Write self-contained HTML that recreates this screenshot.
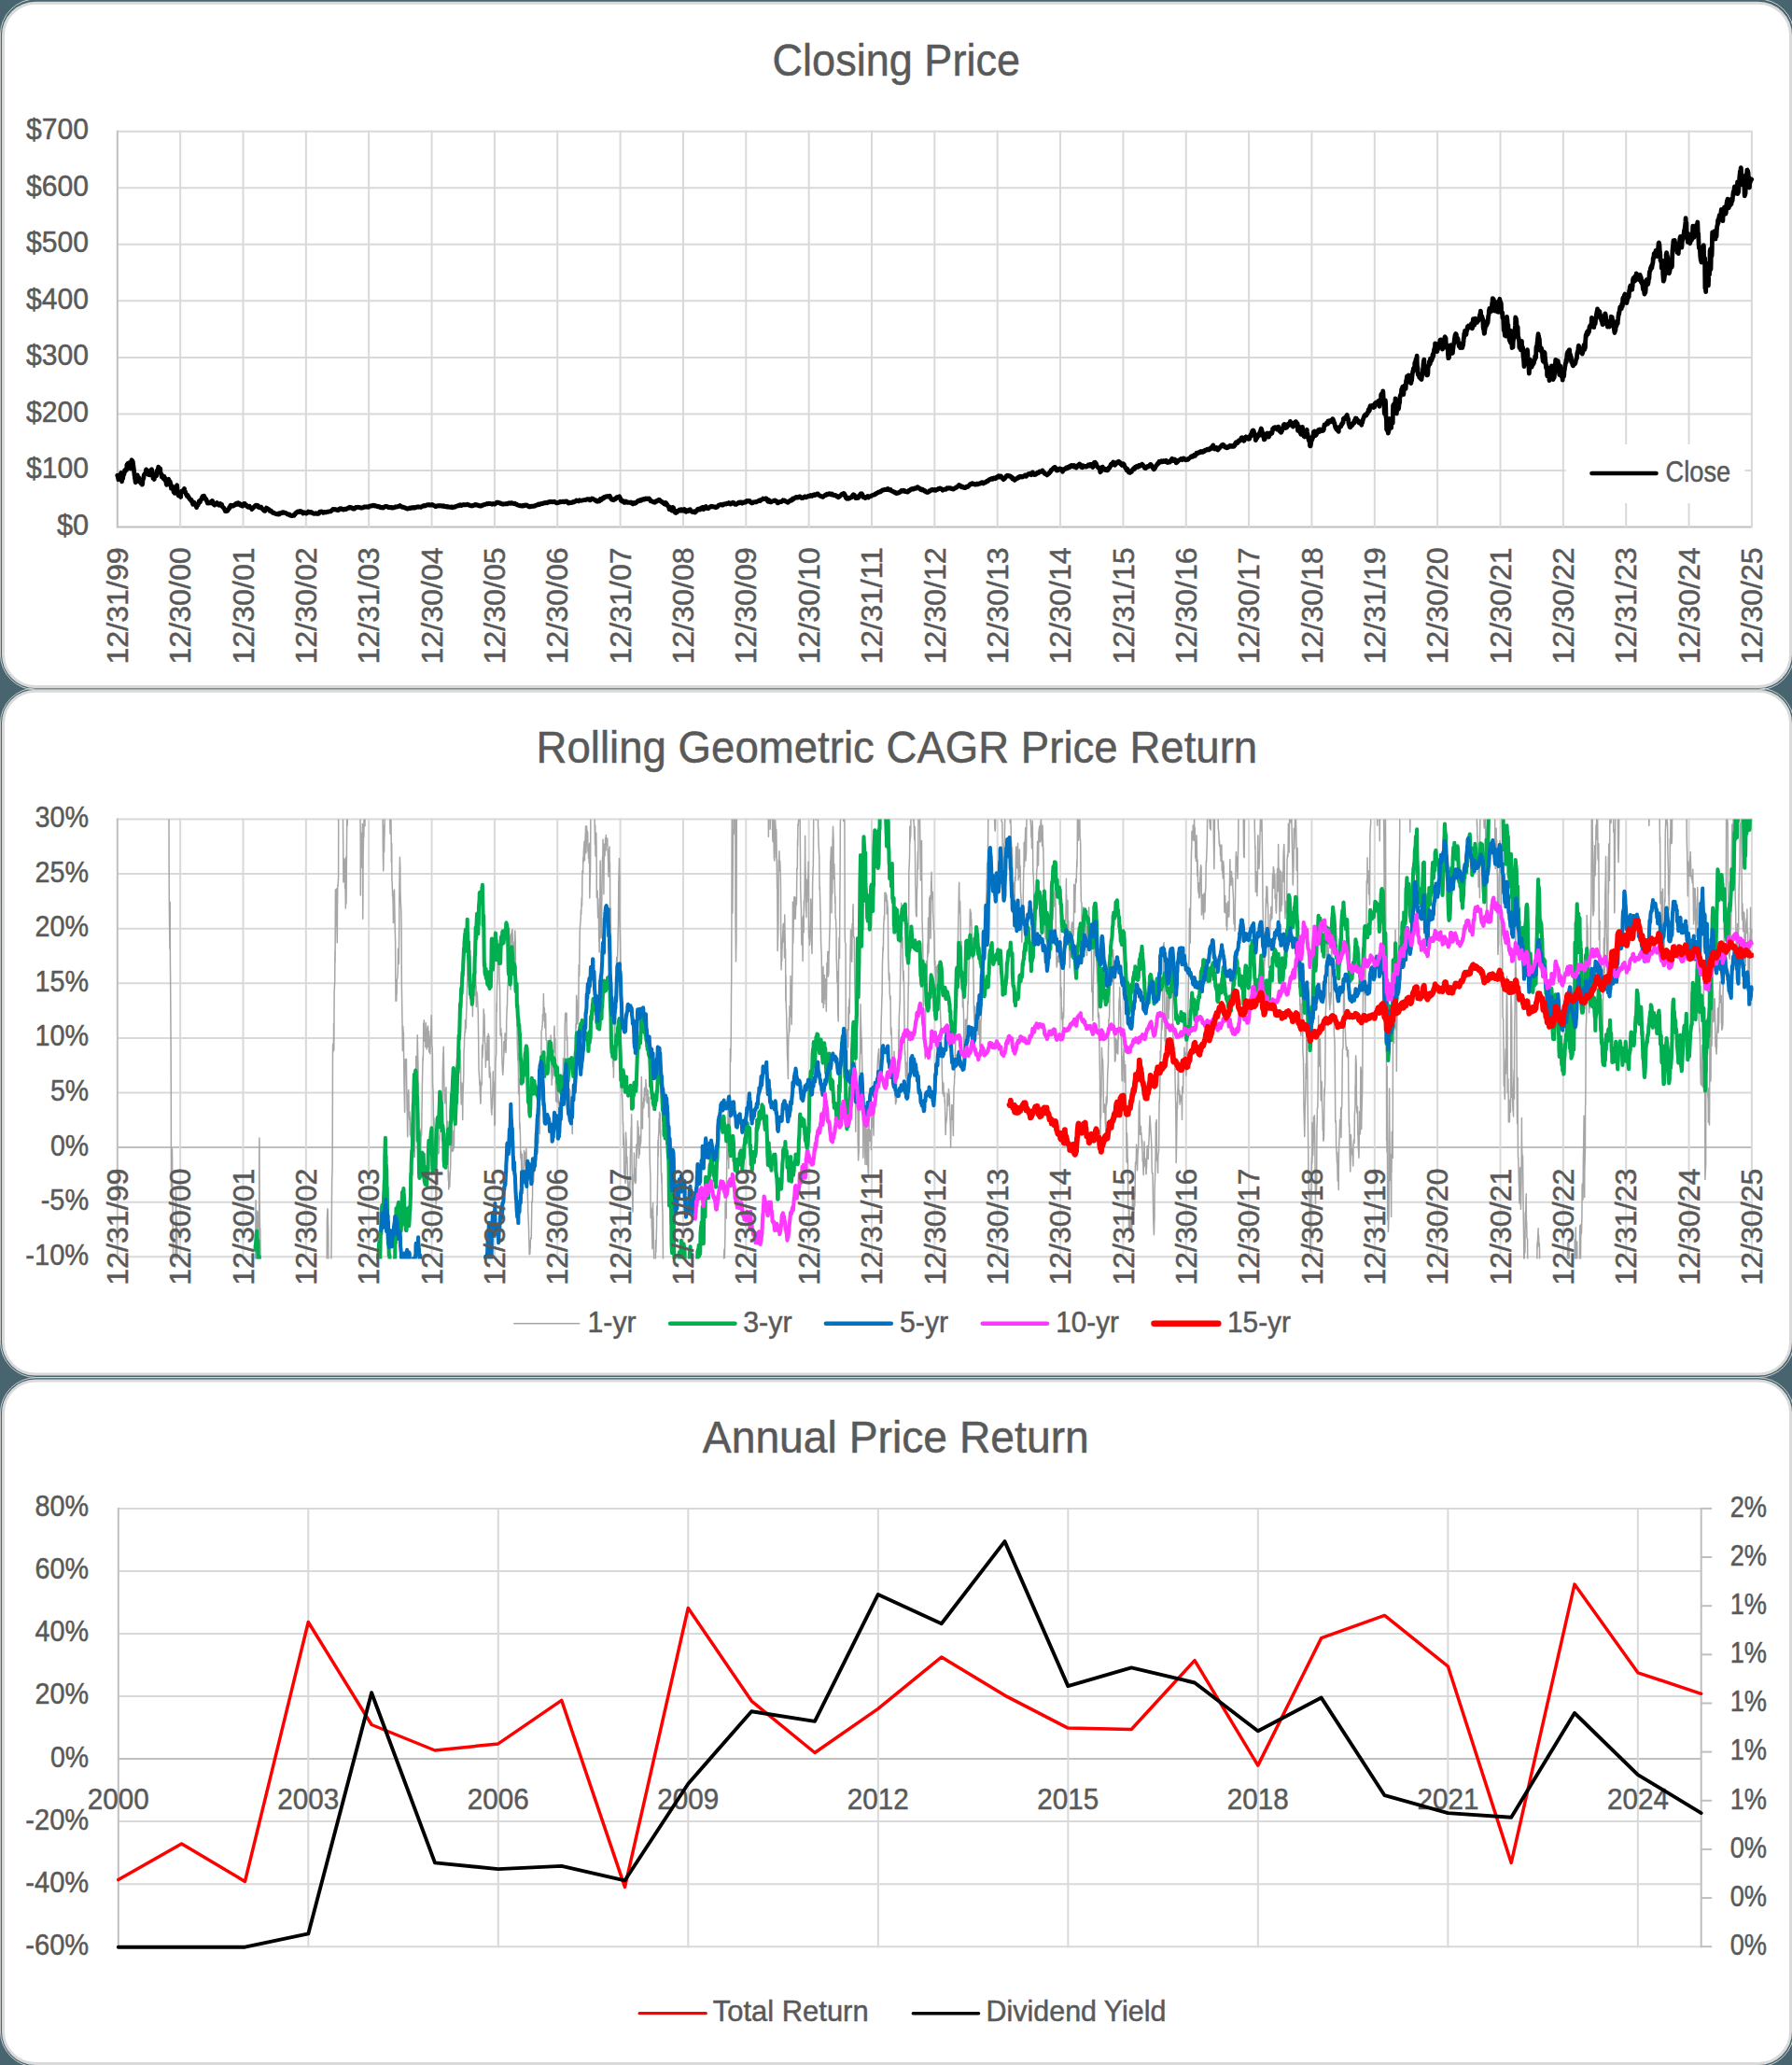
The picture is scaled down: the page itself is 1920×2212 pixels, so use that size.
<!DOCTYPE html>
<html><head><meta charset="utf-8"><title>Charts</title>
<style>html,body{margin:0;padding:0;background:#48656F;}body{width:1920px;height:2212px;overflow:hidden}</style></head>
<body>
<svg width="1920" height="2212" viewBox="0 0 1920 2212" style="display:block;font-family:'Liberation Sans', sans-serif">
<rect width="1920" height="2212" fill="#48656F"/>
<rect x="0.45" y="-1.0" width="1921.6" height="739.9" rx="38" ry="38" fill="none" stroke="#D9D9D9" stroke-width="0.9"/>
<rect x="0.45" y="736.9" width="1921.6" height="738.6" rx="38" ry="38" fill="none" stroke="#D9D9D9" stroke-width="0.9"/>
<rect x="0.45" y="1475.7" width="1921.6" height="738.2" rx="38" ry="38" fill="none" stroke="#D9D9D9" stroke-width="0.9"/>
<rect x="3.5" y="3.3" width="1915.0" height="732.2" rx="34.5" ry="34.5" fill="#fff" stroke="#D9D9D9" stroke-width="3"/>
<rect x="3.5" y="740.3" width="1915.0" height="731.8" rx="34.5" ry="34.5" fill="#fff" stroke="#D9D9D9" stroke-width="3"/>
<rect x="3.5" y="1479.1" width="1915.0" height="731.4" rx="34.5" ry="34.5" fill="#fff" stroke="#D9D9D9" stroke-width="3"/>
<line x1="125.80" y1="140.70" x2="1876.90" y2="140.70" stroke="#D9D9D9" stroke-width="2"/>
<line x1="125.80" y1="201.26" x2="1876.90" y2="201.26" stroke="#D9D9D9" stroke-width="2"/>
<line x1="125.80" y1="261.81" x2="1876.90" y2="261.81" stroke="#D9D9D9" stroke-width="2"/>
<line x1="125.80" y1="322.37" x2="1876.90" y2="322.37" stroke="#D9D9D9" stroke-width="2"/>
<line x1="125.80" y1="382.93" x2="1876.90" y2="382.93" stroke="#D9D9D9" stroke-width="2"/>
<line x1="125.80" y1="443.49" x2="1876.90" y2="443.49" stroke="#D9D9D9" stroke-width="2"/>
<line x1="125.80" y1="504.04" x2="1876.90" y2="504.04" stroke="#D9D9D9" stroke-width="2"/>
<line x1="125.80" y1="564.60" x2="1876.90" y2="564.60" stroke="#BFBFBF" stroke-width="2"/>
<line x1="125.80" y1="139.70" x2="125.80" y2="565.60" stroke="#BFBFBF" stroke-width="2"/>
<line x1="193.15" y1="139.70" x2="193.15" y2="565.60" stroke="#D9D9D9" stroke-width="2"/>
<line x1="260.50" y1="139.70" x2="260.50" y2="565.60" stroke="#D9D9D9" stroke-width="2"/>
<line x1="327.85" y1="139.70" x2="327.85" y2="565.60" stroke="#D9D9D9" stroke-width="2"/>
<line x1="395.20" y1="139.70" x2="395.20" y2="565.60" stroke="#D9D9D9" stroke-width="2"/>
<line x1="462.55" y1="139.70" x2="462.55" y2="565.60" stroke="#D9D9D9" stroke-width="2"/>
<line x1="529.90" y1="139.70" x2="529.90" y2="565.60" stroke="#D9D9D9" stroke-width="2"/>
<line x1="597.25" y1="139.70" x2="597.25" y2="565.60" stroke="#D9D9D9" stroke-width="2"/>
<line x1="664.60" y1="139.70" x2="664.60" y2="565.60" stroke="#D9D9D9" stroke-width="2"/>
<line x1="731.95" y1="139.70" x2="731.95" y2="565.60" stroke="#D9D9D9" stroke-width="2"/>
<line x1="799.30" y1="139.70" x2="799.30" y2="565.60" stroke="#D9D9D9" stroke-width="2"/>
<line x1="866.65" y1="139.70" x2="866.65" y2="565.60" stroke="#D9D9D9" stroke-width="2"/>
<line x1="934.00" y1="139.70" x2="934.00" y2="565.60" stroke="#D9D9D9" stroke-width="2"/>
<line x1="1001.35" y1="139.70" x2="1001.35" y2="565.60" stroke="#D9D9D9" stroke-width="2"/>
<line x1="1068.70" y1="139.70" x2="1068.70" y2="565.60" stroke="#D9D9D9" stroke-width="2"/>
<line x1="1136.05" y1="139.70" x2="1136.05" y2="565.60" stroke="#D9D9D9" stroke-width="2"/>
<line x1="1203.40" y1="139.70" x2="1203.40" y2="565.60" stroke="#D9D9D9" stroke-width="2"/>
<line x1="1270.75" y1="139.70" x2="1270.75" y2="565.60" stroke="#D9D9D9" stroke-width="2"/>
<line x1="1338.10" y1="139.70" x2="1338.10" y2="565.60" stroke="#D9D9D9" stroke-width="2"/>
<line x1="1405.45" y1="139.70" x2="1405.45" y2="565.60" stroke="#D9D9D9" stroke-width="2"/>
<line x1="1472.80" y1="139.70" x2="1472.80" y2="565.60" stroke="#D9D9D9" stroke-width="2"/>
<line x1="1540.15" y1="139.70" x2="1540.15" y2="565.60" stroke="#D9D9D9" stroke-width="2"/>
<line x1="1607.50" y1="139.70" x2="1607.50" y2="565.60" stroke="#D9D9D9" stroke-width="2"/>
<line x1="1674.85" y1="139.70" x2="1674.85" y2="565.60" stroke="#D9D9D9" stroke-width="2"/>
<line x1="1742.20" y1="139.70" x2="1742.20" y2="565.60" stroke="#D9D9D9" stroke-width="2"/>
<line x1="1809.55" y1="139.70" x2="1809.55" y2="565.60" stroke="#D9D9D9" stroke-width="2"/>
<line x1="1876.90" y1="139.70" x2="1876.90" y2="565.60" stroke="#D9D9D9" stroke-width="2"/>
<text x="95.1" y="149.1" font-size="32" text-anchor="end" fill="#595959" stroke="#595959" stroke-width="0.5" textLength="67.0" lengthAdjust="spacingAndGlyphs">$700</text>
<text x="95.1" y="209.7" font-size="32" text-anchor="end" fill="#595959" stroke="#595959" stroke-width="0.5" textLength="67.0" lengthAdjust="spacingAndGlyphs">$600</text>
<text x="95.1" y="270.2" font-size="32" text-anchor="end" fill="#595959" stroke="#595959" stroke-width="0.5" textLength="67.0" lengthAdjust="spacingAndGlyphs">$500</text>
<text x="95.1" y="330.8" font-size="32" text-anchor="end" fill="#595959" stroke="#595959" stroke-width="0.5" textLength="67.0" lengthAdjust="spacingAndGlyphs">$400</text>
<text x="95.1" y="391.3" font-size="32" text-anchor="end" fill="#595959" stroke="#595959" stroke-width="0.5" textLength="67.0" lengthAdjust="spacingAndGlyphs">$300</text>
<text x="95.1" y="451.9" font-size="32" text-anchor="end" fill="#595959" stroke="#595959" stroke-width="0.5" textLength="67.0" lengthAdjust="spacingAndGlyphs">$200</text>
<text x="95.1" y="512.4" font-size="32" text-anchor="end" fill="#595959" stroke="#595959" stroke-width="0.5" textLength="67.0" lengthAdjust="spacingAndGlyphs">$100</text>
<text x="95.1" y="573.0" font-size="32" text-anchor="end" fill="#595959" stroke="#595959" stroke-width="0.5" textLength="34.2" lengthAdjust="spacingAndGlyphs">$0</text>
<text x="137.0" y="711.6" font-size="32" text-anchor="start" fill="#595959" stroke="#595959" stroke-width="0.5" textLength="125.3" lengthAdjust="spacingAndGlyphs" transform="rotate(-90 137.0 711.6)">12/31/99</text>
<text x="204.3" y="711.6" font-size="32" text-anchor="start" fill="#595959" stroke="#595959" stroke-width="0.5" textLength="125.3" lengthAdjust="spacingAndGlyphs" transform="rotate(-90 204.3 711.6)">12/30/00</text>
<text x="271.7" y="711.6" font-size="32" text-anchor="start" fill="#595959" stroke="#595959" stroke-width="0.5" textLength="125.3" lengthAdjust="spacingAndGlyphs" transform="rotate(-90 271.7 711.6)">12/30/01</text>
<text x="339.1" y="711.6" font-size="32" text-anchor="start" fill="#595959" stroke="#595959" stroke-width="0.5" textLength="125.3" lengthAdjust="spacingAndGlyphs" transform="rotate(-90 339.1 711.6)">12/30/02</text>
<text x="406.4" y="711.6" font-size="32" text-anchor="start" fill="#595959" stroke="#595959" stroke-width="0.5" textLength="125.3" lengthAdjust="spacingAndGlyphs" transform="rotate(-90 406.4 711.6)">12/31/03</text>
<text x="473.8" y="711.6" font-size="32" text-anchor="start" fill="#595959" stroke="#595959" stroke-width="0.5" textLength="125.3" lengthAdjust="spacingAndGlyphs" transform="rotate(-90 473.8 711.6)">12/30/04</text>
<text x="541.1" y="711.6" font-size="32" text-anchor="start" fill="#595959" stroke="#595959" stroke-width="0.5" textLength="125.3" lengthAdjust="spacingAndGlyphs" transform="rotate(-90 541.1 711.6)">12/30/05</text>
<text x="608.5" y="711.6" font-size="32" text-anchor="start" fill="#595959" stroke="#595959" stroke-width="0.5" textLength="125.3" lengthAdjust="spacingAndGlyphs" transform="rotate(-90 608.5 711.6)">12/30/06</text>
<text x="675.8" y="711.6" font-size="32" text-anchor="start" fill="#595959" stroke="#595959" stroke-width="0.5" textLength="125.3" lengthAdjust="spacingAndGlyphs" transform="rotate(-90 675.8 711.6)">12/31/07</text>
<text x="743.2" y="711.6" font-size="32" text-anchor="start" fill="#595959" stroke="#595959" stroke-width="0.5" textLength="125.3" lengthAdjust="spacingAndGlyphs" transform="rotate(-90 743.2 711.6)">12/30/08</text>
<text x="810.5" y="711.6" font-size="32" text-anchor="start" fill="#595959" stroke="#595959" stroke-width="0.5" textLength="125.3" lengthAdjust="spacingAndGlyphs" transform="rotate(-90 810.5 711.6)">12/30/09</text>
<text x="877.9" y="711.6" font-size="32" text-anchor="start" fill="#595959" stroke="#595959" stroke-width="0.5" textLength="125.3" lengthAdjust="spacingAndGlyphs" transform="rotate(-90 877.9 711.6)">12/30/10</text>
<text x="945.2" y="711.6" font-size="32" text-anchor="start" fill="#595959" stroke="#595959" stroke-width="0.5" textLength="125.3" lengthAdjust="spacingAndGlyphs" transform="rotate(-90 945.2 711.6)">12/31/11</text>
<text x="1012.6" y="711.6" font-size="32" text-anchor="start" fill="#595959" stroke="#595959" stroke-width="0.5" textLength="125.3" lengthAdjust="spacingAndGlyphs" transform="rotate(-90 1012.6 711.6)">12/30/12</text>
<text x="1079.9" y="711.6" font-size="32" text-anchor="start" fill="#595959" stroke="#595959" stroke-width="0.5" textLength="125.3" lengthAdjust="spacingAndGlyphs" transform="rotate(-90 1079.9 711.6)">12/30/13</text>
<text x="1147.3" y="711.6" font-size="32" text-anchor="start" fill="#595959" stroke="#595959" stroke-width="0.5" textLength="125.3" lengthAdjust="spacingAndGlyphs" transform="rotate(-90 1147.3 711.6)">12/30/14</text>
<text x="1214.6" y="711.6" font-size="32" text-anchor="start" fill="#595959" stroke="#595959" stroke-width="0.5" textLength="125.3" lengthAdjust="spacingAndGlyphs" transform="rotate(-90 1214.6 711.6)">12/31/15</text>
<text x="1282.0" y="711.6" font-size="32" text-anchor="start" fill="#595959" stroke="#595959" stroke-width="0.5" textLength="125.3" lengthAdjust="spacingAndGlyphs" transform="rotate(-90 1282.0 711.6)">12/30/16</text>
<text x="1349.3" y="711.6" font-size="32" text-anchor="start" fill="#595959" stroke="#595959" stroke-width="0.5" textLength="125.3" lengthAdjust="spacingAndGlyphs" transform="rotate(-90 1349.3 711.6)">12/30/17</text>
<text x="1416.7" y="711.6" font-size="32" text-anchor="start" fill="#595959" stroke="#595959" stroke-width="0.5" textLength="125.3" lengthAdjust="spacingAndGlyphs" transform="rotate(-90 1416.7 711.6)">12/30/18</text>
<text x="1484.0" y="711.6" font-size="32" text-anchor="start" fill="#595959" stroke="#595959" stroke-width="0.5" textLength="125.3" lengthAdjust="spacingAndGlyphs" transform="rotate(-90 1484.0 711.6)">12/31/19</text>
<text x="1551.4" y="711.6" font-size="32" text-anchor="start" fill="#595959" stroke="#595959" stroke-width="0.5" textLength="125.3" lengthAdjust="spacingAndGlyphs" transform="rotate(-90 1551.4 711.6)">12/30/20</text>
<text x="1618.7" y="711.6" font-size="32" text-anchor="start" fill="#595959" stroke="#595959" stroke-width="0.5" textLength="125.3" lengthAdjust="spacingAndGlyphs" transform="rotate(-90 1618.7 711.6)">12/30/21</text>
<text x="1686.1" y="711.6" font-size="32" text-anchor="start" fill="#595959" stroke="#595959" stroke-width="0.5" textLength="125.3" lengthAdjust="spacingAndGlyphs" transform="rotate(-90 1686.1 711.6)">12/30/22</text>
<text x="1753.4" y="711.6" font-size="32" text-anchor="start" fill="#595959" stroke="#595959" stroke-width="0.5" textLength="125.3" lengthAdjust="spacingAndGlyphs" transform="rotate(-90 1753.4 711.6)">12/31/23</text>
<text x="1820.8" y="711.6" font-size="32" text-anchor="start" fill="#595959" stroke="#595959" stroke-width="0.5" textLength="125.3" lengthAdjust="spacingAndGlyphs" transform="rotate(-90 1820.8 711.6)">12/30/24</text>
<text x="1888.1" y="711.6" font-size="32" text-anchor="start" fill="#595959" stroke="#595959" stroke-width="0.5" textLength="125.3" lengthAdjust="spacingAndGlyphs" transform="rotate(-90 1888.1 711.6)">12/30/25</text>
<text x="960.3" y="80.7" font-size="48" text-anchor="middle" fill="#595959" stroke="#595959" stroke-width="0.5" textLength="265.5" lengthAdjust="spacingAndGlyphs">Closing Price</text>
<path d="M125.8 509.3l.6 1.6 .1 1 .2 .7 .2 1.1 .2-1.1 .5-.9 .2-.5 .2 1.2 .2-.3 .2-1.8 .5-.6 .2-.8 .2-.4 .2-1.8 .2-.2 .5 1.4 .2 3.7 .2 4.2 .2-2.4 .2-2.1 .5 .2 .2 1 .2-2.2 .2-.9 .2-.6 .5-.6 .2-.6 .2-1.7 .2-1.2 .1-.7 .6 1 .2-1.3 .2 .2 .2-.8 .1-.3 .6-.5 .2 1.4 .2-3.2 .1-2.6 .2 .6 .6-1.4 .2-.7 .1 3.8 .2-1.1 .2-.5 .6-.8 .2 1 .1-1.6 .2-1.6 .2 1.3 .6 1.3 .1 .7 .2 2.7 .2 .4 .2-2.3 .6-2.4 .1-2.2 .2-1.7 .2-.7 .2 .6 .5 .4 .2 1.5 .2-.9 .2 .9 .2 2 .5 3.2 .2 1.8 .2 1.7 .2 1.7 .2 2.4 .5 3.2 .2 1.7 .2 .5 .2 1.9 .2 1.5 .5-1.2 .2 .7 .2-1.1 .2-.3 .2-2.5 .5-1.4 .2-2.1 .2 .8 .2 1.5 .1 .2 .6 .6 .2 1.6 .2-.1 .1-1.9 .2 1.1 .6 1 .2 1.6 .2 .2 .1 1.1 .2-.6 .6 1.5 .2-.9 .1-1.2 .2 .5 .2 .1 .6 .8 .2 2.4 .1-.5 .2-.7 .2-3 .6-2.3 .1 0 .2-.3 .2-1.5 .2-2 .5-.4 .2-.8 .2 .2 .2-.2 .2-.5 .5-.1 .2-.9 .2-2.7 .2-.6 .2 .1 .5 2.5 .2-.4 .2 .2 .2-.2 .2-1 .5 .9 .2 2.9 .2 .7 .2 0 .2-.6 .5-.6 .2 .4 .2 1 .2-.7 .2-.5 .5 .7 .2-1 .2 .6 .2-2.4 .1-2.2 .6-.5 .2 .7 .2 1 .1 1.6 .2 1.4 .6 2.5 .2 2.3 .2-.5 .1-.1 .2-.1 .6 .7 .2 1.2 .1-2 .2-1.4 .2-1 .6-1.1 .2 1.4 .1 .7 .2-1.5 .2-1 .6 2.1 .1-2.4 .2-1.2 .2-2 .2 .5 .5 .2 .2 1.3 .2-4 .2 .3 .2-2.3 .5 1.1 .2-.2 .2 2.3 .2-.3 .2-.8 .5 0 .2-.2 .2 2.5 .2 1.4 .2 1.2 .5 .6 .2 1.2 .2 1.5 .2 .7 .2-.1 .5-.9 .2-.5 .2 1.6 .2-.1 .1 .8 .6 1 .2-1.3 .2 .6 .2-1.7 .1 .4 .6 1.1 .2 1.9 .2 .1 .1 1.1 .2 .2 .6 1 .2 2.1 .2 .4 .1 .4 .2-.4 .6-.5 .2 .8 .1-2 .2-1.2 .2-2.2 .6-.4 .1 1.6 .2 1.3 .2 .7 .2 1.1 .6-.6 .1-.7 .2-1.2 .2 1.3 .2 .6 .5 1.8 .2 1.8 .2 2.2 .2-1.5 .2 .1 .5 .1 .2 .3 .2 .3 .2-1.4 .2 1.7 .5 1.9 .2 1.1 .2 1.3 .2-.7 .2-.5 .5 1.1 .2 1.3 .2-.8 .2-.7 .2-1.8 .5-1.1 .2-2 .2-.4 .2 1 .1-1 .6-1.7 .2 2 .2 2.6 .2 3.1 .1 1.5 .6 1.1 .2 .3 .2 .6 .1-.2 .2-.2 .6-1.3 .2-1.6 .2 .2 .1 1.1 .2 .2 .6 2 .2 1.3 .1-5.1 .2-.6 .2-.3 .6-.5 .1 0 .2 .4 .2 .5 .2-.3 .6 0 .1-.7 .2-.4 .2 .8 .2-.6 .5-.7 .2-1.6 .2 1.5 .2 1.1 .2 .2 .5 .5 .2 .7 .2 .6 .2 1.1 .2 .4 .5 .6 .2 .1 .2 1.2 .2-.9 .2-.4 .5 .6 .2 .2 .2 1.7 .2 0 .2 .2 .5 .1 .2 .2 .2 .9 .2 .6 .1-.1 .6 .2 .2 .5 .2 .6 .2 0 .1-.6 .6 .3 .2 1.5 .2-.3 .1 .7 .2 .6 .6 .6 .2 1.2 .1 .4 .2-.8 .2 .3 .6 0 .2-.9 .1-.7 .2 .5 .2 .5 .6 1.1 .1 .5 .2-.1 .2 0 .2 .3 .6 1.1 .1 .9 .2 .7 .2-.8 .2-.9 .5-.4 .2-.7 .2 0 .2 .3 .2-1.1 .5-.7 .2-.9 .2-.3 .2-1.4 .2 .1 .5 1.3 .2-.3 .2-1.1 .2-.7 .2 .1 .5-.4 .2-1 .2-.4 .2-.2 .2-.6 .5-1.1 .2-.6 .2 .1 .2 .1 .1-.2 .6 .7 .2 .3 .2-.5 .2-1.2 .1 1.8 .6 1.1 .2-.2 .2 0 .1-.6 .2 1.2 .6 .6 .2 .4 .1-.1 .2-.3 .2 1.4 .6 .9 .2 0 .1 .6 .2 1.1 .2-.6 .6-.1 .1-.1 .2 .5 .2 .2 .2-.5 .6 .1 .1 .3 .2-.3 .2 .2 .2-.7 .5-.4 .2 .4 .2-.3 .2-.3 .2-.5 .5 .6 .2 0 .2-.6 .2-.3 .2 .8 .5 1.4 .2 1.3 .2 .1 .2 0 .2-.3 .5 .2 .2 .6 .2 .4 .2-.6 .2 0 .5-.2 .2-.3 .2-.5 .2 0 .1-.4 .6 .3 .2-.4 .2-.4 .1 .2 .2 .5 .6 .3 .2 .2 .2-.2 .1 .9 .2 .5 .6 .2 .2-1.1 .1-.2 .2 .3 .2-.1 .6-.6 .2 .5 .1 .5 .2-.2 .2 .1 .6 .1 .1 .6 .2-.5 .2 .7 .2 1.2 .5 .7 .2 .2 .2 .3 .2 0 .2 0 .5 .3 .2 .4 .2 .6 .2 .5 .2 .6 .5 .4 .2 1 .2-.2 .2 .1 .2 .1 .5-.2 .2 .2 .2 0 .2 0 .2-.3 .5-.4 .2 .2 .2-.6 .2 0 .1-.6 .6-.4 .2-.3 .2-.9 .2-.8 .1 .2 .6 .2 .2-.9 .2-.9 .1-.5 .2-.2 .6 .4 .2-.5 .2 .1 .1 .1 .2 .2 .6 0 .2 .1 .1 0 .2 .4 .2 0 .6-.7 .2 .2 .1-.2 .2-.5 .2 .4 .6-.1 .1-.5 .2-.2 .2-.1 .2-.8 .5 .3 .2-.1 .2 .2 .2-.8 .2 .9 .5 .1 .2 .1 .2-.5 .2-.5 .2-.7 .5 .7 .2-.4 .2 0 .2 0 .2 .4 .5 1 .2 .2 .2 .6 .2 .1 .2-.3 .5-.1 .2-.8 .2 .2 .2 .8 .1 .3 .6 .4 .2 .4 .2-.3 .2 .2 .1-.1 .6-.9 .2-.4 .2-.5 .1-.4 .2-.2 .6 0 .2 0 .2 0 .1 .9 .2 .2 .6 .2 .2 .1 .1 .7 .2-.7 .2 .1 .6 .7 .1 .8 .2 .1 .2 .1 .2 .3 .6-.1 .1 .3 .2-.2 .2 .3 .2 .1 .5-.4 .2-.9 .2 .9 .2 .3 .2-.1 .5 .5 .2 .2 .2 .1 .2 .4 .2 .4 .5 .1 .2 .7 .2-.5 .2-.8 .2-.2 .5 .5 .2-.2 .2-.6 .2-.5 .2-.2 .5 .1 .2-.5 .2 0 .2 .1 .1-.5 .6-.7 .2-.1 .2 .1 .2-.3 .1 .5 .6 .2 .2-.9 .2 0 .1 .5 .2 .2 .6 .1 .2-.3 .2 .5 .1 .9 .2 .2 .6 .1 .2 0 .1-.2 .2 .4 .2 .4 .6 0 .1-.7 .2 .1 .2 .2 .2 .3 .6-.4 .1 .7 .2 .4 .2 .1 .2 0 .5 .4 .2 .2 .2 .3 .2 .2 .2 .3 .5 .6 .2 .1 .2-.1 .2 .4 .2 .3 .5-.1 .2 .1 .2-.1 .2-.6 .2-1.1 .5-.9 .2-.1 .2-.4 .2 .3 .2 .2 .5 .4 .2 0 .2 .2 .2-.3 .1 .2 .6 .5 .2 .2 .2-.1 .2 .3 .1 0 .6 .5 .2 .9 .2-.2 .1-.1 .2 .2 .6 .1 .2-.1 .1 .4 .2 .4 .2 .1 .6 .4 .2-.1 .1 .3 .2 .4 .2-.3 .6 .2 .1 .5 .2 .1 .2-.2 .2-.2 .6 .3 .1 .2 .2 .1 .2 .1 .2 0 .5 .3 .2 .1 .2 .1 .2 0 .2 .2 .5 .1 .2-.2 .2 0 .2-.2 .2-.2 .5 0 .2 .2 .2 .6 .2-.1 .2-.5 .5-.5 .2 .5 .2 .2 .2-.3 .2-.3 .5-.3 .2 0 .2-.2 .2-.2 .1 0 .6-.3 .2 .6 .2-.3 .1 .2 .2-.4 .6-.1 .2 .2 .2-.3 .1-.2 .2 .4 .6 .3 .2-.1 .1-.2 .2 .2 .2-.1 .6 .2 .2 .2 .1 0 .2-.1 .2 .3 .6 .2 .1 .3 .2 .1 .2 .4 .2-.2 .6 .3 .1 0 .2 .3 .2 0 .2 .1 .5 .2 .2-.4 .2 .1 .2-.2 .2 .5 .5 .6 .2 0 .2 .1 .2 .1 .2 .1 .5 .1 .2 .1 .2 0 .2 0 .2-.1 .5-.2 .2-.3 .2 .2 .2 .1 .2 0 .5 .1 .2-.1 .2-.7 .2-.1 .1-.4 .6 .1 .2-.4 .2-.6 .1-.5 .2-.3 .6-.4 .2-.1 .2 .3 .1-.3 .2 0 .6-.3 .2-.1 .1-.6 .2 .6 .2 0 .6-.4 .2 0 .1 .2 .2-.1 .2 .3 .6-.3 .1-.7 .2 0 .2 .3 .2 .3 .5-.3 .2 .4 .2 .2 .2-.2 .2-.2 .5 .3 .2 .4 .2 .5 .2 .2 .2 .6 .5-.3 .2 .1 .2-.2 .2-.5 .2-.2 .5 .4 .2-.1 .2-.2 .2 .4 .2 .3 .5 .1 .2 0 .2 .1 .2 .1 .1-.2 .6-.2 .2-.3 .2-.2 .2-.2 .1-.4 .6 0 .2-.4 .2 .1 .1 .1 .2 .2 .6 .2 .2 0 .2 0 .1 .2 .2-.2 .6-.3 .2 .4 .1 .1 .2-.2 .2 0 .6 .2 .1 .2 .2 .3 .2 .1 .2 .2 .6 0 .1 .3 .2 .1 .2 0 .2 .2 .5 0 .2-.2 .2 0 .2-.1 .2 0 .5 0 .2 0 .2 .1 .2-.1 .2 .2 .5-.2 .2 0 .2 .2 .2 0 .2 .1 .5-.1 .2 0 .2-.2 .2 .2 .2-.2 .5 0 .2-.3 .2-.5 .2-.6 .1-.4 .6 0 .2-.1 .2 .1 .2-.1 .1-.3 .6 0 .2 .1 .2 .2 .1 0 .2 .3 .6 .3 .2 .1 .2 .3 .1 .1 .2-.3 .6-.1 .2 0 .1 0 .2-.1 .2-.3 .6 .1 .1 .1 .2 .2 .2 .1 .2-.3 .6-.1 .1 .1 .2-.1 .2-.1 .2-.2 .5 0 .2 0 .2 .2 .2 0 .2-.4 .5 .2 .2-.1 .2-.2 .2 0 .2 0 .5-.2 .2-.1 .2-.1 .2 .2 .2-.2 .5 0 .2-.1 .2-.2 .2-.4 .2-.2 .5-.2 .2-.4 .2-.2 .2-.3 .1 .1 .6 .1 .2-.2 .2 .3 .2-.1 .1 .1 .6 0 .2-.1 .2 .1 .1-.1 .2-.1 .6 .2 .2 .1 .1 .3 .2 0 .2 .1 .6 .1 .2-.1 .1 .1 .2 0 .2 .1 .6 0 .1-.5 .2-.3 .2 .1 .2-.5 .6-.4 .1 .2 .2 .2 .2 0 .2-.1 .5-.2 .2-.1 .2-.1 .2-.1 .2 .1 .5 .5 .2 .1 .2 .1 .2 .2 .2-.1 .5 .3 .2 .2 .2-.1 .2-.2 .2-.3 .5-.2 .2-.1 .2 .4 .2 .1 .2-.1 .5 .1 .2-.2 .2-.4 .2 0 .1 .1 .6-.6 .2 0 .2 .2 .2-.2 .1-.2 .6 0 .2-.3 .2 0 .1 .1 .2-.3 .6-.2 .2 .1 .1 0 .2-.5 .2 .3 .6-.1 .2 .2 .1 .2 .2-.1 .2 0 .6-.1 .1 .1 .2 .4 .2 .2 .2 .1 .6 .2 .1 .3 .2-.2 .2-.5 .2 0 .5 .3 .2 .2 .2 .2 .2-.5 .2 .1 .5-.3 .2-.2 .2-.4 .2-.3 .2 .1 .5 0 .2 0 .2 0 .2 0 .2 0 .5-.3 .2 .2 .2-.1 .2 .1 .2-.1 .5 0 .2 0 .2 .3 .2-.1 .1 .1 .6 0 .2 0 .2 .4 .1 .1 .2 0 .6-.2 .2 0 .2 0 .1 .1 .2-.2 .6-.1 .2 0 .1 .2 .2-.2 .2-.4 .6-.1 .2-.1 .1-.1 .2 .2 .2-.2 .6 .2 .1 0 .2-.1 .2-.1 .2-.1 .5-.1 .2 .1 .2 .2 .2-.1 .2 .1 .5 .1 .2 0 .2 0 .2 .1 .2 .1 .5 0 .2-.5 .2-.4 .2 0 .2 .1 .5-.2 .2-.1 .2 0 .2-.4 .2 0 .5 .1 .2 .1 .2-.1 .2-.2 .2 .1 .5 0 .2-.2 .2-.2 .2 0 .1-.2 .6-.1 .2 .1 .2 0 .1 .2 .2 .3 .6 .1 .2-.1 .2-.2 .1 .4 .2-.3 .6 .3 .2-.1 .1-.1 .2 0 .2 .1 .6 .3 .2 0 .1 .2 .2 .4 .2-.3 .6 .2 .1 .1 .2-.1 .2-.1 .2-.1 .5 .1 .2 .3 .2 .1 .2 .4 .2 .2 .5 0 .2 .2 .2 0 .2 0 .2-.2 .5-.2 .2 .1 .2-.1 .2 .2 .2 .2 .5-.1 .2 .3 .2 0 .2-.2 .2-.4 .5-.1 .2-.3 .2 0 .2-.1 .1-.3 .6-.3 .2 0 .2 .1 .2 0 .1 .1 .6 0 .2 0 .2 .1 .1 0 .2 .2 .6 .1 .2 .3 .2 .1 .1 .2 .2 .1 .6 .1 .2 0 .1-.1 .2 .1 .2-.2 .6 0 .1-.2 .2 0 .2 .1 .2-.1 .6 .3 .1-.1 .2 .2 .2 .4 .2-.2 .5 .1 .2-.1 .2 0 .2-.1 .2 .1 .5 0 .2-.1 .2-.2 .2-.2 .2-.1 .5-.4 .2 .1 .2 0 .2 .2 .2 .1 .5-.3 .2 .1 .2-.2 .2-.1 .2 .1 .5-.1 .2 0 .2 0 .2-.2 .1-.2 .6 0 .2 0 .2-.1 .2-.1 .1-.2 .6-.5 .2 .1 .2 .2 .1 .2 .2 .3 .6 .2 .2 .2 .2 .1 .1 0 .2 .1 .6 .2 .2 .2 .1-.1 .2 0 .2-.1 .6 .1 .1 0 .2 .2 .2 .1 .2 .2 .6 .4 .1 0 .2-.1 .2 0 .2 0 .5 .2 .2 0 .2 .3 .2 .1 .2 .2 .5 .1 .2 0 .2 0 .2 .1 .2-.1 .5-.2 .2 0 .2 0 .2-.1 .2-.1 .5 .2 .2-.1 .2-.5 .2 .3 .2-.2 .5 0 .2 0 .2-.2 .2 .2 .1-.1 .6-.2 .2 0 .2 .1 .2-.1 .1 .1 .6-.3 .2 .1 .2-.1 .1 .1 .2-.1 .6 0 .2 .3 .1-.1 .2 0 .2 0 .6-.3 .2 .1 .1-.1 .2-.3 .2-.1 .6-.1 .1 .2 .2 0 .2-.2 .2-.1 .6 0 .1 .1 .2 0 .2 .1 .2-.3 .5 .1 .2 .2 .2 0 .2-.1 .2 0 .5 .1 .2-.1 .2 .2 .2 .1 .2-.3 .5 0 .2-.2 .2-.3 .2-.2 .2 0 .5-.4 .2-.1 .2 0 .2-.2 .2 0 .5 .1 .2-.1 .2-.1 .2 .3 .1-.1 .6-.1 .2 0 .2 .1 .2-.1 .1-.2 .6-.3 .2-.2 .2 .1 .1 0 .2-.2 .6 .1 .2 0 .1-.2 .2 0 .2 .1 .6-.1 .2-.2 .1 .3 .2 .1 .2 .1 .6 .1 .1 0 .2 0 .2-.1 .2 0 .6-.1 .1-.2 .2 .1 .2-.3 .2-.2 .5 .2 .2 .2 .2 .3 .2 0 .2 0 .5 .2 .2 .2 .2-.1 .2 .2 .2 .1 .5 .3 .2 .2 .2 .2 .2-.2 .2 .2 .5 .1 .2 0 .2-.2 .2-.1 .2-.3 .5 0 .2-.2 .2-.1 .2 0 .1 .2 .6 0 .2 0 .2-.1 .1 .3 .2-.2 .6-.1 .2-.1 .2 0 .1 0 .2 .2 .6 .2 .2-.1 .1 0 .2 0 .2 .1 .6 .1 .2 0 .1-.2 .2 .2 .2-.2 .6-.1 .1 .1 .2-.1 .2 .3 .2 .3 .5 .1 .2 .1 .2 0 .2 0 .2-.1 .5 .3 .2-.1 .2 .1 .2 .1 .2 0 .5 .1 .2 .1 .2-.3 .2-.4 .2 .1 .5 .1 .2 .2 .2 .2 .2-.1 .2 .3 .5-.1 .2 .1 .2 .1 .2 0 .1-.1 .6 0 .2-.1 .2 .1 .2-.1 .1-.1 .6 .2 .2-.1 .2 .3 .1 .3 .2-.1 .6-.1 .2 .1 .2-.2 .1-.2 .2-.1 .6 .2 .2-.1 .1-.2 .2 0 .2-.1 .6 .2 .2-.3 .1 0 .2-.3 .2 .2 .6-.3 .1-.1 .2-.2 .2 0 .2 0 .5-.5 .2 0 .2 0 .2 .1 .2-.2 .5-.3 .2 .1 .2 .3 .2-.2 .2-.2 .5-.1 .2-.2 .2 .2 .2 0 .2 .2 .5 .2 .2-.2 .2 .1 .2-.4 .2 0 .5 .1 .2-.2 .2-.3 .2 0 .1 .2 .6 0 .2-.2 .2 .1 .2 .1 .1-.2 .6 0 .2 .2 .2 0 .1 .1 .2-.1 .6 0 .2-.2 .2-.1 .1 .2 .2-.1 .6-.2 .2 0 .1-.2 .2 .2 .2 .1 .6 .1 .1 .5 .2-.2 .2 .1 .2 0 .6 .3 .1 .1 .2 .2 .2-.1 .2-.1 .5 .4 .2-.2 .2 .1 .2 .1 .2-.1 .5 0 .2 .2 .2-.3 .2 .1 .2-.2 .5 0 .2-.1 .2-.2 .2 0 .2-.2 .5 0 .2 0 .2-.4 .2-.1 .2 .1 .5 0 .2 .1 .2 0 .2 .3 .1-.2 .6-.1 .2 .2 .2 .2 .2 0 .1 .1 .6 .2 .2-.1 .2 .4 .1 .1 .2 0 .6 .1 .2-.1 .1 .2 .2 0 .2 0 .6 .1 .2 0 .1-.1 .2 0 .2-.1 .6-.2 .1-.2 .2-.3 .2 0 .2 .2 .6-.2 .1-.1 .2-.2 .2 0 .2-.2 .5-.2 .2-.1 .2 0 .2-.1 .2 0 .5 0 .2-.2 .2 .1 .2-.3 .2 0 .5-.1 .2 0 .2 0 .2-.3 .2 .1 .5 .2 .2 0 .2 0 .2-.4 .2 0 .5-.2 .2 .2 .2 .1 .2-.1 .1 0 .6 0 .2 0 .2 .2 .2 0 .1 .1 .6 .4 .2-.1 .2-.1 .1 .1 .2 .2 .6-.3 .2 0 .1-.1 .2-.2 .2 .2 .6-.1 .2 .1 .1 .1 .2 .1 .2 .1 .6-.2 .1-.2 .2-.1 .2-.3 .2-.1 .6-.1 .1-.4 .2-.3 .2 .2 .2-.3 .5-.1 .2 .1 .2 .1 .2-.2 .2 .1 .5 .2 .2 .1 .2 .1 .2-.1 .2 .2 .5-.2 .2 .3 .2 .1 .2 .3 .2-.2 .5 .2 .2 .2 .2-.1 .2 0 .2 .5 .5 .2 .2-.1 .2 0 .2 0 .1 .1 .6 0 .2 0 .2-.1 .1-.3 .2 .3 .6-.1 .2 0 .2-.1 .1 .1 .2-.1 .6 .1 .2-.2 .1-.1 .2 0 .2-.1 .6 0 .2 .2 .1-.2 .2-.1 .2 0 .6-.2 .1-.3 .2 .2 .2 .1 .2-.3 .6-.2 .1 .1 .2 .2 .2 0 .2 .1 .5 .2 .2-.1 .2-.2 .2-.3 .2 .2 .5 .1 .2 0 .2-.1 .2 .2 .2 .1 .5 .2 .2-.2 .2 0 .2 .3 .2 .1 .5-.1 .2 .1 .2-.2 .2-.1 .2 .3 .5 .1 .2 .4 .2 0 .2 .1 .1-.3 .6 .1 .2 .5 .2 .2 .1 0 .2 .3 .6 .1 .2 .1 .2 0 .1 .1 .2 .1 .6-.1 .2 0 .1 .1 .2 .3 .2-.1 .6 .2 .2 0 .1-.1 .2 .1 .2 0 .6 .2 .1-.2 .2-.1 .2 0 .2 .4 .5 0 .2-.1 .2-.1 .2-.3 .2 .1 .5-.1 .2 0 .2-.2 .2 .2 .2-.3 .5-.2 .2 .1 .2 .1 .2-.2 .2-.1 .5-.1 .2 .1 .2 .2 .2-.1 .2 .2 .5 .3 .2 .1 .2 .3 .2 .3 .1 .1 .6 .2 .2 .2 .2-.1 .2 .1 .1 .2 .6-.1 .2-.3 .2 0 .1-.3 .2 .2 .6 0 .2 .1 .2 0 .1-.2 .2-.2 .6 0 .2 0 .1 0 .2 0 .2 .1 .6-.1 .1 .1 .2-.1 .2-.2 .2 0 .6 .1 .1 0 .2-.4 .2 .1 .2-.4 .5-.1 .2-.1 .2 0 .2-.2 .2 .1 .5 0 .2-.3 .2-.1 .2-.3 .2 .1 .5-.1 .2 .1 .2-.4 .2 .2 .2 .3 .5-.1 .2-.1 .2-.4 .2 .1 .2-.1 .5-.1 .2-.3 .2 0 .2-.2 .1-.1 .6 .1 .2-.1 .2 0 .2 .1 .1-.2 .6 .2 .2-.3 .2-.1 .1 0 .2 .1 .6-.1 .2-.1 .2-.2 .1 0 .2-.2 .6 0 .2 0 .1 .2 .2-.1 .2-.1 .6-.2 .1-.1 .2 .5 .2-.1 .2 .1 .6-.3 .1-.5 .2 .1 .2 0 .2 0 .5-.1 .2-.1 .2-.3 .2 .2 .2-.3 .5 .2 .2-.1 .2-.2 .2 .1 .2 .2 .5 .1 .2 0 .2-.1 .2 .2 .2 0 .5-.1 .2 0 .2-.1 .2-.2 .2 .1 .5-.1 .2 0 .2-.2 .2 .5 .1-.1 .6 .2 .2 .1 .2 .2 .2 .4 .1 0 .6 .2 .2-.1 .2 .2 .1-.3 .2-.1 .6 0 .2 .1 .1 0 .2-.1 .2-.1 .6-.2 .2 .1 .1-.1 .2 0 .2-.3 .6-.5 .1-.1 .2 .1 .2 .3 .2 .2 .6-.2 .1 .1 .2-.1 .2 0 .2-.1 .5-.3 .2 .1 .2 0 .2 .1 .2-.2 .5 .2 .2 .1 .2 .2 .2 .1 .2-.2 .5-.5 .2 .1 .2-.2 .2 0 .2 .2 .5 0 .2 0 .2-.1 .2-.1 .2 .3 .5 .2 .2 .4 .2 .3 .2 .1 .1 .4 .6 .3 .2 .1 .2-.1 .2-.5 .1-.2 .6-.1 .2 .2 .2 0 .1 .1 .2 0 .6-.2 .2 .1 .1-.1 .2 .3 .2-.1 .6-.2 .2 0 .1 0 .2-.4 .2 .1 .6 .1 .1 0 .2-.3 .2-.5 .2-.1 .6 .1 .1 0 .2-.3 .2 .2 .2-.4 .5-.3 .2 0 .2-.1 .2-.1 .2-.3 .5 .2 .2 .1 .2 .2 .2 0 .2 0 .5 .1 .2 .2 .2 .1 .2-.4 .2-.4 .5-.1 .2-.2 .2 .1 .2 0 .2 0 .5 .2 .2 .1 .2 0 .2 0 .1 .1 .6-.1 .2-.1 .2-.2 .1 0 .2 0 .6-.1 .2 0 .2 .1 .1-.1 .2-.1 .6-.2 .2 .2 .1 0 .2 0 .2-.1 .6 0 .2 0 .1-.2 .2-.1 .2 .2 .6-.4 .1-.2 .2 .1 .2-.2 .2 .1 .5-.2 .2 0 .2 .1 .2 .1 .2 0 .5-.1 .2-.1 .2-.1 .2 .1 .2 1 .5-.2 .2 .3 .2-.3 .2-.5 .2-.3 .5 0 .2 0 .2-.3 .2-.3 .2 .3 .5-.1 .2 .1 .2-.1 .2 .3 .2 .2 .5 .2 .2 .1 .2-.1 .2 .2 .1 .4 .6 .4 .2-.4 .2 .3 .1 .3 .2-.3 .6 0 .2 .1 .2 .6 .1 .4 .2-.1 .6-.2 .2 .3 .1 .2 .2-.3 .2-.3 .6-.1 .2 .2 .1 .1 .2-.1 .2 .1 .6-.5 .1-.5 .2-1 .2-.3 .2 .1 .5 .2 .2 .9 .2-.1 .2-.2 .2-.5 .5-.4 .2-.3 .2-.2 .2-.3 .2-.5 .5 .2 .2 .1 .2 .3 .2-.7 .2-.5 .5-.3 .2 .4 .2-.2 .2 0 .2-.2 .5 0 .2-.1 .2-.2 .2-.2 .1 .1 .6 0 .2 .1 .2-.4 .2 .1 .1-.1 .6 .1 .2 .4 .2-.4 .1 .2 .2-.3 .6-.2 .2 .2 .2-.3 .1 .6 .2 1 .6 .2 .2 .5 .1 .3 .2 .6 .2 .3 .6 .4 .1-.1 .2-.1 .2 .2 .2 .3 .6-.1 .1-.1 .2 .1 .2 .2 .2-.3 .5-.1 .2-.3 .2-.3 .2 .5 .2-.4 .5-.1 .2-.7 .2-.2 .2-.1 .2-.4 .5-.5 .2 .1 .2 .5 .2 .1 .2-.3 .5-.6 .2-.1 .2 .1 .2-.2 .2-.1 .5-.3 .2-.1 .2 .3 .2 .2 .1 .7 .6 .6 .2 .4 .2 1 .2 .4 .1 .7 .6 .1 .2 .1 .2 .7 .1-.1 .2-.1 .6 .2 .2-.2 .2-.3 .1 .7 .2 .1 .6 .4 .2 .6 .1-.1 .2 .1 .2 0 .6 0 .1-.2 .2 .1 .2-.5 .2-.7 .6 .1 .1 .6 .2 .2 .2 .1 .2 0 .5 .2 .2-.2 .2 0 .2 .1 .2 .1 .5-.1 .2 .2 .2-.2 .2 0 .2 .1 .5 .1 .2 0 .2-.1 .2-.1 .2 .1 .5 0 .2 .2 .2-.1 .2 .2 .2 .8 .5 .2 .2 .1 .2 .1 .2 .2 .1-.6 .6 0 .2-.1 .2-.1 .2-.6 .1 .2 .6 .5 .2-.2 .2-.1 .1-.1 .2 .4 .6-.4 .2-.6 .1 .3 .2-.5 .2 0 .6-.8 .2-.2 .1 0 .2-.4 .2-.1 .6 .1 .1-.3 .2 .1 .2 .4 .2-.7 .6 0 .1 .1 .2-.3 .2 .4 .2 .1 .5 0 .2-.1 .2-.3 .2-.6 .2-.3 .5-.1 .2 .2 .2-.1 .2 .2 .2-.4 .5-.2 .2 0 .2 .4 .2-.2 .2 .2 .5-.3 .2 0 .2 .1 .2-.3 .2-.3 .5 .2 .2-.4 .2 .1 .2 .1 .1-.1 .6 .2 .2 .1 .2-.2 .1-.2 .2 .3 .6-.3 .2 .2 .2 .1 .1 0 .2 .2 .6-.5 .2 .3 .1 .7 .2-.1 .2 .4 .6 .3 .2 1.1 .1-.2 .2-.1 .2 0 .6 .2 .1 .4 .2 0 .2 .1 .2 .2 .6-.2 .1 0 .2 .5 .2-.1 .2 .1 .5 .2 .2-.1 .2 .1 .2 .4 .2-.7 .5 .3 .2-.3 .2-.3 .2-.3 .2 .2 .5 0 .2-.2 .2-.4 .2 .1 .2 .1 .5-.4 .2-.4 .2-.2 .2 .1 .2-.3 .5-.1 .2-.3 .2 .3 .2-.1 .1 .3 .6 .3 .2 .2 .2 .3 .1 .1 .2 .5 .6 .2 .2 0 .2 .1 .1-.1 .2 .6 .6 .5 .2 .1 .1 0 .2-.3 .2 .1 .6 .4 .2 .1 .1 .4 .2 .6 .2-.5 .6 .1 .1 .3 .2 .6 .2-1 .2-.9 .5 .9 .2 0 .2-.2 .2 .4 .2 .6 .5 .5 .2 1 .2-.2 .2 .3 .2 .5 .5 .4 .2 .2 .2 .5 .2 1.1 .2 1.1 .5-2.1 .2-.1 .2 .3 .2 .6 .2 0 .5 .1 .2 .3 .2 1.2 .2 .2 .1 .8 .6 .3 .2-.4 .2-.8 .2-1.7 .1-.7 .6 .3 .2 .3 .2 .7 .1 .8 .2 .8 .6 .5 .2 .4 .2 .6 .1 .7 .2 .6 .6 0 .2 .2 .1-.4 .2 .1 .2-.3 .6 .1 .2-1 .1-.6 .2-.1 .2 .3 .6-.4 .1 .5 .2 0 .2-.6 .2-.5 .5-.4 .2 .3 .2 0 .2 .2 .2 .3 .5-.3 .2 .4 .2-.8 .2 .3 .2-.8 .5 .6 .2-.2 .2 .5 .2 .5 .2-.1 .5-.3 .2 .2 .2-.3 .2-.3 .2-.4 .5-.3 .2-.1 .2 .1 .2 .3 .1 .6 .6 .8 .2 .5 .2-.2 .2 .2 .1 .5 .6-.4 .2-.4 .2 0 .1-.5 .2-.3 .6-.1 .2 .2 .2 .4 .1 .3 .2-.1 .6-.2 .2-.4 .1-.4 .2-.2 .2-.3 .6-.2 .1 .3 .2 .6 .2 .3 .2 .2 .6 .5 .1 .4 .2 0 .2 0 .2 .3 .5-.2 .2 .1 .2 .5 .2 0 .2-.6 .5 .4 .2-.3 .2-.3 .2-.2 .2 .9 .5 .4 .2-.2 .2-.1 .2-.5 .2-.2 .5-.2 .2-.7 .2 .1 .2 .1 .2-.6 .5-.5 .2-.7 .2 .4 .2-.2 .1-.4 .6 .2 .2-.2 .2 .1 .2 .5 .1 .2 .6-.7 .2 .1 .2 .2 .1-.5 .2-.6 .6-.4 .2 .3 .1 0 .2-.5 .2 .3 .6 .3 .2-.5 .1-.7 .2 .6 .2 1 .6 .4 .1 .2 .2-1 .2-.8 .2 .1 .6 0 .1 .4 .2-.2 .2 .2 .2-1.4 .5-.3 .2 .5 .2 .4 .2 .1 .2 .6 .5 .1 .2 .1 .2-.6 .2 0 .2 .2 .5 .4 .2 .2 .2-.3 .2-.2 .2-.5 .5 0 .2-.4 .2-.2 .2-.1 .2 .2 .5 .1 .2-.3 .2-.5 .2-.2 .1 .1 .6 .2 .2 .2 .2-.2 .2 .1 .1 .1 .6 .1 .2 0 .2 0 .1 .3 .2-.3 .6 .1 .2 .1 .1-.2 .2 0 .2 .2 .6 0 .2 .5 .1 .2 .2-.3 .2 .1 .6-.3 .1 0 .2 0 .2-.2 .2-.2 .6-.4 .1-.5 .2-.2 .2-.3 .2 0 .5-.3 .2-.2 .2 0 .2-.1 .2-.1 .5 0 .2 0 .2 .1 .2-.2 .2 .3 .5 .1 .2-.4 .2 .5 .2 0 .2-.3 .5 .3 .2-.7 .2 .5 .2-.4 .2-.4 .5-.2 .2 0 .2 0 .2 .2 .1 0 .6-.1 .2-.3 .2 .2 .1 0 .2-.1 .6 .2 .2-.4 .2-.2 .1 .2 .2-.1 .6 .1 .2 0 .1-.2 .2 0 .2-.4 .6-.1 .2-.3 .1 .1 .2 .2 .2 .3 .6 .4 .1 0 .2-.1 .2 0 .2 .5 .5-.2 .2-.2 .2-.1 .2-.5 .2-.3 .5 .1 .2 .1 .2-.5 .2-.2 .2 .1 .5 0 .2 .2 .2 .3 .2 .6 .2-.1 .5 .4 .2 .2 .2 .3 .2-.3 .2-.1 .5 .2 .2 0 .2 .3 .2-.3 .2-.2 .5-.1 .2-.6 .2-.1 .2-.2 .1 0 .6 0 .2-.2 .2-.3 .1 .4 .2-.3 .6-.1 .2-.2 .2-.1 .1 .3 .2 .3 .6-.5 .2-.1 .1 .3 .2-.1 .2 0 .6 .4 .2 .4 .1 .2 .2-.3 .2-.2 .6-.2 .1-.2 .2-.3 .2 .4 .2-.1 .5 0 .2 .1 .2-.1 .2-.2 .2-.1 .5 .1 .2-.1 .2-.8 .2-.3 .2-.1 .5-.2 .2-.1 .2 .3 .2-.3 .2 .2 .5 .2 .2 0 .2 0 .2-.3 .2-.2 .5 0 .2 0 .2 .1 .2 .4 .1 .6 .6-.1 .2 .5 .2 .2 .2 .1 .1 .3 .6 .2 .2-.2 .2 .4 .1-.1 .2-.1 .6-.1 .2-.2 .2-.4 .1 .2 .2-.1 .6 0 .2-.2 .1-.1 .2-.1 .2 0 .6-.1 .1 .1 .2 .1 .2-.1 .2-.1 .6 .2 .1-.5 .2-.1 .2 .2 .2-.3 .5 0 .2-.2 .2-.1 .2-.1 .2-.2 .5 .1 .2-.1 .2-.6 .2 .5 .2-.1 .5-.2 .2 .1 .2 .2 .2-.7 .2 0 .5-.5 .2 .1 .2 .1 .2-.1 .2-.4 .5-.2 .2 0 .2-.1 .2-.3 .1-.2 .6 .3 .2 .1 .2-.1 .2 .1 .1 0 .6 .1 .2 0 .2-.3 .1-.3 .2 0 .6 .4 .2-.4 .2 .2 .1 .4 .2 .5 .6 1.1 .2 .3 .1 .3 .2 .1 .2 .4 .6-.5 .1-.7 .2-.6 .2 .5 .2 .2 .6 .4 .1 .6 .2 .2 .2 .4 .2-.2 .5-.4 .2 0 .2 .2 .2 .2 .2-.4 .5-.2 .2-.1 .2 0 .2 0 .2-.1 .5 0 .2 0 .2-.6 .2 0 .2 .1 .5 .2 .2 0 .2-.3 .2-.2 .2 0 .5 .3 .2 .6 .2-.1 .2 .3 .1-.3 .6 .6 .2 .3 .2 .2 .2 .5 .1 .5 .6-.1 .2-.2 .2-.1 .1-.3 .2-.3 .6-.1 .2 0 .1 0 .2-.2 .2-.2 .6-.1 .2-.1 .1 0 .2 .3 .2 .1 .6-.3 .1-.2 .2-.5 .2 0 .2-.3 .6-.3 .1-.2 .2 .1 .2 .1 .2 .1 .5 .1 .2 0 .2 .2 .2-.3 .2 .3 .5 .2 .2 .2 .2 .4 .2 0 .2 .1 .5-.2 .2 .1 .2 .1 .2 .2 .2 .5 .5 .2 .2 .1 .2-.1 .2-.5 .2-.3 .5-.2 .2-.2 .2-.1 .2-.2 .1-.3 .6 .1 .2-.2 .2-.7 .2 .1 .1 0 .6 .1 .2 .2 .2-.4 .1-.2 .2-.2 .6-.5 .2-.7 .1 .6 .2 .3 .2-.2 .6-.2 .2-.1 .1-.5 .2-.2 .2-.1 .6-.3 .1-.2 .2-.1 .2-.1 .2-.4 .6-.1 .1 .1 .2 .2 .2 .1 .2 .2 .5-.1 .2-.2 .2 .4 .2-.2 .2-.3 .5-.2 .2 .1 .2-.4 .2 0 .2-.2 .5 .2 .2-.1 .2 0 .2 .2 .2 .5 .5 .4 .2 .1 .2 .2 .2 .1 .2-.3 .5 0 .2-.2 .2 .2 .2 .3 .1 0 .6-.4 .2-.4 .2 .1 .1-.4 .2 .1 .6-.4 .2-.1 .2 .1 .1-.2 .2 .2 .6 .3 .2 .3 .1-.2 .2-.1 .2-.1 .6 .1 .2-.5 .1 .1 .2 .1 .2-.4 .6-.4 .1-.1 .2 .5 .2 0 .2-.1 .5-.3 .2 .2 .2-.3 .2 .1 .2-.4 .5 0 .2-.3 .2 .1 .2 .4 .2 .2 .5 0 .2 .1 .2-.5 .2-.5 .2-.1 .5 .2 .2 0 .2 0 .2-.5 .2-.1 .5-.2 .2 .1 .2 .5 .2 0 .1 .2 .6-.3 .2-.2 .2 .1 .2-.1 .1-.6 .6 .2 .2-.2 .2-.3 .1 .2 .2 0 .6-.3 .2 .7 .2 .2 .1 .1 .2 .2 .6 .2 .2 .2 .1-.1 .2 .3 .2 .2 .6 .1 .2 .1 .1 .2 .2-.1 .2 .2 .6 .1 .1 .3 .2 .2 .2 0 .2 0 .5 0 .2 .2 .2-.3 .2-.3 .2 .3 .5-.6 .2-.1 .2-.1 .2-.4 .2-.1 .5 .1 .2-.7 .2 .3 .2 0 .2-.3 .5 .2 .2-.1 .2-.2 .2-.7 .2 .2 .5 0 .2-.2 .2-.1 .2 .3 .1-.2 .6-.1 .2-.3 .2-.3 .2 0 .1 .3 .6 .2 .2 .3 .2 0 .1 .1 .2 .1 .6 .3 .2-.4 .2-.5 .1 .3 .2 .1 .6 .2 .2-.2 .1 .1 .2 .2 .2 .2 .6 .1 .1 .5 .2-.1 .2 .3 .2 0 .6 0 .1-.1 .2 .1 .2-.1 .2 .4 .5 0 .2 .2 .2 .1 .2 .1 .2-.1 .5 .7 .2-.1 .2 .1 .2 .1 .2 .4 .5 .2 .2-.7 .2 .1 .2-.3 .2 0 .5 .2 .2-.2 .2-.4 .2-.2 .2-.4 .5-.1 .2-.2 .2-.1 .2-.2 .1-.7 .6-.2 .2-.1 .2 .1 .2 .1 .1-.6 .6 .3 .2 .1 .2-.2 .1-.1 .2-.4 .6 .5 .2 .1 .2 1.2 .1 .8 .2 .2 .6-.2 .2 1 .1 1.2 .2 0 .2 .1 .6 .7 .1-.2 .2-.2 .2-.4 .2 .2 .6 .3 .1 .2 .2-.5 .2 .1 .2 .7 .5-.6 .2-.3 .2 .4 .2-.2 .2-.2 .5-.2 .2 0 .2-.1 .2-.1 .2-.4 .5 .1 .2-.2 .2-.2 .2-.9 .2-.4 .5-.2 .2-.4 .2-.4 .2-.2 .2 .3 .5 0 .2 .1 .2 .6 .2 0 .1 .2 .6 .5 .2 1 .2 1.1 .2 0 .1-.2 .6 .2 .2-.5 .2-.1 .1-.4 .2-.4 .6 .2 .2 0 .1 .6 .2 0 .2 .3 .6-.7 .2-.5 .1-.9 .2-.5 .2 0 .6-.5 .1-.2 .2-.7 .2-.3 .2 .2 .6 .1 .1 .4 .2-.3 .2-.6 .2 .5 .5 .5 .2 1.3 .2 .1 .2 .3 .2 1 .5-.2 .2-.3 .2 .4 .2 .2 .2 .4 .5-.3 .2 .7 .2 .1 .2-.9 .2 0 .5 0 .2 .4 .2-.1 .2-.3 .2 .3 .5-.3 .2-.7 .2-.5 .2 .7 .1 .4 .6 .5 .2-.7 .2-.3 .1-.3 .2 .1 .6 .2 .2-.2 .2-.1 .1 .1 .2-.2 .6-.3 .2-.2 .1 .2 .2 0 .2-.5 .6-.1 .2 0 .1 0 .2-.3 .2-.1 .6-.1 .1 0 .2 0 .2-.2 .2 .1 .6 0 .1-.1 .2-.4 .2-.2 .2-.5 .5 0 .2-.1 .2 .2 .2-.1 .2-.4 .5-.2 .2-.3 .2-.2 .2-.1 .2 0 .5-.1 .2-.3 .2-.1 .2-.2 .2-.1 .5 .1 .2-.1 .2 .1 .2-.3 .2 .3 .5-.1 .2-.7 .2-.1 .2 .2 .1-.2 .6-.4 .2 0 .2-.1 .1 0 .2-.8 .6 0 .2 .1 .2 .1 .1-.2 .2-.1 .6-.2 .2-.1 .1 .3 .2-.2 .2 0 .6 0 .2 .2 .1 0 .2 0 .2-.1 .6 .1 .1-.2 .2-.2 .2-.2 .2-.4 .5-.4 .2 0 .2 .7 .2 .2 .2 .4 .5 .2 .2-.2 .2 .2 .2 .1 .2 .2 .5-.3 .2-.1 .2-.1 .2 .5 .2 .4 .5-.1 .2 .2 .2 .2 .2 .1 .2 .4 .5-.1 .2 .1 .2 .1 .2 .3 .1 0 .6 .3 .2-.1 .2-.1 .2 0 .1 .1 .6 .1 .2 .8 .2-.1 .1 .2 .2 .2 .6 .1 .2 .3 .2-.2 .1-.3 .2 .1 .6 .2 .2-.3 .1 .2 .2-.2 .2 .2 .6-.2 .1-.6 .2 .3 .2-.5 .2 0 .6-.4 .1 .1 .2 .2 .2-.2 .2-.3 .5-.5 .2-.4 .2-.2 .2 .1 .2 .1 .5 0 .2 .1 .2 0 .2 .4 .2-.3 .5-.3 .2-.3 .2 .2 .2 0 .2 .4 .5 .2 .2 .4 .2-.3 .2-.1 .2 .4 .5 .1 .2-.2 .2 0 .2 0 .1 .3 .6 .2 .2 0 .2-.1 .2 .2 .1-.4 .6 .1 .2-.4 .2-.2 .1-.3 .2-.4 .6-.2 .2-.2 .2 .2 .1 .1 .2-.2 .6-.4 .2-.4 .1-.5 .2 0 .2 0 .6-.2 .1 0 .2 .1 .2 .2 .2-.3 .6 .2 .1-.2 .2 .3 .2-.4 .2 .1 .5-.3 .2 .3 .2-.1 .2-.4 .2 .1 .5-.2 .2 0 .2 .3 .2-.3 .2-.3 .5 .1 .2-.5 .2-.3 .2 .1 .2 .3 .5-.5 .2 .5 .2 0 .2-.1 .2 .6 .5 .5 .2-.1 .2 .2 .2-.1 .1-.2 .6 .3 .2 .3 .2 .7 .2-.1 .1 .2 .6 0 .2-.1 .2 .4 .1-.4 .2-.2 .6-.1 .2 .5 .1 .1 .2 .3 .2 .1 .6 .3 .2-.2 .1-.1 .2 .3 .2 0 .6 .1 .1 .9 .2 .2 .2 .2 .2-.1 .6 .2 .1 .3 .2 .1 .2 0 .2 0 .5 0 .2-.3 .2 0 .2 .2 .2-.3 .5-.1 .2-.2 .2-.3 .2-.4 .2-.3 .5 0 .2-.1 .2 .2 .2-.5 .2-.2 .5-.4 .2 0 .2 .4 .2-.5 .2-.2 .5 0 .2 0 .2 0 .2 .4 .1-.2 .6 .2 .2 .2 .2-.3 .2-.1 .1 .4 .6 .2 .2-.2 .2 0 .1 .2 .2 .1 .6 .1 .2-.2 .1-.3 .2-.3 .2 .1 .6-.2 .2-.2 .1 .1 .2-.1 .2-.5 .6-.1 .1-.2 .2 .1 .2 .2 .2 0 .6-.1 .1-.5 .2-.2 .2 0 .2 .2 .5 .3 .2 .1 .2-.1 .2 .3 .2-.1 .5 .3 .2 .4 .2 .2 .2 .4 .2 .2 .5-.4 .2 0 .2-.1 .2-.3 .2-.2 .5 .1 .2-.1 .2-.1 .2-.1 .2 .3 .5 0 .2 0 .2-.3 .2 0 .1-.1 .6-.3 .2-.4 .2-.2 .1-.2 .2 .1 .6 .1 .2-.1 .2 .1 .1 0 .2-.4 .6 .1 .2 .2 .1-.1 .2 0 .2 0 .6 .1 .2 .2 .1 .2 .2 .1 .2-.3 .6 .4 .1-.3 .2 .4 .2 .1 .2-.1 .5 0 .2 .1 .2 .5 .2 0 .2-.5 .5-.3 .2-.2 .2 .1 .2 0 .2 .1 .5-.5 .2-.2 .2-.3 .2 0 .2-.1 .5-.6 .2 .1 .2 .2 .2-.4 .2 0 .5-.2 .2-.5 .2 0 .2-.5 .2-.1 .5-.6 .2-.2 .2 .2 .2 .4 .1 0 .6-.2 .2 .6 .2-.2 .1 .5 .2 .3 .6 .5 .2-.5 .2 .1 .1 0 .2 .3 .6-.2 .2 .7 .1 0 .2-.4 .2 .2 .6 .2 .2 0 .1 .3 .2 .1 .2 .1 .6 .2 .1-.1 .2-.2 .2-.2 .2-.5 .5-.3 .2 0 .2 .5 .2-.4 .2-.3 .5 0 .2 .4 .2 0 .2-.5 .2 0 .5-.1 .2-.3 .2-.6 .2-.2 .2-.1 .5-.1 .2-.6 .2-.4 .2-.1 .2 .3 .5 0 .2-.4 .2 .1 .2-.5 .1-.1 .6 0 .2-.2 .2 .4 .2 .1 .1-.5 .6 .5 .2 .2 .2-.2 .1 .1 .2 .3 .6 .4 .2-.1 .2-.2 .1-.3 .2 .1 .6 .2 .2 .4 .1 0 .2-.1 .2-.3 .6-.4 .1 .2 .2-.4 .2 .1 .2 .2 .6-.1 .1 .3 .2-.2 .2-.2 .2-.1 .5-.3 .2 0 .2-.1 .2 .2 .2-.2 .5 .1 .2-.1 .2-.1 .2-.3 .2-.1 .5-.5 .2 .1 .2 0 .2 0 .2-.1 .5 .5 .2 .5 .2 0 .2 .1 .2-.3 .5-.2 .2-.1 .2-.1 .2-.3 .1-.2 .6-.2 .2-.2 .2 .1 .2 .2 .1-.3 .6-.3 .2-.1 .2 0 .1-.7 .2 .1 .6 0 .2-.2 .2 .2 .1-.2 .2-.6 .6-.3 .2-.3 .1-.1 .2-.1 .2-.3 .6 0 .1 .1 .2-.1 .2-.3 .2-.1 .6-.3 .1 .6 .2-.5 .2-.2 .2 .3 .5 .1 .2-.1 .2 .2 .2-.3 .2 0 .5-.4 .2-.4 .2 .6 .2-.2 .2 .1 .5 .3 .2 0 .2-.1 .2-.5 .2 .3 .5-.5 .2-.7 .2-.2 .2-.1 .2 0 .5 .4 .2-.1 .2-.1 .2-.9 .1-.1 .6-.1 .2-.3 .2 .6 .2 .4 .1 .1 .6 .2 .2-.3 .2 .1 .1-.6 .2-.4 .6-.1 .2 .6 .1 .3 .2 .5 .2 .4 .6 .1 .2 .3 .1-.1 .2 .1 .2 1 .6 .6 .1-.3 .2 0 .2-.5 .2-.2 .6-.5 .1 0 .2 .3 .2-.7 .2-.1 .5-.5 .2-.3 .2-.2 .2-.7 .2-.1 .5-.4 .2 .5 .2-.4 .2 0 .2 0 .5-.1 .2 0 .2 .1 .2 .1 .2 .4 .5-.2 .2 .3 .2 0 .2 .3 .2 0 .5-.2 .2 .4 .2 .2 .2 .6 .1 0 .6-.1 .2 .3 .2-.2 .2 .9 .1 .6 .6 .4 .2 .1 .2 0 .1 .1 .2 0 .6-.2 .2 .3 .1 .4 .2 .4 .2-.8 .6 .1 .2-.3 .1-.4 .2 .2 .2-.1 .6-.3 .1-.4 .2 .2 .2-.2 .2-.1 .6-.4 .1-.4 .2 .1 .2 .5 .2-.2 .5-.6 .2-.2 .2 0 .2-.7 .2 .4 .5-.3 .2 .3 .2 0 .2-.1 .2-.5 .5 .3 .2 .2 .2 .4 .2-.3 .2 0 .5-.2 .2 .2 .2-.1 .2-.5 .2 0 .5-.3 .2-.3 .2 0 .2 .4 .1-.4 .6-.2 .2-.4 .2 .5 .1 .4 .2 .4 .6 0 .2-.7 .2-.4 .1-.2 .2-.2 .6-.4 .2 0 .1-.3 .2-.2 .2 .3 .6-.5 .2 0 .1 0 .2 0 .2 0 .6-.5 .1 0 .2 .2 .2 .8 .2-.1 .5 .3 .2 .2 .2-.7 .2-.5 .2 .3 .5-.6 .2-.8 .2-.4 .2 .4 .2 .8 .5 .5 .2 .3 .2-.3 .2 .5 .2 .4 .5 .2 .2-.1 .2-.4 .2-.4 .2 .1 .5 .2 .2-.2 .2 .1 .2-.3 .1-.8 .6 .1 .2-.2 .2-.5 .2 .1 .1 .2 .6 .2 .2-.3 .2-.4 .1-.1 .2-.1 .6-.6 .2-.3 .2 .4 .1-.1 .2-.2 .6-.3 .2 0 .1 .1 .2 0 .2 .4 .6-.2 .2 0 .1-.7 .2-.4 .2 .4 .6 .8 .1-.1 .2 .4 .2 .1 .2 .6 .5 .1 .2 .8 .2 .2 .2 .3 .2 0 .5 .1 .2 .2 .2-.1 .2 .2 .2 .1 .5 0 .2 .4 .2 .4 .2-.2 .2-.3 .5-.6 .2-.4 .2-.1 .2 .2 .2-.2 .5-.2 .2-.7 .2 0 .2-.2 .1-.5 .6-.1 .2-.2 .2-.8 .2-.7 .1-.3 .6-.2 .2 .2 .2-.4 .1-.2 .2-.3 .6 0 .2-.2 .2-.2 .1-.3 .2-.8 .6-.3 .2 .4 .1 .1 .2-.2 .2-.8 .6 .2 .1 .5 .2 .2 .2 .6 .2 .7 .6 .7 .1 .4 .2-.4 .2 .7 .2-.3 .5-.2 .2 .3 .2 0 .2-.1 .2-.4 .5-.1 .2-.5 .2-.5 .2-.2 .2-.1 .5 0 .2 .1 .2 .1 .2 .2 .2 .5 .5-.6 .2 .6 .2 .5 .2 .1 .2 .9 .5 .4 .2 .5 .2-.4 .2-.5 .1-.4 .6-.5 .2-.5 .2-.2 .2 .1 .1-.4 .6 .2 .2 .1 .2-.6 .1-.4 .2-.1 .6-.3 .2-.3 .1 .5 .2 0 .2 .3 .6-.3 .2 .1 .1-.7 .2-.3 .2 .2 .6-.2 .1 .3 .2-.3 .2-.4 .2-.3 .6 .6 .1-.2 .2-.4 .2-.6 .2-.3 .5-.2 .2 .2 .2-.1 .2-.1 .2-.3 .5 .3 .2-.1 .2 .5 .2 .4 .2-.3 .5-.1 .2 .5 .2 .2 .2-.8 .2-.5 .5 .2 .2 .9 .2 .2 .2 .1 .2 .2 .5 .1 .2 .4 .2 .3 .2-.1 .1 .2 .6-1 .2 .1 .2-.6 .2-.8 .1 .4 .6-.2 .2 0 .2-.3 .1-.2 .2-.8 .6-.3 .2 0 .1-.4 .2 .1 .2 .4 .6 .1 .2 .5 .1 .4 .2 .8 .2 1 .6-.2 .1 .1 .2-.1 .2 .1 .2 .5 .6-.2 .1-1 .2-.3 .2-.3 .2 .6 .5 0 .2 .4 .2-.4 .2 0 .2-.1 .5-.1 .2 .2 .2 .4 .2-.4 .2 .4 .5 .2 .2-.2 .2 0 .2-.3 .2-.6 .5-.2 .2-.2 .2-.1 .2-.4 .2 .6 .5-.3 .2 .2 .2 .3 .2-.2 .1 0 .6-.8 .2-.4 .2 .3 .1-.4 .2 .1 .6-.1 .2 .4 .2 1 .1 .8 .2 0 .6 0 .2 .6 .1 .3 .2-.3 .2-.2 .6-1.3 .2-1.5 .1-.5 .2-1.2 .2 .1 .6-.3 .1 .3 .2 .4 .2-.4 .2 .4 .6 .5 .1 1.3 .2-.2 .2 .7 .2 .5 .5 1.2 .2 0 .2 0 .2 .6 .2 .4 .5 .2 .2-.1 .2 .4 .2-.4 .2 .7 .5 .9 .2 .7 .2 1.7 .2 .6 .2-.7 .5 0 .2-1.2 .2 0 .2-1.5 .2-1.6 .5 .4 .2-.2 .2-.8 .2 .6 .1-.1 .6 1.1 .2 1.2 .2-.4 .1 .1 .2 0 .6 .4 .2 .2 .2-.3 .1-.8 .2 .4 .6 1.1 .2-.6 .1-.1 .2-.1 .2 .5 .6 .4 .2-.4 .1 .6 .2-.1 .2-.1 .6-.5 .1-.6 .2 0 .2-1.4 .2 .2 .5-.1 .2-.6 .2 .3 .2-.8 .2-.7 .5-.2 .2-1.4 .2-.3 .2-.4 .2 .3 .5 .6 .2-.1 .2-.4 .2-.2 .2-1 .5-.1 .2-1.3 .2 0 .2 .5 .2 .8 .5 1 .2-.2 .2 .7 .2 .1 .1 .3 .6-.4 .2-.6 .2-.9 .2 0 .1 0 .6-.6 .2-.3 .2 0 .1-.2 .2 .1 .6-.4 .2 0 .2-.4 .1 .6 .2 .2 .6-.9 .2 .5 .1 1.1 .2-.7 .2-.2 .6 .9 .1-.4 .2 .7 .2 .8 .2 .1 .6 .2 .1 .5 .2 .1 .2 .4 .2-.2 .5-.2 .2-.5 .2-.2 .2-.5 .2 .6 .5-.2 .2 .2 .2 1 .2 .1 .2 1.3 .5 0 .2 .8 .2 .1 .2 .3 .2 .8 .5 .4 .2 1.1 .2 .4 .2-.8 .2-.9 .5 .5 .2 1 .2-.2 .2 1.3 .1 .6 .6 0 .2 .8 .2-.6 .2-.3 .1 .5 .6 .5 .2 .2 .2-.3 .1-.6 .2-.2 .6-.3 .2 .2 .2-.3 .1 .6 .2-.3 .6-1 .2-.8 .1 .2 .2 .1 .2-.9 .6-.9 .1 .8 .2 .1 .2-.2 .2-.8 .6 .4 .1-.5 .2 .1 .2-1.4 .2-.2 .5 0 .2 .1 .2-.4 .2-.2 .2 .3 .5-.2 .2 .3 .2 0 .2 .2 .2 .1 .5-.1 .2-.1 .2-1 .2-.6 .2 .1 .5-.2 .2 .5 .2 .4 .2-.5 .2-.4 .5-.5 .2 0 .2 .3 .2 0 .1-.4 .6-.2 .2-.4 .2 .4 .2 .1 .1 .1 .6 .6 .2 .6 .2 .3 .1 0 .2 .5 .6 .2 .2 .8 .1 .4 .2-.1 .2-.2 .6 .4 .2 .4 .1-.6 .2-.1 .2-.2 .6-.3 .1-.5 .2-.3 .2 .1 .2-.1 .6-.1 .1 .3 .2 .1 .2-.5 .2 .3 .5-.6 .2-.3 .2-.1 .2-.4 .2-.3 .5-.6 .2 .2 .2 0 .2 .1 .2-.1 .5 .8 .2 .6 .2 .7 .2 .4 .2 .3 .5-.3 .2 1.1 .2 .1 .2 .3 .2 .7 .5 .4 .2-.3 .2-.6 .2 .2 .1-.7 .6-.2 .2-.8 .2-.3 .2-.7 .1-.3 .6-.6 .2-.2 .2 .1 .1-.4 .2-.5 .6-.9 .2 .5 .1-.2 .2-.6 .2 .2 .6-.3 .2-1 .1-.7 .2 .4 .2-.1 .6-.1 .1-.3 .2-.1 .2 .3 .2 .2 .6-.3 .1-.1 .2-.7 .2 .2 .2 .9 .5 0 .2-.2 .2-.2 .2-.1 .2 .2 .5-.6 .2 .2 .2-.3 .2 .1 .2 .3 .5-.5 .2 .8 .2 .1 .2-.3 .2 0 .5-.4 .2-.2 .2-.3 .2 .8 .2 .7 .5 .5 .2-.2 .2-.3 .2-.1 .1 .2 .6-.3 .2 .5 .2-.1 .1-.1 .2 .1 .6-.2 .2 0 .2 .1 .1-.9 .2-.4 .6-.5 .2 0 .1-.4 .2-.3 .2-.4 .6-.7 .2 .2 .1 0 .2 .1 .2 1.3 .6 .4 .1-.3 .2-.4 .2 .1 .2-.6 .5-.1 .2 .2 .2-.3 .2 .5 .2 1 .5 0 .2 .7 .2 1 .2 .7 .2-.4 .5-.6 .2-.6 .2 .2 .2 .2 .2-.3 .5-.1 .2-1.1 .2 .1 .2 .2 .2-.5 .5-.2 .2 0 .2 0 .2-.2 .2-.3 .5-.3 .2 .1 .2-.2 .2-.3 .1-.2 .6 1.1 .2 .1 .2 .1 .1-.2 .2-.3 .6-.6 .2-.2 .2 .2 .1-.6 .2 .5 .6 0 .2-.4 .1 .1 .2 1 .2 0 .6 .2 .2 .2 .1-.3 .2 .2 .2 .3 .6-.2 .1-.3 .2-.2 .2-.2 .2 0 .5 0 .2-.2 .2 .2 .2 .2 .2-.8 .5-.1 .2-.2 .2-.1 .2-.2 .2-.2 .5-.3 .2 .1 .2-.5 .2 .1 .2-.6 .5 .2 .2-.4 .2-.1 .2 .1 .2-.4 .5 .2 .2-.2 .2 .6 .2-.2 .1-.1 .6-.5 .2-.6 .2 .1 .2-.9 .1 .1 .6 .6 .2 .6 .2-1 .1-.3 .2 0 .6-.5 .2-.7 .2-.1 .1-.7 .2 .1 .6 .9 .2-.4 .1 0 .2 0 .2-.7 .6 .1 .1-.5 .2 0 .2 .4 .2-.3 .6 .2 .1-.5 .2-.4 .2 .1 .2-.2 .5-.2 .2 .2 .2-.3 .2 .5 .2 .3 .5-.1 .2-.3 .2 .2 .2 .1 .2 0 .5-.4 .2 .1 .2-.3 .2-.7 .2-.2 .5 .6 .2-.2 .2-.5 .2 0 .2-.5 .5-.3 .2-.1 .2 .1 .2 .3 .1 0 .6-.2 .2-.4 .2 0 .2-.2 .1-.2 .6 .5 .2 .1 .2 .1 .1-.2 .2-.2 .6-.2 .2 .1 .2-.6 .1-.3 .2 .4 .6-.3 .2 .2 .1-1.1 .2 0 .2 0 .6-.3 .1-.2 .2-.2 .2-.8 .2-.2 .6-.5 .1-.6 .2 .7 .2 .1 .2 1.3 .5 1.7 .2 0 .2 .2 .2-.9 .2 0 .5 .3 .2 .1 .2-.2 .2-.2 .2 0 .5-.2 .2-.3 .2 .9 .2 .5 .2 .7 .5 .3 .2-.4 .2 0 .2-.2 .2-.8 .5 0 .2-.3 .2-.4 .2 .4 .1-.7 .6-.5 .2-.5 .2 .1 .2 0 .1-.2 .6-.5 .2-.6 .2-.4 .1-.2 .2 .3 .6 .4 .2-.6 .1 .3 .2-.4 .2-.4 .6 .6 .2 .4 .1 .2 .2 .6 .2 .6 .6 .3 .1-.3 .2 .3 .2 .2 .2 0 .6-.3 .1 .7 .2 .1 .2-.4 .2 .5 .5-.4 .2-.6 .2 .3 .2-.2 .2 .4 .5-.3 .2-.1 .2-.2 .2-.6 .2-.2 .5-.5 .2-.2 .2 .7 .2-.1 .2-.2 .5 .7 .2-.6 .2 0 .2-.1 .2 .5 .5 0 .2-.1 .2-.2 .2 .6 .1-.9 .6 .2 .2 .6 .2 0 .1-.1 .2-.7 .6-.1 .2-.5 .2 0 .1-1.4 .2-.5 .6-1.1 .2 .4 .1-.5 .2 .3 .2-.5 .6-.4 .2 .5 .1 .3 .2 .2 .2 .2 .6-.9 .1-1.1 .2-.1 .2-.4 .2 .5 .6 0 .1-.2 .2-.1 .2 .1 .2-.6 .5-.5 .2-.5 .2 .1 .2-1 .2-.8 .5 .3 .2 .1 .2-.5 .2 .5 .2-.2 .5 .4 .2 .3 .2 .9 .2 1 .2 .5 .5-.3 .2-.6 .2-.6 .2-.8 .2-.7 .5-.6 .2-.6 .2 .4 .2-.4 .1 .5 .6 .1 .2 0 .2-.3 .1 .9 .2-.6 .6-.4 .2 .5 .2 .6 .1 .5 .2 .5 .6-.2 .2-.5 .1 .5 .2-.7 .2-1.1 .6-.6 .2-.9 .1-.6 .2-.7 .2-.4 .6 0 .1-.3 .2-.4 .2-1.1 .2-1.6 .5-.5 .2 .4 .2 .2 .2-.3 .2-.4 .5 1.3 .2 1.7 .2 .5 .2 1 .2 1.3 .5 1.1 .2 .1 .2 2 .2 1.6 .2-.6 .5-1.1 .2-.4 .2 .1 .2-.4 .2 0 .5-1 .2-.7 .2-1 .2-1.1 .1 1.7 .6-1 .2 .5 .2-1 .2-.3 .1-.9 .6-1.9 .2 .6 .2-1 .1-.7 .2-.6 .6-1.9 .2 1 .2 1.5 .1-1.7 .2 1.3 .6 2.3 .2 1.3 .1 .9 .2 .9 .2 .6 .6 1.3 .2 .1 .1 .9 .2 1.5 .2-.1 .6-.4 .1-.7 .2-.4 .2-.6 .2-.7 .5-2 .2 .1 .2-.8 .2-.9 .2 .3 .5-.3 .2-.3 .2 .5 .2-.2 .2 0 .5 1.1 .2 1.4 .2 1.2 .2-.4 .2-1 .5-.3 .2-.7 .2-.2 .2-.7 .2-1.1 .5 .2 .2-.3 .2 0 .2 .1 .1-.2 .6 .6 .2-.9 .2-1.5 .2-1.4 .1-.9 .6 .8 .2-1.1 .2 .6 .1-.1 .2-1.5 .6 .9 .2-.8 .2-.3 .1 .1 .2 .5 .6-.6 .2 .3 .1-.2 .2 .5 .2 .6 .6 0 .1 .6 .2 .4 .2-.5 .2-.3 .6 .9 .1-1.6 .2-1.5 .2 1.3 .2 0 .5 .1 .2 2.4 .2 1 .2 .1 .2 .1 .5-.2 .2-.9 .2 1.4 .2 .9 .2 0 .5-1.7 .2-.6 .2 .5 .2-1.2 .2-1.3 .5-.4 .2-.4 .2-.9 .2-1.5 .2-.4 .5-.8 .2-.1 .2-.1 .2 1.3 .1 1.6 .6 1.3 .2-.5 .2-1.1 .2 1.1 .1-.8 .6 .1 .2 .3 .2 .2 .1-1.5 .2-1 .6 .3 .2 .5 .1-.4 .2-.1 .2-1.8 .6 .8 .2 1 .1-.4 .2-.6 .2-.7 .6-1.2 .1-1.5 .2 .3 .2 1.1 .2 .8 .6-.4 .1 .6 .2-.6 .2 .5 .2 .1 .5 1.3 .2 0 .2 1.2 .2 .9 .2-.8 .5-1.2 .2-1.9 .2-.1 .2 0 .2 .7 .5-1.1 .2-.5 .2 .4 .2-.8 .2-.2 .5 .2 .2 1.2 .2 1.7 .2 1.7 .2-1.3 .5-.7 .2-.8 .2 5.2 .2 2.6 .1-.6 .6-1.1 .2-2.7 .2 .2 .2-.2 .1 1 .6 1.7 .2 1.6 .2 .2 .1 2 .2 .1 .6 1.6 .2-1.9 .1-1.5 .2-1.6 .2-.3 .6 2 .2-2.7 .1-1.7 .2 2.2 .2 4.3 .6 .1 .1 .1 .2 .6 .2 2.4 .2-.5 .6 1.2 .1-.4 .2-.5 .2-1.7 .2 .1 .5-1.6 .2-1.6 .2 1.6 .2 .5 .2-1.9 .5-2.1 .2 2.5 .2 1.2 .2 .1 .2 1.4 .5 2.9 .2 .8 .2 1.6 .2 .2 .2 1.1 .5 .1 .2 1.6 .2-.6 .2 3.9 .2 .7 .5-.1 .2-1.7 .2-.2 .2-1.5 .1-1.1 .6-2 .2-.3 .2 .1 .1-3 .2-.1 .6 1.1 .2-1.4 .2-1.2 .1-1.6 .2-2.1 .6 1.6 .2-1.2 .1-1.2 .2 .3 .2 0 .6 4 .2 .3 .1-2.8 .2 2.1 .2 .1 .6-1 .1-1.2 .2-1.6 .2 .6 .2-.6 .5 1.3 .2-.2 .2-1.5 .2-1 .2-.2 .5 2.1 .2 0 .2-.4 .2 .1 .2 0 .5-2.4 .2 .4 .2 .8 .2-.1 .2 .2 .5 .2 .2 0 .2-.6 .2-.2 .2 1 .5-.1 .2-.4 .2 .2 .2-.7 .2 .3 .5-.8 .2-2.3 .2-1.6 .2-.3 .1-1.1 .6 .3 .2 .6 .2-.7 .1-.4 .2-.1 .6-.4 .2 .2 .2-.5 .1-.8 .2 0 .6-.8 .2 1.5 .1 .4 .2-1.5 .2-1.5 .6-.2 .2 .2 .1 1.1 .2-.5 .2-.7 .6 1.1 .1-.6 .2-.6 .2-.5 .2 .9 .5-.6 .2 1 .2-1.5 .2-.2 .2 .8 .5-1.1 .2 .1 .2-1.2 .2 .2 .2 .1 .5 1.5 .2 .5 .2 .6 .2 .5 .2 1.4 .5 .2 .2 1.3 .2 1.1 .2 .7 .2 1.2 .5-1 .2 1.4 .2 .9 .2 .4 .1 .3 .6-.3 .2-.1 .2 .7 .2 .8 .1 .3 .6 .3 .2-.4 .2 1.1 .1-2.4 .2-1.3 .6-.6 .2-.7 .2-.1 .1 .3 .2-.4 .6-.5 .2-.2 .1 .4 .2-.7 .2-1.3 .6-.4 .1-.8 .2 .8 .2-.8 .2-.8 .6 0 .1-1.6 .2-2.5 .2-.3 .2 0 .5-.6 .2 .2 .2 1.1 .2-.2 .2 0 .5-.9 .2 .2 .2 .1 .2-1 .2-1.2 .5-.6 .2-.8 .2-.2 .2 .7 .2 1.1 .5 1.5 .2 1.4 .2-.5 .2 1.8 .2 2.6 .5 2.1 .2-.1 .2 .8 .2 1.4 .1-.5 .6 1 .2-.5 .2-.4 .2-1.2 .1-1.3 .6-.2 .2 .7 .2 .9 .1 .1 .2-.5 .6-.6 .2-.5 .2-1 .1-.2 .2-.6 .6 .1 .2-.2 .1 .8 .2-.9 .2-2 .6-.7 .1-.8 .2 0 .2-.8 .2 .1 .6 0 .1 1.3 .2-.5 .2 .4 .2 .3 .5 .1 .2 .5 .2 .8 .2 0 .2 .8 .5 .4 .2 .7 .2 .2 .2-.1 .2-.1 .5-1.3 .2 1.1 .2-.5 .2 1.4 .2 .2 .5-.3 .2 1.1 .2 .6 .2-1.1 .2-1 .5-.7 .2-.1 .2-2.5 .2-.4 .1 .3 .6-1.9 .2-.8 .2 .1 .2-1.3 .1-.3 .6-.7 .2-.3 .2 .8 .1-1 .2-.3 .6 .7 .2 .4 .1-1.3 .2 .1 .2-.4 .6-.8 .2-.4 .1 1.1 .2-1 .2-1.1 .6-1 .1-1.5 .2-.3 .2 .8 .2 1.1 .6-1 .1-2.3 .2-.5 .2-1.4 .2-.3 .5 1.3 .2-.8 .2 0 .2-.1 .2 .2 .5-1.1 .2-.1 .2 1 .2-.3 .2-.5 .5 .9 .2 .4 .2 .3 .2 .5 .2-.6 .5-.5 .2 .4 .2-.9 .2-1.8 .2-1.3 .5 .4 .2-.8 .2-.3 .2 .1 .1 .3 .6 .3 .2 0 .2 .8 .2-1.1 .1-.4 .6-.5 .2-.8 .2-.6 .1 0 .2 1.2 .6 3.1 .2 1.7 .1-1.7 .2-.2 .2-1.5 .6-.6 .2-2.2 .1-2.4 .2-1.4 .2-2.7 .6-.7 .1 .7 .2-.9 .2 .2 .2 .8 .6 4.7 .1-8.5 .2 2.2 .2 4.2 .2 3.2 .5 3.3 .2 3.9 .2 6.6 .2 .9 .2-3.2 .5-6.8 .2-4.4 .2 2.9 .2 5 .2 9.5 .5 3.5 .2 10.5 .2-1.2 .2-.7 .2-10.2 .5 14 .2-2 .2-.3 .2 4.3 .2-.9 .5-2 .2-7.4 .2-2.6 .2-2.8 .1 2 .6 5.9 .2-1.6 .2-.5 .1 .4 .2 .2 .6 3.5 .2-5.9 .2 1.1 .1-1.8 .2-1.2 .6-.8 .2 .8 .1 2.7 .2-13.6 .2-5.4 .6-1 .2 7.3 .1-.7 .2-5.3 .2-2 .6-1 .1 1.3 .2-1.1 .2-4.7 .2 9 .5-.3 .2 .8 .2 .2 .2 6.3 .2-3.1 .5-.4 .2-1.4 .2-.8 .2 .9 .2-1.1 .5 1.1 .2-.5 .2-1.5 .2-1.9 .2-1.8 .5-1.3 .2-5 .2-1.6 .2 .3 .2-1.6 .5-1 .2 0 .2 .2 .2-4.4 .1-1.1 .6-.4 .2-.8 .2-1.3 .2 7.5 .1-1.2 .6-3.1 .2 5 .2-1.9 .1-2.9 .2-4.4 .6-.4 .2 2.8 .2-2 .1 .3 .2 2.4 .6-.3 .2-3.4 .1-3.3 .2-2.1 .2 1.4 .6-5.7 .2 2.1 .1-.5 .2 1.5 .2-1.5 .6-1.2 .1-1.2 .2 .1 .2-.5 .2 2.4 .5-1.4 .2 2.1 .2 1.9 .2 1 .2 1.8 .5-.9 .2-.1 .2 1.8 .2-.3 .2-1.7 .5-.9 .2-1.6 .2-2.7 .2-1.9 .2-1.5 .5-2.1 .2-1.1 .2-.5 .2-1.7 .2 2.9 .5-3.7 .2 1.9 .2-2.9 .2-1 .1-3.2 .6-.7 .2 1.4 .2-3.3 .2-1 .1 .5 .6 .5 .2-3.3 .2-1.5 .1 5.6 .2 5 .6 2.8 .2 6.5 .2-.9 .1-.4 .2 .6 .6 .1 .2 3.4 .1-1.8 .2-.5 .2 1.1 .6 2.5 .1-.6 .2 0 .2-.4 .2-1.5 .6 1.5 .1 2.3 .2-1.7 .2-1.2 .2-2 .5-1.3 .2-3.2 .2-1.8 .2-1 .2-3.9 .5-4.1 .2 .1 .2-1.2 .2 8.4 .2 2.4 .5 .8 .2-.2 .2 3.6 .2-2.8 .2 0 .5 2 .2 .3 .2 1.4 .2 .7 .2-.3 .5-.2 .2 .5 .2-2 .2 .1 .1-5.6 .6-2.3 .2-1.4 .2 .7 .2-.9 .1-3 .6 .3 .2 2.2 .2-.9 .1-4.8 .2 3.2 .6-1.6 .2-.4 .2-.1 .1 .5 .2 .2 .6-2.9 .2-1.6 .1 2.1 .2-3.9 .2 2.9 .6-1.9 .1-.7 .2-2.9 .2-.7 .2-2.2 .6 .5 .1-1.9 .2-.3 .2-4.6 .2 2.8 .5-2.2 .2-.2 .2 .4 .2 2 .2-.8 .5 3.8 .2 2.8 .2-1.9 .2 0 .2-.3 .5-.9 .2-.7 .2-1.2 .2 0 .2 0 .5-.4 .2-2.2 .2-2.1 .2-2.2 .2-.4 .5 .4 .2 2.6 .2-1.5 .2-1.7 .1 1.5 .6 .5 .2 1.9 .2 .2 .2 2.9 .1 3.1 .6-1 .2-2.1 .2 0 .1-.9 .2-.1 .6-1.8 .2-1.8 .1-3.2 .2-1.9 .2-.5 .6 1.3 .2 1.1 .1-1.1 .2 5.7 .2 1.4 .6 .6 .1-.5 .2 3.2 .2 .7 .2 0 .6 2.2 .1 4.2 .2 1.4 .2 2.7 .2-1.1 .5 .4 .2-2 .2-.9 .2-1.4 .2-.6 .5-3 .2-4 .2-1.5 .2 2 .2 1.2 .5-2.3 .2 4.1 .2 1.7 .2 .3 .2 1.8 .5-.3 .2-3.4 .2-.9 .2-1.4 .2-2.6 .5-1.6 .2-1.6 .2-.8 .2-3 .1 .2 .6-3.9 .2-.3 .2 .3 .1-1.3 .2-.3 .6 .6 .2 2.8 .2 1.8 .1-.9 .2 2 .6-.1 .2 1.2 .1-2.6 .2 1.2 .2 2.9 .6 2.4 .2 1.8 .1 .1 .2 .4 .2-1 .6 .5 .1 .9 .2 1.2 .2-.9 .2-2.1 .6-1.7 .1 .6 .2 2.2 .2 .3 .2-1.4 .5 2.8 .2-.7 .2-2.1 .2-.3 .2 .5 .5-4.2 .2-3.1 .2-.1 .2-2.8 .2-2.4 .5 1.8 .2-4.8 .2 1.7 .2 .3 .2 1.5 .5-.7 .2 1.5 .2-.9 .2-2.7 .2-1 .5-.1 .2-3.2 .2 1.2 .2-2.2 .1 .2 .6-.8 .2 .5 .2 .4 .1 .1 .2 .9 .6-1.6 .2-.5 .2 1.4 .1 .2 .2 .2 .6-1 .2-1.4 .1-1 .2 .3 .2-1 .6 1.5 .2 3.7 .1-1.6 .2 1.2 .2-4.7 .6-5.1 .1 1.3 .2 .4 .2 .8 .2 2 .5 2.4 .2-1.5 .2-1.1 .2-1.6 .2-3.1 .5 0 .2 .1 .2 .8 .2 .3 .2 1.1 .5 2 .2-1.9 .2 1.8 .2-1.3 .2-1.4 .5 1 .2-.7 .2-.2 .2 .7 .2-1.3 .5-.6 .2-.3 .2-2.7 .2 .8 .1-2.2 .6-1.6 .2-2.4 .2 .8 .2 2.5 .1 2.2 .6 2 .2 .1 .2-.8 .1-1.1 .2 2 .6 .8 .2 3.8 .2 4.3 .1 1.4 .2 1.1 .6 2.5 .2 2.5 .1-1.4 .2 1.1 .2-2.2 .6-3.8 .1-.6 .2-1.8 .2 .6 .2-3.7 .6 2.1 .1 1.2 .2-1 .2 0 .2-3.8 .5 1.8 .2-.1 .2-1.9 .2-2.3 .2-2.9 .5-1.5 .2-4.7 .2 .7 .2-.8 .2-2 .5 .3 .2 0 .2 .3 .2 .4 .2 1 .5-.2 .2 1.4 .2-2.4 .2 1.4 .2-5.7 .5-4.4 .2-2.8 .2 0 .2 1 .1-.6 .6 .8 .2 2.4 .2-.8 .2 3.1 .1 1.1 .6 4.5 .2 2 .2-.2 .1 .1 .2-.4 .6-1.7 .2-3.9 .2 3.1 .1-3.9 .2-2.6 .6 3 .2 1.1 .1 3.7 .2 2.6 .2-.7 .6 .8 .1-1.9 .2-2.6 .2-4.8 .2-2.4 .6-2.1 .1 .8 .2 2.7 .2-1.5 .2 1.4 .5 3.1 .2-2.4 .2 2.7 .2 6.9 .2 1.3 .5 .7 .2 .1 .2-1.3 .2 5.5 .2 .5 .5-.1 .2 3.4 .2 5.1 .2 4.6 .2-1 .5-.8 .2 4.5 .2 2.7 .2-1.1 .2-1.9 .5 .7 .2 3.3 .2-3 .2-1.9 .1-6.9 .6-8.9 .2 2.1 .2 .5 .2 3.2 .1 5.8 .6-3.1 .2 3.8 .2 2.5 .1 3.2 .2 2.5 .6 3.8 .2-.7 .1 1.7 .2 .3 .2-.2 .6 2.2 .2-.8 .1-8.2 .2-3.6 .2 4.2 .6 1.6 .1 8.9 .2 3.4 .2-2.8 .2-.1 .6 2.2 .1-3.8 .2-3.3 .2-.7 .2-4 .5-.9 .2 2.7 .2-6.1 .2-1.4 .2-.6 .5-5.4 .2-8.6 .2 .7 .2 2.1 .2-1.6 .5 3.6 .2 4.1 .2 7.5 .2 3.9 .2-1.7 .5-8.3 .2 6.1 .2 4.7 .2 .1 .2 0 .5 3.5 .2 1 .2 5.8 .2 1.4 .1-1.8 .6-3.4 .2 2.3 .2 2.4 .2 .8 .1 1.9 .6-2 .2-3.8 .2-3.7 .1 4.1 .2 2.2 .6 .9 .2-.5 .1 2.2 .2 4.2 .2 3.2 .6 4.5 .2 3.8 .1 2.5 .2-1.2 .2-1.5 .6-1.4 .1 .3 .2-5.4 .2-1.7 .2-.1 .6-3.4 .1-1.2 .2 .6 .2-1.2 .2 .3 .5-2 .2 1.7 .2 3.4 .2 6.4 .2 1.1 .5 2.9 .2 1.4 .2 4.8 .2 3.9 .2-3 .5-5.9 .2-.9 .2-2.9 .2-2.1 .2 .8 .5 2.9 .2-.4 .2 .9 .2 2.5 .2 1.1 .5-2 .2-1 .2 .5 .2-2.5 .1 2.5 .6-1.3 .2-2.6 .2 1.2 .1 .9 .2-2.1 .6-1 .2-.6 .2-1.9 .1-1.7 .2 1.3 .6 .3 .2-2.8 .1-4.3 .2-4.5 .2 1.9 .6-3.8 .2-2.5 .1-.1 .2-1.7 .2-2.5 .6-5.2 .1 3.7 .2-1.9 .2 .5 .2 2.1 .5 .8 .2 3.1 .2 3.5 .2 .5 .2 5.1 .5-1.6 .2 1.4 .2 .8 .2 .5 .2-3.4 .5 2.1 .2 3.1 .2-2.7 .2 3.8 .2 3.5 .5 4.2 .2 .4 .2-3.1 .2-3.2 .2-1.6 .5-2.2 .2 1.4 .2 1.3 .2-2 .2 4.7 .5 3.6 .2 4.5 .2-1.8 .2 5.1 .1-.2 .6-1.6 .2 2.8 .2 .5 .1 6.5 .2 .8 .6-3.1 .2-2.9 .2-2.9 .1 1.5 .2 3 .6 3 .2 4.9 .1 1.5 .2-3.2 .2 2.2 .6-1.3 .2-3.4 .1-2.9 .2-1.3 .2 2.2 .6-3.6 .1-4.4 .2 1.4 .2 2.9 .2 6.5 .5 .4 .2 1 .2 1.7 .2 .6 .2-1.3 .5-2.3 .2-1.6 .2 3.2 .2-2.6 .2-1.5 .5-4.8 .2-6 .2-.9 .2-3.3 .2 0 .5 4.2 .2 1.5 .2-2.9 .2 .5 .2 1.7 .5-.4 .2-1.8 .2-1.1 .2-.4 .1 1.5 .6 2.1 .2 1 .2 6 .2 .8 .1 3.4 .6-3.3 .2-3.1 .2-2.9 .1-.1 .2 3.2 .6-.7 .2 2.4 .2 .3 .1 3.9 .2 2.7 .6 0 .2-.3 .1 3.5 .2-5 .2 1.2 .6 .1 .1 0 .2-.2 .2-1.3 .2-3.8 .6-3.3 .1-1.5 .2-.8 .2-1.1 .2-1.1 .5-2.3 .2-.7 .2-2.1 .2 2.7 .2-3.2 .5-5.5 .2-.8 .2 3.3 .2-4.6 .2 .3 .5 7 .2-1.5 .2-5 .2-2.8 .2-.2 .5-.1 .2 3.7 .2 2 .2-.2 .2-.7 .5 1.9 .2 1.2 .2-.5 .2 3 .1 2.6 .6 0 .2-.6 .2 .5 .2 3.1 .1-.5 .6 1.5 .2-1.4 .2 0 .1-.5 .2-.8 .6 1 .2-.9 .2-1.3 .1 .8 .2 1.2 .6-1.9 .2-2 .1 .3 .2-1.2 .2-.5 .6-.7 .1-1.6 .2-3 .2-.8 .2-1.5 .6 .8 .1-1.7 .2-3.3 .2-1.9 .2-.6 .5 1.1 .2 1.1 .2 2.2 .2 1.7 .2-1.6 .5 1.3 .2-2.7 .2 2.4 .2-.5 .2 1.9 .5-.3 .2 1.6 .2-.2 .2 .2 .2 .6 .5-1.7 .2-.5 .2-1.4 .2-1.5 .2-.6 .5-4 .2 3.1 .2 .2 .2 1.7 .1-.8 .6-1.1 .2-7.1 .2-1 .2-3.2 .1-2.2 .6 .9 .2-.9 .2-2.9 .1-.1 .2-.3 .6-.9 .2 2.4 .1 .7 .2-1.3 .2-1.7 .6 .9 .2-.7 .1-1.2 .2-1.8 .2-1.8 .6-1.3 .1 1.4 .2 .4 .2-2.2 .2 1.2 .6-2.3 .1-.6 .2-2.8 .2-3.7 .2 1.8 .5 2.8 .2 .7 .2-3.9 .2 5.2 .2 .4 .5 .6 .2-.7 .2 3.4 .2-3.9 .2 .6 .5-1.5 .2 .9 .2 .1 .2-1 .2-3.4 .5-3.1 .2-.2 .2-2.4 .2-.5 .2-1.6 .5-2 .2-1.7 .2 .9 .2 .5 .1 .7 .6 2.2 .2-2.5 .2 1.9 .2-.4 .1 .7 .6-1.1 .2 5.2 .2-2.9 .1 1.6 .2 3.3 .6 .4 .2-3.2 .1 .5 .2 3.5 .2 1.8 .6-1.6 .2 3.6 .1 1 .2 .5 .2 .1 .6-2.2 .1-.7 .2 .3 .2-2.9 .2-2.1 .6 2.1 .1-2.4 .2-2.3 .2-.2 .2-1.4 .5 1.4 .2 2.2 .2 1.8 .2 1 .2 2.7 .5 .3 .2 2.8 .2-.2 .2 .2 .2 2 .5-1.4 .2-3 .2-1.3 .2 3.6 .2-1.4 .5 1.8 .2 1.7 .2-.9 .2-3.2 .2-1.4 .5 .2 .2 .5 .2-.1 .2-2 .1-4.1 .6 1.5 .2-.3 .2-.5 .1 1.3 .2 .4 .6 4.3 .2 3.1 .2-.9 .1 1 .2 .7 .6 2.5 .2 2.1 .1 .7 .2 1.5 .2-1 .6-2.5 .2 .9 .1-2.8 .2-2 .2 .8 .6-1 .1-.9 .2-2.1 .2-2 .2 1.5 .5 1.2 .2-3.2 .2-1.3 .2-1.9 .2-1.6 .5-3.6 .2 1.5 .2-2.9 .2 .8 .2-2.3 .5-3.3 .2 2 .2-1.1 .2-.5 .2-.8 .5 1.3 .2 .9 .2-2.4 .2-2.5 .2 .4 .5 1.9 .2-5.6 .2-2.6 .2-.9 .1 1.8 .6 .5 .2-1.2 .2 1.1 .2-4 .1-.8 .6-1.2 .2 1.3 .2-1 .1 .4 .2 .8 .6 1.8 .2 1.4 .2 1.1 .1 3.7 .2-.8 .6-3.6 .2 .6 .1-.8 .2 0 .2-1.6 .6-1.3 .2 .9 .1-.6 .2-2.8 .2-2.9 .6-2.3 .1-2 .2 .6 .2 .4 .2-2.4 .5 2 .2-.7 .2 2.9 .2-.7 .2 0 .5 .8 .2-3 .2-.1 .2-3.6 .2-3.6 .5-1.8 .2-.3 .2-.4 .2 2.6 .2 .5 .5 0 .2-.1 .2 .5 .2-1.1 .2-4 .5 .1 .2 0 .2 .5 .2-3.6 .1 1.9 .6-.8 .2 1 .2 .3 .2-.5 .1-.2 .6 1.8 .2 1.4 .2-1.6 .1-.8 .2 4.2 .6-.9 .2-3.3 .2 .1 .1-1.2 .2 .1 .6 2.7 .2 3.5 .1 1.1 .2-4.4 .2 2.5 .6 3.6 .1-.4 .2 .4 .2-2.5 .2 3.9 .6 4.1 .1 1.1 .2-.3 .2-.1 .2-1.4 .5 4 .2 2.2 .2 .7 .2-1.9 .2 .3 .5 0 .2-1.9 .2-2.8 .2-6.2 .2 .4 .5-3.4 .2 2.7 .2 .7 .2 .8 .2 0 .5 .7 .2-.2 .2-1.3 .2-.5 .2-2.8 .5-1.1 .2-1.2 .2-4.3 .2-1.4 .1-1 .6-.7 .2-.9 .2-2.1 .2 1.2 .1-.9 .6-2.2 .2-.6 .2 2.7 .1-.4 .2-1.7 .6-3.1 .2-.5 .1-.4 .2-4.4 .2 .9 .6-3.3 .2-2.6 .1 2.7 .2-1.5 .2 .5 .6-.2 .1-2.3 .2-1.1 .2 0 .2-1.3 .6 1.9 .1-.2 .2-.4 .2 2.5 .2 2.2 .5-2.9 .2-2 .2 .7 .2-1.3 .2-3.1 .5-5.4 .2 .9 .2-1.4 .2 2.5 .2-.8 .5 9.1 .2-1.2 .2 2.6 .2 6.8 .2 .2 .5-.1 .2-.1 .2 3 .2 5.1 .2-1.4 .5-1.4 .2-2.9 .2-2 .2 6.5 .1 7.1 .6 8.2 .2-1.1 .2-.2 .2-.1 .1-.6 .6-4.5 .2-1 .2-1 .1-2.9 .2-5.2 .6-2.3 .2-4.8 .1-5.1 .2 .1 .2-1.9 .6 3.3 .2 .2 .1 2.1 .2-1.2 .2 1.2 .6 1.9 .1 5.1 .2 .8 .2 4.5 .2 4.4 .6-1.3 .1-1.3 .2-.2 .2-3.1 .2 1.3 .5-2.1 .2-2.1 .2 2 .2-3.3 .2 .4 .5 2.8 .2-2 .2-7.9 .2-7 .2-2.2 .5-4.9 .2-2 .2-2.4 .2 .2 .2 2.2 .5-1 .2-1.7 .2 .2 .2 1.3 .2 4.6 .5-.1 .2 2.2 .2 1.6 .2-1.4 .1 .9 .6-1.2 .2-.9 .2 4.6 .1 1.2 .2-.7 .6-1.5 .2-2.3 .2 5.5 .1 .3 .2-3.9 .6-7.4 .2 .6 .1-1.2 .2 .2 .2-4.2 .6-2.2 .2 1.5 .1 .8 .2 6.9 .2 1.2 .6 .5 .1 .7 .2-1.4 .2-3.7 .2-1.9 .6-1.7 .1 0 .2-1.2 .2-.9 .2-3 .5-.6 .2-3.6 .2 3.4 .2-4.4 .2-.5 .5-3.9 .2-.9 .2-2.9 .2-4.3 .2 3.9 .5 1.2 .2 6.4 .2 6.7 .2 .7 .2 2.6 .5 .5 .2 3.7 .2-3.8 .2-.9 .2-4.3 .5 3.8 .2 .9 .2 2.3 .2 1.3 .1 1.5 .6 .5 .2-.9 .2-.3 .1-4.5 .2 .7 .6 1.9 .2-.3 .2-.8 .1 .8 .2-.7 .6-6 .2-.8 .1-3.2 .2-4.4 .2 3.9 .6 7.2 .2-1.5 .1 2.6 .2-.3 .2-4.1 .6-.8 .1 .3 .2 .7 .2 1 .2-.1 .5-2 .2-4.5 .2-3.4 .2 .8 .2 1 .5-2.9 .2 1.3 .2-3.4 .2 4.5 .2 6.6 .5 1.5 .2 6.6 .2 4.1 .2 3.3 .2 1.5 .5 .4 .2-1.9 .2 2.8 .2 3.6 .2 3.8 .5 4.2 .2-.8 .2 1.2 .2 1.7 .1-1 .6-4.9 .2-1.3 .2 4.5 .2-7.1 .1 8.2 .6-9.4 .2-4.2 .2-.6 .1-2.5 .2 12.1 .6 5.8 .2 1.8 .2-6.1 .1 15.2 .2 17.1 .6 .8 .2 3.2 .1-30.2 .2-.4 .2 8.5 .6-1.4 .1-6.7 .2 16.9 .2 .8 .2 .2 .6 2 .1-2.4 .2 5.9 .2-5.3 .2-7.6 .5 .1 .2 1.2 .2-2.3 .2-12.3 .2-11 .5-1.8 .2 7.2 .2 14.5 .2-8.8 .2-13.2 .5 6.8 .2 .6 .2-6 .2-13.5 .2-5.6 .5 2 .2-.3 .2-.5 .2 5.2 .2 1 .5-3.9 .2-1.9 .2-2.7 .2 2.7 .1-1.4 .6 6 .2 1 .2-3.4 .2-.3 .1-1.8 .6 2.6 .2-5.6 .2-2.6 .1-.9 .2-1.9 .6-1.7 .2-4.2 .2-.8 .1 3.5 .2-.3 .6-4.3 .2-2 .1 .7 .2-2.3 .2 .1 .6-.2 .1 .9 .2-.9 .2 .4 .2-1.2 .6-5.3 .1 1.4 .2-.3 .2 1.7 .2 1.6 .5-.1 .2 3.4 .2 4.4 .2-5.1 .2-.6 .5-3.8 .2-.7 .2-.7 .2-2 .2-1.9 .5 3.4 .2-3.5 .2 1.9 .2-1.1 .2 6.7 .5-2 .2-6 .2-.2 .2-3 .2-1.4 .5-2.5 .2 1.1 .2-2 .2 4 .1 5.8 .6-.7 .2 .5 .2-.9 .2-1 .1 .3 .6-1.3 .2-.2 .2-5.9 .1 1 .2 4.8 .6-1.6 .2-1.2 .1-1.6 .2 3.2 .2-4.7 .6-1.1 .2-1 .1 3.2 .2-3 .2-1.3 .6-5.1 .1 .4 .2 2.4 .2-1.8 .2-2.2 .6-4.3 .1 0 .2 .7 .2-.2 .2 1 .5 1.7 .2-.7 .2 .8 .2-1.5 .2 0 .5 5.3 .2-1.6 .2-7.8 .2-2.8 .2 12.8 .5-2.6 .2-.8 .2 1.7 .2-4.7 .2-5.1 .5-3.3 .2-2.8 .2-2.6 .2-1.3 .2-2.4 .5-1.6 .2-1.4 .2-1.1 .2 1.8 .1 3.2 .6 9.6 .2 1.3 .2 2.2 .2-3.5 .1-2.2 .6 .2 .2-.2 .2-3.5 .1 4.9 .2 4.3 .6 1.7 .2 2.1 .1 5.9 .2 2.5 .2-.7 .6-2 .2-6.1 .1-5.6 .2-1.2 .2-3.7 .6-4.9 .1 0 .2-.8 .2-2.7 .2-.1 .6 1.1 .1 2.2 .2-.9 .2 2.4 .2 3.8 .5-.5 .2 4.2 .2 6.6 .2-.3 .2-4 .5-1.8 .2-.2 .2-2.3 .2 1.4 .2-1.5 .5-.3 .2 .2" fill="none" stroke="#000" stroke-width="4.8" stroke-linejoin="round" stroke-linecap="round"/>
<rect x="1677.5" y="476" width="192" height="63" fill="#fff"/>
<line x1="1705.5" y1="507" x2="1774.5" y2="507" stroke="#000" stroke-width="4.6" stroke-linecap="round"/>
<text x="1784.6" y="516.0" font-size="32" text-anchor="start" fill="#595959" stroke="#595959" stroke-width="0.5" textLength="69.6" lengthAdjust="spacingAndGlyphs">Close</text>
<line x1="125.80" y1="877.50" x2="1876.90" y2="877.50" stroke="#D9D9D9" stroke-width="2"/>
<line x1="125.80" y1="936.10" x2="1876.90" y2="936.10" stroke="#D9D9D9" stroke-width="2"/>
<line x1="125.80" y1="994.70" x2="1876.90" y2="994.70" stroke="#D9D9D9" stroke-width="2"/>
<line x1="125.80" y1="1053.30" x2="1876.90" y2="1053.30" stroke="#D9D9D9" stroke-width="2"/>
<line x1="125.80" y1="1111.90" x2="1876.90" y2="1111.90" stroke="#D9D9D9" stroke-width="2"/>
<line x1="125.80" y1="1170.50" x2="1876.90" y2="1170.50" stroke="#D9D9D9" stroke-width="2"/>
<line x1="125.80" y1="1229.10" x2="1876.90" y2="1229.10" stroke="#BFBFBF" stroke-width="2"/>
<line x1="125.80" y1="1287.70" x2="1876.90" y2="1287.70" stroke="#D9D9D9" stroke-width="2"/>
<line x1="125.80" y1="1346.30" x2="1876.90" y2="1346.30" stroke="#D9D9D9" stroke-width="2"/>
<line x1="125.80" y1="876.50" x2="125.80" y2="1347.30" stroke="#BFBFBF" stroke-width="2"/>
<line x1="193.15" y1="876.50" x2="193.15" y2="1347.30" stroke="#D9D9D9" stroke-width="2"/>
<line x1="260.50" y1="876.50" x2="260.50" y2="1347.30" stroke="#D9D9D9" stroke-width="2"/>
<line x1="327.85" y1="876.50" x2="327.85" y2="1347.30" stroke="#D9D9D9" stroke-width="2"/>
<line x1="395.20" y1="876.50" x2="395.20" y2="1347.30" stroke="#D9D9D9" stroke-width="2"/>
<line x1="462.55" y1="876.50" x2="462.55" y2="1347.30" stroke="#D9D9D9" stroke-width="2"/>
<line x1="529.90" y1="876.50" x2="529.90" y2="1347.30" stroke="#D9D9D9" stroke-width="2"/>
<line x1="597.25" y1="876.50" x2="597.25" y2="1347.30" stroke="#D9D9D9" stroke-width="2"/>
<line x1="664.60" y1="876.50" x2="664.60" y2="1347.30" stroke="#D9D9D9" stroke-width="2"/>
<line x1="731.95" y1="876.50" x2="731.95" y2="1347.30" stroke="#D9D9D9" stroke-width="2"/>
<line x1="799.30" y1="876.50" x2="799.30" y2="1347.30" stroke="#D9D9D9" stroke-width="2"/>
<line x1="866.65" y1="876.50" x2="866.65" y2="1347.30" stroke="#D9D9D9" stroke-width="2"/>
<line x1="934.00" y1="876.50" x2="934.00" y2="1347.30" stroke="#D9D9D9" stroke-width="2"/>
<line x1="1001.35" y1="876.50" x2="1001.35" y2="1347.30" stroke="#D9D9D9" stroke-width="2"/>
<line x1="1068.70" y1="876.50" x2="1068.70" y2="1347.30" stroke="#D9D9D9" stroke-width="2"/>
<line x1="1136.05" y1="876.50" x2="1136.05" y2="1347.30" stroke="#D9D9D9" stroke-width="2"/>
<line x1="1203.40" y1="876.50" x2="1203.40" y2="1347.30" stroke="#D9D9D9" stroke-width="2"/>
<line x1="1270.75" y1="876.50" x2="1270.75" y2="1347.30" stroke="#D9D9D9" stroke-width="2"/>
<line x1="1338.10" y1="876.50" x2="1338.10" y2="1347.30" stroke="#D9D9D9" stroke-width="2"/>
<line x1="1405.45" y1="876.50" x2="1405.45" y2="1347.30" stroke="#D9D9D9" stroke-width="2"/>
<line x1="1472.80" y1="876.50" x2="1472.80" y2="1347.30" stroke="#D9D9D9" stroke-width="2"/>
<line x1="1540.15" y1="876.50" x2="1540.15" y2="1347.30" stroke="#D9D9D9" stroke-width="2"/>
<line x1="1607.50" y1="876.50" x2="1607.50" y2="1347.30" stroke="#D9D9D9" stroke-width="2"/>
<line x1="1674.85" y1="876.50" x2="1674.85" y2="1347.30" stroke="#D9D9D9" stroke-width="2"/>
<line x1="1742.20" y1="876.50" x2="1742.20" y2="1347.30" stroke="#D9D9D9" stroke-width="2"/>
<line x1="1809.55" y1="876.50" x2="1809.55" y2="1347.30" stroke="#D9D9D9" stroke-width="2"/>
<line x1="1876.90" y1="876.50" x2="1876.90" y2="1347.30" stroke="#D9D9D9" stroke-width="2"/>
<text x="95.2" y="885.9" font-size="32" text-anchor="end" fill="#595959" stroke="#595959" stroke-width="0.5" textLength="57.6" lengthAdjust="spacingAndGlyphs">30%</text>
<text x="95.2" y="944.5" font-size="32" text-anchor="end" fill="#595959" stroke="#595959" stroke-width="0.5" textLength="57.6" lengthAdjust="spacingAndGlyphs">25%</text>
<text x="95.2" y="1003.1" font-size="32" text-anchor="end" fill="#595959" stroke="#595959" stroke-width="0.5" textLength="57.6" lengthAdjust="spacingAndGlyphs">20%</text>
<text x="95.2" y="1061.7" font-size="32" text-anchor="end" fill="#595959" stroke="#595959" stroke-width="0.5" textLength="57.6" lengthAdjust="spacingAndGlyphs">15%</text>
<text x="95.2" y="1120.3" font-size="32" text-anchor="end" fill="#595959" stroke="#595959" stroke-width="0.5" textLength="57.6" lengthAdjust="spacingAndGlyphs">10%</text>
<text x="95.2" y="1178.9" font-size="32" text-anchor="end" fill="#595959" stroke="#595959" stroke-width="0.5" textLength="41.2" lengthAdjust="spacingAndGlyphs">5%</text>
<text x="95.2" y="1237.5" font-size="32" text-anchor="end" fill="#595959" stroke="#595959" stroke-width="0.5" textLength="41.2" lengthAdjust="spacingAndGlyphs">0%</text>
<text x="95.2" y="1296.1" font-size="32" text-anchor="end" fill="#595959" stroke="#595959" stroke-width="0.5" textLength="51.5" lengthAdjust="spacingAndGlyphs">-5%</text>
<text x="95.2" y="1354.7" font-size="32" text-anchor="end" fill="#595959" stroke="#595959" stroke-width="0.5" textLength="67.9" lengthAdjust="spacingAndGlyphs">-10%</text>
<!--P2SERIES-->
<clipPath id="c2"><rect x="124.8" y="877.5" width="1754.1" height="471.1"/></clipPath>
<g clip-path="url(#c2)"><path d="M138.7 817.5l.6 0 .1 0 .2 0 .2 0 .2 0 .6 0 .1 0 .2 0 .2 0 .2 0 .5 0 .2 0 .2 0 .2 0 .2 0 .5 0 .2 0 .2 0 .2 0 .2 0 .5 0 .2 0 .2 0 .2 0 .2 0 .5 0 .2 0 .2 0 .2 0 .2 0 .5 0 .2 0 .2 0 .2 0 .1 0 .6 0 .2 0 .2 0 .1 0 .2 0 .6 0 .2 0 .2 0 .1 0 .2 0 .6 0 .2 0 .1 0 .2 0 .2 0 .6 0 .2 0 .1 0 .2 0 .2 0 .6 0 .1 0 .2 0 .2 0 .2 0 .5 0 .2 0 .2 0 .2 0 .2 0 .5 0 .2 0 .2 0 .2 0 .2 0 .5 0 .2 0 .2 0 .2 0 .2 0 .5 0 .2 0 .2 0 .2 0 .2 0 .5 0 .2 0 .2 0 .2 0 .2 0 .5 0 .2 0 .2 0 .2 0 .1 0 .6 0 .2 0 .2 0 .1 0 .2 0 .6 0 .2 0 .2 0 .1 0 .2 0 .6 0 .2 0 .1 0 .2 0 .2 0 .6 0 .2 0 .1 0 .2 0 .2 0 .6 0 .1 0 .2 0 .2 0 .2 0 .5 0 .2 0 .2 0 .2 0 .2 0 .5 0 .2 0 .2 0 .2 0 .2 0 .5 0 .2 0 .2 0 .2 0 .2 0 .5 0 .2 0 .2 0 .2 0 .2 0 .5 0 .2 0 .2 0 .2 0 .1 0 .6 0 .2 0 .2 0 .2 0 .1 0 .6 0 .2 0 .2 0 .1 0 .2 0 .6 0 .2 15.4 .2 11.4 .1-2 .2-24.8 .6 22.1 .2 26.6 .1-35.4 .2-9.9 .2-3.4 .6 0 .1 0 .2 4 .2 102.8 .2 39.6 .6 52.4 .1-18.7 .2-31.3 .2 62 .2 19.5 .5 70.2 .2 51.2 .2 102.2 .2-19.2 .2 18.2 .5-39.8 .2 8.7 .2 44 .2-5 .2 32.4 .5 55.7 .2 29.4 .2 10.5 .2 0 .2 0 .5 0 .2 0 .2 0 .2-1.8 .2-18.9 .5-61.1 .2-52.1 .2 28.4 .2 14.8 .1-9.2 .6 10.6 .2 48.3 .2 41 .2 0 .1 0 .6 0 .2 0 .2 0 .1 0 .2 0 .6 0 .2 0 .2 0 .1 0 .2 0 .6 0 .2 0 .1 0 .2 0 .2 0 .6 0 .1 0 .2 0 .2 0 .2 0 .6 0 .1 0 .2 0 .2 0 .2 0 .5 0 .2 0 .2 0 .2 0 .2 0 .5 0 .2 0 .2 0 .2 0 .2 0 .5 0 .2 0 .2 0 .2 0 .2 0 .5 0 .2 0 .2 0 .2 0 .2 0 .5 0 .2 0 .2 0 .2 0 .1 0 .6 0 .2 0 .2 0 .2 0 .1 0 .6 0 .2 0 .2 0 .1 0 .2 0 .6 0 .2 0 .1 0 .2 0 .2 0 .6 0 .2 0 .1 0 .2 0 .2 0 .6 0 .1 0 .2 0 .2 0 .2 0 .6 0 .1 0 .2 0 .2 0 .2 0 .5 0 .2 0 .2 0 .2 0 .2 0 .5 0 .2 0 .2 0 .2 0 .2 0 .5 0 .2 0 .2 0 .2 0 .2 0 .5 0 .2 0 .2 0 .2 0 .2 0 .5 0 .2 0 .2 0 .2 0 .1 0 .6 0 .2 0 .2 0 .2 0 .1 0 .6 0 .2 0 .2 0 .1 0 .2 0 .6 0 .2 0 .1 0 .2 0 .2 0 .6 0 .2 0 .1 0 .2 0 .2 0 .6 0 .1 0 .2 0 .2 0 .2 0 .6 0 .1 0 .2 0 .2 0 .2 0 .5 0 .2 0 .2 0 .2 0 .2 0 .5 0 .2 0 .2 0 .2 0 .2 0 .5 0 .2 0 .2 0 .2 0 .2 0 .5 0 .2 0 .2 0 .2 0 .2 0 .5 0 .2 0 .2 0 .2 0 .1 0 .6 0 .2 0 .2 0 .1 0 .2 0 .6 0 .2 0 .2 0 .1 0 .2 0 .6 0 .2 0 .1 0 .2 0 .2 0 .6 0 .2 0 .1 0 .2 0 .2 0 .6 0 .1 0 .2 0 .2 0 .2 0 .5 0 .2 0 .2 0 .2 0 .2 0 .5 0 .2 0 .2 0 .2 0 .2 0 .5 0 .2 0 .2 0 .2 0 .2 0 .5 0 .2 0 .2 0 .2 0 .2 0 .5 0 .2 0 .2 0 .2 0 .1 0 .6 0 .2 0 .2 0 .2 0 .1 0 .6 0 .2 0 .2 0 .1 0 .2 0 .6 0 .2 0 .2 0 .1 0 .2 0 .6 0 .2 0 .1 0 .2 0 .2 0 .6 0 .2 0 .1 0 .2 0 .2 0 .6 0 .1 0 .2 0 .2 0 .2 0 .5 0 .2 0 .2 0 .2 0 .2 0 .5 0 .2 0 .2 0 .2 0 .2 0 .5 0 .2 0 .2 0 .2 0 .2 0 .5 0 .2 0 .2 0 .2 0 .2 0 .5 0 .2 0 .2 0 .2 0 .1 0 .6 0 .2 0 .2 0 .2 0 .1 0 .6 0 .2 0 .2 0 .1 0 .2 0 .6 0 .2 0 .2 0 .1 0 .2 0 .6 0 .2 0 .1 0 .2 0 .2 0 .6 0 .1 0 .2 0 .2 0 .2 0 .6 0 .1 0 .2 0 .2 0 .2 0 .5 0 .2 0 .2 0 .2 0 .2 0 .5 0 .2 0 .2 0 .2 0 .2 0 .5 0 .2 0 .2 0 .2 0 .2 0 .5 0 .2 0 .2 0 .2 0 .2 0 .5 0 .2 0 .2 0 .2 0 .1 0 .6-17.4 .2-31.1 .2-45.5 .2-26.6 .1 53.9 .6-3.4 .2-39.5 .2 35.6 .1 48.9 .2-6.6 .6-16.9 .2-57.1 .2-2.6 .1 48.8 .2 8.8 .6-7.6 .2-51.8 .1-56.2 .2-21.1 .2 65.2 .6 47.4 .1-15.7 .2 33.9 .2 11.3 .2 1.9 .6 28 .1 15.4 .2 0 .2 0 .2 0 .5 0 .2 0 .2 0 .2 0 .2 0 .5 0 .2 0 .2 0 .2 0 .2 0 .5 0 .2 0 .2 0 .2 0 .2 0 .5 0 .2 0 .2 0 .2 0 .2 0 .5 0 .2 0 .2 0 .2 0 .1 0 .6 0 .2 0 .2 0 .2 0 .1 0 .6 0 .2 0 .2 0 .1 0 .2 0 .6 0 .2 0 .1 0 .2 0 .2 0 .6 0 .2 0 .1 0 .2 0 .2 0 .6 0 .1 0 .2 0 .2 0 .2 0 .6 0 .1 0 .2 0 .2 0 .2 0 .5 0 .2 0 .2 0 .2 0 .2 0 .5 0 .2 0 .2 0 .2 0 .2 0 .5 0 .2 0 .2 0 .2 0 .2 0 .5 0 .2 0 .2 0 .2 0 .2 0 .5 0 .2 0 .2 0 .2 0 .1 0 .6 0 .2 0 .2 0 .1 0 .2 0 .6 0 .2 0 .2 0 .1 0 .2 0 .6 0 .2 0 .1 0 .2 0 .2 0 .6 0 .2 0 .1 0 .2 0 .2 0 .6 0 .1 0 .2 0 .2 0 .2 0 .6 0 .1 0 .2 0 .2 0 .2 0 .5 0 .2 0 .2 0 .2 0 .2 0 .5 0 .2 0 .2 0 .2 0 .2 0 .5 0 .2 0 .2 0 .2 0 .2 0 .5 0 .2 0 .2 0 .2 0 .2 0 .5 0 .2 0 .2 0 .2 0 .1 0 .6 0 .2 0 .2 0 .1 0 .2 0 .6 0 .2 0 .2 0 .1 0 .2 0 .6 0 .2 0 .1 0 .2 0 .2 0 .6 0 .2 0 .1 0 .2 0 .2 0 .6 0 .1 0 .2 0 .2 0 .2 0 .5 0 .2 0 .2 0 .2 0 .2 0 .5 0 .2 0 .2 0 .2 0 .2 0 .5 0 .2 0 .2 0 .2 0 .2 0 .5 0 .2 0 .2 0 .2 0 .2 0 .5 0 .2 0 .2 0 .2 0 .1 0 .6 0 .2 0 .2 0 .2 0 .1 0 .6 0 .2 0 .2 0 .1 0 .2 0 .6 0 .2 0 .2 0 .1 0 .2 0 .6 0 .2 0 .1 0 .2 0 .2 0 .6 0 .1 0 .2 0 .2 0 .2 0 .6 0 .1 0 .2 0 .2 0 .2 0 .5 0 .2 0 .2 0 .2 0 .2 0 .5 0 .2 0 .2 0 .2 0 .2 0 .5 0 .2 0 .2 0 .2 0 .2 0 .5 0 .2 0 .2 0 .2 0 .2 0 .5 0 .2 0 .2 0 .2 0 .1 0 .6 0 .2 0 .2 0 .2 0 .1 0 .6 0 .2 0 .2 0 .1 0 .2 0 .6 0 .2 0 .2 0 .1 0 .2 0 .6 0 .2 0 .1 0 .2 0 .2 0 .6 0 .1 0 .2 0 .2 0 .2 0 .6-16.9 .1-27.7 .2-11.9 .2 .2 .2-42.8 .5-12.5 .2 .5 .2 3.2 .2 12.9 .2 5.3 .5 78.9 .2 10.8 .2 0 .2 0 .2 0 .5 0 .2-26 .2-6.4 .2 1.5 .2 7.4 .5-10.8 .2-31.2 .2-19.9 .2-25.3 .2-29.5 .5-14.8 .2-50.4 .2-78.1 .2-4.8 .1 9.3 .6-7 .2-24.2 .2 29 .2-34.1 .1-27.4 .6-11.6 .2-33.4 .2 12.5 .1-34 .2-44 .6 38.4 .2-1.3 .1-23.2 .2-15 .2 30.4 .6 27.3 .2-39.9 .1-3.8 .2-18 .2 1.3 .6-8.7 .1-63.4 .2-40 .2 6.7 .2-26.4 .6 0 .1 0 .2 0 .2 0 .2 0 .5 0 .2 0 .2 0 .2 0 .2 0 .5 0 .2 57.8 .2-51.2 .2-2.1 .2 25.6 .5 56.7 .2 40.8 .2-10.3 .2 3 .2 1.7 .5-19.6 .2 24.2 .2-22.7 .2 30.1 .2-21.2 .5 42.6 .2-12.2 .2-42.7 .2 27.2 .1 22.7 .6-76.3 .2-28.2 .2 18 .2 3 .1-35.8 .6 17.6 .2-41.5 .2-7.2 .1 0 .2 0 .6 0 .2 0 .1 0 .2 0 .2 0 .6 0 .2 0 .1 0 .2 0 .2 0 .6 0 .1 0 .2 0 .2 0 .2 0 .6 0 .1 0 .2 0 .2 0 .2 0 .5 0 .2 0 .2 0 .2 0 .2 0 .5 0 .2 0 .2 0 .2 0 .2 0 .5 0 .2 0 .2 0 .2 0 .2 0 .5 0 .2 0 .2 0 .2 0 .2 0 .5 0 .2 0 .2 9.4 .2-9.4 .1 14.6 .6-2.3 .2 34.8 .2 34 .1 60.3 .2-54.4 .6-12.3 .2 35.5 .2 1.4 .1-6.3 .2-6.5 .6-33.7 .2 22.8 .1 78.9 .2-16.5 .2-48.4 .6-34.5 .2 11.7 .1-35 .2-13.4 .2 7.6 .6 28.9 .1-21.4 .2-45.8 .2 0 .2 0 .5 0 .2 0 .2 0 .2 0 .2 0 .5 0 .2 0 .2 0 .2 0 .2 0 .5 0 .2 0 .2 0 .2 0 .2 0 .5 0 .2 0 .2 0 .2 0 .2 0 .5 0 .2 0 .2 0 .2 0 .2 0 .5 0 .2 0 .2 0 .2 0 .1 0 .6 0 .2 0 .2 0 .1 0 .2 0 .6 0 .2 0 .2 0 .1 0 .2 0 .6 0 .2 0 .1 0 .2 0 .2 0 .6 0 .2 0 .1 0 .2 0 .2 0 .6 0 .1 0 .2 0 .2 0 .2 0 .5 0 .2 0 .2 0 .2 0 .2 0 .5 0 .2 0 .2 0 .2 0 .2 0 .5 0 .2 0 .2 0 .2 0 .2 3.4 .5 83.6 .2 17.2 .2 11.3 .2-7.1 .2-41.6 .5 28.1 .2-16.5 .2-1.8 .2-20.9 .1-28.5 .6-27.2 .2 0 .2 0 .2 0 .1 0 .6 0 .2 0 .2 0 .1 0 .2 0 .6 9.2 .2 22.4 .2 1.2 .1 7 .2-18.3 .6 26.8 .2-.9 .1 7.2 .2-5.2 .2-4 .6 30.3 .1-15.8 .2-2.2 .2 16.6 .2-27 .6 58.9 .1-9.3 .2-11.1 .2 40.8 .2 0 .5 15.8 .2-5.4 .2 8.9 .2 6.4 .2 18.8 .5-5.8 .2-11.5 .2-7.7 .2-10.7 .2 13.1 .5 29 .2 5.7 .2 7.5 .2 41.4 .2 22.7 .5-3.9 .2 3.6 .2-13.9 .2 7.4 .2-16.1 .5-2 .2-1.9 .2-3.4 .2-8.4 .1-17.5 .6 13.6 .2 2.6 .2-19.9 .2-16.9 .1-36 .6-41.3 .2 6.7 .2 3.3 .1 24.3 .2 8.5 .6 12 .2 9 .2 10 .1 37.5 .2 28.4 .6 38.3 .2 16 .1 13.3 .2-6.6 .2-19.7 .6 8.8 .1-1.5 .2 24.5 .2 13.5 .2 16.7 .6 30.3 .1-2.6 .2-36.7 .2-10.4 .2-7.3 .5 5.2 .2 3.3 .2-7 .2-1.7 .2 20.2 .5 33.5 .2 2.1 .2 17.2 .2 10.4 .2-36.7 .5-11 .2 2.1 .2-4.6 .2 6.8 .2 20 .5 5.6 .2-9 .2 9.7 .2 14.8 .2-18.9 .5 20.7 .2 .3 .2-13.9 .2 27 .1-2.7 .6-.8 .2 1.6 .2 14.3 .2-4.8 .1-2.3 .6-3.1 .2 6.5 .2 .5 .1-1.9 .2-18.5 .6 1.6 .2 17.7 .1 .5 .2-4.1 .2-20.9 .6-35.2 .2 5.2 .1-20.8 .2-32.1 .2 4.8 .6 23.8 .1 8.7 .2-18.5 .2-22 .2-19.4 .6 26.4 .1 1.5 .2 25.4 .2 17.1 .2 9.5 .5 11.9 .2 10.9 .2 2 .2-4.9 .2 2.8 .5 3.9 .2-4.6 .2 23 .2-8 .2-8.5 .5-.5 .2-9.5 .2-18.7 .2-6.7 .2-20.2 .5-22.7 .2-6.9 .2 4.2 .2-10.2 .2-30.1 .5 .8 .2-3.9 .2 10.2 .2 12.2 .1-7.8 .6 1.7 .2-2.9 .2 15.6 .2-6.3 .1-19.8 .6 18.9 .2-13.5 .2 9.3 .1 13.7 .2-11.1 .6 6.2 .2 2.4 .1-22.7 .2 1.8 .2 5.1 .6 9.3 .2-10.3 .1 22.2 .2-1.8 .2-4.1 .6 6.1 .1 1.6 .2-5.3 .2-13.5 .2 5.1 .6-17.5 .1-8.5 .2-1.7 .2 18.7 .2 13.8 .5 2.2 .2 9.5 .2 27.5 .2 6.2 .2 1.2 .5 32.2 .2 7.4 .2-8.4 .2 5.8 .2 13.7 .5 16.7 .2 11.5 .2 7.3 .2-1 .2 19.8 .5 18.4 .2-2.2 .2-1.2 .2-8.5 .2-18.6 .5-29 .2-11.1 .2-4.3 .2 .6 .1 21 .6-3.6 .2-1.2 .2-13.8 .1 17.2 .2-7 .6-8.6 .2-6.4 .2-13.2 .1-1.3 .2 .3 .6-.2 .2-2.9 .1-9.1 .2-3.7 .2 9.9 .6 19.8 .2-8 .1-26 .2 2.9 .2-34.2 .6-20.5 .1 7.2 .2-13 .2 13.6 .2 13.6 .5 23.8 .2 7.9 .2-4.8 .2 6.8 .2-14.7 .5 8 .2-4.3 .2-5.3 .2-1.1 .2 12.9 .5 31.1 .2 11.2 .2-4.2 .2-14.7 .2 5.1 .5 22.6 .2 29.2 .2 6.9 .2-9.5 .2 18.7 .5-15.3 .2 7.6 .2 4.9 .2-4 .1-6.1 .6-8.9 .2-11.6 .2-12.9 .2-9.7 .1-16 .6 6.4 .2-12.6 .2 19.3 .1 18.3 .2-5.3 .6-2.7 .2 5.8 .2 1.5 .1-6.4 .2-15.1 .6 18.5 .2-23.8 .1-4.3 .2-10.5 .2-33.6 .6 26.8 .2-22.3 .1 2.2 .2-12.3 .2 12.8 .6-22 .1-5.1 .2-3.8 .2 8.6 .2 12.4 .5-18.9 .2 19.5 .2-5.3 .2 11.6 .2-25.6 .5-20.7 .2 23.5 .2 10.1 .2-2.4 .2-5.9 .5-10.3 .2-5.4 .2 10.9 .2 4.2 .2 23.4 .5 19.5 .2-11.4 .2 1 .2-12.5 .2 4 .5 18.2 .2 17.2 .2-19.4 .2-10.7 .1 .8 .6-20 .2-24.5 .2-2.3 .2-1.3 .1-7.5 .6-10 .2 1.9 .2-14.1 .1 13.4 .2-8.1 .6 3.9 .2-15.1 .2-4.7 .1-1 .2-10.8 .6-20.4 .2-35.6 .1-5.9 .2 16.3 .2 3.8 .6 11 .1 10.1 .2-13.8 .2-8.2 .2-9.2 .6 2 .1 5.1 .2 5.2 .2-.9 .2-11.4 .5 26.8 .2 2.7 .2 5.9 .2 7.2 .2-2.3 .5 4.1 .2-1.5 .2-8.1 .2 35.8 .2-26 .5 6.4 .2 1.1 .2-12.4 .2 15.4 .2-25.5 .5 6.1 .2 12.8 .2-23.3 .2-8.6 .2 5.7 .5-.5 .2 23.2 .2-7.8 .2 23.3 .1-17.4 .6 2.2 .2 11.3 .2-10.6 .2 7.6 .1-.4 .6 14.3 .2 17.1 .2 14.4 .1 11 .2 17.2 .6 9.3 .2 5.5 .1 2.3 .2-5.3 .2 12.6 .6 12.5 .2-2.7 .1-10.3 .2-2.4 .2-7.4 .6 2.5 .1-13.8 .2-26.2 .2-2.4 .2 14 .6-11.8 .1-9.4 .2-6 .2-10 .2-15.3 .5 8.3 .2-2.8 .2 6.9 .2 14.1 .2 8.6 .5 2.2 .2 13.5 .2 11.4 .2-16.7 .2 9.9 .5-2.9 .2-4.2 .2 5.6 .2-15.5 .2-9.2 .5 15.5 .2 7.6 .2 2.2 .2-28.3 .2 2.9 .5-.7 .2 30.1 .2 14.5 .2-9.4 .1-2.1 .6 11.2 .2-4 .2 9 .2 12.9 .1 1.5 .6 18.4 .2-2.5 .2 5.3 .1-13.4 .2 6.9 .6-17 .2-5.3 .1-8.2 .2-9.6 .2 16.9 .6-5.5 .2 12.2 .1 11.6 .2 4.8 .2 17.8 .6-1.5 .1-18.5 .2-17.3 .2-27.2 .2-6.3 .6-6.3 .1-30.4 .2-23.7 .2 9.6 .2-23.6 .5-11.3 .2-13.4 .2-5.9 .2-22.5 .2 20.5 .5-2.4 .2-2.5 .2 7.8 .2 3.9 .2 13.3 .5 10.2 .2 19.3 .2 14.3 .2 17.5 .2-4.8 .5-2.2 .2 7.8 .2 0 .2-3.1 .2 10.1 .5 24 .2 2.1 .2 5.4 .2-1.3 .1 4.4 .6-11.7 .2-4.9 .2-5.1 .1-14 .2 11.4 .6-7.2 .2-6.4 .2-6.9 .1 15.5 .2-12.2 .6 17.6 .2-5.3 .1-10.7 .2 2.6 .2-21.2 .6-15.9 .2 .7 .1-10.7 .2-6.3 .2-3.8 .6-8.2 .1-29.1 .2 17.8 .2-4.8 .2-18.4 .6-13.1 .1 1 .2 2.3 .2 23.6 .2 23.2 .5 8.7 .2-16.3 .2-17.3 .2-26.3 .2 9.9 .5-13.5 .2 8.9 .2-9.4 .2-.3 .2 6.4 .5 19.2 .2-12.4 .2 5.4 .2 12 .2 10 .5 2.5 .2-7.5 .2-4.8 .2-25.4 .2-4.1 .5 13.4 .2 30.3 .2-3.4 .2 16.4 .1-9.2 .6 15.5 .2 12 .2 17.2 .1 15.7 .2 14.2 .6 17.2 .2-8.2 .2 13.4 .1 6.1 .2 24.3 .6-16.4 .2 14.1 .1 13.3 .2 25.6 .2-5.9 .6 15.6 .2 21.6 .1-2.7 .2 4.2 .2-7.9 .6 21.1 .1 4.5 .2-11.9 .2-10.8 .2 27.3 .5 11.2 .2 1.4 .2 2.3 .2-22 .2 .4 .5-12.2 .2-12.5 .2 3.6 .2 4.8 .2 7.2 .5-13.4 .2 1.1 .2 12.8 .2 5.1 .2-3.1 .5-19.7 .2 10.1 .2 20.8 .2-13.1 .2 2.6 .5 23.1 .2 8.2 .2 7.6 .2 10.8 .1-.2 .6 15.1 .2 11.9 .2 3.9 .2 11.5 .1 .8 .6-.6 .2-7.2 .2 2 .1-7.4 .2-2.7 .6-2.9 .2 1.7 .2-20.9 .1 .6 .2-19.2 .6 .7 .2-12.8 .1-8.7 .2-4.3 .2 4.5 .6-.8 .1-7.9 .2 1.2 .2-13.3 .2-6.4 .6 9.1 .1 4.1 .2-32.4 .2 20.7 .2-25.2 .5-1 .2 2.8 .2 1.9 .2 1.6 .2-1.5 .5 14.6 .2-14.6 .2-3.9 .2 1.4 .2 8.8 .5-8 .2 6.9 .2-24.8 .2 5.6 .2 3.1 .5 3.4 .2 2.7 .2-28 .2-7.9 .2-4 .5-10.4 .2-25.8 .2 2.7 .2-28.9 .1-8.3 .6-1.1 .2-4 .2 .9 .2-5.2 .1-8 .6 7.4 .2-20 .2-9.5 .1 9.4 .2 5 .6 .9 .2 6.8 .2 3.4 .1 11.1 .2-11.8 .6-3.6 .2 8 .1 14.2 .2 6 .2 .3 .6 .4 .1 .1 .2 27.8 .2-1.1 .2 10.4 .6-12.3 .1-22.1 .2 12.2 .2-6.5 .2 15.6 .5-6.3 .2 1.3 .2-12.6 .2 6.8 .2 3.7 .5 4.6 .2-13.4 .2-13.9 .2 5.9 .2 29.4 .5 6.2 .2 11.9 .2-20.7 .2 11.4 .2 2.8 .5-5.4 .2 .1 .2-1.6 .2-20.5 .2-1 .5-5.9 .2-19.5 .2-2.8 .2 27.6 .1-10.6 .6-3.9 .2 20 .2 12.5 .2 23.6 .1 11.2 .6-3.2 .2-1.5 .2 5.9 .1-19.3 .2-8.5 .6-7.3 .2 14.3 .1 11.8 .2 4.9 .2 5.5 .6-2.8 .2 11.1 .1 9 .2 12.9 .2-15.5 .6-13.6 .1-1.3 .2 3.1 .2 8.1 .2 20.3 .6-16 .1-6 .2-9 .2-3 .2 0 .5-22.1 .2 13.7 .2-15.1 .2 2.7 .2-25.3 .5 15.8 .2-3.5 .2 .6 .2 7.9 .2-6.1 .5-50.3 .2-4 .2-7.4 .2-1.1 .2 8 .5-2.7 .2 .1 .2-5.8 .2 1.2 .2 28.4 .5-4.4 .2 22.2 .2 12.6 .2 14.5 .1 12.7 .6 19.7 .2 .2 .2 .7 .2-17.1 .1-6.8 .6-2.1 .2 12.2 .2-10.3 .1 13.4 .2 6.9 .6-9.9 .2 14 .1 8.2 .2 2.6 .2-8.9 .6 8 .2 11.7 .1-6.5 .2-29.4 .2 2.9 .6 2.1 .1-8.7 .2-10.8 .2-14.8 .2 9.6 .6-2.5 .1-5.8 .2-9.9 .2 7.7 .2-22.8 .5-17.3 .2-12.1 .2 5.2 .2-6.7 .2-28.5 .5 6.1 .2 4.6 .2 8.8 .2 7.6 .2 3.7 .5-6.8 .2 2.2 .2-14.5 .2-20.6 .2-24 .5 12.2 .2-17.7 .2-20.6 .2-9.7 .2-5.4 .5-5.6 .2-3 .2-8.7 .2 1.8 .1 2.9 .6-18.4 .2 9.2 .2-12.7 .1-11.1 .2-13.8 .6 2.5 .2-17.1 .2 3.9 .1 1.9 .2-12.3 .6-7.4 .2-3.1 .1 12.6 .2 8 .2-7.7 .6-20.5 .2-2.1 .1-6.4 .2 2 .2 26.7 .6-19.6 .1-9.2 .2 9.7 .2-.8 .2-4 .5 3 .2 19.4 .2-1.1 .2-6.5 .2 14.9 .5-.5 .2 5.6 .2-12.7 .2-8.7 .2 58.8 .5-23.7 .2-2.2 .2-26.5 .2-49.1 .2-29.1 .5-5.3 .2-8.7 .2 0 .2 0 .2 0 .5 0 .2 0 .2 0 .2 0 .2 14.6 .5 2.8 .2 1.7 .2-13.6 .2 9.8 .1 32.5 .6 39.4 .2-21 .2 18.9 .1 14.5 .2-15.1 .6-9.8 .2 13.5 .2 24.4 .1 31.3 .2-2 .6-5.3 .2 12.7 .1 6 .2 10.2 .2-20.7 .6 17.5 .2 18.6 .1 10.4 .2-7.1 .2 18.2 .6-27 .1-29.5 .2-33.5 .2-8 .2 29.4 .5 4.6 .2 49.2 .2-14.1 .2 11.8 .2-31.5 .5-36.4 .2-12 .2-5.3 .2 7.9 .2-26.3 .5 16.8 .2 10.7 .2 31.1 .2-32.1 .2-13 .5-8.6 .2 12.9 .2-5.7 .2 .1 .2-13.9 .5 13.6 .2-16.7 .2 6.2 .2 .7 .1 3.9 .6-5.5 .2 5.3 .2-6.9 .2 12.8 .1-1.6 .6 15.4 .2 14.3 .2-14.5 .1 1.1 .2-9.5 .6-9 .2 22 .2-6.2 .1 2.8 .2 48.4 .6-1 .2 38.8 .1 39.7 .2 21.5 .2 14.4 .6 17.1 .1 1.3 .2 3.9 .2 18.2 .2 5.2 .6 9.8 .1-13.6 .2 6 .2 18.8 .2-16.6 .5-11 .2-16 .2-20.3 .2 31.5 .2-29.1 .5-1.6 .2-29 .2-5.9 .2-.9 .2-9.3 .5-20.6 .2 5 .2 19.6 .2 12.1 .2-34.7 .5-18 .2-11.9 .2-4.3 .2-22.5 .2-25.2 .5-16.9 .2-9 .2 20.9 .2-6 .1 50.2 .6 27.4 .2 21.6 .2 41.4 .2 14.2 .1 36.5 .6 11.6 .2 11.8 .2 23.1 .1 2.7 .2-2.2 .6 18.2 .2 14 .2-2.5 .1 24.2 .2-13.3 .6 11.2 .2 32.4 .1-4.7 .2 7.1 .2-.7 .6 2.9 .1 3.8 .2 2.1 .2-22.2 .2-32.4 .6 11 .1 17.7 .2 4 .2-.3 .2-6.4 .5 16 .2 12.4 .2-3.6 .2 10.7 .2 4.8 .5-12.7 .2 8.8 .2-9.2 .2 2.9 .2 10.5 .5-5.6 .2-9.2 .2-22.7 .2-14.6 .2 4.7 .5-24.6 .2 8.5 .2-22.4 .2 6.4 .2 45.4 .5 34.6 .2 5.3 .2 12.7 .2-4.1 .1-24 .6-4 .2-8.2 .2 7.6 .2-30.3 .1 12.4 .6 14.6 .2-8.8 .2 2.2 .1-3.5 .2 15.7 .6-2.1 .2-28.4 .1 12.1 .2-23.2 .2 14.7 .6-10.2 .2-8.2 .1-4.5 .2-17.1 .2 3.3 .6 14.5 .1-11.3 .2 15.8 .2 17.5 .2-24.9 .6 17.9 .1 2.9 .2-18.7 .2 10.3 .2-1.1 .5-2.2 .2-3.8 .2-17 .2-37.1 .2-13.4 .5 29.3 .2 8.7 .2-.1 .2 17.7 .2-21.6 .5-5.9 .2-.9 .2 6.5 .2-11.1 .2 9.4 .5-18.7 .2-1 .2 13.7 .2-14.3 .2 .3 .5 7 .2-15.8 .2 6.8 .2 3.4 .1-6.3 .6 18 .2 2.8 .2 .4 .1-14.8 .2 8.1 .6-6.8 .2 10 .2 3.8 .1-1.9 .2 16.7 .6-21.1 .2 11.4 .1 40.9 .2 4.2 .2 12.7 .6 16.1 .2 41.5 .1 2.1 .2-4.4 .2-6.6 .6 4.2 .1 16.7 .2 2.8 .2 11.5 .2 8.9 .6-48.9 .1 .1 .2 28.4 .2-14.5 .2 16.9 .5 33.3 .2-2.2 .2 3.9 .2 15.1 .2-15.3 .5 10.1 .2-9.2 .2-8.9 .2-17.9 .2 12.7 .5-18.5 .2-7.8 .2-23 .2 1.2 .2 8.9 .5-39.4 .2-17.7 .2-23.7 .2 17.3 .2-20.6 .5-6.2 .2-13.5 .2 14.9 .2-9.9 .1-12 .6 1.6 .2 7.5 .2 18.2 .1-8.9 .2 16.5 .6 32 .2 1.4 .2 7.8 .1-10.4 .2 15.4 .6 24.2 .2 2.6 .1 21.8 .2 5.4 .2 39.1 .6 24.1 .2 .8 .1 11.4 .2-7.5 .2-16.9 .6 28.6 .1 .3 .2 0 .2 0 .2-9.7 .5 9.7 .2 0 .2 0 .2 0 .2 0 .5 0 .2 0 .2 0 .2 0 .2 0 .5 0 .2 0 .2 0 .2 0 .2 0 .5 0 .2 0 .2 0 .2 0 .2 0 .5 0 .2 0 .2 0 .2 0 .1 0 .6 0 .2 0 .2 0 .2 0 .1 0 .6 0 .2 0 .2 0 .1 0 .2 0 .6 0 .2 0 .2 0 .1 0 .2 0 .6 0 .2 0 .1 0 .2 0 .2 0 .6 0 .2 0 .1 0 .2 0 .2 0 .6 0 .1 0 .2 0 .2 0 .2 0 .5 0 .2 0 .2 0 .2 0 .2 0 .5 0 .2 0 .2 0 .2 0 .2 0 .5 0 .2 0 .2 0 .2 0 .2 0 .5 0 .2 0 .2 0 .2 0 .2 0 .5 0 .2 0 .2 0 .2 0 .1 0 .6 0 .2 0 .2 0 .2 0 .1 0 .6 0 .2 0 .2 0 .1 0 .2 0 .6 0 .2 0 .2 0 .1 0 .2 0 .6 0 .2 0 .1 0 .2 0 .2 0 .6 0 .1 0 .2 0 .2 0 .2 0 .6 0 .1 0 .2 0 .2 0 .2 0 .5 0 .2 0 .2 0 .2 0 .2 0 .5 0 .2 0 .2 0 .2 0 .2 0 .5 0 .2 0 .2 0 .2 0 .2 0 .5 0 .2 0 .2 0 .2 0 .2 0 .5 0 .2 0 .2 0 .2 0 .1 0 .6 0 .2 0 .2 0 .2 0 .1 0 .6 0 .2 0 .2 0 .1 0 .2 0 .6 0 .2 0 .1 0 .2 0 .2 0 .6 0 .2 0 .1 0 .2 0 .2 0 .6 0 .1 0 .2 0 .2 0 .2 0 .6 0 .1 0 .2 0 .2 0 .2 0 .5 0 .2 0 .2 0 .2 0 .2 0 .5 0 .2 0 .2 0 .2 0 .2 0 .5 0 .2 0 .2 0 .2 0 .2 0 .5 0 .2 0 .2 0 .2 0 .2 0 .5 0 .2 0 .2 0 .2 0 .1 0 .6 0 .2 0 .2 0 .2 0 .1 0 .6 0 .2 0 .2 0 .1 0 .2 0 .6 0 .2 0 .1 0 .2 0 .2 0 .6 0 .2 0 .1 0 .2 0 .2 0 .6 0 .1 0 .2 0 .2 0 .2 0 .6 0 .1-.9 .2-.2 .2-1.7 .2 2.8 .5-12 .2-4.3 .2 5.8 .2 10.5 .2-6.4 .5-9.7 .2 16.1 .2 0 .2 0 .2 0 .5 0 .2 0 .2 0 .2 0 .2 0 .5 0 .2 0 .2 0 .2-10.6 .2-19.4 .5-30.7 .2-3 .2-4.6 .2 6.1 .1 3.3 .6-24 .2-36.1 .2 5.9 .1-2 .2 9.2 .6 4.7 .2-39.1 .2-8.7 .1-8.8 .2-32.2 .6 25.1 .2-3.6 .1-22 .2-27.8 .2 30 .6 33.8 .2-54.2 .1 1.5 .2 21.1 .2-5.2 .6-7.2 .1-29.3 .2-54.9 .2 9.6 .2 4.1 .5-30.1 .2-39.9 .2-17.3 .2-54.8 .2-95.3 .5-82.4 .2 160.5 .2-20 .2-29.8 .2-33.2 .5-6.2 .2 4.9 .2-3.2 .2-59 .2-14 .5 0 .2 0 .2 0 .2 29.6 .2 132.6 .5 50.3 .2-12.8 .2-10.1 .2-61.7 .2-75.8 .5-52.1 .2 0 .2 0 .2 0 .1 0 .6 0 .2 0 .2 0 .1 0 .2 0 .6 0 .2 0 .2 0 .1 0 .2 0 .6 0 .2 0 .1 0 .2 0 .2 0 .6 0 .2 0 .1 0 .2 0 .2 0 .6 0 .1 0 .2 0 .2 0 .2 0 .5 0 .2 0 .2 0 .2 0 .2 0 .5 0 .2 0 .2 0 .2 0 .2 0 .5 0 .2 0 .2 0 .2 0 .2 0 .5 0 .2 0 .2 0 .2 0 .2 0 .5 0 .2 0 .2 0 .2 0 .1 0 .6 0 .2 0 .2 0 .2 0 .1 0 .6 0 .2 0 .2 0 .1 0 .2 0 .6 0 .2 0 .2 0 .1 0 .2 0 .6 0 .2 0 .1 0 .2 0 .2 0 .6 0 .1 0 .2 0 .2 0 .2 0 .6 0 .1 0 .2 0 .2 0 .2 0 .5 0 .2 0 .2 0 .2 0 .2 0 .5 0 .2 0 .2 0 .2 0 .2 0 .5 0 .2 0 .2 0 .2 0 .2 0 .5 0 .2 0 .2 0 .2 0 .2 0 .5 0 .2 0 .2 0 .2 0 .1 0 .6 0 .2 0 .2 0 .2 0 .1 0 .6 0 .2 0 .2 0 .1 0 .2 0 .6 0 .2 0 .2 0 .1 0 .2 0 .6 0 .2 0 .1 0 .2 0 .2 11.8 .6 66.9 .1-13.4 .2-62.8 .2-2.5 .2 0 .6 0 .1 0 .2 1.2 .2 69.6 .2-12.7 .5-35.2 .2-22.9 .2 0 .2 25 .2-6.1 .5 21.4 .2 .8 .2 30.2 .2 8.8 .2 3.9 .5-19.8 .2-2.9 .2-9.1 .2 32.1 .2 16.5 .5 3.6 .2-9.8 .2-28.7 .2-1.9 .2-3 .5 8.7 .2 20.5 .2 1 .2 10.1 .1-30.1 .6 48.1 .2 15.3 .2-.3 .2 40.9 .1 25.9 .6-18.1 .2-12.9 .2-36.2 .1-30.4 .2 4.6 .6-13.8 .2 20 .1 1 .2-9.5 .2-1.1 .6 16.1 .2 14.4 .1 36.5 .2 25.5 .2 24 .6-16 .1 6.8 .2-12.8 .2-1 .2-8.9 .6-9.9 .1-6.5 .2 4.9 .2-6.1 .2 19.7 .5-14.7 .2-1.5 .2 33.3 .2-46 .2 12.5 .5 28.2 .2-3.6 .2 55.1 .2-27 .2 31.1 .5 11.7 .2 14.3 .2 .8 .2 16.2 .2 11.3 .5 8.2 .2 9.1 .2 7.5 .2-33.2 .2-11.2 .5-4.9 .2-16.1 .2 15.5 .2-1.5 .1-26.3 .6 11.4 .2-11.9 .2-31.8 .2 10.1 .1 .4 .6 24.5 .2 17.2 .2-6.1 .1-9.7 .2-20.5 .6-40.9 .2-54.1 .1 29.8 .2 14.4 .2-5.9 .6-37 .2 3.4 .1-9.6 .2-1 .2 21.9 .6 2.2 .1-16.5 .2-6.8 .2 22.6 .2-10 .6-8.6 .1 4.1 .2-.5 .2-14.3 .2-24.5 .5 .7 .2-31.1 .2 6.9 .2-23.4 .2 2.1 .5-6.5 .2-2.1 .2-28.6 .2-12.8 .2 5.8 .5 22.6 .2 3.8 .2 31 .2 18.7 .2 34.6 .5 17.1 .2 4.8 .2 21.3 .2 17 .2-29.8 .5 13.5 .2-1.9 .2 19.6 .2 16.1 .1-16.2 .6-32.8 .2 11.7 .2 6.7 .1-33.9 .2 11.1 .6-20.2 .2-24.9 .2-16.3 .1-19.2 .2 27.5 .6 20.9 .2 21 .1 5.5 .2 12.4 .2-23.8 .6 7.1 .2-21.7 .1-2.3 .2 10.6 .2-7.7 .6-10.2 .1-11.8 .2 27.1 .2 47.8 .2 7.1 .5-8.2 .2 15.5 .2-4.9 .2-7.5 .2-4.7 .5-8.4 .2-23.8 .2 4.4 .2 17.6 .2 20.5 .5 10.5 .2 5.5 .2-19.4 .2-25.5 .2-28.8 .5-18.2 .2-1.2 .2-21.8 .2-33.7 .2-15 .5-22.2 .2-9.8 .2 31.8 .2-20 .1 13.2 .6-8.3 .2-3.8 .2 17.1 .2 22.8 .1-40.7 .6 11.9 .2-5.7 .2-5 .1 14.5 .2 13.3 .6-16.9 .2 35.6 .2 2 .1 2.8 .2 11.7 .6 12.8 .2 2.3 .1 19.9 .2 15.6 .2-3.2 .6 25.6 .2 1.2 .1 19.8 .2-.5 .2 15.3 .6 11.5 .1 9 .2 14.7 .2 27.7 .2-24.3 .5 8.6 .2 14.9 .2-16.7 .2-20.8 .2 44.1 .5-25.6 .2 21.4 .2-7.8 .2-23.1 .2 3.6 .5 22 .2-21.6 .2 13.1 .2 1.1 .2 3.3 .5 17.2 .2-14.5 .2-13.8 .2-23.2 .2 5.4 .5-2 .2-15.6 .2 .5 .2 21.6 .1 4.4 .6-3.3 .2-24.3 .2 3.5 .2-8 .1-6.5 .6-17.7 .2-42.9 .2-17.8 .1-6.2 .2-1.7 .6-13.9 .2 14.2 .2 15.8 .1 40.7 .2-18.8 .6-3.1 .2-27.4 .1-30.8 .2-1.5 .2-11.1 .6 16.3 .1 39.9 .2-2.3 .2 0 .2-13.5 .6 26.1 .1 4.9 .2 11.1 .2-7.1 .2 22.4 .5 2.9 .2 9 .2 .3 .2 34 .2-.4 .5 23.6 .2-12 .2 .7 .2 19.4 .2 23.4 .5 10.2 .2-44.2 .2-21.7 .2-9.3 .2-14.1 .5 21.8 .2-35.9 .2-38.7 .2-15.3 .2-51.5 .5-28.3 .2-1.6 .2 7.4 .2-8.3 .1-12.7 .6 7.8 .2 .5 .2 6.8 .2 3.9 .1-13.8 .6 24 .2 7.5 .2 1.2 .1-9.6 .2-29.1 .6 14 .2 23.4 .2 59.9 .1 56.8 .2 13.8 .6 2.1 .2 57.4 .1 58.7 .2-7.5 .2 3.8 .6 25.1 .1-16.1 .2-5.8 .2-23.7 .2 19.7 .6-1.2 .1 .3 .2-34.7 .2-8.4 .2 25.1 .5-31 .2-2.7 .2 15.7 .2-14 .2-20.4 .5-32.9 .2-9.5 .2-12.7 .2 4.4 .2 6.9 .5 17.2 .2 5.6 .2-4.6 .2-31.6 .2-4.7 .5 8 .2-23.9 .2-4.7 .2 25.6 .2 9.1 .5-.1 .2 .9 .2 13.5 .2 19 .1 13.7 .6 28.1 .2 65.7 .2 68.1 .2-23.6 .1-17.7 .6 14.4 .2-7.6 .2-3.5 .1 3.9 .2-7.3 .6 10.6 .2 13.3 .1 31 .2 2.9 .2 14.4 .6-10.5 .2-15.4 .1-33.5 .2-28.2 .2-3.2 .6-27.3 .1 .1 .2-19.2 .2-30.1 .2 14.2 .6 19.1 .1 19.1 .2-14.2 .2-2.1 .2 18.3 .5 23.2 .2 38.6 .2 7 .2 12.5 .2 28.8 .5-27.5 .2-22.5 .2 8.2 .2 .4 .2 13.4 .5-3.1 .2 27.4 .2 10.8 .2-41.8 .2-7.8 .5-2.4 .2 33.3 .2 7.6 .2-14.3 .2 25.5 .5-13.9 .2-9.4 .2-14.9 .2 20.8 .1 19.1 .6 11.7 .2-33.6 .2-22.6 .1-4.4 .2 8.2 .6 9.2 .2-7 .2 10.9 .1 .7 .2-11.6 .6 3.8 .2 8.5 .1 8.8 .2-17 .2-18.6 .6 1.8 .2 9.6 .1-5.1 .2-.9 .2-8.2 .6 10.2 .1 2.6 .2 10 .2-12.7 .2-10.3 .6-4.5 .1-5.6 .2-19.6 .2 11.7 .2 2.2 .5 2.4 .2-9.5 .2 8 .2-4.5 .2 2.7 .5-1.2 .2-2.3 .2-10.7 .2-20.2 .2-3.8 .5-9.2 .2 2.8 .2 1 .2-8.6 .2-.9 .5 25 .2-7.7 .2 8.5 .2 .8 .2 3.4 .5-6.2 .2-11.6 .2-27.2 .2-1.2 .1-10.1 .6-21.1 .2-8.2 .2-2.7 .1-10.5 .2-20.4 .6-19.6 .2 4 .2-3.3 .1-9.8 .2-13.1 .6-10.3 .2-1.9 .1 4.8 .2-18.9 .2-9.8 .6-.1 .2 8.7 .1-3.1 .2-5.2 .2 4.9 .6 4.7 .1-7.4 .2 20.1 .2-3.3 .2-11.4 .5 8 .2 1.5 .2 19 .2 33.8 .2 4.6 .5 18.4 .2-5.2 .2-2 .2 4.2 .2 17.4 .5 6.6 .2-2.1 .2-1.4 .2 25.7 .2 15.3 .5-7 .2 6.5 .2 10.8 .2 9.6 .2 27.3 .5-13.1 .2 4.3 .2-7.9 .2 1 .1 .8 .6 2.2 .2-2.7 .2-13.6 .2 13.7 .1 20.5 .6-10.2 .2 26.1 .2-10.1 .1 14.2 .2 2.3 .6-9.7 .2 7.4 .2-10.4 .1-25.9 .2 8.4 .6-3.4 .2-10.8 .1 4.3 .2-1.8 .2 .8 .6-19.4 .1-19.3 .2 9.9 .2-23.2 .2-3.3 .6-13.9 .1 1.4 .2-18.3 .2-7.1 .2-14.2 .5-38.2 .2-14.7 .2-13.9 .2 32.7 .2-2.6 .5 14.6 .2 3.9 .2-12.2 .2 23.3 .2 9.5 .5 13.7 .2-10.4 .2 8.4 .2 7.7 .2 15.6 .5 42.8 .2 15.3 .2-3.7 .2 2.4 .2 7.8 .5 18.2 .2-4.8 .2-8.4 .2-3.2 .1 15.4 .6 22.4 .2 .2 .2-16.8 .2 1.1 .1-55.3 .6-38.9 .2-13.5 .2 3.8 .1-52.6 .2-70.4 .6-11.5 .2-7.2 .2-29.5 .1 17.9 .2-3.2 .6-4.3 .2-12.9 .1-33.4 .2-13.6 .2 28.9 .6-47.1 .1 .9 .2 30.1 .2 24.2 .2-32.8 .6 28 .1-7.5 .2 18.5 .2-12.9 .2 11.6 .5 12.2 .2 9.8 .2-6.4 .2-7.8 .2 13.9 .5 50.8 .2-1.1 .2 19.2 .2 8.3 .2 4.3 .5 1 .2-17.8 .2-11.4 .2-1.9 .2-16.2 .5-22.4 .2 19 .2-23.6 .2-52.7 .2-29.1 .5 28.2 .2-3.8 .2-3.6 .2 21.3 .1 1.2 .6 44 .2 12.6 .2 17.4 .2-3 .1-20.3 .6-17.9 .2-1.2 .2 46.2 .1 8.1 .2 30.7 .6 20.2 .2 14.3 .1 27.2 .2 12.5 .2 32.2 .6 16.4 .2-7.6 .1-7.6 .2-3.7 .2 8.4 .6 8.8 .1 27.3 .2-7.5 .2-44 .2-7.9 .6-44.8 .1 7.9 .2 12.9 .2 12.3 .2-18 .5-23.9 .2-10.6 .2 14 .2-23.7 .2-17.5 .5 37.6 .2-9.8 .2-7.6 .2-35.6 .2-6.3 .5 1 .2-2.7 .2 20.2 .2 10.3 .2 14.9 .5-60.7 .2 .6 .2-10.8 .2 14 .2 9.3 .5 6 .2-1 .2-7.1 .2 22.1 .1 .2 .6 11.5 .2 6.3 .2 1.3 .2 3.8 .1 4.7 .6 28.4 .2-4.5 .2 .3 .1 8.2 .2 2.6 .6 21.2 .2-6.9 .1-5 .2-13.9 .2 4.6 .6 1 .2-6.8 .1-.8 .2 4 .2-2 .6 22.1 .1-7 .2 6.4 .2 6 .2-3.1 .6 14.9 .1-18.1 .2 2.2 .2 9.5 .2 13.3 .5 12.9 .2 4.5 .2 2.4 .2 17 .2 1.1 .5 18.9 .2 13.9 .2 3.3 .2 11.6 .2 3.8 .5-10.9 .2-.5 .2 1.1 .2 13.2 .2-4.4 .5 4.5 .2-3.3 .2 10.7 .2-4.1 .2 12.3 .5 25.6 .2-2.4 .2-10.9 .2-2.2 .1 2.5 .6-5.1 .2-4.7 .2-3.8 .1-17.4 .2 10.3 .6 2.4 .2-2 .2-5.6 .1 3.1 .2-13.2 .6 6.4 .2 1.1 .1 4 .2 6.9 .2 5.8 .6 15.3 .2 17.1 .1 6 .2-16 .2-15.2 .6-2 .1-12.5 .2 15.7 .2-2.1 .2-4.1 .5-9.1 .2 13.4 .2 15.7 .2 3.6 .2-29.6 .5-22.8 .2-1.2 .2-2.2 .2-8.5 .2 1 .5-28.1 .2-2.2 .2-15 .2-2 .2-13.2 .5-17.4 .2-8.8 .2 9.4 .2-8.8 .2 .8 .5-9.3 .2-19.1 .2-30.7 .2-13.7 .2-10.5 .5-24.4 .2-11.4 .2-3.6 .2 18.7 .1 13.4 .6-12.1 .2 8.9 .2 8.1 .1 6.6 .2 18.7 .6 8.3 .2-7.5 .2 23.4 .1-7.7 .2 24.9 .6-4.9 .2 34.3 .1 .4 .2-23.7 .2 16.2 .6 15.1 .2 17.7 .1 24.2 .2 8.1 .2-1.6 .6 4.1 .1-3.8 .2-9.6 .2-3.4 .2-29.7 .5-.2 .2 10.8 .2 24.4 .2-16.4 .2-11.2 .5-10.3 .2 2.6 .2-14.8 .2-4.8 .2 3.3 .5-16.3 .2-12 .2-11.5 .2-5.1 .2-6 .5-12.5 .2-24 .2-13 .2-1.5 .2 .6 .5 16.4 .2-13.7 .2 14.6 .2-6.9 .1 6.2 .6 16.2 .2 2.9 .2 16.7 .2-2.1 .1-19.9 .6 22.1 .2 20.6 .2 5.5 .1 21.7 .2 9.1 .6 11.5 .2 2.9 .2-7.5 .1-8.9 .2-4 .6 13.9 .2 3.9 .1 6.2 .2-10.4 .2 3.4 .6-14.9 .1 16.5 .2-20.5 .2 4.2 .2 19.7 .6-4 .1 12.6 .2-3.8 .2-18.7 .2 7.2 .5 1.8 .2-3.5 .2 12.8 .2 16.4 .2-8.5 .5-6.6 .2 12.1 .2-21.2 .2-4.4 .2-.3 .5-33.9 .2-13.2 .2 3.9 .2-7 .2-2.3 .5 20.4 .2 8.1 .2-11.3 .2-20.4 .2-4.9 .5-13.6 .2-1.4 .2-1.6 .2-21.4 .1 8.5 .6 .3 .2-2.7 .2-12.8 .2-2 .1-16.1 .6-13.3 .2-13.2 .2 8 .1-20.9 .2-4.9 .6 .6 .2-12.6 .2-25.3 .1-16.6 .2-25.5 .6-7.3 .2-16.5 .1-3.4 .2 0 .2 0 .6 0 .1 0 .2 0 .2 0 .2 0 .6 0 .1 0 .2 0 .2 0 .2 14.9 .5 15.2 .2-3.7 .2 8.7 .2-16.9 .2 22.9 .5-3.8 .2 2.1 .2 16.7 .2-20.4 .2 22.6 .5 13.3 .2 1.1 .2-2.4 .2-15.1 .2-5.8 .5-6.8 .2-29.3 .2-13 .2 8.1 .2 3.8 .5-2.8 .2-9.4 .2 .1 .2-.1 .1 0 .6 0 .2 0 .2 0 .2 0 .1 11.6 .6 1.1 .2-2.2 .2 10.1 .1-18.8 .2-1.8 .6 9.3 .2 19.6 .1 17.6 .2 10.8 .2 5.5 .6 .1 .2 13 .1 17.8 .2 7.6 .2 26.9 .6 11.2 .1-17.4 .2-4.6 .2-11.2 .2-17.8 .6-6.5 .1-13.3 .2-7.9 .2-29 .2-14.6 .5-17.1 .2 1.1 .2-1.1 .2 0 .2 0 .5 0 .2 0 .2 0 .2 0 .2 0 .5 0 .2 0 .2 0 .2 0 .2 7.7 .5-4.2 .2 21.1 .2 14.9 .2 15.5 .2 9.1 .5-8.5 .2 6.8 .2 8.2 .2 15.1 .1-2.5 .6 12.4 .2 7.8 .2-12.8 .2 25.6 .1 17.1 .6 13.7 .2 .1 .2-8.6 .1-8 .2-2.4 .6 7.8 .2-7.9 .1 22.6 .2-2.3 .2-26.3 .6 4.2 .2-8.1 .1-13.9 .2-11 .2-3.8 .6 8.3 .1 1.4 .2 13.5 .2-12.7 .2-.5 .6-13.7 .1 5.6 .2 9.4 .2 24.6 .2-4.1 .5-12.8 .2 13.5 .2-2.8 .2-26.7 .2 24.8 .5-7.2 .2 12.4 .2 17 .2 .6 .2 3.3 .5 10.5 .2 22 .2 15.9 .2-12.7 .2-10.9 .5-8.5 .2 11.3 .2-18 .2-8.7 .2-16.9 .5-18.4 .2-24 .2 18.5 .2 7.5 .1-14.4 .6-14.4 .2-5.5 .2-7.4 .1 7.7 .2 27.7 .6-9.8 .2-22.5 .2-10.8 .1-18 .2-10.8 .6-12 .2-9.9 .1-3.1 .2 3 .2 13.1 .6 6 .2 8.8 .1 .5 .2-15.9 .2 13.5 .6-1.8 .1-3.6 .2-5.5 .2 21.4 .2 14.3 .5 7.4 .2 10.6 .2-7.1 .2 3.6 .2 15.2 .5-10.8 .2-18.7 .2 8.3 .2 24.9 .2 21.7 .5 5.3 .2 8.3 .2 3.3 .2 11.7 .2 22.4 .5 11.6 .2-2.3 .2-7.5 .2-19.8 .2-2.8 .5 21.5 .2-19.7 .2-4 .2-1.4 .1-24.6 .6-7.6 .2-16.8 .2-10.5 .2 11.1 .1 13.3 .6 1.4 .2-13.7 .2-20.8 .1-2 .2-1.3 .6-4.3 .2 2.6 .2 3.9 .1 10.6 .2-6.6 .6-15.6 .2 2 .1-5.7 .2 6.1 .2 18.7 .6-3.1 .2 8.4 .1-15.9 .2-6.2 .2 2.7 .6 24.9 .1-3.5 .2 11.7 .2 6.7 .2 22.3 .5 7.4 .2 33.5 .2 3.9 .2 6.2 .2-.4 .5 6.3 .2-8.7 .2-17.6 .2 4.3 .2-.7 .5 8.1 .2 17 .2 12.9 .2-1.5 .2 1.6 .5-9.5 .2-5.9 .2 4.5 .2 3.7 .2-10.6 .5 3.1 .2-8 .2-.5 .2-3.8 .1 10.3 .6-6.1 .2-3.8 .2-14.7 .2-22.6 .1-2.5 .6 14 .2 14.4 .2-2.8 .1 .9 .2-4.8 .6 8.2 .2-6.3 .2-6.6 .1-5.8 .2-7.8 .6-3.1 .2 16 .1-14.1 .2 7.9 .2-9.9 .6-5.2 .1 9.4 .2 6.2 .2 7.5 .2 26.4 .6 13.5 .1 19.8 .2 3.5 .2-.6 .2-1.4 .5-7.5 .2-.9 .2-1.1 .2 2 .2 3.8 .5-11.9 .2 2.1 .2 7.5 .2 1.6 .2 .9 .5-.7 .2-7.7 .2 3.8 .2 7.7 .2 33.3 .5-9.4 .2 13.9 .2 20.2 .2-12.2 .2 8.4 .5 5.1 .2 8.4 .2-2.5 .2-13.7 .1 6.2 .6-1.6 .2-6.9 .2-19.6 .2-5 .1-23 .6-6.1 .2 0 .2-22.3 .1-4.8 .2-4.3 .6-32.7 .2-23.8 .1 18.8 .2-1.7 .2 20 .6 2.3 .2 13 .1-13.7 .2-15.5 .2 23.6 .6-1.7 .1 20.3 .2 .1 .2-1.8 .2 9.9 .6 14 .1 7.8 .2-22.1 .2-2.7 .2-8.3 .5-1.2 .2 6.5 .2-2.8 .2-5.1 .2-8.9 .5-4.1 .2 4.7 .2 1.4 .2 9.3 .2-15 .5-.1 .2 14.3 .2-5.8 .2-20.4 .2-28.8 .5 3 .2 22.8 .2-2.8 .2 6.8 .2-18.8 .5-14.1 .2-3 .2 3 .2-3 .1 3.8 .6-23.4 .2 6.8 .2-19.9 .2-31.3 .1-3.5 .6 17.3 .2 .4 .2 2.1 .1 6.4 .2-25 .6-2.8 .2 9.9 .1 1.4 .2-5.1 .2 17.4 .6 5.6 .2 20.5 .1 20.9 .2 12.1 .2 11.4 .6 .6 .1 17.8 .2 2.8 .2 3.6 .2 28.5 .6-15.7 .1-15.6 .2-11.8 .2-4.9 .2 14.3 .5 11.8 .2-.1 .2-12.2 .2-10.7 .2 5.6 .5-1.6 .2 9.7 .2 4 .2-7.4 .2 20.5 .5 6.3 .2 4.8 .2 6.8 .2-8.5 .2-22.5 .5 7.1 .2 .2 .2 8 .2-23.1 .2 4.6 .5-17.4 .2 6 .2 22.7 .2 5.9 .1 3.5 .6-9.9 .2 1.8 .2 7.1 .1-2.1 .2 5.6 .6-8.5 .2 20.5 .2 21.6 .1 16.2 .2-1.2 .6-.7 .2 26.1 .1 6.9 .2-10.8 .2-24.6 .6-24.3 .2-38.1 .1-15.3 .2-9.4 .2 16.8 .6-14.3 .1 20.1 .2 27.9 .2 2.3 .2-1.4 .6-7.9 .1 12.9 .2-11.5 .2 20.7 .2-.5 .5 17.1 .2-7.1 .2 2.7 .2 24 .2 16 .5 2 .2-5.9 .2 13.9 .2-11.3 .2 22.1 .5 34.8 .2 12.2 .2 36.9 .2 23.8 .2-17.2 .5-4 .2-26.8 .2 5.7 .2-23.1 .2-29.6 .5 10.6 .2 9 .2-8 .2 1.8 .1 .1 .6 25.5 .2 30.3 .2-5.9 .1-1.4 .2-.6 .6-.9 .2 9.1 .2-6.4 .1-.9 .2 15.5 .6 12 .2-26 .1-1 .2-10.1 .2 8.8 .6-3.3 .2-11.9 .1-4.6 .2-8.3 .2-8 .6-7.8 .1-15.3 .2-6 .2-26.2 .2 1.1 .5-5 .2-12.1 .2-4.5 .2-24.9 .2-11.6 .5 3.2 .2-15.2 .2 5.6 .2-7.2 .2 .9 .5 18.1 .2 2.8 .2 8.2 .2-3 .2-15.2 .5 9.5 .2-25.9 .2 5.5 .2 29 .2 30 .5 27 .2 .8 .2 7.6 .2 10.6 .1 9.4 .6-1.4 .2-11.4 .2-11.8 .2 4 .1 6.8 .6 4.4 .2-.7 .2-7.9 .1-4.8 .2 7 .6 7.8 .2-5.1 .2-17.7 .1 7.9 .2-7 .6-32.6 .2-5.2 .1 11.9 .2-6.3 .2-17.5 .6 23.1 .1-2.8 .2 7.3 .2 16.3 .2 1.5 .6 12.6 .1 13.1 .2 11.2 .2 18 .2-.9 .5 .7 .2-9.3 .2-7 .2-10.4 .2 7.7 .5-15.1 .2 14.9 .2 6.9 .2-9.1 .2 22.9 .5-17.7 .2 8.3 .2-9.3 .2 14 .2 26.4 .5 14.9 .2 31.8 .2 17.2 .2-11.7 .2-19.6 .5 17.7 .2 16 .2-6.2 .2 35.3 .1 17.7 .6 1.7 .2 19.8 .2-6.2 .2-14.2 .1 11.8 .6 3.7 .2 6.7 .2-6.6 .1 1.7 .2 .2 .6-7.3 .2 6 .2-10.7 .1 15.1 .2 2.4 .6-13 .2-23.6 .1 6.1 .2 9.2 .2-6.1 .6-11.2 .1 14.9 .2 4.1 .2-7.7 .2-12.1 .6 13.7 .1-8.5 .2-3.4 .2-23.7 .2-11.2 .5-1 .2 1.4 .2-6 .2-13.8 .2 2.8 .5 19.4 .2 5.4 .2-2.2 .2-12.6 .2-3.1 .5-6.6 .2-.9 .2-21.1 .2-19.7 .2-3.6 .5-4.8 .2 10.3 .2 25.9 .2-10.8 .2 3.2 .5-.3 .2-.7 .2 8.8 .2-1 .1-1.1 .6 14.9 .2-7.2 .2 11.5 .2 1.7 .1 9.3 .6 1.9 .2 9.4 .2 3.7 .1-8.8 .2 2.1 .6-29 .2 14.6 .1 11.4 .2-3.9 .2-2.2 .6-1.6 .2 5.9 .1-5.6 .2 15.7 .2 .4 .6-11.2 .1-8.7 .2-5.4 .2-4.7 .2 6.1 .6-.3 .1 5.3 .2 2.8 .2-12.2 .2-2.3 .5-9.7 .2-5.3 .2-6.7 .2-3.9 .2-6.1 .5 7.6 .2 3.2 .2 3.6 .2 5.4 .2 .3 .5 10.9 .2 10.3 .2 16.9 .2 3.1 .2 .8 .5-.7 .2 19.2 .2 14 .2 12.2 .2 7.6 .5 13 .2-5.5 .2-8.9 .2-3.9 .1-29.8 .6-16.5 .2-13.9 .2-6 .2-23.4 .1-12.6 .6 .5 .2-3.2 .2 25.6 .1 17.3 .2 .2 .6 3.6 .2 9.1 .1 1.2 .2-14.7 .2-4.7 .6-4.3 .2-17.9 .1-21.1 .2-15 .2 1.6 .6-24.6 .1-4.6 .2-25.4 .2 6.2 .2 2.3 .6-25.5 .1-1.4 .2-16.1 .2 5.1 .2 6.9 .5-6.2 .2-3.9 .2-22.1 .2-16.9 .2-33.4 .5-9.7 .2 4.2 .2-5.5 .2 27 .2 8.4 .5 54.6 .2 15.4 .2-4.8 .2-3 .2 15.7 .5-16.1 .2-4.2 .2-27.2 .2-11.5 .2 19.7 .5 10.5 .2-4.1 .2-15.7 .2-5.7 .1 11.1 .6 1.5 .2 9.6 .2-23.8 .1 10.4 .2 4.5 .6-13.4 .2 .7 .2-8.9 .1-6.8 .2-19.9 .6-5.1 .2-1 .1 3 .2 8.8 .2-7.1 .6 9.6 .2 4.6 .1 3.7 .2 13.5 .2 18.2 .6 37.2 .1-4.1 .2-3.7 .2 28.2 .2-5.1 .5-.4 .2 4.3 .2-16.5 .2 10.9 .2 23.5 .5 23.1 .2 11.8 .2 18.5 .2 35.7 .2-7.7 .5-32.5 .2-9.9 .2-15.4 .2 7.5 .2-16.6 .5-9.5 .2-20 .2 8.7 .2 14.7 .2 7.8 .5-4.4 .2 .3 .2 11.3 .2 3.2 .2-6.2 .5-3.6 .2 1.9 .2 3.9 .2-4.8 .1 3.1 .6 3.3 .2 2.4 .2 16.6 .1-11 .2-24.4 .6 6.6 .2-3.2 .2-13.9 .1-2.3 .2-5.9 .6-14.5 .2-6.9 .1-2.1 .2 6.7 .2-1.7 .6 .8 .2 2.6 .1-2.4 .2 13.6 .2 10.7 .6-7.5 .1-4.5 .2 .4 .2-7.1 .2-20.1 .5-27.1 .2-3.4 .2 3.1 .2-12.6 .2-16.9 .5-24.7 .2-3.7 .2-12 .2-28.8 .2-14.1 .5 35.1 .2 1.9 .2-21.6 .2-21.5 .2-7.1 .5-40.2 .2-8.9 .2-2.6 .2-17.9 .2 9.6 .5-3 .2-5.2 .2-.5 .2-7.2 .1 5.9 .6 10.6 .2-12.1 .2 7.9 .2-21.6 .1 9.9 .6 2.9 .2 11.7 .2 5.2 .1 14.6 .2-5.2 .6 8.6 .2-13 .2 2.4 .1-17.1 .2 8.5 .6 35.3 .2-17.5 .1 12.4 .2-1.4 .2 19 .6 6.2 .1-10.2 .2-1.3 .2 14.7 .2 1.4 .6-2.9 .1-5.5 .2-13.4 .2-.3 .2-7.4 .5-5.7 .2 6.4 .2-4.5 .2 31.8 .2 19.7 .5-4.2 .2-.5 .2-8.1 .2-8.8 .2 12.1 .5 .9 .2 13.1 .2-5.2 .2-19.3 .2-3 .5 18.8 .2 1.2 .2-.7 .2-8.2 .2-11.6 .5-6.5 .2-16.9 .2-10 .2-1.3 .1 1.9 .6-17 .2-11.3 .2-18.6 .2-13.2 .1-2.3 .6 15.4 .2-9.9 .2-6.5 .1 8.9 .2 .1 .6 2.7 .2 7.9 .2 .7 .1 1.4 .2 5.4 .6-4 .2 5.5 .1-25.7 .2-2.8 .2 12 .6-12.5 .1 11.2 .2 3.2 .2-12.2 .2 4.8 .6-.8 .1 2.8 .2 7.5 .2 2.6 .2 20.2 .5 31.4 .2-18.9 .2-9.1 .2-31.1 .2-9.9 .5-2 .2 9.5 .2-29.7 .2-6.5 .2-7.2 .5-8.3 .2 0 .2 0 .2 18.5 .2 9 .5 23 .2-3.9 .2 19.1 .2 4.9 .2 .9 .5 7.7 .2 7.5 .2-3.8 .2 6.2 .1-2.4 .6 1.9 .2 10.3 .2-9.4 .2 3.9 .1 11.6 .6-12.7 .2-4.8 .2 14.5 .1 12.8 .2-4.8 .6 8.5 .2-6.7 .1 11.5 .2-5.1 .2-13.4 .6 7 .2 13.4 .1 5.2 .2 23.5 .2 5.8 .6-12.9 .1-4.9 .2 9.8 .2 6.4 .2 2.7 .6-10.5 .1 24.1 .2-1.7 .2-.2 .2 6.4 .5-14.6 .2 1.2 .2-11.5 .2-5.6 .2 13.4 .5-5.4 .2 6.2 .2 1.8 .2-6 .2-17.2 .5-23 .2-15 .2 15.5 .2 6.5 .2-1.8 .5 7.5 .2-3.2 .2-10.6 .2-1.1 .2 10.2 .5-1.8 .2 3 .2-4.3 .2 9.8 .1 2 .6 11.4 .2 20.1 .2 .4 .1 5.5 .2-6.2 .6 7.6 .2 5.9 .2-4.4 .1-22.5 .2-10 .6-43.7 .2-1 .1-3 .2 13.5 .2-8.6 .6 4.2 .2 11.6 .1-1 .2 9 .2-5.5 .6-36.2 .1-18.7 .2-17.4 .2-28.4 .2-7.9 .6 10.6 .1 10.5 .2 11 .2-2.1 .2-15.5 .5-3 .2-4.6 .2 25.3 .2-19 .2-16.9 .5 15.5 .2 8 .2-8.9 .2 6.1 .2 1.2 .5 13.9 .2 10.6 .2 12.3 .2 20.5 .2 14.7 .5 1.3 .2-32.9 .2-14.1 .2-12.9 .2-9.3 .5-3.3 .2 4 .2 9.8 .2-8.2 .1 18.7 .6-8.1 .2 .4 .2 2.2 .1 12.4 .2-30.7 .6-5.7 .2 3.5 .2 5.7 .1 14.7 .2 2.4 .6-10 .2-1.6 .1 13.2 .2-5.8 .2-13.5 .6-10.1 .2-13.8 .1-6.3 .2-1.8 .2 0 .6 0 .1 0 .2 0 .2 0 .2 0 .5 0 .2 0 .2 0 .2 0 .2 0 .5 0 .2 15.1 .2 17 .2 18.3 .2 17.4 .5 24.2 .2-3.6 .2 35.8 .2 13.9 .2-5.5 .5-16.2 .2 4.6 .2 12.8 .2-8 .2 16.4 .5-17 .2-20.8 .2-27.1 .2 2 .1 30.9 .6-15 .2 17.9 .2-2.4 .2-2.5 .1-.7 .6-29.2 .2-9.1 .2-5.8 .1-12.3 .2-8.6 .6-13.1 .2 12.8 .2 30.6 .1-25.8 .2 13.7 .6 37.6 .2 16.1 .1 22.5 .2 19 .2 8.4 .6 22.4 .2 4.4 .1 10 .2 26.5 .2-10.3 .6-10.2 .1-8.4 .2-1.6 .2-12.4 .2-10.9 .5-29.8 .2 9.5 .2-14.1 .2-7.6 .2 17.5 .5-1.6 .2-14.9 .2 10.3 .2 6.8 .2-.3 .5 24.5 .2 23.9 .2 20.9 .2-7.5 .2-19.7 .5-5.2 .2-5.2 .2 2.7 .2-10.2 .2-11.9 .5 7 .2-12.6 .2-2.5 .2 .9 .1 .7 .6 11 .2-9.8 .2-22.9 .2-9 .1-6.4 .6 3.9 .2-11.2 .2 5.5 .1 17.5 .2-20.6 .6 13.1 .2-5.8 .2-1.4 .1 4 .2 21.8 .6-4.4 .2 11.5 .1 6.4 .2-5.1 .2 7.3 .6-22 .1-20.4 .2 6.3 .2-11.5 .2 11.8 .6 12.2 .1-27 .2-23.2 .2 21.7 .2 4.4 .5 .2 .2 37.3 .2 18.1 .2-14 .2-6 .5-15.4 .2-17.8 .2 27.4 .2 12 .2 3.5 .5-10.6 .2-8.1 .2 12.1 .2-9.4 .2-25.5 .5 6.7 .2 3.5 .2-3.5 .2-22.1 .2-6.4 .5-8.2 .2 8.5 .2 7.9 .2 26 .1 23 .6 14.2 .2-13.7 .2-4.7 .2 7.9 .1-4.2 .6 8.7 .2-6.2 .2-4 .1-23.1 .2-23.7 .6-5.9 .2 2.6 .1-1.9 .2-7 .2-26.6 .6 11 .2 19.7 .1-18.5 .2-11.5 .2-2.7 .6-24.3 .1-12.9 .2 15.1 .2 9.6 .2 12.9 .6-12.7 .1 14.4 .2-5.5 .2 9.6 .2 13.1 .5 19.8 .2 9.4 .2 18 .2 1.2 .2-9.8 .5-13.3 .2-37.4 .2 9.5 .2 .5 .2 11.6 .5-23.5 .2-7.4 .2 7.1 .2-6.8 .2-13.9 .5 19.5 .2 11.6 .2 12.8 .2 24.1 .2-16.5 .5 3 .2-10.5 .2 78.6 .2 35.1 .1 12.8 .6-6.9 .2-18.2 .2-2.6 .2 4.7 .1 7.7 .6 30 .2 27.6 .2-6.3 .1 22.1 .2-1.5 .6 17.6 .2-10.8 .1-4 .2-18.7 .2 2.1 .6 18.5 .2-35.2 .1-18.2 .2 29.4 .2 52.6 .6 9.5 .1 8.7 .2 13.7 .2 29 .2 7.1 .6 24.6 .1-9 .2-8.2 .2-14.2 .2-4.5 .5-16.7 .2-25.4 .2 15.9 .2-5.4 .2-38.5 .5-34 .2 35.7 .2 23.3 .2 10.3 .2 27 .5 45.4 .2 18.1 .2 25.3 .2-2.3 .2 17.6 .5-4 .2 19.3 .2-8.7 .2 51.9 .2-1 .5 5.3 .2-16.2 .2-8.9 .2-24.7 .1-19.6 .6-30.9 .2-1.3 .2 6.9 .1-43.6 .2 8 .6 27.3 .2-9.9 .2-3.9 .1-11 .2-16.5 .6 24.2 .2-15.2 .1-10.6 .2 9.4 .2 12.2 .6 64.1 .2 8.8 .1-35.7 .2 21.5 .2 4.1 .6-6.6 .1-28.4 .2-38.5 .2 1.3 .2-19.7 .5-.8 .2-15.8 .2-19.3 .2-37.7 .2-25.7 .5 34.4 .2 15.1 .2-.2 .2 .7 .2 4.4 .5-29.6 .2 18.7 .2 18.9 .2 11 .2 17.4 .5-19 .2 13 .2-14.2 .2 11 .2 13.6 .5 11.6 .2 16.3 .2-3.4 .2 3.7 .2 10.9 .5-2.3 .2-4.7 .2-29.5 .2-20.1 .1 8.3 .6-13.5 .2-19.8 .2-26.1 .1-15.6 .2-13.2 .6-13.4 .2-14.7 .2-8.7 .1-22.7 .2-21.4 .6-7.6 .2 23 .1 15.4 .2-11.4 .2-10.5 .6 8.8 .2 29.4 .1 11.3 .2 5.1 .2 3.9 .6 9.5 .1-3.6 .2-2.7 .2-11.8 .2 12.6 .5-8.2 .2-1.8 .2-36.9 .2-21 .2 15.8 .5 1.2 .2 5.8 .2-5.2 .2 6.6 .2 10.1 .5 32.1 .2 3.4 .2 9.6 .2 7 .2 14.2 .5 4.3 .2 8.4 .2 24.3 .2 25.9 .2 29.8 .5-1 .2 6.5 .2 23 .2-1.3 .1 3.3 .6 13.5 .2-11.4 .2 17 .2 11.9 .1 1.9 .6-2 .2 2.3 .2 9 .1-24.5 .2-18.8 .6-14.6 .2-7.5 .2-7.1 .1-2.3 .2 1.8 .6-2.7 .2-12.1 .1 21.9 .2 10 .2-29.4 .6-4.4 .1-9.9 .2-18.9 .2-21.2 .2-10.8 .6-1.1 .1-15.6 .2-17.1 .2-22 .2-10.9 .5-7.6 .2 24.6 .2 21 .2-9.5 .2 15.2 .5 6.1 .2 7 .2 5.1 .2 .4 .2 5 .5-1.2 .2 .3 .2-1.9 .2 10.1 .2-3.7 .5-2 .2-1.3 .2 .9 .2 32.6 .2 16.2 .5 31.7 .2-2.6 .2 6.2 .2 13.5 .1 10.1 .6 21.5 .2-9.2 .2-9.9 .2-6.8 .1-13.6 .6 17.7 .2-2.9 .2 .2 .1 5 .2 1.2 .6 1.5 .2 6.3 .2 4.7 .1-4.3 .2-17.7 .6-6.5 .2 2.1 .1 1.9 .2-3.7 .2-26.5 .6-8.9 .1-22.8 .2 .1 .2-22 .2-10 .6 10.1 .1 27.2 .2 15.8 .2 5.6 .2 2.7 .5-6.7 .2 17.4 .2 13.4 .2-3.1 .2 16.3 .5 5.2 .2 5.6 .2-9.9 .2-19.2 .2-20.8 .5 1.2 .2 19.9 .2 3.3 .2-42.5 .2-29.3 .5 4.6 .2 25.3 .2 36.6 .2-14.9 .2-8.3 .5-18.4 .2-22 .2-48.1 .2-5.5 .1-22.7 .6-23.5 .2-32.2 .2 27 .2 5.1 .1 18.4 .6-4 .2-29.7 .2 43.9 .1 9.1 .2-30.7 .6-48.8 .2 2.9 .1-15.4 .2-8.4 .2-38.7 .6-3.5 .2-22.4 .1 19.5 .2-3.7 .2 11.3 .6-13.1 .1 4.6 .2 20.4 .2-13.6 .2 5.2 .6 16.5 .1 3.2 .2-41 .2-33.7 .2-5.3 .5-6.6 .2-55 .2-9.9 .2 0 .2 0 .5 0 .2 0 .2 0 .2 0 .2 0 .5 0 .2 0 .2 0 .2 0 .2 0 .5 0 .2 0 .2 0 .2 0 .2 0 .5 0 .2 0 .2 0 .2 0 .1 21.5 .6 35.9 .2-25.5 .2 28.3 .2 6.5 .1-10.5 .6-5.3 .2-50.9 .2 0 .1 12 .2-12 .6 27.3 .2 35.6 .1-.5 .2 20.8 .2-26.3 .6 2.7 .2-44.3 .1-15.3 .2 0 .2 0 .6 0 .1 0 .2 0 .2 0 .2 0 .6 12 .1-12 .2 0 .2 6.1 .2 37.8 .5 34.5 .2 40.9 .2 74.4 .2 18.7 .2-33.8 .5-89.3 .2-49.8 .2 32.6 .2 63.5 .2 104.1 .5 46.1 .2 118.7 .2-5.3 .2 17.4 .2-91.7 .5 163.9 .2-20.8 .2-5.3 .2 39.3 .2-2.6 .5-15.9 .2-78.5 .2-23.8 .2-32.7 .1 28 .6 70.3 .2-16.9 .2 2.2 .1-10.3 .2-2.8 .6 67.1 .2-60.9 .2 12.7 .1-20 .2-23.2 .6 4.3 .2 7.4 .1 16.6 .2-133.9 .2-50.1 .6-14.5 .2 74.9 .1 .4 .2-67.4 .2-2 .6-17.7 .1 13.3 .2 1.3 .2-48.9 .2 105.4 .5-5.5 .2 8.2 .2-16.3 .2 59.7 .2-38.5 .5-26.6 .2-14.4 .2-10.6 .2-6.1 .2-26 .5-12 .2-5.9 .2-3.2 .2-39.6 .2-31.7 .5-25.5 .2-55.6 .2-13.5 .2 6.1 .2-26.8 .5 0 .2 0 .2 0 .2 0 .1 0 .6 0 .2 0 .2 0 .2 27.1 .1-12.8 .6-14.3 .2 36.3 .2-12.8 .1-23.5 .2 0 .6 0 .2 0 .2 0 .1 0 .2 8.4 .6 21.2 .2-29.6 .1 0 .2 0 .2 9.6 .6-9.6 .2 0 .1 0 .2 0 .2 0 .6 0 .1 0 .2 0 .2 0 .2 0 .5 0 .2 5.6 .2 27.1 .2 21 .2 20 .5-33.2 .2-.4 .2-2.1 .2-21.6 .2-10.4 .5-6 .2 0 .2 0 .2 0 .2 0 .5 0 .2 0 .2 0 .2 0 .2 0 .5 0 .2 0 .2 0 .2 0 .1 0 .6 0 .2 0 .2 0 .2 0 .1 0 .6 0 .2 0 .2 0 .1 0 .2 0 .6 0 .2 0 .2 0 .1 0 .2 0 .6 0 .2 0 .1 0 .2 0 .2 0 .6 0 .1 0 .2 0 .2 0 .2 0 .6 0 .1 0 .2 0 .2 0 .2 0 .5 0 .2 0 .2 0 .2 0 .2 0 .5 0 .2 0 .2 0 .2 0 .2 0 .5 0 .2 0 .2 0 .2 0 .2 0 .5 0 .2 0 .2 0 .2 0 .2 0 .5 0 .2 0 .2 0 .2 0 .1 0 .6 0 .2 0 .2 0 .2 0 .1 0 .6 0 .2 0 .2 0 .1 0 .2 0 .6 0 .2 0 .2 0 .1 0 .2 0 .6 0 .2 0 .1 0 .2 0 .2 0 .6 0 .1 0 .2 0 .2 0 .2 0 .6 0 .1 0 .2 0 .2 0 .2 0 .5 0 .2 0 .2 0 .2 0 .2 0 .5 0 .2 0 .2 0 .2 0 .2 0 .5 0 .2 0 .2 0 .2 0 .2 0 .5 0 .2 0 .2 0 .2 0 .2 0 .5 0 .2 0 .2 0 .2 0 .1 0 .6 0 .2 0 .2 0 .2 0 .1 0 .6 0 .2 0 .2 0 .1 0 .2 0 .6 0 .2 0 .1 0 .2 0 .2 0 .6 0 .2 0 .1 0 .2 .2 .2-.2 .6 0 .1 0 .2 0 .2 0 .2 0 .6 0 .1 0 .2 0 .2 0 .2 0 .5 0 .2 0 .2 0 .2 0 .2 0 .5 0 .2 0 .2 0 .2 0 .2 0 .5 0 .2 0 .2 0 .2 0 .2 0 .5 0 .2 0 .2 0 .2 0 .2 0 .5 0 .2 0 .2 0 .2 0 .1 0 .6 0 .2 0 .2 0 .1 0 .2 0 .6 0 .2 0 .2 0 .1 0 .2 0 .6 0 .2 0 .1 0 .2 0 .2 0 .6 0 .2 0 .1 0 .2 0 .2 0 .6 0 .1 0 .2 0 .2 0 .2 0 .6 0 .1 0 .2 0 .2 0 .2 0 .5 0 .2 0 .2 0 .2 0 .2 0 .5 0 .2 0 .2 0 .2 0 .2 0 .5 0 .2 0 .2 0 .2 0 .2 0 .5 0 .2 0 .2 0 .2 0 .2 0 .5 0 .2 0 .2 0 .2 0 .1 0 .6 0 .2 0 .2 0 .1 0 .2 0 .6 0 .2 17.2 .2-10.6 .1 6.7 .2-13.3 .6 7.2 .2 1.9 .1 3.7 .2 1.9 .2-2.2 .6-12.5 .2 40.1 .1-32.1 .2-8 .2 0 .6 0 .1 0 .2 0 .2 0 .2 0 .5 0 .2 0 .2 0 .2 0 .2 0 .5 0 .2 13.9 .2 15.4 .2 7.7 .2 22.7 .5-13.1 .2 20.9 .2-4.6 .2 17.1 .2-1.6 .5 34 .2 1 .2-13 .2 32.1 .2 .1 .5-8.4 .2-6.3 .2 9.8 .2 16.2 .1-59.5 .6-53.8 .2-30.6 .2 0 .2 0 .1 0 .6 0 .2 0 .2 0 .1 0 .2 0 .6 0 .2 0 .2 10.2 .1 10.4 .2 11.2 .6 33.1 .2 4.5 .1-32.6 .2 24 .2-4.9 .6-8.9 .1 8.8 .2 16.3 .2 20.1 .2-16.5 .6 48.2 .1 41.8 .2-7.8 .2 9.9 .2-96 .5-9.2 .2-8 .2-11.4 .2-43.2 .2 0 .5 0 .2 0 .2 0 .2 0 .2 0 .5 0 .2 0 .2 0 .2 0 .2 0 .5 0 .2 14.3 .2-3.4 .2 3.1 .2-14 .5 0 .2 0 .2 0 .2 0 .1 0 .6 0 .2 1.4 .2-1.4 .2 20.3 .1 3.2 .6 28.2 .2 37.1 .2 11.3 .1-16.3 .2 29.3 .6-34.1 .2-9.2 .2 24.9 .1-1.6 .2-10.7 .6 36.3 .2 3 .1 37.5 .2 17.9 .2 28 .6-14.7 .1 4.4 .2-13.8 .2-31.8 .2-29.6 .6-7.2 .1-23.7 .2-5.8 .2 6.1 .2 8.2 .5 21.9 .2-8 .2 22.1 .2 50.5 .2 8.3 .5 3.7 .2 3.9 .2 8.1 .2 47.4 .2 16.9 .5 2.4 .2 17 .2 13.5 .2 36.7 .2 4.6 .5-13.6 .2 23.2 .2 4.1 .2-8 .2-29.6 .5-16.3 .2 26.8 .2-5 .2-11.4 .1-35.5 .6-52.7 .2 24.6 .2 14.9 .2 40.2 .1 44.8 .6-14.6 .2 13.7 .2 7.9 .1 24.8 .2-19.4 .6 14.2 .2-8.5 .1 13.4 .2-17.6 .2-5.8 .6 13.1 .2-18.9 .1-79.4 .2-33.7 .2 8 .6 18.2 .1 54.3 .2 35.8 .2-11.8 .2 8.6 .6 17.8 .1-4.5 .2 5.4 .2 4.7 .2-36.4 .5-13.7 .2 31.4 .2-64.5 .2-20 .2-5.6 .5-47 .2-51.8 .2 29.6 .2 19.3 .2 .5 .5 40.1 .2 34.7 .2 55.4 .2 27.7 .2 8.1 .5-49.3 .2 58.5 .2 28.1 .2-1.1 .2 7.5 .5 21.3 .2 2.3 .2 17.8 .2-1.6 .1-5.6 .6-30.9 .2 14.2 .2 7.5 .2 18.7 .1 4.3 .6-27.8 .2-36.3 .2-33.8 .1 24.2 .2 10.8 .6 11.9 .2-6.1 .1 8 .2 18.2 .2 24.8 .6 39 .2 31.8 .1 12.2 .2-19.1 .2-11.2 .6 0 .1-14.5 .2-28.8 .2 1.5 .2 1.6 .6-23.1 .1 16.5 .2 20.2 .2-6.3 .2 16.5 .5 1.4 .2 .1 .2 43.8 .2 27.2 .2 5.1 .5 3.1 .2 0 .2 0 .2 0 .2 0 .5 0 .2 0 .2 0 .2 0 .2 0 .5 0 .2 0 .2 0 .2 0 .2 0 .5 0 .2 0 .2 0 .2 0 .1 0 .6 0 .2 0 .2 0 .1 0 .2 0 .6 0 .2 0 .2-3.7 .1-1.9 .2 1.5 .6 4.1 .2 0 .1-1.6 .2-25.8 .2 6.5 .6-29.8 .2-24.8 .1 6.8 .2-3.8 .2-6.1 .6-11.9 .1 19 .2-10 .2-1.8 .2 10.1 .5-1.5 .2 7.2 .2 27.2 .2-5.4 .2 33.1 .5-1.8 .2 3.2 .2 7.2 .2 3.3 .2-21.2 .5 17.1 .2 4.8 .2 0 .2 0 .2 0 .5 0 .2 0 .2 0 .2 0 .2 0 .5 0 .2 0 .2 0 .2 0 .2 0 .5 0 .2 0 .2 0 .2 0 .1 0 .6 0 .2 0 .2 0 .1 0 .2 0 .6 0 .2 0 .2 0 .1 0 .2 0 .6 0 .2 0 .1 0 .2 0 .2 0 .6 0 .2 0 .1 0 .2 0 .2 0 .6 0 .1 0 .2 0 .2 0 .2 0 .5 0 .2 0 .2 0 .2 0 .2 0 .5 0 .2 0 .2 0 .2 0 .2 0 .5 0 .2 0 .2 0 .2 0 .2 0 .5 0 .2 0 .2 0 .2 0 .2 0 .5 0 .2 0 .2 0 .2 0 .1 0 .6 0 .2 0 .2 0 .2 0 .1 0 .6 0 .2 0 .2 0 .1 0 .2 0 .6 0 .2 0 .2 0 .1 0 .2 0 .6 0 .2 0 .1 0 .2 0 .2 0 .6 0 .1 0 .2 0 .2 0 .2 0 .6 0 .1 0 .2 0 .2 0 .2 0 .5 0 .2 0 .2 0 .2 0 .2-5.5 .5-25.4 .2-.8 .2-3.7 .2-39.7 .2 7.5 .5 48.6 .2-11.5 .2-45.1 .2-.2 .2 8.5 .5 32.8 .2 34.5 .2 0 .2 0 .2 0 .5-10.2 .2 10.2 .2-10 .2 4.9 .1-.3 .6-12.7 .2-22.9 .2 7.3 .2 9 .1-4.8 .6 9.9 .2-19 .2 3.9 .1 34.7 .2 0 .6 0 .2-11.3 .2-53.5 .1-14.1 .2 22.6 .6-10.7 .2-24.6 .1 23.2 .2 10.5 .2 .5 .6 16.6 .1-4.6 .2-31 .2 26.9 .2-1.4 .6 7.5 .1 16 .2 22.2 .2-12.9 .2-12.8 .5 13 .2-10.8 .2-7.3 .2-27.6 .2-29.8 .5 17.1 .2 26.1 .2-16.7 .2-27.6 .2 10.2 .5-1.5 .2-9.6 .2-6.6 .2-31.5 .2-4.5 .5 .5 .2 16.5 .2-22.3 .2-22.8 .2-8.6 .5-36.3 .2 31.4 .2 23.8 .2 32 .1-28.8 .6-19.2 .2-49.5 .2-2.6 .2-34.4 .1-41.4 .6-17.4 .2-39 .2-48.5 .1-21.3 .2 7.6 .6 6.6 .2 26.4 .1 3.2 .2 32.1 .2 2.2 .6 5.9 .2 20 .1 .6 .2-14.9 .2-2.3 .6-10.4 .1 22.3 .2-9.2 .2-38.7 .2-41.1 .6-24.3 .1-27.8 .2-30.3 .2-68.7 .2-22.1 .5 46.3 .2 56.6 .2-18.9 .2 59.7 .2 19.5 .5-2.6 .2-28 .2 26 .2-33.8 .2-17.2 .5-19.3 .2 23.8 .2 8.5 .2-10.7 .2-2.3 .5-41.4 .2 9.2 .2 6.5 .2-13.4 .2-18.2 .5 4 .2-2 .2 11.5 .2 18.7 .1 18.6 .6 3.8 .2-18.7 .2 34.7 .2 30.7 .1 38 .6-20.9 .2 59.1 .2-.5 .1 10.3 .2 30.6 .6 19.6 .2 14.1 .1-20.6 .2 31.9 .2 7.4 .6-22.6 .2 15.9 .1-13.8 .2-19.6 .2-2.8 .6-49.2 .1 6.7 .2-7.8 .2-24.1 .2-16.1 .6 37.6 .1-30.6 .2-37.4 .2 19.9 .2-37.9 .5-19.1 .2-19.8 .2 8.8 .2 31 .2 43.2 .5 13.5 .2 34 .2-11.5 .2-8.3 .2 27.3 .5-44.3 .2-46.9 .2-46.6 .2 39.1 .2-52.6 .5 14.1 .2 25.3 .2-29.7 .2-26.8 .2-69.5 .5 0 .2 25.6 .2 26.2 .2 12.3 .1-41.9 .6-16.8 .2-5.4 .2 0 .1 0 .2 0 .6 0 .2 0 .2 22.7 .1 34.5 .2 16.6 .6-2.4 .2 47.1 .1 41.8 .2-1.9 .2-31 .6-76 .2 2.2 .1-29.6 .2-24 .2 0 .6 0 .1 13.5 .2 .6 .2-14.1 .2 4.5 .5 23.1 .2 21.8 .2 44 .2-4.8 .2 17.6 .5-24.3 .2-25.5 .2-32.8 .2 30.1 .2-19.4 .5-34.3 .2 13.9 .2 8.8 .2 6.2 .2-1.5 .5-4.7 .2-12.8 .2-9.9 .2 0 .2 0 .5 0 .2 0 .2 0 .2 0 .1 0 .6 0 .2 0 .2 0 .2 0 .1 0 .6 0 .2 0 .2 0 .1 0 .2 0 .6 0 .2 0 .2 0 .1 0 .2 0 .6 0 .2 0 .1 0 .2 0 .2 0 .6 0 .2 0 .1 0 .2 0 .2 0 .6 0 .1 0 .2 0 .2 0 .2 0 .5 0 .2 0 .2 0 .2 0 .2 5.6 .5 6.8 .2-12.4 .2 0 .2 0 .2 0 .5 0 .2 0 .2 0 .2 0 .2 0 .5 0 .2 0 .2 0 .2 0 .2 0 .5 0 .2 0 .2 0 .2 0 .1 0 .6 0 .2 0 .2 0 .2 0 .1 0 .6 0 .2 0 .2 0 .1 0 .2 0 .6 0 .2 0 .2 0 .1 0 .2 0 .6 0 .2 0 .1 0 .2 0 .2 0 .6 8 .1-1.9 .2-6.1 .2 0 .2 0 .6 5.2 .1 6.5 .2-11.7 .2 20.5 .2-20.5 .5 5.2 .2 13.9 .2 6.5 .2-24.6 .2 3.1 .5-4.1 .2 0 .2 0 .2 0 .2 0 .5 0 .2 0 .2 12.7 .2-12.7 .2 0 .5 0 .2 0 .2 0 .2 41.6 .2-9.1 .5 34.5 .2-7.1 .2-30.6 .2-1.2 .1 15.4 .6-.5 .2-5.1 .2-4.8 .2-11 .1-11 .6 10.5 .2-3.7 .2 8.7 .1 3.1 .2-.4 .6 8.7 .2-3 .1 7.4 .2-34.3 .2 2.2 .6-10.3 .2 0 .1 17.2 .2-3.8 .2 22.8 .6 11.7 .1-12.2 .2-25.7 .2-4.8 .2 21.2 .6-26.4 .1 0 .2 0 .2 7 .2-7 .5 2.9 .2-2.9 .2 6.4 .2-6.4 .2 0 .5 0 .2 0 .2 0 .2 13.3 .2 11.7 .5 60.5 .2-6.1 .2 26.9 .2 44.1 .2-4.6 .5-7.5 .2-.3 .2 1.2 .2 41 .2-18.7 .5-8.8 .2-15 .2-3.1 .2 .3 .1 55.3 .6 12.3 .2-5.7 .2-4.1 .2 19.6 .1-6.3 .6-56.7 .2-5.1 .2 4.3 .1-38.8 .2-34.6 .6-17.1 .2-26.2 .1-11.1 .2 5.4 .2-12.6 .6 52.8 .2 .7 .1-3.7 .2 10.5 .2 21.6 .6 20 .1 25.7 .2-4 .2 8.7 .2 11.6 .6-30.9 .1-6.8 .2-2.6 .2-35.9 .2 8.2 .5-26.9 .2-11.4 .2 21 .2 2.7 .2 11.3 .5-.6 .2-10.8 .2-55 .2-19.7 .2 0 .5 0 .2 0 .2 0 .2 0 .2 0 .5 0 .2 0 .2 0 .2 0 .2 13 .5-12.1 .2 11.6 .2-12.5 .2 0 .1 0 .6 0 .2 0 .2 0 .1 0 .2 0 .6 0 .2 0 .2 0 .1 0 .2 0 .6 0 .2 0 .1 0 .2 0 .2 0 .6 0 .2 0 .1 0 .2 0 .2 0 .6 26.6 .1 3.5 .2 17.9 .2-29.6 .2 10.3 .6 1.4 .1 .2 .2 15.5 .2-17.7 .2-7.8 .5 5.5 .2-18.1 .2 8.6 .2-16.3 .2 2.1 .5-2.1 .2 0 .2 0 .2 0 .2 17.2 .5 .4 .2 30.8 .2 29 .2 10.9 .2 5.4 .5 31.2 .2 17.5 .2-10.8 .2-12 .2-14 .5 10.5 .2 4.4 .2 .6 .2-2.8 .1 .9 .6-14.7 .2-4.6 .2 20.5 .1-25.3 .2 8.1 .6 18.6 .2-1.1 .2 3.2 .1-1.3 .2 .2 .6 5.4 .2-4 .1-1.7 .2-8.8 .2 14.6 .6 44.3 .2-7 .1 .9 .2 2.2 .2-34.6 .6 0 .1 1.6 .2-1.3 .2 21.3 .2 .1 .5 30.2 .2-20.3 .2-5.4 .2 5 .2 6.9 .5-29.4 .2 5.7 .2-15.2 .2 20.3 .2 26.8 .5 33.1 .2 28.6 .2 17.6 .2 14.2 .2 4.1 .5 10.4 .2-4.5 .2 7.1 .2 14.3 .2 18.8 .5 19.4 .2-12.1 .2-1.1 .2 14.7 .1-.3 .6-41.5 .2-1.2 .2 34.8 .2-31.1 .1 41.2 .6-41.1 .2-31.7 .2-19.3 .1-17 .2 75.1 .6 14 .2-9.4 .2-25.9 .1 66.9 .2 87.5 .6-13.7 .2-3.8 .1-143.9 .2-.1 .2 39.5 .6 .6 .1-51.1 .2 67.5 .2 .3 .2 10.2 .6 8 .1-11.3 .2 36.8 .2-11.2 .2-5.7 .5-1.4 .2 20.9 .2-22.5 .2-58.3 .2-53.2 .5-8.5 .2 29.1 .2 66.4 .2-33.1 .2-56.9 .5 44.4 .2 7.8 .2-20.5 .2-37.5 .2-17.4 .5 13.8 .2 1.9 .2 2.4 .2 31.7 .2-1.2 .5-12.3 .2 2.1 .2-7.9 .2-1.5 .1-4.2 .6 33.1 .2 18.3 .2-11.8 .2 .7 .1 12.5 .6 6.8 .2-8.4 .2 .8 .1-15.3 .2-1.4 .6-8.6 .2-16.3 .2 7.4 .1 18.6 .2-1 .6-11.4 .2-16.4 .1 3.6 .2-7.1 .2-11.1 .6-11.1 .1 17.2 .2 5.2 .2-1.7 .2 1.5 .6-7.2 .1 29.2 .2-5.2 .2 12.6 .2-4.6 .5 3.1 .2-26.5 .2 23.1 .2-32.3 .2-34.2 .5-16.4 .2-2.4 .2-2.6 .2-23.2 .2-33.6 .5 21.3 .2-7.5 .2 22.7 .2 5.1 .2-4.8 .5-45.3 .2-71.9 .2 5.3 .2-12.1 .2-5.9 .5-7 .2 30.2 .2-3.1 .2 23.1 .1 40.5 .6 24.2 .2 13.5 .2 20.4 .2 20.3 .1 .7 .6 3.9 .2-16.9 .2-24.2 .1-6.2 .2 25.2 .6-12.4 .2-14.6 .1-32 .2 9 .2-43.4 .6-28.7 .2 2.8 .1 20.5 .2-11.8 .2 11.6 .6-28.6 .1 13.2 .2 21.4 .2-18.5 .2 8.6 .6-20 .1-15.3 .2 14 .2 40.8 .2 39.2 .5 16.9 .2 20.4 .2 12.5 .2 5.3 .2-1.3 .5 10.2 .2-1.5 .2-22.2 .2-11.6 .2 43.3 .5-30.7 .2-3.2 .2-3.5 .2-26 .2-13.6 .5-17.4 .2-4.8 .2-6 .2-27.8 .2-15.5 .5-2.8 .2 1.9 .2 7.4 .2-21 .1 11.3 .6 57.9 .2 40.4 .2 5.8 .2-8.1 .1-9.4 .6 20.4 .2 9.5 .2-20.2 .1 14.9 .2-15.5 .6 .8 .2 5.9 .1 19.8 .2 16.1 .2 13.9 .6 .8 .2-15.4 .1-21.2 .2 .8 .2-9.8 .6-4.8 .1 2.7 .2 13 .2-25.4 .2 19.5 .6 6.2 .1 25.2 .2 .5 .2 20.6 .2 31.2 .5-17.4 .2 10 .2-2.5 .2-29.8 .2-18.3 .5-18.3 .2-2.9 .2-25.8 .2 22.8 .2-1.4 .5 17.6 .2-15.9" fill="none" stroke="#A6A6A6" stroke-width="1.5" stroke-linejoin="round" stroke-linecap="round"/><path d="M273.5 1338.8l.2-5 .2 2.1 .2-3.8 .1-1.9 .6-7.9 .2-2.9 .2-.6 .1 8 .2 1 .6 10.5 .2-9.6 .2 7.5 .1 14.5 .2 6.3 .6 2.1 .2-10 .1-3.2 .2 5.3 .2 2.8 .6-2.1 .1 17 .2 .1 .2 3.8 .2 22.7 .6-43.7 .1 16.5 .2 5.7 .2 1.8 .2 .8 .5 29.1 .2 .6 .2 0 .2 0 .2 0 .5 0 .2 0 .2 0 .2 0 .2 0 .5 0 .2 0 .2 0 .2 0 .2 0 .5 0 .2-11.9 .2-7.6 .2 5.9 .2 1.6 .5 7.7 .2-3.8 .2 3.5 .2-5.2 .1 0 .6 2.6 .2 5.1 .2-.5 .2 2.6 .1-3.8 .6 3.8 .2 0 .2 0 .1 0 .2 0 .6 0 .2 0 .1 0 .2 0 .2 0 .6 0 .2 0 .1 0 .2 0 .2 0 .6 0 .1 0 .2 0 .2 0 .2 0 .6 0 .1 0 .2 0 .2 0 .2 0 .5 0 .2 0 .2 0 .2 0 .2 0 .5 0 .2 0 .2 0 .2 0 .2 0 .5 0 .2 0 .2 0 .2 0 .2 0 .5 0 .2 0 .2 0 .2 0 .2 0 .5 0 .2 0 .2 0 .2 0 .1 0 .6 0 .2 0 .2 0 .1 0 .2 0 .6 0 .2 0 .2 0 .1 0 .2 0 .6 0 .2 0 .1 0 .2 0 .2 0 .6 0 .2 0 .1 0 .2 0 .2 0 .6 0 .1 0 .2 0 .2 0 .2 0 .6 0 .1 0 .2 0 .2 0 .2 0 .5 0 .2 0 .2 0 .2 0 .2 0 .5 0 .2 0 .2 0 .2 0 .2 0 .5 0 .2 0 .2 0 .2 0 .2 0 .5 0 .2 0 .2 0 .2 0 .2 0 .5 0 .2 0 .2 0 .2 0 .1 0 .6 0 .2 0 .2 0 .1 0 .2 0 .6 0 .2 0 .2 0 .1 0 .2 0 .6 0 .2 0 .1 0 .2 0 .2 0 .6 0 .2 0 .1 0 .2 0 .2 0 .6 0 .1 0 .2 0 .2 0 .2 0 .5 0 .2 0 .2 0 .2 0 .2 0 .5 0 .2 0 .2 0 .2 0 .2 0 .5 0 .2 0 .2 0 .2 0 .2 0 .5 0 .2 0 .2 0 .2 0 .2 0 .5 0 .2 0 .2 0 .2 0 .1 0 .6 0 .2 0 .2 0 .2 0 .1 0 .6 0 .2 0 .2 0 .1 0 .2 0 .6 0 .2 0 .2 0 .1 0 .2 0 .6 0 .2 0 .1 0 .2 0 .2 0 .6 0 .1 0 .2 0 .2 0 .2 0 .6 0 .1 0 .2 0 .2 0 .2 0 .5 0 .2 0 .2 0 .2 0 .2 0 .5 0 .2 0 .2 0 .2 0 .2 0 .5 0 .2 0 .2 0 .2 0 .2 0 .5 0 .2 0 .2 0 .2 0 .2 0 .5 0 .2 0 .2 0 .2 0 .1 0 .6 0 .2 0 .2 0 .2 0 .1 0 .6 0 .2 0 .2 0 .1 0 .2 0 .6 0 .2 0 .2 0 .1 0 .2 0 .6 0 .2 0 .1 0 .2 0 .2 0 .6 0 .1 0 .2 0 .2 0 .2 0 .6 0 .1 0 .2 0 .2 0 .2 0 .5 0 .2 0 .2 0 .2 0 .2 0 .5 0 .2 0 .2 0 .2 0 .2 0 .5 0 .2 0 .2 0 .2 0 .2 0 .5 0 .2 0 .2 0 .2 0 .2 0 .5 0 .2 0 .2 0 .2 0 .1 0 .6 0 .2 0 .2 0 .2 0 .1 0 .6 0 .2 0 .2 0 .1 0 .2 0 .6 0 .2 0 .1 0 .2 0 .2 0 .6 0 .2 0 .1 0 .2 0 .2 0 .6 0 .1 0 .2 0 .2 0 .2 0 .6 0 .1 0 .2 0 .2 0 .2 0 .5 0 .2 0 .2 0 .2 0 .2 0 .5 0 .2 0 .2 0 .2 0 .2 0 .5 0 .2 0 .2 0 .2 0 .2 0 .5 0 .2 0 .2 0 .2 0 .2 0 .5 0 .2 0 .2 0 .2 0 .1 0 .6 0 .2 0 .2 0 .2 0 .1 0 .6 0 .2 0 .2 0 .1 0 .2 0 .6 0 .2 0 .1 0 .2 0 .2 0 .6 0 .2 0 .1 0 .2 0 .2 0 .6 0 .1 0 .2 0 .2 0 .2 0 .6 0 .1 0 .2 0 .2 0 .2 0 .5 0 .2 0 .2 0 .2 0 .2 0 .5 0 .2 0 .2 0 .2 0 .2 0 .5 0 .2 0 .2 0 .2 0 .2 0 .5 0 .2 0 .2 0 .2 0 .2 0 .5 0 .2 0 .2 0 .2 0 .1 0 .6 0 .2 0 .2 0 .1 0 .2 0 .6 0 .2 0 .2 0 .1 0 .2 0 .6 0 .2 0 .1 0 .2 0 .2 0 .6 0 .2 0 .1 0 .2 0 .2 0 .6 0 .1 0 .2 0 .2 0 .2 0 .5 0 .2 0 .2 0 .2-7.5 .2-2.7 .5 .3 .2 1.2 .2-.8 .2 9.5 .2 0 .5 0 .2-1.2 .2-6 .2-18.7 .2-12.2 .5 38.1 .2 0 .2 0 .2 0 .2 0 .5 0 .2 0 .2 0 .2 0 .2 0 .5 0 .2 0 .2 0 .2 0 .1 0 .6 0 .2 0 .2 0 .1 0 .2 0 .6-18.7 .2-1.2 .2-2.7 .1-.2 .2-6.2 .6 5.6 .2-1.1 .1-1.2 .2-6.9 .2-.1 .6-14.9 .2 0 .1 3.2 .2 4.8 .2-6.5 .6-13.7 .1 2 .2-1.6 .2-4 .2-8.4 .5-4.6 .2 12.2 .2 1.8 .2 6.2 .2 0 .5-24.4 .2-4.4 .2 .4 .2 .3 .2-13.2 .5-13.6 .2-3 .2-1.5 .2 3.6 .2 3.2 .5 13.9 .2-3 .2 .9 .2-3.9 .2-22.8 .5-9 .2-8.1 .2-1.4 .2-1.1 .1-23.4 .6-20.9 .2 17.6 .2 2.5 .2-.7 .1 7.8 .6 7.2 .2 17.7 .2 .9 .1 .1 .2 13.5 .6 37.4 .2 5 .2 1.6 .1 3.7 .2-16.9 .6 28.8 .2-.6 .1-.8 .2 .5 .2 2.6 .6 18.1 .1 3.5 .2-.4 .2 2.4 .2 10.3 .6 8.5 .1 .7 .2 2.9 .2 7.1 .2-11.6 .5 16.6 .2-19.5 .2-.8 .2-1.3 .2-10.5 .5 8.7 .2-16.3 .2-2 .2-4 .2-7.2 .5-6.1 .2-16.5 .2-1.1 .2 3.7 .2-9.5 .5-28 .2 8.9 .2-2.8 .2-1.2 .2 2.9 .5-9.2 .2 6.5 .2-.7 .2-3.6 .1-5 .6-2.2 .2 10.2 .2-2.4 .2-1.3 .1 1 .6-4.1 .2 8 .2 2.6 .1 3.2 .2-2.7 .6 16.1 .2-8 .2 2.4 .1-.4 .2-17.7 .6-18 .2 9.7 .1-2.5 .2 .9 .2-6 .6-4 .1-1.8 .2 4.1 .2 1.6 .2 6.4 .6 21.2 .1 5 .2-1.2 .2 .1 .2-5 .5 12.4 .2-6.6 .2 4 .2 3.1 .2-1.6 .5-11.8 .2-7.2 .2 .2 .2 1.4 .2-4.9 .5 11.4 .2 1.6 .2-.2 .2-1.8 .2 7.9 .5-8.2 .2-5 .2-7.7 .2 4.8 .2-4.1 .5-13.8 .2-19.4 .2-3.7 .2 3.1 .1-12.4 .6-14.5 .2 .4 .2 .9 .2-.8 .1-4.8 .6-34.5 .2-9.7 .2-3 .1 3 .2-12.4 .6-20.5 .2 2.1 .1-1.8 .2 1.2 .2 5.7 .6-11.5 .2 8.2 .1-2.3 .2-4.4 .2 8.4 .6 4.6 .1 16.2 .2 .3 .2-3.3 .2 7.2 .6 40.7 .1-3.7 .2 .8 .2 1.8 .2-7.5 .5 40.5 .2 6.5 .2 1.3 .2-2 .2-6.5 .5 6.7 .2-4.2 .2 2.7 .2 1.2 .2-3.9 .5-10 .2-3.4 .2-5 .2-3 .2 11.7 .5 1.8 .2-9 .2 .5 .2-2.5 .2-.7 .5 15.7 .2 10.7 .2-.5 .2 3.7 .1-6.4 .6 9.2 .2-14.1 .2 2.1 .2-1.7 .1-4.6 .6 8.9 .2 7.4 .2 1.2 .1 1.2 .2-14.4 .6 7.2 .2-6.2 .1-3.4 .2 .7 .2-15.5 .6-15.6 .2 1.5 .1 5.6 .2 1.2 .2 4.6 .6-2.7 .1-4.9 .2 .4 .2-2.8 .2-5.3 .6-8.2 .1 .4 .2 .7 .2-4.2 .2 10.9 .5 25.4 .2 5.7 .2 4.2 .2 .9 .2-1.6 .5-9 .2-.8 .2-1 .2 3.5 .2-2.1 .5 3.3 .2 1.7 .2 2.8 .2-3.9 .2-7.9 .5-14 .2-6.2 .2-2.5 .2-1.3 .2-5.2 .5-8.1 .2-4.7 .2-.3 .2-1.3 .1 10.1 .6-4.7 .2 .4 .2 0 .1 4.6 .2-12.2 .6-15.9 .2-9.5 .2 .8 .1-.4 .2 1 .6 14.6 .2 2.6 .1-.4 .2 1.1 .2-7.7 .6 26.6 .2 3.7 .1-3.2 .2 2.9 .2-5.7 .6 5.5 .1 11.2 .2-1.3 .2 4.5 .2 17.2 .5 6.9 .2-7.1 .2 .1 .2 .7 .2-4.4 .5 12 .2-7 .2 2.8 .2 .6 .2-1.4 .5-17.4 .2-1.5 .2-5.7 .2-6.3 .2-.8 .5 0 .2-4.4 .2 3 .2-.7 .2 5.8 .5 3.9 .2-3.1 .2 2.5 .2-.5 .1 4.9 .6-22.4 .2-1.8 .2 1.3 .2-1.5 .1-10.5 .6-11.7 .2-7.3 .2 6.3 .1 5.4 .2-14.2 .6-14.8 .2-3 .2-3.8 .1-2.7 .2-.6 .6 17.4 .2 22.1 .1-4 .2 0 .2 16.9 .6 7.4 .2-8.7 .1-.8 .2-4.9 .2-6.3 .6-2.3 .1-6 .2-4.5 .2 .4 .2-11.2 .5-15 .2-2.7 .2-.1 .2 2.6 .2-14 .5-20.7 .2-1.4 .2 4.7 .2-4.1 .2-7.8 .5-19.1 .2-7 .2 3.1 .2 .7 .2-5.2 .5-15 .2 4.5 .2 1.2 .2-7.5 .2-4.3 .5-11 .2 3.9 .2-5.2 .2-.6 .1-5.1 .6-12.3 .2-6.4 .2 2.1 .2 2.5 .1-9.9 .6-7.6 .2-2.9 .2 .7 .1 1.6 .2-6.4 .6 11.8 .2 2.2 .2-2.2 .1 4.8 .2-2 .6-25.7 .2 16.7 .1-3 .2 4 .2 16.9 .6-10.3 .1 17.9 .2-3.5 .2 2.3 .2 9 .6 16.8 .1 3.6 .2 2.4 .2 0 .2 7.5 .5-8.8 .2 8.4 .2 2.7 .2 2.1 .2-2.1 .5 8.4 .2-6.1 .2-6 .2 2.6 .2-11.5 .5-.1 .2 3.3 .2-4.1 .2 .8 .2-10.2 .5-2.3 .2-10 .2-7.3 .2-1.9 .2-6.8 .5-22.8 .2 7.4 .2-.1 .2 4.7 .1-11 .6-15.6 .2 2.6 .2 3.4 .2 .6 .1-7.1 .6 21.9 .2-18.3 .2 7.3 .1 1.5 .2-19.7 .6-6.7 .2-7.9 .1 4.3 .2-1.8 .2-3 .6 2.1 .2 1.9 .1-3.5 .2 .1 .2 6.3 .6-4.4 .1-2.5 .2-5.6 .2 .7 .2-3.2 .6 29.1 .1 14.6 .2-4 .2-.3 .2-6.5 .5 45.3 .2 8.6 .2-1.2 .2-1 .2 9.4 .5 2.5 .2-2.7 .2 1.6 .2-5.3 .2 10 .5-1.4 .2 1.1 .2 .6 .2-6.2 .2 11.8 .5 1.2 .2-5.8 .2-.2 .2-7.6 .2 5.7 .5 9.7 .2-3.9 .2 .5 .2-2 .1 7.5 .6-11.4 .2 4.8 .2 4.1 .2 .7 .1-5.1 .6-24.6 .2-20.2 .2-1.7 .1 1.6 .2 13.2 .6 11.9 .2 6.5 .1-2.4 .2-3.1 .2-10.6 .6-1.6 .2-9.5 .1 1.4 .2 2.6 .2 .2 .6-10.5 .1 2.5 .2-3.1 .2-5 .2 4.9 .6 18.1 .1 5.7 .2-5.4 .2 2.2 .2-3.6 .5 4.5 .2-6.4 .2 2.6 .2-4.2 .2-3.3 .5-2.2 .2 9.2 .2 1.7 .2-1.6 .2 10.1 .5-10.4 .2 4 .2 .7 .2 5.7 .2-7.9 .5-15.7 .2-4 .2-.5 .2-1.2 .2 9.3 .5-8.3 .2-5.4 .2-.5 .2 .4 .1 .9 .6 9.3 .2 1.9 .2-3 .1-5.5 .2 4.7 .6-1.3 .2-6.1 .2-2.8 .1 1.8 .2 5.7 .6-6.2 .2-6.9 .1-1.5 .2-.7 .2 .9 .6 1.8 .2 9.7 .1-3.4 .2-2 .2-.7 .6 37.7 .1 6.5 .2 3.2 .2 1.7 .2-3 .6-2.8 .1 10.6 .2 3.3 .2 1.1 .2 1.6 .5-6.6 .2-9.5 .2-2.4 .2-5.1 .2-6.6 .5-10.2 .2 7 .2-.9 .2 2.8 .2 3.3 .5 8.8 .2 2.5 .2 .1 .2 5.4 .2-.1 .5-10.4 .2 6.6 .2-3.3 .2-1.2 .2 7.8 .5 6 .2 11.6 .2 .9 .2 1.4 .1-6.2 .6-2.6 .2 20.8 .2 3.5 .1 .9 .2-2.3 .6 13.2 .2 1.5 .2-.4 .1 1.2 .2 6.9 .6-1.6 .2 3.6 .1 2.8 .2 4.5 .2-1.6 .6 22.5 .2 5.8 .1-1.9 .2 1.4 .2 3.4 .6 22.8 .1-4.9 .2-2.1 .2 .6 .2 4.7 .5 0 .2-3.1 .2-1.8 .2-5.1 .2 .4 .5 1.1 .2 .6 .2-2.5 .2 2.9 .2-7.7 .5-14.8 .2-1.3 .2 2.2 .2-3 .2-3.8 .5-2.7 .2 1 .2 4.1 .2-2.9 .2 3.5 .5 20.9 .2 14.7 .2 5.8 .2 4.7 .1 8.4 .6-3 .2 5 .2-2 .2 2.4 .1 7.8 .6 4.8 .2-6.8 .2-.5 .1-5.4 .2-8.3 .6-9 .2 4.5 .2-.5 .1-2.9 .2-11.9 .6 4.6 .2 4.6 .1-.2 .2 .7 .2 7.3 .6-10.7 .1 3.5 .2-2.7 .2-2.3 .2-1.6 .6 13.3 .1-1.2 .2-7.7 .2 1.6 .2 5.6 .5-2.7 .2 4.2 .2-.3 .2-3.1 .2-.6 .5 5.1 .2 1.6 .2-1.9 .2-6.1 .2 5.6 .5 6.1 .2-3.7 .2-6.4 .2 1.8 .2 8.4 .5-8.4 .2-.4 .2-6.4 .2 .2 .2 1.2 .5-17.2 .2-5.3 .2 .1 .2-3.1 .1-6.2 .6 8.3 .2 .3 .2-.4 .2 2 .1-10.6 .6 5 .2-6.3 .2-3.1 .1-.1 .2 9.4 .6 16.4 .2-3.2 .2-2.8 .1-1.3 .2-3.8 .6 1.6 .2-.5 .1 3.2 .2-1.7 .2 5.1 .6-6.7 .1-.5 .2 7.3 .2-1.5 .2 1.5 .6-6.9 .1-10.6 .2 1.2 .2-.6 .2 1 .5-12.6 .2-1.7 .2-3.7 .2 2.9 .2-.6 .5 0 .2 2.4 .2-3.4 .2 1.8 .2 5.6 .5 .9 .2 9.3 .2-2.7 .2 4.3 .2 .8 .5-.4 .2 3 .2-.4 .2-3 .2-3.3 .5 3.4 .2 1.6 .2-2.9 .2 7.4 .1-.8 .6-1 .2 1.4 .2 3.8 .2 5.7 .1-1.1 .6-1.6 .2-2.4 .2 3.9 .1-5.3 .2-1.7 .6 16.6 .2-.7 .1 .8 .2-1.1 .2 1.9 .6 6.1 .2 1.4 .1-2.1 .2-.4 .2-5.3 .6-4.2 .1-4.1 .2 2 .2 5.2 .2 2.8 .6 3.8 .1 5.2 .2-1.4 .2 .5 .2 .7 .5-9.9 .2-5.4 .2 .3 .2 1.5 .2-4.3 .5-.1 .2 8.4 .2 2.6 .2 2.2 .2-7.9 .5-5 .2 .5 .2-3.2 .2-.7 .2-2.6 .5-11.9 .2 5.8 .2-1 .2-2.3 .2 1.4 .5 5.6 .2 8.5 .2 4.2 .2-.2 .1 .4 .6-8.8 .2 1.7 .2-3.1 .2-7.1 .1-5.7 .6 1.4 .2 4.1 .2-.2 .1 3.9 .2-1.3 .6-8.8 .2 1.3 .1-.8 .2 4.9 .2-6.4 .6 10 .2 .2 .1 0 .2-5.6 .2 6.7 .6 8.6 .1 .2 .2-5.4 .2 .3 .2-2.1 .6-3.1 .1 .2 .2-3.9 .2 2.6 .2-5.9 .5-8.9 .2-.2 .2-2 .2-4.8 .2-10.2 .5-3.5 .2 1 .2 3.3 .2-3.5 .2 .3 .5 5.3 .2 3.5 .2 1 .2-5.6 .2-1.8 .5-2.2 .2-3.1 .2 1.9 .2-6 .2 2 .5-4.8 .2 2.2 .2-1.1 .2-2.7 .1 3.7 .6-2.3 .2-.3 .2-3.8 .1-.4 .2 3.9 .6 7.9 .2-.1 .2 1.3 .1 6.2 .2-3.9 .6-7.4 .2 2.7 .1 .2 .2 5.8 .2-2.8 .6 3.5 .2 .3 .1-3.4 .2-.4 .2 3 .6 3.7 .1-3.3 .2 1.4 .2-2.9 .2 1 .5 5.2 .2 .5 .2 1.9 .2 8.8 .2-.6 .5-14.6 .2-1.7 .2-.9 .2-3.1 .2 11.5 .5-9.2 .2 5.1 .2-4.7 .2-10.5 .2-8.6 .5 4.2 .2-1 .2-4.4 .2-5.2 .2 4.7 .5-11.9 .2 2.6 .2-1.6 .2-6 .2 3.4 .5 6 .2 .6 .2-.8 .2-2.5 .1 5 .6-5.9 .2-5 .2 4.4 .1 2.5 .2-4.5 .6-.4 .2 1.7 .2 10.2 .1 10.7 .2-3.8 .6 2.2 .2 4.3 .1 3.1 .2-9.5 .2-1.2 .6 5.5 .2 2.4 .1 3 .2-1.2 .2 2.2 .6-6.4 .1-8.4 .2-14.7 .2 .4 .2 1.8 .5 2 .2 13.2 .2-1.3 .2 2.1 .2-10.3 .5-2.5 .2-4.9 .2-2.8 .2-4.2 .2-14.4 .5 5.8 .2 .6 .2 4.3 .2-3.1 .2-9.1 .5 5.6 .2 4.8 .2-2.1 .2 2.3 .2-5.1 .5 5.2 .2-1.5 .2-2.6 .2-4 .1 .6 .6 2.6 .2 1.4 .2-4.5 .2 0 .1-5.9 .6 1.9 .2 5.7 .2-5.6 .1 1.9 .2-2.9 .6-2.2 .2 3 .2-4.3 .1 9.7 .2 16.9 .6 12.9 .2 7.3 .1 4.5 .2 15.5 .2 6.5 .6 9.6 .1-1.2 .2-.9 .2 .5 .2 5.8 .6-3.2 .1-1.8 .2 1 .2 4.2 .2-2.9 .5 1.4 .2-4.2 .2-5.5 .2 13.4 .2-.8 .5 .4 .2-10.4 .2-2.7 .2-2.2 .2-6.8 .5-3.5 .2 .9 .2 6.6 .2 2 .2 .1 .5-16.8 .2-1.2 .2 .9 .2-4.4 .2-2.2 .5-2.2 .2-.9 .2 4.5 .2 4.6 .1 12.4 .6 14.8 .2 5.9 .2 14.1 .2 2.1 .1 7.5 .6-4 .2 1.9 .2 9 .1-5.8 .2-3.7 .6-1.7 .2-3.4 .2-3.1 .1 5.4 .2-3.6 .6 4.8 .2 7.9 .1-.8 .2-1.3 .2 1.1 .6 9.8 .1-3.3 .2 2.2 .2-7.1 .2-6 .6-1.7 .1 8.6 .2 3.6 .2 2.6 .2 .3 .5 2 .2-3.7 .2 1.1 .2 2.3 .2 3.1 .5-6 .2 3.5 .2-3.3 .2-2.4 .2 2.6 .5-.2 .2 0 .2-1.8 .2-3.1 .2 1.7 .5 .1 .2 7 .2-1.9 .2 3.8 .2 14.2 .5-2.8 .2-2.9 .2 2 .2 2.4 .1-11.9 .6-.6 .2-2 .2-1 .2-9.6 .1-1.6 .6 6.4 .2-3.1 .2-1.3 .1-1.2 .2 3.7 .6 4.5 .2-10.6 .1 5.4 .2-8 .2-3.5 .6-17.9 .2-9.2 .1-.3 .2-5.8 .2 .5 .6-2.3 .1-1.9 .2 1.3 .2 6.2 .2-11.3 .6 2.2 .1 2.2 .2-3.3 .2 4.8 .2 .1 .5-12.2 .2 0 .2-4 .2-9.7 .2 0 .5 3 .2 5.6 .2-1.9 .2 3.2 .2-10.4 .5 4.2 .2 2.3 .2 5.4 .2-1.7 .2-2.1 .5 6.7 .2-3.1 .2 2.5 .2-5.2 .2 1.2 .5 8.5 .2-4.8 .2 1.4 .2 1.1 .1 6.9 .6 1.2 .2 5.2 .2-2.3 .1-2.4 .2 8.1 .6-6.7 .2 6.9 .2 1.5 .1-.4 .2 4.6 .6-7.2 .2 .2 .1 9.7 .2-1.8 .2 2.8 .6 14.6 .2 15.5 .1-2.7 .2-1.2 .2-2.4 .6 10.9 .1 2.4 .2-.8 .2 2.8 .2 3.5 .6-3.9 .1 2.8 .2 7.1 .2-.6 .2 2 .5-2.8 .2 .8 .2 1.5 .2 4.9 .2-9.2 .5 5.5 .2-1.9 .2-4.9 .2-4.5 .2 6.1 .5-.6 .2-4.1 .2-5.4 .2 1 .2 .4 .5-13.1 .2-7.2 .2-2.8 .2 1.4 .2-6.9 .5-7.1 .2-2.9 .2 4.1 .2-1.9 .1-.1 .6 2.5 .2 5.5 .2 4.6 .1 1 .2 9 .6 1.7 .2 3.3 .2 1.5 .1-1.5 .2 9.7 .6 12.6 .2 5.4 .1 .4 .2-5.8 .2 .7 .6 16.2 .2-.6 .1 7.1 .2 9 .2-8.3 .6-4.7 .1 6.9 .2 9.3 .2-15.9 .2-11.7 .5 7.9 .2-.4 .2-3.6 .2 6.3 .2 5.5 .5 2.7 .2 15.1 .2-3.3 .2 5.6 .2 6.5 .5 7 .2 2.1 .2 8 .2 20.3 .2 19.9 .5-36.8 .2-1 .2 5.3 .2 9.9 .2 5.3 .5 8.9 .2 2.9 .2 22.7 .2 3.9 .1 19.2 .6 10.3 .2-5.1 .2-14.6 .2-33 .1-9.5 .6 8.1 .2 6.4 .2 12.5 .1 15.3 .2 15.4 .6 15.6 .2 6.2 .2 12.6 .1 14.7 .2 15.2 .6 3.3 .2 1.1 .1-6.6 .2 2.4 .2-10 .6 8.4 .2-21.3 .1-11.9 .2-.8 .2 7.9 .6-9.6 .1 8.8 .2-.7 .2-12.5 .2-8 .5-11.2 .2 3.3 .2 1.1 .2 3.6 .2 .1 .5-2.9 .2 3.7 .2-15.6 .2 5.3 .2-10.9 .5 15.3 .2-5.9 .2 10.5 .2 9.9 .2-1.5 .5-10.5 .2 2.1 .2-5.5 .2-5.6 .2-5.3 .5 3.6 .2-.5 .2 1.8 .2 5.6 .1 13.6 .6 21.8 .2 13.6 .2-3.8 .2 3.5 .1 10.6 .6-7 .2-9.3 .2-.3 .1-10.7 .2-7.3 .6-2.9 .2 .8 .2 9 .1 4.6 .2 1 .6-12.7 .2-5.2 .1-8.2 .2-5.1 .2-8.1 .6-3.9 .1-1.6 .2 11.9 .2 6.6 .2 .3 .6 11.1 .1 7.4 .2 .3 .2-.8 .2 5.2 .5 2.3 .2-1 .2 8.6 .2 .3 .2-11.8 .5 8.9 .2-5 .2-5.9 .2-5.4 .2 17.9 .5 14 .2-2.5 .2-2.8 .2-9.7 .2-5.1 .5-2.3 .2-14 .2 1.5 .2 2.9 .2-8.8 .5-10.8 .2-8.3 .2 6.5 .2-3.4 .1-4.6 .6-2 .2-3.1 .2 1.2 .2 10.6 .1-.4 .6-4.7 .2-.4 .2 3 .1-9.5 .2-11.2 .6-9.1 .2 5.2 .1-.4 .2-8.8 .2 2 .6 3.6 .2-9.4 .1-12.8 .2 9.8 .2 19.5 .6 10.4 .1-1.1 .2-17.3 .2-14.2 .2-.5 .6-7.1 .1 10.9 .2-2.1 .2 2.6 .2-25.8 .5-17 .2 3.8 .2 7.9 .2 2.1 .2 8.4 .5 .2 .2-1.1 .2-11.4 .2 .4 .2 5.7 .5 .6 .2 5.8 .2-5.4 .2-4.3 .2-12.8 .5-.9 .2-6.8 .2-3.4 .2-2.1 .2 1.7 .5 6.2 .2-11.3 .2-9.4 .2-3 .1 1.3 .6 11.2 .2 2.6 .2-2.6 .2 .2 .1 3 .6 3.4 .2 3.3 .2 .5 .1 4.5 .2-.2 .6 0 .2 3.7 .1-3 .2-.8 .2 6.2 .6-2.5 .2 5.7 .1 3.6 .2-5.1 .2-2.9 .6-18.2 .1-1.4 .2-.1 .2-3.2 .2-8.7 .6-9.6 .1-13.9 .2-3.6 .2-5.5 .2 2.1 .5 6.2 .2-5.1 .2-.5 .2-1 .2-1.8 .5-.8 .2 5.7 .2 2 .2-3.7 .2 4.5 .5 1.2 .2-8.8 .2 9.1 .2 .4 .2-2.7 .5 6.5 .2-11.3 .2 8.6 .2-7.2 .2-7.1 .5 1.3 .2 7.3 .2-1.3 .2 3.8 .1 2.8 .6 2.7 .2-4.8 .2 3.1 .1-.3 .2-2.9 .6 14.9 .2-7.8 .2-2.7 .1 4.1 .2-.2 .6 2.4 .2-5 .1-2.9 .2 .2 .2-4.9 .6 5.1 .2-3.3 .1 1.1 .2 3.4 .2 6.9 .6 13.8 .1 1 .2-1.1 .2-.4 .2 6.1 .5-3.1 .2 .4 .2-2 .2-7.4 .2-7.8 .5 8.7 .2-.7 .2-7 .2-2.6 .2 1.7 .5 5.7 .2 6 .2 4.5 .2 9 .2-3 .5 5.8 .2 3.4 .2 3.8 .2-4.5 .2 2.7 .5-1.4 .2-1 .2 3.3 .2-3.4 .2 .9 .5 5 .2-8.9 .2-2.3 .2-2.3 .1 .9 .6 3.3 .2 .5 .2-3.8 .1 5 .2-6.6 .6 .8 .2-5.7 .2-1.2 .1 4.9 .2 2.6 .6-9.9 .2-.1 .1 4.9 .2-2.2 .2 1.5 .6 9.1 .2 5.7 .1 2.5 .2-4.4 .2-2.3 .6-6.3 .1-1.6 .2-4.3 .2 5.6 .2-3.9 .5-10.6 .2 .6 .2-1.3 .2-2.7 .2-3.6 .5 5.2 .2-1.1 .2-13 .2-3.7 .2-.3 .5-3.5 .2 .9 .2 3.5 .2-3.8 .2 4.3 .5 4.2 .2 4 .2-.9 .2-3.5 .2 5.1 .5-5 .2-3.5 .2 1.6 .2 6.4 .1 10.9 .6-.3 .2 8.1 .2 2.8 .2 2.1 .1 7.9 .6 .1 .2 .6 .2 5.7 .1-1.7 .2-3.4 .6-7.7 .2-.5 .2-6.5 .1 3.6 .2 6.5 .6 1.1 .2-5.4 .1-1.2 .2-2.8 .2 .5 .6 2 .1-2.7 .2 .8 .2-1.1 .2-4.3 .6-10.1 .1-12.6 .2-.8 .2 3 .2-11.1 .5 9.4 .2-.6 .2-1.3 .2-2.1 .2 .7 .5-4.4 .2-2.1 .2-7.9 .2 6.7 .2 1.9 .5-7.1 .2 3.6 .2 2.5 .2-9.2 .2 2.1 .5-1.2 .2-.6 .2 2.2 .2-2.2 .2-6.7 .5 10.3 .2 .8 .2-.9 .2-4.6 .1-3.7 .6 5.5 .2 6.5 .2-1.7 .2 1.3 .1 4.3 .6 5.8 .2 3.1 .2-3 .1-3.7 .2-3.6 .6 1.3 .2-5.4 .2 2.9 .1 4.8 .2 5.8 .6 15.7 .2 10.4 .1 3.6 .2 .8 .2 8.5 .6-7.2 .1-8.8 .2-7.7 .2 5.8 .2 .7 .6 4 .1 7 .2 2.4 .2 5.5 .2-.6 .5-1.6 .2-.6 .2 3.7 .2 3 .2-5 .5-3.1 .2 .8 .2 .5 .2-1.2 .2 1.1 .5-2.8 .2 2.4 .2-8.2 .2-1.2 .2 1.1 .5 7.1 .2-1.5 .2-4 .2-3.1 .2 3.8 .5 8.8 .2 6.1 .2-.4 .2 3 .1 .1 .6 5.2 .2 4.1 .2 2 .2 7.8 .1 7.8 .6-.6 .2-15 .2-1 .1-4.3 .2-.6 .6 5.2 .2 2.2 .1 .1 .2-2.5 .2-3.4 .6 7.5 .2-5.5 .1 .5 .2 3.5 .2 2.7 .6-8.5 .1-5 .2-6.1 .2-.8 .2-6.3 .6-6.3 .1-8.5 .2 2.2 .2 .2 .2-3.4 .5-1.8 .2 3.6 .2 2.2 .2-3.9 .2 4.8 .5-13 .2 5.9 .2 4.4 .2 .6 .2 3.7 .5-5.1 .2 5 .2 1.3 .2 3.6 .2 8.3 .5-.3 .2-.1 .2-2.1 .2-7.2 .2 3.7 .5 20.1 .2-3.6 .2-1.6 .2-3.1 .1-6.2 .6-6.3 .2 4.1 .2-9.1 .2 .1 .1 5.1 .6 11.9 .2 9.5 .2-5.7 .1-1.8 .2-6.1 .6-2.9 .2-2.3 .1 7.8 .2 2.9 .2 1.4 .6-5.2 .2 .7 .1-5.9 .2-2.3 .2-1 .6 2.1 .1-3.6 .2-1.1 .2-.8 .2-5.3 .6 1.1 .1 2.5 .2 2.9 .2 .7 .2 1.3 .5-4.8 .2 1.9 .2 5.1 .2-2.2 .2-1.5 .5-8.5 .2-10.2 .2-5.9 .2 .2 .2-4.3 .5-15.9 .2-4.5 .2-.8 .2 2.6 .2 1.6 .5 4 .2-2.4 .2 2.1 .2 1 .2-2.1 .5-2.4 .2 1.3 .2 2.3 .2 3.5 .1 1.2 .6-3.5 .2 .5 .2 .9 .1-4.6 .2 2.3 .6 7.6 .2 4.4 .2 1.8 .1-2.5 .2 8.4 .6-4.9 .2 6.9 .1-2.2 .2-.9 .2 6.2 .6 3.1 .2-4.1 .1 .9 .2 1.6 .2-1.1 .6-10.1 .1-9.6 .2 5.8 .2 .2 .2-9 .5-27.6 .2-8.7 .2-3.1 .2 1.4 .2-6.4 .5-9.8 .2-2.6 .2 2.1 .2 4.1 .2-.4 .5-3.8 .2 1 .2-6.2 .2-6 .2-8.9 .5-5.6 .2-1.1 .2 1.1 .2-6.5 .2-1.4 .5 6.8 .2 11.2 .2 5.9 .2 .9 .1 1 .6-18.6 .2-2.3 .2 .9 .2-.8 .1-10.1 .6 3.9 .2-2.9 .2-4.4 .1 2.6 .2 2.5 .6-4.2 .2 7.2 .2 1.9 .1 1.7 .2 .1 .6 5.3 .2 1.2 .1-1.8 .2 4.1 .2-.8 .6-13.4 .2 1.4 .1 2.5 .2-4.3 .2 .4 .6 6.3 .1 3.5 .2 2.9 .2-.1 .2 2.4 .5 8 .2 1.7 .2-3.1 .2-11.6 .2 7.5 .5-11.5 .2-1.6 .2-1 .2 .9 .2 9.4 .5 3.9 .2-8.6 .2 3.5 .2 11.9 .2-.8 .5 11.8 .2-.9 .2-2.5 .2-10.9 .2 7 .5 3.1 .2-2.8 .2-.7 .2 3.1 .1-3.5 .6-5.7 .2-2.4 .2-4.6 .2 2 .1 4.4 .6 19.8 .2 2.8 .2-.1 .1 3.9 .2-2.6 .6 7.8 .2-4.6 .2-5.7 .1 6 .2 .9 .6-2.8 .2-2.3 .1 .9 .2 6.3 .2 3.3 .6 7.6 .1 5.1 .2-.9 .2 1.7 .2 4.6 .6-.5 .1-2 .2 1.9 .2-4.1 .2 4.3 .5 1.2 .2 2.5 .2 1 .2 5.1 .2-4.7 .5 4.9 .2-.4 .2 .9 .2 7.6 .2 0 .5-10.6 .2-8.6 .2 1.7 .2-8 .2-16.1 .5 7.6 .2-2.3 .2-5.5 .2-5.3 .2-12.1 .5-5.5 .2-2.2 .2-.8 .2 0 .1-8.3 .6-10.8 .2-1.5 .2 1.2 .2-1.2 .1-5.8 .6 6.7 .2 1.4 .2-1.8 .1-6.5 .2-.4 .6 11.8 .2 1.7 .2 13.9 .1 10.9 .2 6.2 .6-1.2 .2 12.7 .1 15.3 .2 6.4 .2 7.7 .6 14.1 .1-3.7 .2-1.5 .2-3.4 .2 6.6 .6-3.8 .1 3.4 .2-7.4 .2-1.7 .2 5.7 .5-21.2 .2-4 .2 5.8 .2-5.3 .2-2.8 .5-10.8 .2-.3 .2-1.7 .2-9.8 .2-6.7 .5 5.2 .2-2.4 .2-3.2 .2-19.3 .2-5.2 .5-10.7 .2-5.7 .2-4.5 .2-3.9 .2-2 .5 22.1 .2 1.7 .2 7.5 .2-15.8 .1 1.7 .6-6.4 .2 13.9 .2 14.3 .2-9.7 .1-20.7 .6-7.8 .2-6.4 .2-2.3 .1-15 .2-8.7 .6-58.2 .2 .2 .1 8.9 .2 47.7 .2 6.3 .6-29.7 .2-7 .1-11.7 .2-9.2 .2-6.8 .6-62.9 .1-2 .2-9.9 .2-12.9 .2 13.9 .6 79.5 .1 4.4 .2-3.5 .2-13.8 .2-.5 .5-50 .2 18 .2 1.9 .2-10.2 .2 5.7 .5-61.1 .2-4.1 .2 5.8 .2 3.6 .2 1.6 .5 13.7 .2 10.9 .2 1.7 .2-19.9 .2 33.1 .5 9.6 .2 6.9 .2-2.1 .2 5.3 .2-8 .5 25.3 .2-9.9 .2-7.5 .2 20.4 .1-1.1 .6-5.9 .2-10.5 .2-4.5 .1 2.1 .2-7.2 .6 36.1 .2-2.5 .2-2.4 .1-12.8 .2 2 .6-28.8 .2-2.3 .1 2.6 .2 8.1 .2-12.1 .6 25.2 .2-.2 .1 0 .2 3.2 .2 .3 .6-27.8 .1 .9 .2-.4 .2-23.9 .2-15 .6-12.2 .1-2 .2-6.2 .2 8.2 .2 5.3 .5 22.1 .2-.5 .2 2.2 .2 1.6 .2-10.7 .5-20.1 .2-3.6 .2-3.2 .2 4.1 .2 10.5 .5 24.6 .2-3.1 .2-2.3 .2 2.1 .2-8.8 .5-29.8 .2-.6 .2 1.2 .2-20.1 .2-7.8 .5-9.1 .2-9.4 .2-.3 .2 6.7 .1-6.3 .6-.4 .2-.3 .2-1 .1-.6 .2-22.5 .6 25.7 .2-25.7 .2 0 .1 0 .2 0 .6 2.8 .2 7.3 .1 3.9 .2-2.7 .2 5.5 .6 14.9 .2 20.5 .1-.1 .2 .1 .2 12.8 .6 15.5 .1 8.6 .2-2.6 .2-3 .2-10 .5-17.5 .2-2.7 .2 8.2 .2 2 .2 22.7 .5 8.8 .2 10.9 .2 2.8 .2 .5 .2 14.4 .5-.7 .2-7.7 .2-1 .2 6.2 .2-1.7 .5 13.3 .2-23.2 .2 2.5 .2 .8 .2-4.5 .5 37.8 .2-.7 .2 .4 .2 3.7 .1 .5 .6-4.8 .2 29.4 .2-1.1 .2-.1 .1 8.6 .6-21.4 .2-4.1 .2-.7 .1 2.8 .2-.8 .6 13.7 .2-1 .2-2.3 .1-3.9 .2-6.6 .6 9.4 .2 6.4 .1 2.8 .2-3.1 .2 4.2 .6 12.4 .1-13 .2 3.1 .2-5.4 .2-2 .6 17.1 .1-2.1 .2 3.3 .2-2.9 .2-7.7 .5-7.7 .2-7.7 .2-1.7 .2 .8 .2-2 .5-5.2 .2 7.2 .2-.6 .2 5.2 .2-4.5 .5-2.1 .2-7.8 .2 1.9 .2 .3 .2 3.5 .5-6.5 .2 3.1 .2-3.9 .2-.8 .2 11.5 .5 5 .2 4.1 .2-.1 .2 .4 .1 10.7 .6 23.3 .2-.2 .2-.3 .2 2.3 .1 .7 .6 5.6 .2-2.6 .2-2 .1-3.5 .2-4 .6-1.1 .2-8.6 .2 2.2 .1 1.2 .2-3.6 .6-7.4 .2 1.5 .1-6 .2 0 .2-5.1 .6 9.8 .1 8.1 .2 .4 .2 2.7 .2 .7 .6-1.7 .1-2.1 .2 2.9 .2-4.4 .2 2.7 .5-1.5 .2 5.7 .2-.7 .2-4.9 .2-3 .5 4.1 .2 1.9 .2 4.2 .2-3.4 .2-4.3 .5 4 .2 1.2 .2-3.3 .2 1.2 .2 5.4 .5-5.6 .2 .7 .2-.7 .2-1.1 .2-.7 .5 7.5 .2-9.3 .2 2 .2-.4 .1 .1 .6 17.4 .2 9.4 .2 7.7 .2-.7 .1 .3 .6 9.2 .2-2.1 .2 3.9 .1-4.3 .2-1.7 .6-20.2 .2 6.8 .1 2.1 .2 2.4 .2-5.3 .6 .6 .2-2.1 .1-.7 .2 3 .2-2.8 .6 .8 .1 13.6 .2 3.2 .2 1.6 .2 1 .6 18.2 .1 3.1 .2 1.7 .2 .3 .2-1.4 .5 3.7 .2 1.3 .2-.3 .2 2.2 .2-1.9 .5-1 .2-7.3 .2-3 .2-4.8 .2 4.6 .5-1.4 .2-1.3 .2 1.8 .2-6 .2-8.6 .5-9.3 .2 3.5 .2 4.3 .2-5.6 .2 .8 .5 2.4 .2 1.7 .2 .3 .2 4.5 .1-2.5 .6 5.2 .2 4.3 .2-3.7 .2-1 .1 1.3 .6 23 .2-.4 .2-1 .1 2.5 .2 3.8 .6 3.8 .2-4.8 .1-3.5 .2-3.6 .2-2.2 .6 2.5 .2 .9 .1 .6 .2-.4 .2-6 .6-9 .1-10.9 .2 1.2 .2 1.5 .2 1.6 .6-14.8 .1-10.2 .2-1.6 .2-.1 .2-2.2 .5 1.2 .2 3 .2-.6 .2 3.1 .2-.3 .5 10.9 .2 6.2 .2 2.3 .2 3.7 .2 2.7 .5 3.5 .2-1.1 .2-1.2 .2-3.3 .2-.7 .5 .4 .2 .1 .2-1.1 .2-1.7 .2 .9 .5 6.3 .2 5.1 .2-2.8 .2 0 .1-1.8 .6 4 .2-2.1 .2-2.1 .1-3 .2 .7 .6 4 .2 1.1 .2 .6 .1 1 .2-1.5 .6 5.6 .2 2.3 .1-.9 .2 .3 .2 8.2 .6-.6 .2 8.5 .1 2.7 .2 1.1 .2-2 .6 10.8 .1-.5 .2 4 .2 1.6 .2-4.8 .5-1.7 .2 .6 .2 5 .2 .4 .2-7.1 .5 4.4 .2-1.4 .2 1.4 .2-.8 .2-4 .5-7.6 .2-10.1 .2-3.6 .2-.3 .2-17.4 .5-16.2 .2-7.6 .2 2.3 .2-4.1 .2 9.5 .5 11.2 .2-9.4 .2-.5 .2-5.1 .2-6.7 .5-25.9 .2 1.6 .2 1.7 .2 3.7 .1 7.2 .6-9.5 .2 12.4 .2-1.4 .1 4.9 .2 6.9 .6 7.3 .2-3.9 .2 .9 .1 .5 .2 3.1 .6 8.2 .2 5.2 .1 .6 .2-4.8 .2-.9 .6 9 .2 .5 .1 3.7 .2 1.3 .2-5.1 .6-9.6 .1 2.5 .2-2.1 .2-1.8 .2-14.4 .5-21.2 .2-7.9 .2 5.2 .2-4 .2-1.9 .5 10.5 .2 7.9 .2 .3 .2-5.3 .2 2.2 .5 2.1 .2 .9 .2-5.6 .2-1.9 .2-.9 .5-3 .2-8.1 .2-4.2 .2-.8 .2 7.7 .5 12 .2 .5 .2 0 .2-4.2 .1 3.8 .6 .6 .2-3.3 .2 3.3 .2 1.6 .1-7.1 .6 6.3 .2-2.3 .2-2.1 .1 1.6 .2-.8 .6-5.6 .2-3.7 .2-2.2 .1-2.8 .2 4.9 .6-5.3 .2-4.7 .1-.1 .2-.8 .2-6 .6 5.3 .1 6.6 .2-4.3 .2 .9 .2 6.5 .6 7 .1 7.1 .2-1.7 .2-2.3 .2-2.6 .5 11.2 .2-.6 .2-1.3 .2 2.6 .2-3.4 .5 6 .2 2.4 .2-1.6 .2-2.3 .2 7.4 .5-7.6 .2 3.4 .2 .2 .2-.4 .2 2.7 .5 15.5 .2 6.6 .2 0 .2 .8 .2 2.5 .5 3.2 .2 4.6 .2-.9 .2-2.9 .1-.6 .6-6.9 .2-4.6 .2 .5 .2 1.5 .1-.9 .6-3.3 .2 4.1 .2-.1 .1-7.2 .2 4 .6 4.6 .2 .8 .2 2 .1-1.7 .2-8.5 .6-4.2 .2-10 .1-1.7 .2-.4 .2-7.6 .6-5.4 .1 4.6 .2-.8 .2-3 .2-.7 .6-6.1 .1 4.7 .2-4.3 .2-2.3 .2 9.6 .5 9.7 .2-1.6 .2 1.7 .2-3 .2 6.4 .5-1.2 .2-7.2 .2 5.2 .2-1.7 .2-2.1 .5 1.8 .2 1 .2-1 .2-4.3 .2 2.7 .5-.7 .2-.6 .2-1.7 .2-1.4 .2 5.6 .5-2.7 .2 1.5 .2-1.2 .2-7.7 .1 2.9 .6-.1 .2 2.8 .2 4.9 .2 3.5 .1 1.1 .6-1.2 .2-4.8 .2 .6 .1-4.8 .2-3.8 .6 10.6 .2 6.9 .1 2.8 .2 4.4 .2 .1 .6 7.6 .2 4.5 .1-.7 .2 .7 .2 10.5 .6-3.2 .1-4.1 .2 .1 .2-4 .2 1.6 .6-1.4 .1 7.2 .2 2.6 .2-6.1 .2-2.7 .5-.8 .2-2.5 .2-2.3 .2-5.2 .2 3.2 .5-16.8 .2 1.7 .2-2.9 .2 .2 .2-2.9 .5-6.1 .2-2.2 .2 .5 .2 1.3 .2 1.1 .5-4.5 .2 .1 .2 .1 .2 2.6 .2-2.3 .5-8.5 .2 3.7 .2 1.6 .2 5.3 .1-.6 .6 4.7 .2-1.6 .2-1.6 .2 7.1 .1 14.3 .6 11.8 .2 2.2 .2-.1 .1 .2 .2-.8 .6 4.6 .2 5.9 .1 3.8 .2 3.4 .2-9.5 .6 13.3 .2-5.9 .1-3.4 .2 1.8 .2-.2 .6-2.8 .1-.7 .2 2.3 .2-2.4 .2 .5 .6 3.8 .1-6.7 .2 1.3 .2 3.8 .2-4.8 .5-10.2 .2-2 .2-.4 .2-5.9 .2-.3 .5 5.2 .2 1.2 .2-.2 .2-.3 .2-7.1 .5 1.9 .2-2.1 .2 3.5 .2-2.5 .2-1.5 .5-11.2 .2 2.4 .2-.4 .2-4.2 .2-1.6 .5-.8 .2-8 .2 .3 .2 3.3 .1-3.5 .6-7 .2-1.8 .2 4.7 .1 2.9 .2-5.9 .6-2.8 .2-9.9 .2-3.5 .1-1.6 .2-4.9 .6 8.3 .2 .8 .1-2.2 .2-1.3 .2-1.5 .6 7.6 .2 6.1 .1-.2 .2 .5 .2 1 .6 2.6 .1 8.9 .2 1.6 .2 6.7 .2 1.3 .5 1.7 .2 8.8 .2-5.4 .2-4.5 .2-.2 .5-2.2 .2-1.7 .2-3.8 .2 3.5 .2 0 .5-23.7 .2-.8 .2-2.5 .2 3.9 .2 6.3 .5-29.3 .2-2.7 .2-3.7 .2-3.2 .2-11.1 .5 13.9 .2-4.2 .2 .9 .2-2.6 .1-10.8 .6 3.2 .2-11.2 .2-4.7 .2 1.2 .1 10.4 .6 3.2 .2 0 .2-2.7 .1-.8 .2 1.6 .6-1.1 .2 3.6 .2 3.5 .1-.9 .2-2.7 .6 16.3 .2 5.4 .1 .9 .2 .1 .2 5.4 .6 11.9 .2-3.4 .1-5.3 .2-3.2 .2 3.1 .6-3.7 .1-3 .2 3 .2 .5 .2-1.9 .5-30.6 .2 9.5 .2 2.3 .2 2.4 .2-3.7 .5 16.2 .2 7.7 .2-.7 .2 1.5 .2-1.8 .5-8.8 .2-1.3 .2 3 .2-1.5 .2 8.1 .5 21.4 .2-3.4 .2-.3 .2 1.9 .2 5 .5 13.9 .2-7.4 .2-.7 .2-1.3 .1-6 .6 6.3 .2-8.3 .2-6.6 .2-5.3 .1-8.7 .6-25.2 .2-13.3 .2-3 .1-1.6 .2 .8 .6-4.5 .2-8.5 .2-1.4 .1-2.8 .2-.5 .6-.3 .2 2.1 .1 .6 .2-1.8 .2-5.3 .6 1.8 .1-1.5 .2 1.5 .2 4.4 .2 10.7 .6 12.3 .1-1.7 .2-3 .2 5.2 .2-10.5 .5 18.1 .2 .3 .2-.3 .2-.4 .2-5.8 .5 2.5 .2-1.1 .2-3.9 .2-1.2 .2 3.2 .5-.5 .2 8 .2 1 .2 1.3 .2 5.1 .5-.1 .2 6.4 .2 4.1 .2 .7 .2 8.6 .5 4.9 .2 4 .2-3.2 .2-4.3 .1-3.6 .6 6.1 .2 2.1 .2-1.7 .2 1.2 .1-2.5 .6 .1 .2 7.1 .2-4.8 .1-2.4 .2 1.7 .6 5.1 .2-1.9 .1 3.6 .2-.4 .2 3.8 .6 5.7 .2 1.7 .1-5.1 .2-2.3 .2 .1 .6 2.8 .1-2.2 .2-1.8 .2-3 .2-.4 .6 10.9 .1 .7 .2-3.3 .2-3.9 .2 2.6 .5 9.8 .2 1.2 .2-.6 .2-1 .2-3.1 .5 4.3 .2-.5 .2 3.1 .2 5.7 .2-1.7 .5-1.5 .2 3.6 .2 1 .2-4.9 .2-6.6 .5 3 .2 6.3 .2 2 .2-1.3 .2 3.4 .5 11 .2 2.8 .2 2 .2 2.9 .1 1 .6-21.2 .2 .6 .2-4.2 .2-7.1 .1 4.2 .6-7.6 .2 .4 .2-2.2 .1 2.7 .2-5 .6-11.2 .2 0 .1-3.2 .2 2.3 .2 .6 .6-7.5 .2 3.3 .1 3 .2 6.1 .2 6 .6-5.6 .1 .6 .2-.7 .2-2.8 .2 4.4 .6-1.7 .1-7.3 .2-2 .2-2.7 .2-5.6 .5-4.3 .2 2.8 .2-3 .2-1.9 .2-3.6 .5 3.7 .2 .9 .2 3.3 .2-5.6 .2 6.7 .5-.6 .2-1.1 .2 .1 .2 .4 .2 2.8 .5 .7 .2-1.4 .2-.7 .2 2 .2 4.1 .5 1.3 .2 1.6 .2 2.1 .2 5 .1 4.5 .6-5.6 .2-2.8 .2 2.1 .1-3 .2-.8 .6-2.4 .2 3.2 .2 7 .1 9.6 .2 3.6 .6-6.9 .2 4.8 .1 2.2 .2-4.5 .2-7.4 .6-9.1 .2-10.2 .1-3.4 .2-9.6 .2 2.8 .6-6 .1 1.6 .2 3.2 .2-4.8 .2 3.1 .6 6.6 .1 8.7 .2-1 .2 3.6 .2 8.5 .5 20 .2-.2 .2 .1 .2 6.7 .2 4.7 .5 .6 .2-.6 .2 3.2 .2 1.7 .2 9.1 .5 12 .2 5.1 .2 12.3 .2 6.6 .2-5.6 .5 .1 .2-8.2 .2-.4 .2-13.2 .2-9.1 .5 2.4 .2-1.1 .2-5.7 .2 7.6 .1-3.8 .6 12.7 .2 8.4 .2-2.2 .1 2.1 .2 .2 .6 5.4 .2 1.6 .2-2.5 .1-6.3 .2 8.3 .6 6.9 .2-4 .1-.8 .2 3.9 .2-2 .6-1.6 .2-3.2 .1 4.1 .2-6.1 .2 .5 .6-2.8 .1-4.5 .2-.2 .2-11.9 .2-2.1 .5-10.5 .2-4 .2 2 .2-4.7 .2-5 .5 .9 .2-9.9 .2-1.8 .2-1.9 .2-2.7 .5-2.4 .2-.8 .2-2.3 .2-5.4 .2-3.9 .5-2.6 .2-9.4 .2 .3 .2 1.1 .2-4.8 .5 3 .2-1.2 .2 4.4 .2-2 .1-.7 .6-3.9 .2-4.3 .2-6.2 .2-.7 .1 3.3 .6-1.8 .2-2.5 .2 .2 .1-.9 .2 4.2 .6 9.7 .2-.2 .2-3 .1 3.8 .2 2.6 .6 .8 .2 3.2 .1 7.5 .2-.5 .2-1.2 .6 8.7 .1-2.5 .2 4.9 .2 5.8 .2 .5 .6-1.3 .1 3.7 .2 .5 .2 .5 .2-3.6 .5-.2 .2-3.7 .2-1.8 .2-5.5 .2 5.6 .5-4.1 .2 1.2 .2 7.3 .2-1.2 .2 11.5 .5 6.3 .2 5.7 .2 1.1 .2 3.6 .2 7.9 .5 9.1 .2 7.9 .2 3.2 .2-5.5 .2-4 .5-.3 .2 7.3 .2-1.3 .2 10.3 .1 10.8 .6 0 .2 5.9 .2-4.8 .2-5.3 .1 2.9 .6 2.9 .2 1.2 .2-2.2 .1-7.5 .2-7 .6-10.1 .2 1.3 .2-2.4 .1 8.6 .2-1.7 .6-.9 .2-5.9 .1 1.4 .2-1 .2-4.9 .6-4.3 .1 2.9 .2 .9 .2-1.9 .2-6.5 .6 6.5 .1-2.7 .2 .4 .2-10 .2 2.2 .5 9.8 .2-.9 .2-2.8 .2-1.8 .2 1.3 .5-2.1 .2 6.9 .2 .3 .2 1.2 .2 .3 .5-2.6 .2 .2 .2-6.9 .2-4.6 .2-.5 .5-7.9 .2 7.8 .2 3 .2-3.5 .2-7.4 .5-6.1 .2 .9 .2 2.1 .2-.1 .1-2.3 .6-8.1 .2 2.7 .2 3 .2 .7 .1 4.5 .6 5.5 .2 2.7 .2 2.2 .1-.3 .2 9 .6 6.8 .2 6.6 .1 3.1 .2-.9 .2 4.1 .6 4.7 .2 2.1 .1-3.7 .2-.9 .2 .3 .6 8.9 .1-2.6 .2-2.4 .2 .9 .2 5.3 .6-4.3 .1 1.6 .2 .7 .2-3.8 .2 3.9 .5-12.5 .2-5.1 .2-.9 .2-2.5 .2-7.4 .5 .2 .2-1.7 .2-.3 .2 .7 .2 1.1 .5 3.2 .2 1.3 .2 4.6 .2 2.7 .2 .9 .5-7.1 .2 7.4 .2 .6 .2 2.3 .2 2.5 .5 8.2 .2 2.9 .2-4.3 .2 1.4 .1-2.3 .6-2.1 .2-1.7 .2-2.6 .2-4.3 .1-3.4 .6-1.9 .2-1.6 .2 .6 .1-3.1 .2-1.7 .6 4.6 .2 5.1 .1-1.3 .2-4.2 .2 1.6 .6 9.3 .2-9.2 .1-4.7 .2 2.7 .2-.6 .6 6.4 .1-.1 .2-.5 .2 2 .2 1 .6-5.6 .1 4.8 .2-4.2 .2 1.2 .2 .9 .5-1.6 .2-4.3 .2-1.4 .2-.6 .2-2.5 .5 2.1 .2 .2 .2-2 .2 .6 .2 .7 .5-6.5 .2 8.4 .2 .9 .2-2.1 .2 3.3 .5-1.3 .2-3.4 .2-1.4 .2 4.5 .2 5.1 .5 5.2 .2-.5 .2-2.4 .2-.3 .1 3.9 .6-3.2 .2 5.1 .2-.3 .1-.6 .2 .2 .6 2.7 .2 1.4 .2 .4 .1-5.4 .2 2.2 .6-3.8 .2 .8 .1-2.3 .2-1.7 .2-7.3 .6-10.6 .2 3.8 .1 .1 .2 .7 .2 10.1 .6 7.3 .1 .2 .2-2.7 .2 .3 .2-1.9 .5-1 .2 4.2 .2-1.8 .2 3 .2 8.5 .5 8 .2 2.8 .2 6.1 .2 4.6 .2-2.4 .5-2.7 .2 2.1 .2 1.1 .2 1.5 .2 1.1 .5 3.3 .2-4.4 .2 .7 .2 1.2 .2-3.2 .5 1.1 .2 1.2 .2 .4 .2-1.2 .2 0 .5-.3 .2-2.4 .2-1.1 .2-2 .1-2 .6 8.5 .2 .4 .2 .4 .1-1 .2 1.5 .6-2.9 .2-2.1 .2 .6 .1-3.1 .2 0 .6 5.3 .2-5.2 .1 .7 .2 5.8 .2 3.9 .6 10.5 .2 .7 .1-1.6 .2 1.3 .2-1.2 .6 7.3 .1-.7 .2-1.4 .2-1.4 .2 .1 .5-4.9 .2-2.1 .2 1 .2 1.4 .2-5.9 .5 5.4 .2 2.1 .2-.9 .2-1.2 .2-.2 .5-13 .2-2.4 .2-3.4 .2 .5 .2-4.5 .5-.8 .2-10.8 .2-.7 .2 .6 .2-7 .5 7.4 .2 .8 .2 3.5 .2-1 .1 3.1 .6 .9 .2-3 .2 .6 .2-5 .1 5 .6 12.4 .2 4.2 .2-5.6 .1-1.4 .2 3.4 .6-4.3 .2-3.6 .2-.2 .1-4.1 .2 1.5 .6 3.1 .2-5.6 .1 .4 .2 0 .2-2.1 .6-4.6 .1-2.2 .2 .1 .2 1.8 .2-.3 .6-8.3 .1-3.2 .2-2 .2 .1 .2 0 .5-9.2 .2-4.5 .2-1.7 .2 2.9 .2-2.1 .5-1.9 .2-2 .2 1.3 .2 .2 .2 1.8 .5-12 .2 7.5 .2-1.9 .2-4.1 .2-1.3 .5 7.8 .2-.3 .2-3 .2 .3 .2 0 .5 2.1 .2 0 .2 .6 .2 1.9 .1 3.3 .6-3.1 .2-.6 .2 .1 .2-.8 .1 3.4 .6 10.9 .2-3 .2 .4 .1-1.1 .2 1.1 .6-2.3 .2 4.5 .2-3.2 .1-1.9 .2-.2 .6-3.9 .2 .8 .1-5.6 .2-.1 .2 1.9 .6 1.3 .1-.2 .2-1.1 .2-4.6 .2 1.5 .6-3.9 .1 1.1 .2 3.5 .2 .5 .2 8.1 .5 4.8 .2-3.6 .2 1.3 .2-4.7 .2 .2 .5 11.9 .2 2.4 .2-1 .2-1.3 .2 3.5 .5 2.5 .2-3.5 .2 4.7 .2 2.4 .2 7.6 .5 1.3 .2-2.2 .2 .2 .2-1.1 .2 .1 .5-8.1 .2-.5 .2-2.3 .2 2.5 .1-6.4 .6 5.5 .2-5.6 .2 .7 .2-.1 .1 4.1 .6 3.5 .2-8.8 .2-2.5 .1-.7 .2-2.8 .6-1.9 .2-6.1 .1 1.9 .2-2 .2-4.4 .6 10.5 .2 1.5 .1 1.1 .2 3.1 .2 1.6 .6 4.6 .1 4.6 .2 1.7 .2 .7 .2-.5 .6 2.5 .1 2.3 .2 .8 .2-2 .2 .9 .5 3.5 .2-2.1 .2 1.7 .2-.9 .2 6.3 .5-1.4 .2 .5 .2-.8 .2-3.2 .2 1.8 .5-3.6 .2-4 .2 3.3 .2-.3 .2 .9 .5 11.5 .2-6.3 .2 .1 .2-.7 .2-3 .5-2.7 .2-5.3 .2-1.1 .2 3.4 .1-6 .6-9 .2 3.7 .2-.2 .1-.6 .2-4.5 .6-2.8 .2-3.5 .2 .1 .1-7.1 .2-2.8 .6-10.4 .2 4.4 .1-2.4 .2 1.4 .2 2.4 .6-.2 .2 4.8 .1 1.3 .2 .9 .2 3.2 .6 2.1 .1-1.3 .2-.8 .2-2 .2 3 .6 13.2 .1 1.4 .2-.5 .2 .5 .2-1.4 .5-.1 .2-.1 .2 .2 .2-4.8 .2-3.6 .5 7.1 .2 5.8 .2-2.4 .2 2.1 .2 1.3 .5 .1 .2 6.7 .2 4.3 .2 4.9 .2 .8 .5-9.9 .2-8.3 .2-3.3 .2-3.3 .2-8.6 .5-8 .2-.4 .2 1.7 .2-1.7 .1 3.7 .6-1.4 .2 3.4 .2-1.8 .1 4.4 .2-2 .6 6.6 .2 3.7 .2 2.6 .1 2.6 .2 2.1 .6-3.7 .2-5.6 .1 2.2 .2-3.2 .2-1.2 .6-12.1 .2-10.4 .1-3 .2-3.4 .2-4.7 .6 3 .1 1.2 .2-2 .2-4.9 .2-2.9 .5 1.7 .2 4.9 .2 1 .2-1.1 .2-3 .5 11.6 .2 8.8 .2 2.2 .2 4.6 .2 8 .5 4.4 .2-2 .2 9.3 .2 7.9 .2-1.1 .5 1.1 .2-3 .2 .4 .2-1.9 .2 1.2 .5-2.1 .2-1 .2-4.7 .2-5.2 .1 4.2 .6 3.3 .2 4.8 .2-4.6 .2-1.1 .1-3.6 .6-7.7 .2 4.2 .2-4.4 .1-3.2 .2-4.4 .6-13.7 .2 6.7 .2 6.3 .1-7.5 .2 6.3 .6 10.4 .2 10 .1 3.9 .2 3.9 .2 1.7 .6-2.7 .2-.5 .1 4.3 .2 6.9 .2-1.6 .6-5.3 .1-4.9 .2-2.1 .2-2.7 .2 3.5 .5-.2 .2-1.9 .2-3.5 .2-4.3 .2 2.7 .5 1.8 .2 4.3 .2 2.2 .2-.9 .2 1.7 .5 7 .2 3.5 .2 5.8 .2-1.8 .2-5.3 .5-12.5 .2-10.4 .2-1.3 .2-3.2 .2-3.2 .5-.1 .2-4.3 .2-.3 .2 .7 .1 .7 .6 13.2 .2-8.2 .2-6.8 .2-6 .1-3.7 .6 3.8 .2-4.5 .2 2.6 .1-.1 .2-6.2 .6 2.6 .2-5.9 .2-1.2 .1 .2 .2 .7 .6 .9 .2 5.3 .1-.8 .2 1.9 .2 4.5 .6 4.7 .1-1.8 .2 2 .2-2.4 .2 1 .6 1.7 .1-6.4 .2-6.6 .2 5.7 .2 5.2 .5 3.8 .2 9.9 .2 4.2 .2 .4 .2 1.3 .5-16 .2-4.2 .2 6.2 .2 4 .2 .2 .5-12.2 .2-1.1 .2 2.4 .2-5.4 .2 3.8 .5 19.6 .2-2.3 .2-4 .2-6.1 .2-.3 .5-4.8 .2-3.2 .2-.6 .2 5.5 .1 3.2 .6-5.9 .2-5.8 .2-4.7 .2 4.4 .1-12.2 .6-3.8 .2-1.5 .2 .9 .1-6.3 .2-5.7 .6 1.7 .2-3.1 .1-2.1 .2-.4 .2-14.1 .6-19.7 .2 9.9 .1-1.9 .2-2.8 .2-2.8 .6 16 .1 5.6 .2 1 .2 4.8 .2 .3 .6 1.2 .1 3.5 .2-2.4 .2 2.1 .2-7.7 .5-1.5 .2 .3 .2 5 .2 3.9 .2-6.6 .5 1.5 .2-11.1 .2-.3 .2 .2 .2-5.3 .5 1.3 .2-6 .2 1.4 .2-3.3 .2-4.3 .5 .8 .2 5.6 .2 7.4 .2 7.5 .2-2.4 .5 12.3 .2-5.3 .2 22.3 .2 11.8 .1-1.8 .6 2.8 .2-6.2 .2 1 .2-.8 .1 5.4 .6 22 .2 4.9 .2 .7 .1 8.7 .2-3.6 .6 12.1 .2-2.1 .1-6.6 .2-7.1 .2-.6 .6 14.2 .2-16.7 .1-7.2 .2 9.4 .2 11.9 .6-3.5 .1-1.6 .2 2.9 .2 10.7 .2 .3 .6 15 .1-1.6 .2-2.4 .2-7.6 .2 4.2 .5-3.6 .2-7.9 .2 7 .2 2.4 .2-6 .5-10.3 .2 9.4 .2 5.1 .2 .4 .2 12 .5 7.8 .2 4.9 .2 7.2 .2 .8 .2-.4 .5-6.8 .2 7.6 .2-3 .2 18.7 .2 2.3 .5-7.2 .2-6.8 .2-1 .2-7.3 .1-4.2 .6-2 .2-5.2 .2 .7 .1-14.1 .2 1.5 .6-3.6 .2-15.5 .2-5.3 .1-7.1 .2-9.6 .6-1.5 .2-11.2 .1-5.5 .2 1.7 .2-3.3 .6 13.4 .2 7.7 .1-12.9 .2 9.6 .2-2.9 .6-20.1 .1-10.9 .2-7.1 .2 2.8 .2-2.9 .5 6.9 .2-5.2 .2-7.1 .2-4.2 .2-5 .5 15.2 .2 2.1 .2-1.9 .2 .6 .2 1.5 .5-14.3 .2 3.8 .2 4 .2-.8 .2 8.9 .5 5.1 .2 6.4 .2-2.9 .2-.7 .2 5.1 .5 6.5 .2-2.1 .2 1.2 .2-5.8 .2 4.5 .5 7.6 .2-9.9 .2-7 .2-1.6 .1-5.1 .6 3.4 .2 2.9 .2-3.2 .1-.2 .2-2.8 .6-4.2 .2 1.1 .2-2.4 .1-2.4 .2 .4 .6 8.2 .2 5.9 .1 1.7 .2-4.6 .2-10.3 .6 3 .2 .7 .1 4.3 .2 1.5 .2-2.8 .6 5.4 .1-2.8 .2-2.3 .2-.4 .2 6.4 .5-7 .2 4.4 .2-6.2 .2-5.4 .2-.5 .5-10.3 .2 .5 .2-5 .2-.4 .2-5.8 .5 5.9 .2 1.9 .2 2.4 .2-1.4 .2 3.5 .5 7.3 .2 5.8 .2 4.7 .2 4.7 .2 8.8 .5-2.4 .2 6.2 .2 3.8 .2 2.9 .1-1 .6-.3 .2-.7 .2 3.4 .2 7.6 .1 3 .6 7.1 .2-1.5 .2 4.7 .1-6.8 .2-6.8 .6-2.6 .2-3.1 .2-.1 .1-4.7 .2-5.7 .6-12.1 .2-.9 .1 1.7 .2-.5 .2-13.6 .6-10.1 .1-3.5 .2 3.6 .2-6.8 .2-1.3 .6 8.9 .1-6.5 .2-10.6 .2-.2 .2 6.1 .5 7.3 .2 .9 .2 4.6 .2 2.9 .2 1.2 .5 2.5 .2 .7 .2 .3 .2 2.3 .2-8.3 .5 2 .2-3.2 .2-.9 .2 4.8 .2 11.5 .5 8.2 .2 5.5 .2-1.8 .2 8.3 .2 12.1 .5 6.1 .2-.3 .2 3.4 .2 8 .1-1.7 .6 1.8 .2-2.4 .2-1.7 .2-4.7 .1-4.3 .6 0 .2 2.5 .2 4.1 .1 4 .2-3.5 .6-3.2 .2-2.2 .2-4.1 .1 3.1 .2-7.8 .6 1.8 .2-.8 .1 3.2 .2-1.1 .2-6.7 .6-10.5 .1-3.3 .2 .2 .2-7.2 .2 1.6 .6 1.8 .1 5 .2-2 .2 4 .2-2.2 .5 .5 .2 2.1 .2 3.2 .2 1.8 .2 2.9 .5 9.1 .2 3 .2 .8 .2 2.9 .2-.4 .5 1.5 .2 4.7 .2-2.1 .2 10.4 .2-.7 .5-10 .2 4.4 .2 2.4 .2-6.8 .2-2.5 .5 3.2 .2-.4 .2-10 .2-.6 .1-.5 .6-15.2 .2-3.1 .2 .3 .2-5.4 .1-5.5 .6-11.3 .2-1.1 .2 3.1 .1 0 .2 2.8 .6 2 .2 1.4 .1-4.8 .2 1 .2 6 .6-2.3 .2-1.3 .1 4.2 .2-1.9 .2-4.6 .6-.6 .1-5.8 .2-1 .2 4.8 .2 3.4 .6 1.4 .1-8.6 .2-1.8 .2-12.4 .2-2.2 .5 7.3 .2-2.9 .2 .1 .2 3.5 .2 1.7 .5-3.7 .2-.6 .2 3.6 .2-1.4 .2 .8 .5-3.7 .2 1.7 .2 1.1 .2-.1 .2-3 .5-3.7 .2 1.4 .2-3.1 .2-4.9 .2-3.2 .5 4.6 .2-2.7 .2-1.1 .2 .2 .1 2.4 .6 3.3 .2-.2 .2 2.9 .2-3 .1-.2 .6 1.8 .2-2.7 .2-2.2 .1 1.5 .2 3.6 .6 17.7 .2 6.2 .1-6.1 .2-2.4 .2-2.5 .6 .1 .2-7.8 .1-8.5 .2-5.9 .2-7.6 .6-4.6 .1 2.2 .2-2.8 .2 3.8 .2 6.8 .6 20 .1-28.4 .2 7.1 .2 10.7 .2 7.2 .5 19.6 .2 13.8 .2 23.9 .2 6.4 .2-7.7 .5-19.7 .2-15.9 .2 9.9 .2 17.6 .2 29.8 .5 15.8 .2 45.6 .2-5.2 .2-2.8 .2-40.2 .5 56.1 .2-6.8 .2-1.2 .2 17.8 .2-5.1 .5-3.6 .2-28.6 .2-10.3 .2-10.7 .1 8.6 .6 20.9 .2-8 .2-1.9 .1 1.6 .2 1.2 .6 14.2 .2-23.7 .2 4.4 .1-7 .2-2 .6 1.9 .2 3.7 .1 10.6 .2-50.8 .2-22.9 .6 .5 .2 28.6 .1-2.4 .2-18.9 .2-5.3 .6-5.1 .1 4.3 .2-3.9 .2-15.9 .2 32.3 .5 2.1 .2 4.4 .2 .5 .2 22.6 .2-14.2 .5-1.2 .2-4 .2-2.9 .2 3.4 .2-3 .5 8.5 .2-4.4 .2-5.3 .2-6.5 .2-4.5 .5 .1 .2-16.3 .2-5.2 .2 1 .2-4 .5 3.5 .2 1.1 .2 .5 .2-14 .1-1 .6-2.5 .2-9.6 .2-3.8 .2 23.9 .1-13.1 .6-6.5 .2 16.2 .2-5.9 .1-9.7 .2-15.6 .6 .7 .2 8.4 .2-6.2 .1 1.1 .2 8.5 .6-6.7 .2-15 .1-10.3 .2-6.5 .2 2.9 .6-14 .2 10.7 .1-1.5 .2 4.4 .2-4.2 .6-2.2 .1 .7 .2 .1 .2-1.5 .2 10 .5-1.6 .2 6.9 .2 5.7 .2 3.2 .2 8.3 .5 3.7 .2-1.4 .2 5.4 .2-1 .2-7.4 .5 .7 .2-2.5 .2-8.2 .2-5.6 .2-7.5 .5-13.1 .2-6.3 .2-1.7 .2-4.8 .2 6.9 .5-11.7 .2 5 .2-8.3 .2-2.7 .1-7.1 .6-4.7 .2 1 .2-9.2 .2-2.9 .1 4.1 .6 4.1 .2-11.6 .2-4 .1 15.4 .2 16 .6 13.4 .2 20 .2-2.7 .1-1.3 .2 4.6 .6-1.9 .2 11 .1-5.4 .2-1.4 .2-.7 .6 11.7 .1-4.7 .2 .1 .2-1.1 .2-4.9 .6 2.8 .1 12 .2-4.9 .2-3.5 .2-7.1 .5-6.6 .2-5.3 .2-5.2 .2-2.9 .2-11.1 .5-.7 .2 3 .2-3.3 .2 23.5 .2 12.6 .5 1.4 .2 1.9 .2 10.5 .2-8.1 .2 2.5 .5 .4 .2-.6 .2 4.1 .2 2.1 .2 3.9 .5 7.7 .2-1 .2-5.6 .2 .1 .1-16.2 .6-5.3 .2-.8 .2 2 .2-2.4 .1-5.4 .6 7.8 .2 10.1 .2-2.5 .1-13 .2 7.1 .6-4.8 .2 0 .2-.2 .1 1.2 .2-1.6 .6-19.2 .2-6.9 .1 5.6 .2-10.5 .2 9.2 .6 5.3 .1 2.2 .2-7.6 .2-1.7 .2-2.7 .6 4 .1-7.5 .2-.7 .2-11.5 .2 6.7 .5-8.9 .2 2.7 .2 1.1 .2 5.1 .2 .1 .5 1 .2 5.2 .2-5 .2 .1 .2 0 .5 1 .2 4 .2-3 .2-.1 .2 3.3 .5 10 .2-3.6 .2-5.3 .2-5.2 .2-1.4 .5 9.9 .2 13.8 .2-3.7 .2-4.1 .1 6.1 .6-.3 .2 6.7 .2 .5 .2 7.1 .1 2 .6-18.4 .2-11.5 .2 0 .1-2.2 .2-6.1 .6-23.7 .2-1.7 .1-8.1 .2-4.6 .2 4.9 .6 6.9 .2 2.6 .1-2.6 .2 14.2 .2 8.9 .6 15.6 .1-9.8 .2 8 .2 1.8 .2 5.2 .6 9.2 .1 15.5 .2 3.8 .2 6.8 .2 5.8 .5 6.5 .2-2.6 .2-2.3 .2-3.6 .2 6.8 .5-10.9 .2-16.2 .2-3.6 .2 5 .2-7.6 .5-21.1 .2 7.5 .2 4.2 .2 .8 .2-1.7 .5-13.8 .2-8.2 .2-2.5 .2-3.5 .2-4.9 .5 5.2 .2-.5 .2-1.8 .2-7.7 .1 10.6 .6-1.4 .2-2.2 .2 .8 .1-3.2 .2 .9 .6 1.4 .2 6.5 .2 4.4 .1-2.2 .2-.5 .6-11.6 .2 8 .1-6.2 .2 2.9 .2 8.7 .6 14.2 .2 9.6 .1 .3 .2 1 .2-3.3 .6 1.9 .1 3.3 .2 3 .2-2.2 .2-8.1 .6 13.9 .1 5.5 .2 5.5 .2 .8 .2-7.5 .5 9.9 .2 5.1 .2-5.2 .2-.8 .2-2.8 .5-5.5 .2-9.9 .2-.3 .2-6.6 .2-3 .5 1.8 .2-14.4 .2 4.1 .2 .7 .2 3.7 .5-4.2 .2 4.8 .2-2.2 .2-6.3 .2-6.2 .5 7.9 .2-7.5 .2 2.8 .2-5 .1 .1 .6-18.4 .2 .7 .2 .8 .1 .3 .2 2.8 .6-10.3 .2-1.1 .2 3.1 .1 .6 .2 8.6 .6 3.9 .2 2.9 .1-2.4 .2 .7 .2-.2 .6 16 .2 10.8 .1-3.8 .2 2.8 .2-7.3 .6-16.4 .1-4.3 .2 .9 .2 1.9 .2-1.8 .5 7.9 .2 .3 .2-2.5 .2-3.5 .2-7.8 .5 4.8 .2 4.8 .2 1.8 .2 .7 .2 1.1 .5 4.5 .2 4 .2 3.9 .2-2.8 .2-7.1 .5 2.5 .2 1.6 .2-.5 .2 1.7 .2 2.1 .5-.8 .2-4 .2-5.8 .2 1.6 .1-3 .6-5.9 .2-5.8 .2 1.6 .2 5.6 .1-1 .6-4.9 .2 3.9 .2-1.8 .1-2.4 .2 9.8 .6 10.5 .2 5.2 .2 9.7 .1 3.4 .2 7.1 .6 9.7 .2 6.7 .1-3.4 .2 2.5 .2-5.9 .6-29 .1 4.8 .2-4.1 .2 1.3 .2-5.2 .6-27.9 .1 6.1 .2-2.5 .2 .1 .2-3.4 .5 16.4 .2-4.5 .2-4.3 .2-5.2 .2-15 .5-21.7 .2-11 .2 1.5 .2-1.7 .2-13.1 .5 26.1 .2 1.5 .2 .6 .2 .8 .2-7.6 .5 10.2 .2-18.1 .2-5.4 .2 3.1 .2-13 .5-21.9 .2 0 .2 0 .2 0 .1 0 .6 2.5 .2 4.6 .2-1.6 .2 6.7 .1 10.5 .6 7.4 .2 14.4 .2-.5 .1 .2 .2 9.7 .6-22.7 .2-16.1 .2 6.8 .1-8.7 .2-13.2 .6 0 .2 0 .1 0 .2 0 .2 0 .6 0 .1 0 .2 0 .2 0 .2 0 .6 0 .1 0 .2 0 .2 0 .2 0 .5 1.3 .2-1.3 .2 2.3 .2 15.3 .2-2.9 .5 23.7 .2 11.2 .2-2.9 .2 12.4 .2-7.2 .5 10.3 .2 7.9 .2 11.8 .2 10.8 .2-22.6 .5 .5 .2 10 .2 6.6 .2-2.8 .2 .5 .5 12.6 .2 10.8 .2-7.2 .2-4.5 .1-22.2 .6-7.5 .2 5.9 .2 .9 .2 7.5 .1 3.1 .6-5.7 .2 9.1 .2 5.8 .1 7.6 .2 17.4 .6 4 .2-3.1 .1 4.2 .2 .8 .2-1.5 .6 9.1 .2-6.3 .1-19.7 .2-8.6 .2 10.1 .6 8 .1 20.6 .2 8.5 .2-7 .2 3.5 .6 24 .1-4.7 .2-7.8 .2-1.8 .2-10.2 .5-.3 .2 6.9 .2-14.3 .2-3.2 .2 .5 .5-7.4 .2-19.3 .2 1.7 .2 4.5 .2-.2 .5 6.4 .2 15.6 .2 17.2 .2 9 .2-3.5 .5-22.1 .2 17 .2 10.8 .2 .3 .2-5 .5 15.3 .2-1.2 .2 13.8 .2 3.5 .1-1.8 .6-5.3 .2 2.1 .2 5.9 .2 1.9 .1 8.9 .6-1.4 .2-9.1 .2-8.9 .1 9.7 .2-1 .6-4.2 .2-7.1 .1 5.5 .2 10.3 .2 7.4 .6-1.6 .2 4.8 .1 6.6 .2-3.2 .2 .3 .6-15.6 .1-.6 .2-14 .2-4.5 .2 1.1 .6-15.1 .1-4 .2 1.4 .2-3.1 .2-.7 .5 2.8 .2 9.9 .2 8.7 .2 16.4 .2 5.9 .5 9.7 .2 5.1 .2 12.9 .2 10.7 .2-6.1 .5-13.8 .2 3.2 .2-7.7 .2-5.3 .2 3.7 .5 10.7 .2 2.5 .2 2.4 .2 6.5 .2 2.8 .5 12.1 .2-2.6 .2 1 .2-6.2 .1 8.8 .6-7.5 .2-6.5 .2 2.8 .1 2.4 .2-1.9 .6 .3 .2 2.7 .2-4.6 .1-4.4 .2 5.7 .6 1.7 .2-11 .1-10.5 .2-10.9 .2-1.2 .6-20 .2-16.7 .1-.2 .2-4 .2-15.1 .6-21.9 .1 11.1 .2-4.3 .2 .9 .2 .7 .5 11.1 .2 13.3 .2 8.3 .2 1.3 .2 13.2 .5-10.9 .2 5.7 .2 2 .2 1 .2-5.9 .5 12.4 .2 10 .2-6.8 .2 9.5 .2 8.3 .5 12.1 .2 9 .2-7.7 .2-8.2 .2-1.2 .5 .8 .2 3.4 .2 3.3 .2-5.1 .2 11.5 .5 4.3 .2 10.4 .2-4.6 .2 13.2 .1-1 .6-9.3 .2 4.2 .2 1.3 .1 17.4 .2 .9 .6-11.7 .2-7.2 .2-7.7 .1 4 .2 12.9 .6 0 .2 12.7 .1 4.2 .2-8.8 .2 7.2 .6-5.8 .2-5.4 .1-8 .2-3.4 .2 8.8 .6 1.9 .1-12.5 .2 3.7 .2 7.4 .2 24.5 .5 8.7 .2 3.5 .2 4.7 .2 1.7 .2-1.1 .5-4.1 .2-3.3 .2 8.6 .2-6.9 .2-6.6 .5-9.7 .2-14.1 .2-2.2 .2-8.4 .2 3.2 .5 11.4 .2 7.8 .2-7 .2 1.1 .2 7.7 .5 2.6 .2-8.3 .2-2.8 .2-.9 .1 7.1 .6 19.5 .2 3.7 .2 15 .2 2 .1 4.5 .6-5.8 .2-8.3 .2-7.1 .1-.3 .2 11.3 .6-3.4 .2 7.7 .2 .7 .1 10 .2 4.1 .6-3.8 .2 1 .1 9.1 .2-13.1 .2 4.9 .6 7.3 .1 4.4 .2-.4 .2-3.5 .2-10.8 .6-5.4 .1-4.6 .2-2 .2-2.7 .2-3.7 .5-4.7 .2-.4 .2-4.9 .2 6.4 .2-6.1 .5-8.5 .2-5.8 .2 7.8 .2-10.8 .2-9.4 .5 17 .2 1.6 .2-12 .2-6.4 .2 1.4 .5 18.9 .2 16.8 .2 4.6 .2-.3 .2 .4 .5 4.6 .2 0 .2-1.1 .2 7 .1-7.7 .6 6.1 .2-11.1 .2 1.3 .2 7.4 .1-11.9 .6-34.9 .2 7.9 .2 0 .1 21.7 .2 12.1 .6-57 .2-2.4 .2-3.2 .1-11.7 .2-40.7 .6 45.2 .2-5.2 .1 .8 .2-61.7 .2 7.4 .6-15.7 .1-4.3 .2-7.7 .2 7.1 .2 28.6 .6 16.2 .1-4.4 .2-8.1 .2-29.2 .2 5.4 .5 2.5 .2 2.6 .2 5.4 .2-11 .2 21.2 .5 11 .2-6.8 .2 6.1 .2 1.7 .2 1.8 .5 59.5 .2 3.7 .2-.4 .2 3.6 .2-23.5 .5 23.4 .2-1.2 .2-3.4 .2 .1 .2-5.7 .5-20.1 .2 7 .2 .5 .2 5 .1-4.9 .6-14.3 .2-16.6 .2-2.2 .2-5.9 .1 .2 .6 5.4 .2-2 .2-6.3 .1-4.3 .2 1.3 .6 16.4 .2 5.2 .1 1.6 .2 1.6 .2 12.9 .6 11.2 .2-1.4 .1-2.6 .2-.8 .2-3.6 .6 13.6 .1 2.8 .2 .8 .2-3.2 .2 4.8 .6-20.1 .1-1.2 .2-5.9 .2 2.2 .2-11.8 .5 33.8 .2 1.3 .2-7.8 .2 11.5 .2-7.1 .5-.9 .2-1.5 .2 7 .2-7.3 .2 11.1 .5 8.6 .2 1.8 .2 .2 .2 13.5 .2-12.3 .5-4.5 .2-.5 .2-4.5 .2 2.1 .2 .2 .5-9.3 .2-3.1 .2 1.7 .2 4.7 .1-4.4 .6-9 .2-4.8 .2 3.7 .2 1.8 .1 1.5 .6-1.6 .2 10.2 .2-5.7 .1 5.7 .2 10.7 .6 17.5 .2-6.2 .1 .8 .2 12.4 .2 6.1 .6-4.6 .2 6.9 .1 1.9 .2 10.4 .2-4.4 .6 12.9 .1-1.3 .2 .7 .2-4.2 .2-7.2 .6 13 .1-4.6 .2-4.3 .2-1.4 .2 5.2 .5-19.2 .2 4.2 .2 3.5 .2-5.3 .2-11.4 .5 2.4 .2 5.6 .2-.4 .2 .1 .2-5.2 .5 .6 .2-5.8 .2-2.7 .2 .2 .2-.8 .5 8.5 .2 3.5 .2-1.8 .2-10.4 .2-9.1 .5 13.5 .2 1 .2-.3 .2-.2 .1 .3 .6 19.7 .2-.5 .2-1 .1 12.2 .2 .6 .6-15.3 .2 6.1 .2-1.7 .1-.2 .2 1.9 .6 3 .2 4.2 .1 1.3 .2-2.1 .2-2.7 .6-9.5 .2 1.9 .1-5.7 .2-3.5 .2 .2 .6 17.2 .1-1.7 .2-4.1 .2 1.8 .2 6.4 .5 9.9 .2-6.2 .2-2.5 .2-4.1 .2-8.5 .5-.8 .2 2.9 .2-5.4 .2 5.4 .2-3.5 .5-7.3 .2 3.7 .2-2 .2 5.8 .2 2.4 .5-.2 .2 1.5 .2-4.3 .2 .1 .2 2.2 .5 16.4 .2-9.8 .2-4.5 .2-2.7 .1 7.4 .6 5.5 .2-2.1 .2 2 .2-2.2 .1-.8 .6-5.8 .2 2.2 .2-1.7 .1-7.6 .2-5 .6 8.1 .2 2.6 .2 1.9 .1 8.4 .2 0 .6-3.6 .2 1 .1-1.4 .2 .9 .2 2.1 .6 7.9 .2 1.4 .1-.9 .2-5.7 .2-10.3 .6-.2 .1-3.3 .2 .9 .2-.4 .2-8.2 .5-10.4 .2-1.1 .2 4.8 .2 1.3 .2 4.5 .5 3.6 .2-5 .2-.2 .2-2.1 .2-1.9 .5 9 .2-.4 .2-.8 .2 1.5 .2-1.5 .5-13 .2 0 .2 .7 .2-3.2 .2-5.3 .5-8.7 .2 .1 .2 .8 .2-5.8 .1-2.1 .6-21 .2 4.4 .2 .5 .2-.9 .1-1.4 .6 13.4 .2 3.6 .2-2.5 .1-1.4 .2 14 .6 6.3 .2-8 .2 .1 .1-2 .2 5.5 .6-9.4 .2 1.2 .1 1.9 .2-7.3 .2 5 .6 18.9 .1 5.4 .2 .5 .2-4 .2 9.9 .6 18.4 .1 1.3 .2-.6 .2-.1 .2 5.8 .5 9.2 .2 4.3 .2 1.1 .2-3 .2-.9 .5-7.5 .2-7.3 .2-4.7 .2-10.1 .2 .9 .5-5.3 .2-1.7 .2 1.2 .2 1.2 .2-5.1 .5-4 .2 1.9 .2-2.2 .2-.8 .2-5.7 .5-4.5 .2 2.7 .2-6.9 .2-2.3 .1 2.1 .6-8.1 .2 1.9 .2-3.2 .2 1.9 .1-8.1 .6 3.8 .2-2.1 .2 4.2 .1-.5 .2 6.6 .6 8.1 .2 4.3 .1-.6 .2-6.8 .2-2.4 .6 1 .2-7 .1 4 .2-2.2 .2 2.3 .6 4 .1-1.5 .2-1.6 .2-.1 .2-1.6 .6 11.3 .1-.6 .2-.6 .2 3.6 .2 5 .5-6.4 .2-4.6 .2 1 .2-2 .2-1.3 .5-10.2 .2 1.1 .2-2 .2 3.7 .2 .9 .5 17.4 .2 .1 .2 3.9 .2 10.1 .2-2.7 .5-6.7 .2 9.3 .2 4.5 .2 7.6 .2 7.6 .5-6.8 .2-8.4 .2-2.9 .2 9.8 .1 6.5 .6 20.6 .2 4.2 .2-.3 .2-.1 .1-1.2 .6-9.2 .2-3.5 .2-1.7 .1-4.4 .2-11.5 .6-1 .2-4.5 .1-7.4 .2 .1 .2-4.6 .6 5.2 .2 2.6 .1 3.1 .2-1.7 .2 2.9 .6 7.2 .1 11.5 .2 1.3 .2 6.7 .2 9.6 .6-3.7 .1-5.9 .2-.2 .2-4.8 .2-1.9 .5 .2 .2-6.9 .2 3.1 .2-4.9 .2-.9 .5-14.4 .2-5.2 .2-12 .2-10.3 .2-8.3 .5-12 .2 1.6 .2-3.4 .2 .3 .2 11.3 .5 2.2 .2 5 .2 .3 .2 1.8 .2 2.3 .5-.5 .2 10.7 .2 2.3 .2-1.9 .1-2.3 .6 6.7 .2 4.3 .2 6.5 .1 1.7 .2 1.8 .6 6.8 .2 .3 .2 7.9 .1 .4 .2-6.1 .6-11.7 .2-1.1 .1-1.7 .2 .3 .2-5.4 .6-3.8 .2 12.5 .1 1 .2 9.6 .2 9.4 .6 3.9 .1 2 .2-1.9 .2-5.1 .2-4 .6-10.7 .1-1.9 .2-1.7 .2-1.2 .2-12.4 .5-4.3 .2-4.3 .2 4.7 .2-6 .2 2.4 .5 3.5 .2 3.5 .2-3.9 .2-5.7 .2-.4 .5-12.1 .2 10.1 .2 9.2 .2 1 .2 2.1 .5 17.6 .2 9.4 .2-5.3 .2-1.3 .2-2 .5 1.4 .2-1 .2 3.1 .2 1.7 .1-3.3 .6-12.4 .2-3.8 .2-.4 .1-6.3 .2-.2 .6-5.8 .2-1.3 .2-1.2 .1 1.1 .2-.6 .6-35 .2 .9 .1-4.6 .2-6.1 .2 7 .6-2.7 .2 1.9 .1 3.7 .2-.4 .2-7.3 .6 2.3 .1 14.8 .2 1 .2 1.4 .2 17.6 .5-14.2 .2-18.3 .2-4.7 .2 1.1 .2 7.8 .5-24 .2-3.8 .2-4.8 .2 6.4 .2 .8 .5-.8 .2 10.1 .2 6.1 .2 4.9 .2-2.7 .5 28 .2-11.6 .2 4.1 .2 5.3 .2 2.3 .5-14.6 .2-1.1 .2 1.9 .2 2.7 .1-6.6 .6 10.1 .2 6.6 .2 6.7 .2-10.7 .1 14.4 .6-3.9 .2-5 .2-.8 .1-3.7 .2 28.7 .6 20.2 .2 5.5 .2-9.1 .1 22.9 .2 20.1 .6-29.2 .2 8.9 .1-48.2 .2-.6 .2 29.9 .6-24.5 .1-10.3 .2 26.6 .2 1.3 .2-7 .6-14.9 .1 .3 .2 9.7 .2-8.9 .2-4.7 .5-12.3 .2-2.5 .2-3.7 .2-19.5 .2-12.3 .5 5.2 .2 6 .2 22.7 .2-13.9 .2-22.5 .5-3.7 .2-6.9 .2-9.4 .2-20.5 .2-20.1 .5-10.8 .2 3.7 .2-.7 .2 7.9 .2 5.1 .5 12 .2-2.7 .2-3.9 .2 4 .1 6.5 .6 13.4 .2 .7 .2-5.1 .2-.4 .1 2.1 .6-25.1 .2-11.4 .2-4 .1-1.2 .2-10.9 .6-31.3 .2 2.6 .2-1.2 .1 5.2 .2 16.3 .6 9.9 .2-5 .1 .9 .2-3.2 .2-7.8 .6-8.7 .1-1.8 .2-1.3 .2 .5 .2 4.1 .6 .5 .1-4.8 .2-.4 .2 2.5 .2 5.8 .5 1.3 .2 10.4 .2 6.5 .2-7.4 .2 1.8 .5 6 .2-4.5 .2-1 .2-2.8 .2-3.5 .5 34.4 .2-9.7 .2 2.6 .2-1.5 .2 18.6 .5 7.4 .2-2.3 .2-.2 .2-4.1 .2 9.9 .5-8.4 .2-3.7 .2-2.6 .2 5.3 .1 6.2 .6-17.7 .2-12 .2-1.2 .2-1.4 .1 4.3 .6-8.3 .2 8 .2-8 .1 1.4 .2 1.2 .6-12.9 .2-10.8 .1-2.2 .2 4.5 .2-18 .6 14.5 .2 2.8 .1 4.3 .2-4.1 .2 4.1 .6-8.8 .1-12.1 .2 3.3 .2-2.5 .2-12.6 .6-28.4 .1 .7 .2 1 .2-.3 .2 6 .5-27.1 .2-3.6 .2 1.1 .2-2 .2 9.4 .5 20.5 .2-11 .2-10.9 .2-3.8 .2 8.6 .5-13.9 .2-8.3 .2 2.5 .2-6.8 .2-2.7 .5 19.3 .2-10.7 .2-3.5 .2-1.9 .2 7.9 .5-1.7 .2-22.3 .2-1.4 .2 2.4 .1 2.9 .6 2.5 .2 6.1 .2 3.1 .2-4.9 .1 4.2 .6 3.5 .2 4.5 .2-4.8 .1 6.7 .2 20.6 .6 31.9 .2 2.8 .1 8.1 .2 3.5 .2-12.8 .6-.2 .2-13.3 .1-7.5 .2-1.7 .2-3.9 .6 2.7 .1-4.2 .2-1.1 .2-3.6 .2-6 .6-22 .1-7.5 .2-1.2 .2 3.2 .2 15.6 .5 17.5 .2-3.7 .2 9.1 .2-.4 .2-3.7 .5-22.6 .2-8.7 .2-3.2 .2 1.9 .2-2.2 .5 5.3 .2-3.6" fill="none" stroke="#00B050" stroke-width="4.1" stroke-linejoin="round" stroke-linecap="round"/><path d="M408.1 1318.4l.2 0 .2-4.4 .5-6.6 .2-1.7 .2-5.9 .2 3 .2 8.1 .5-2.6 .2 2.9 .2 3 .2 .5 .2-7.8 .5 1.2 .2 3 .2-5.9 .2-.4 .1-9.2 .6-6.3 .2-4.3 .2 5.9 .2-1.5 .1 18.4 .6 11.4 .2-9.9 .2-10.7 .1-2.4 .2 4.5 .6 1.7 .2 5.9 .2 .5 .1 13.8 .2 4.3 .6 9.1 .2-2.6 .1-3.2 .2 .1 .2-1.8 .6-6.9 .1-2 .2 6.1 .2-7.4 .2 2.8 .6 2.8 .1-5.5 .2 10.9 .2 6.1 .2-10.9 .5 .3 .2 .5 .2-3.2 .2 .8 .2-1 .5-2.3 .2-6.5 .2 .4 .2-3.3 .2 1.3 .5-8.4 .2 .1 .2 .8 .2 9.1 .2 8 .5-8.7 .2-1.6 .2 3.7 .2-8.9 .2 1.4 .5 2 .2 8.7 .2 4.6 .2-2.6 .1-2.3 .6 .4 .2 9.5 .2-3 .2-1.3 .1 .6 .6-4 .2 1.2 .2 2.8 .1 2.1 .2 9 .6 6.1 .2 1.5 .2 5 .1-1.8 .2 7 .6 1.1 .2 5.3 .1-7.7 .2 1.5 .2-1.5 .6-1.8 .1-6.8 .2 2.2 .2 10.4 .2-5 .6-.2 .1-1 .2-.1 .2-2.9 .2-3.4 .5 3.8 .2 .8 .2-5.1 .2-.3 .2 .1 .5-3.2 .2 1.3 .2 5 .2 5.8 .2 1 .5-3 .2 2.1 .2-7.1 .2-2.6 .2 5.5 .5-4.1 .2 13.4 .2 3.7 .2 1.6 .2 1.4 .5 .8 .2-6.4 .2 5.6 .2 9.2 .1-1.1 .6-3.5 .2-.2 .2-3.5 .2 4.4 .1-.2 .6-6.3 .2-5.1 .2-8.7 .1 7.2 .2-3.6 .6 2.9 .2 1 .1-5.2 .2-.3 .2-.4 .6-5 .2-.3 .1-7.3 .2-4.9 .2 8.5 .6-4.2 .1-2.9 .2 3.1 .2 5.9 .2-8.3 .6 .2 .1-1.9 .2-6.9 .2 6.8 .2 2.7 .5 4.4 .2 5.9 .2 1.7 .2 1.2 .2-2.1 .5-1.2 .2 10 .2 2.3 .2 7 .2 1.8 .5 .1 .2 2.1 .2-2.5 .2-.5 .2 1.3 .5 3.8 .2 3 .2 2.7 .2-3.4 .2-6.2 .5 7.5 .2 5.2 .2-2.4 .2 1.4 .1 1 .6 4.7 .2-3.8 .2 7.2 .2-8.3 .1 1.9 .6-5.6 .2-6.4 .2 6.3 .1-.1 .2-7.9 .6 7.8 .2-1.7 .1 1.3 .2 7.8 .2 2.8 .6 2.1 .2 1.1 .1 3.7 .2 2.9 .2-1.1 .6 1.5 .1 7.4 .2-2 .2-.2 .2 2.2 .6 2.8 .1-4 .2-.2 .2 1.5 .2 3.7 .5-2.6 .2-2.4 .2-.4 .2-3.9 .2 4.2 .5 5.1 .2 0 .2-1.3 .2 1.3 .2 0 .5 0 .2 0 .2 0 .2 0 .2 0 .5 0 .2 0 .2-7 .2 7 .2 0 .5 0 .2 0 .2 0 .2 0 .1 0 .6 0 .2 0 .2 0 .1 0 .2 0 .6 0 .2 0 .2 0 .1 0 .2 0 .6 0 .2 0 .1 0 .2 0 .2 0 .6 0 .2 0 .1 0 .2 0 .2 0 .6 0 .1 0 .2 0 .2 0 .2 0 .5 0 .2 0 .2 0 .2 0 .2 0 .5 0 .2 0 .2 0 .2 0 .2 0 .5 0 .2 0 .2 0 .2 0 .2 0 .5 0 .2 0 .2 0 .2 0 .2 0 .5 0 .2 0 .2 0 .2-2.2 .1-1 .6 2.1 .2 1.1 .2 0 .2 0 .1 0 .6 0 .2 0 .2 0 .1 0 .2 0 .6 0 .2 0 .2 0 .1 0 .2 0 .6 0 .2 0 .1-4.1 .2 2.3 .2-1.2 .6-.4 .2 2.4 .1-2.3 .2-2.9 .2 1.2 .6-15.8 .1 1.2 .2 1 .2 12.8 .2-.3 .5 5.3 .2 .7 .2 .1 .2 0 .2 0 .5 0 .2 0 .2 0 .2 0 .2 0 .5 0 .2 0 .2 0 .2 0 .2 0 .5 0 .2 0 .2 0 .2 0 .2 0 .5 0 .2 0 .2 0 .2 0 .1 0 .6 0 .2 0 .2 0 .2 0 .1 0 .6 0 .2 0 .2 0 .1 0 .2 0 .6 0 .2 0 .2 0 .1 0 .2 0 .6-9.5 .2 1.5 .1-.8 .2 1.8 .2 .6 .6-6.3 .1 11.3 .2 1.4 .2 0 .2 0 .6 0 .1 0 .2 0 .2 0 .2 0 .5 0 .2 0 .2 0 .2 0 .2 0 .5 0 .2 0 .2 0 .2 0 .2 0 .5 0 .2 0 .2 0 .2 0 .2 0 .5 0 .2 0 .2 0 .2 0 .2 0 .5 0 .2 0 .2-2.3 .2 2.1 .1-1.1 .6 1.3 .2-1.4 .2 1.4 .2-2.3 .1 .5 .6 1.8 .2-1.5 .2 1.5 .1 0 .2 0 .6-3.5 .2-.8 .1-2.5 .2-1.6 .2 .5 .6-12 .2-1.8 .1-3.2 .2 1.8 .2-.3 .6-3.4 .1 6.6 .2 2.7 .2 9.3 .2 1.1 .6-6.2 .1-6.2 .2-5 .2-4.8 .2-1.7 .5 4.4 .2 4.2 .2-5.9 .2-3.2 .2-.2 .5-16.7 .2-12.1 .2 8.5 .2-3.4 .2 .3 .5-3.2 .2-1.2 .2 7.2 .2-11.2 .2 .6 .5-14.4 .2-6.5 .2 3.6 .2-.3 .2-.5 .5-15.5 .2 6.8 .2 4.7 .2 8.9 .1 .3 .6 15.5 .2 2 .2-3.2 .2 5.3 .1 .7 .6 2.1 .2-14.5 .2-17.9 .1-7.9 .2 1.9 .6-11.5 .2-3.8 .1 .3 .2-.3 .2 1.5 .6 17.3 .2-.2 .1-6.2 .2-.1 .2 .9 .6-23.3 .1 30.9 .2 1.6 .2-.3 .2-.5 .6 1.4 .1-5 .2-5.3 .2 2.4 .2-1.9 .5 3 .2 2.9 .2-3.1 .2 1.6 .2 1 .5 13.5 .2-7.1 .2-5.2 .2-1.8 .2 1.5 .5-8.6 .2-.8 .2-6.3 .2 .2 .2-1.5 .5-2.9 .2-6.3 .2 5.7 .2 2.1 .2 4.3 .5-3.3 .2-12 .2 .1 .2-1.1 .1 .6 .6-2.4 .2-6.2 .2-5.6 .1-2.2 .2 2.6 .6-5.7 .2-4.8 .2-.9 .1 5.7 .2-.5 .6-13.9 .2 .4 .1-6.6 .2-4.7 .2-1.1 .6-17.2 .2-1.3 .1 5.4 .2-3.9 .2-.3 .6 6.8 .1 3.7 .2-2.7 .2-3.8 .2-2.8 .6-17.4 .1 2.3 .2 1.5 .2-1.9 .2 .3 .5-19.9 .2-9 .2 7.9 .2 7.7 .2 1.3 .5 12.2 .2-.4 .2-3 .2 12.1 .2 .8 .5 16.8 .2 .8 .2 11.3 .2 2.6 .2 .8 .5-8.6 .2 9.3 .2 3.6 .2-.9 .2 2.3 .5 12.2 .2 5.7 .2 2.1 .2 5.2 .1-3 .6 13 .2 3.4 .2 1.1 .1 2.2 .2 2.5 .6-5.2 .2 4 .2 7.7 .1-11.3 .2 1.7 .6-8.5 .2 .1 .1 5.8 .2-6.5 .2-.8 .6-5.1 .2 1.6 .1 1.2 .2-10.5 .2-.1 .6-5 .1-7.1 .2-10.5 .2 5.2 .2 3.3 .5 2 .2-5 .2-2.5 .2 1.5 .2 .4 .5-4.5 .2 2.5 .2-3.1 .2 7.4 .2-2.3 .5-2.9 .2 3.7 .2 3.9 .2 2.3 .2-.9 .5-6.2 .2 6.2 .2 4.6 .2-8 .2 1.7 .5-20.9 .2 .4 .2 3.2 .2 5.8 .1 .8 .6-5.6 .2-1.6 .2 4.7 .2 .6 .1 2.5 .6 4.2 .2 1.5 .2-.2 .1 .6 .2 1.3 .6 .8 .2 5.5 .2-2 .1-6.4 .2-2.8 .6-4.1 .2 1.3 .1-8.3 .2-4.6 .2 .9 .6 7.5 .1 3.6 .2-4.5 .2-.6 .2-.2 .6 1.3 .1-4.2 .2-2.2 .2-.5 .2-3.6 .5-8.3 .2 4.9 .2-7.4 .2-13.9 .2 .1 .5-10 .2-5.4 .2-1.3 .2-3.7 .2 .8 .5-8.7 .2-6 .2-10.1 .2-6.3 .2 3.2 .5-21.2 .2 1.9 .2-4.1 .2-2.3 .2-.5 .5-1.8 .2-1.9 .2 .1 .2 2 .1-.8 .6 3.6 .2 8.1 .2-.9 .2 9.3 .1-2.4 .6 11.9 .2 8.4 .2 7.5 .1-2.6 .2 .9 .6 8.4 .2 8.1 .2 3.6 .1 1.1 .2-1.8 .6 2.4 .2-2.1 .1 .7 .2-2.6 .2-.1 .6-3.5 .1-1.1 .2 .2 .2-1.1 .2 1.5 .6 3 .1-2.1 .2 5.9 .2-4.6 .2 .1 .5 5 .2 .8 .2-.8 .2 9 .2-2.6 .5-.7 .2-2.2 .2 5.4 .2-7.3 .2 1.5 .5-1 .2 5.6 .2 2.6 .2 9.5 .2-.5 .5-3.6 .2-.3 .2-.2 .2-6 .2 .2 .5-11.3 .2-5.9 .2-3.4 .2 7.1 .1-1.2 .6 10.4 .2-.7 .2-5.4 .2 0 .1 .5 .6-7.3 .2 2.2 .2 0 .1-1.2 .2-.3 .6 12.7 .2 5.5 .1 4.6 .2 1.1 .2-1.5 .6-1.2 .2 .4 .1-9.8 .2-2.2 .2-2 .6-7.3 .1-8.6 .2 7.8 .2 1.7 .2 1.9 .6-17.6 .1-.7 .2-1.4 .2-3 .2-.9 .5-5.5 .2 3.3 .2-3.7 .2 .4 .2-1.9 .5 15.1 .2-8 .2-1.9 .2 1.8 .2-1.8 .5-13.1 .2 .7 .2-6.9 .2-4.9 .2 1.7 .5-10.7 .2 6.5 .2 9.5 .2 .8 .2 2.5 .5-1.8 .2 11.4 .2 8.2 .2 3.8 .1 3.4 .6 8.4 .2 1.2 .2-3.8 .2 1.4 .1-1.6 .6 7.6 .2 .9 .2 2.5 .1-3.8 .2 .4 .6 5 .2 1.1 .1-5.8 .2-.7 .2-.9 .6 .9 .2-5 .1-10 .2-6.4 .2 1.2 .6-.6 .1 2.3 .2-6.8 .2-8.8 .2-.9 .6 7.9 .1 .1 .2-5.1 .2-2 .2-3 .5-7 .2-4.3 .2-2.4 .2-1.4 .2-2.4 .5-5.7 .2-4.1 .2-.5 .2-3.9 .2 0 .5-8.8 .2 4.2 .2-6.5 .2-6.4 .2-3.8 .5-2.5 .2 .4 .2 9.4 .2 15.4 .2-.4 .5 14.7 .2 7 .2-5 .2-2.4 .1 1.2 .6-6.7 .2-2.9 .2 1.7 .1-2.8 .2 .2 .6-8.7 .2 .3 .2-2.5 .1-2 .2-1.2 .6-20.5 .2 4.3 .1 1 .2-2.1 .2-.9 .6-.6 .2-5.6 .1-8.4 .2-3.3 .2 1.5 .6-7.2 .1-7.3 .2-6.2 .2 3.4 .2 1.1 .5-13.1 .2-2.5 .2 4.7 .2 4.1 .2 .8 .5-9.5 .2-4.1 .2-1.4 .2-.4 .2 8.9 .5-9.5 .2 2.9 .2-3.7 .2-8.6 .2-2.1 .5 2.4 .2-1 .2 0 .2 1.3 .2 2.6 .5-3.5 .2-10.3 .2 .2 .2 13.1 .2 1.5 .5 1.5 .2-2.9 .2 5.1 .2 6.9 .1 3.8 .6 8.8 .2 .1 .2 6.6 .1 2.7 .2-2.3 .6-5.6 .2 6.1 .2 2.8 .1 10.9 .2-1.8 .6-3 .2 7.5 .1 4.5 .2-9.1 .2-2.7 .6-4.9 .2 4.5 .1-1.5 .2 1 .2 1.5 .6-11.7 .1-5.3 .2-7.1 .2-8.3 .2 1.5 .5-6.8 .2 5.7 .2-8.1 .2 1 .2-4.9 .5-8.6 .2-10 .2-2.2 .2-3.4 .2-4.7 .5 5.3 .2-1.7 .2 7.5 .2-16.3 .2-4.5 .5-16.2 .2 1.9 .2-3.7 .2-4.4 .2-1.3 .5-4.9 .2 .3 .2-.9 .2-.7 .1 .7 .6 10.6 .2-1.8 .2-6.2 .2 1.6 .1-1.2 .6 .3 .2 19.7 .2-2.9 .1 12 .2-2.9 .6 4.3 .2 12.7 .2 7.5 .1 11.6 .2 8.1 .6 8.7 .2 .6 .1 7.2 .2 5.2 .2 2.5 .6 10 .1 8.7 .2-9.9 .2 1.7 .2 2.9 .6 5 .1-3.2 .2 1.6 .2-2.4 .2-2.4 .5 15.2 .2-3.3 .2-7 .2-.3 .2-3.2 .5-2.5 .2-10.8 .2 1.9 .2 2.4 .2-3.7 .5-14.9 .2-7.9 .2 .9 .2-10.1 .2-2.1 .5-2 .2 2.4 .2 9.8 .2 2.3 .2-1 .5-7.9 .2 3 .2-3.7 .2-5.5 .1 6.1 .6 3.3 .2 3.4 .2 6.4 .2 6.9 .1 6.8 .6 8.8 .2 5.7 .2 8.7 .1 5.8 .2-.8 .6 7.9 .2-3.5 .2-2.8 .1 2.3 .2 .3 .6 2.5 .2 4.4 .1-4 .2 4.8 .2 .2 .6-3.3 .1-3.5 .2 5.9 .2-5.9 .2-6.2 .6-6.1 .1 1.1 .2-.7 .2-2.2 .2 0 .5-2.5 .2-5 .2 .6 .2-2.1 .2 .6 .5 2 .2 3.1 .2-1 .2 .6 .2 1 .5 0 .2-1.2 .2 .7 .2-4.1 .2 1 .5 3.5 .2 1.4 .2-3.7 .2 1 .2 6.4 .5 3.4 .2 2.1 .2 4.3 .2-1.3 .1-2.4 .6 .3 .2 4.1 .2 8 .2 2.7 .1 8.2 .6 6 .2-.4 .2-2.6 .1 .4 .2 8.1 .6-2.9 .2-9.1 .1 1.5 .2-6.1 .2-4.4 .6-12.8 .2-3.4 .1-4.5 .2-4.9 .2 2.6 .6 2.3 .1-2.2 .2 1.1 .2 5.9 .2-3.1 .6-.7 .1-1 .2-5.5 .2 2.2 .2 5.3 .5 1 .2-2 .2-1.5 .2-3.9 .2 1.1 .5-1.2 .2 2.9 .2-4.5 .2 1.2 .2 3.7 .5-5.8 .2 1.5 .2 6.4 .2 .1 .2 1.3 .5-.4 .2 2 .2 3.3 .2-6.4 .2 0 .5 1.5 .2-2.3 .2 4.1 .2 7.1 .1 2.9 .6 4 .2 5.6 .2 1.9 .1 2.1 .2 .9 .6-3.1 .2 4.4 .2-3 .1 .9 .2 .6 .6-4.1 .2 3.4 .1 4.8 .2 .2 .2 4.8 .6 1 .2 7.2 .1-5.4 .2-.8 .2-2.4 .6 .6 .1 5.9 .2-2.4 .2 2 .2 .6 .6-1.9 .1 7.1 .2 7.8 .2-1.7 .2 8.3 .5 5.7 .2-2.4 .2-1.6 .2 3.1 .2-5.3 .5 4.6 .2-.5 .2-1.8 .2-1.4 .2 1.1 .5-7.2 .2-4 .2-4.1 .2-2 .2 2.6 .5-8.3 .2-6.5 .2 .5 .2 3.4 .2 1.6 .5 2.4 .2-1.6 .2-3.8 .2-1.4 .1 3.8 .6 1.6 .2 4.3 .2 7.8 .1 .7 .2 3.8 .6 8.7 .2 .2 .2-1.1 .1 1.5 .2 7.7 .6 4.9 .2 4.2 .1 .2 .2-4.4 .2 4.4 .6 7.1 .2-.4 .1 3.5 .2 11.7 .2-8.7 .6 2.7 .1 .6 .2 3.5 .2-9.6 .2-7.9 .5 9.9 .2-1.2 .2-6 .2 .6 .2 5.2 .5 3 .2 6.4 .2 .1 .2 9.1 .2 4.8 .5 1.5 .2-.4 .2 2.6 .2 18.2 .2 12.5 .5-20.4 .2 1.3 .2 8 .2 8.5 .2 .3 .5 .7 .2 3.4 .2 14.7 .2 1.9 .1 10.5 .6 6.5 .2-7.4 .2-8.3 .2-21.4 .1-6.2 .6 2.3 .2 4.3 .2 4.9 .1 11 .2 7.9 .6 7.2 .2 4 .2 3.9 .1 8.5 .2 9 .6 1.7 .2 2.2 .1-5.8 .2 .8 .2-3 .6 3.8 .2-14.6 .1-9.9 .2 1.5 .2 8 .6-3.8 .1 7.7 .2 0 .2-9.8 .2-3.7 .5-6.6 .2 2.7 .2 1.4 .2 3.9 .2 4.3 .5-2.3 .2 3.3 .2-11.5 .2 4.1 .2-9.8 .5 5.7 .2-3.1 .2 7.3 .2 5 .2-2 .5-4.5 .2 7.9 .2 .6 .2-3.9 .2-6.4 .5-.9 .2-.3 .2 1.6 .2 7 .1 7.4 .6 8.7 .2 6.1 .2-.9 .2 3.8 .1 5 .6-5.1 .2-3 .2 1.7 .1-6.9 .2-.8 .6 .2 .2 1 .2 5.5 .1 1.4 .2-4.6 .6-2.9 .2-4 .1-3.6 .2-7.2 .2 0 .6-4.6 .1 4.1 .2 8.4 .2 4.5 .2 1 .6 3.8 .1 5.3 .2-1.8 .2-5 .2 6.5 .5-3.5 .2 .6 .2 6.6 .2 1.6 .2-7 .5 1.1 .2-4.9 .2-7.8 .2-6.2 .2 12.5 .5 5.1 .2-3 .2-2 .2-3.8 .2-3.4 .5-2.1 .2-8.5 .2-1.2 .2 .5 .2-7.6 .5-8.8 .2-8.6 .2 6.7 .2 2.5 .1-5.1 .6 5.6 .2-.9 .2 1.4 .2 9.4 .1 1.4 .6-4 .2-.5 .2 2.3 .1-7.4 .2-5.9 .6-5.2 .2 3.5 .1-.3 .2-7.5 .2 3.2 .6-1.6 .2-6.2 .1-10.6 .2 6 .2 12.2 .6 3.2 .1 2.2 .2-11.4 .2-7.6 .2 1.1 .6 2.4 .1 4 .2-3 .2 2.9 .2-14.9 .5-5.7 .2 2.9 .2-.1 .2 4.1 .2 6.9 .5 .7 .2 1.6 .2-6.2 .2-1.1 .2 1.9 .5 6.2 .2 4 .2-.6 .2-2 .2-5.1 .5 2.4 .2-3.6 .2-4.6 .2-2.3 .2 3.1 .5 3.4 .2-1.7 .2-5 .2-2.6 .1 1.3 .6 2.9 .2 2.4 .2 .8 .2 2 .1 1.4 .6 1.1 .2 1.1 .2 1 .1 5.3 .2-2.8 .6 4.3 .2-.4 .1-3.9 .2-3.7 .2 2.1 .6-3.5 .2 3.8 .1 2.5 .2-4.8 .2 1.2 .6-7.8 .1 1.5 .2-.5 .2-.8 .2-2.9 .6-3.9 .1-8.3 .2-3.2 .2-5.3 .2 .2 .5-8 .2-.8 .2-.4 .2 .1 .2-1.1 .5-4 .2-2.2 .2-.8 .2-4.1 .2 3.4 .5-.9 .2-4.5 .2 4.6 .2 1.7 .2-2.9 .5 4.6 .2-7 .2 6.5 .2-3.5 .2-4.1 .5-2.7 .2 5.8 .2-3.9 .2 4.2 .1-.1 .6 .1 .2-.4 .2-.1 .1 .4 .2-1.4 .6 4.2 .2-4.5 .2-1.2 .1 2.1 .2-1.2 .6 2.1 .2 1.7 .1-3.5 .2 1.7 .2-3.6 .6-4.8 .2-1.4 .1-.1 .2 2.7 .2 2.8 .6 6.6 .1 1.2 .2 1.9 .2 1 .2 4.3 .5-1.5 .2-2.2 .2 .7 .2-3.4 .2-2.9 .5 .4 .2-.1 .2-5.5 .2 1.5 .2 .9 .5-2.8 .2 1.1 .2 4.1 .2 5.5 .2-1.1 .5 3.8 .2 .4 .2 1.6 .2 0 .2-.3 .5 3.7 .2 3.9 .2 4 .2-1.5 .2-2 .5 4.3 .2-5.7 .2 .1 .2-.5 .1-.3 .6 0 .2-1.9 .2-4.8 .1 4.1 .2-2.6 .6 .3 .2-3.3 .2 .3 .1 4.6 .2 2.3 .6 1.1 .2-1.3 .1 2.2 .2 1.2 .2 .3 .6 2 .2 5.9 .1 1.1 .2-3 .2-1.7 .6 1.4 .1-5.6 .2-3.4 .2 2.6 .2-1.1 .5-.9 .2 .7 .2 .9 .2-2.1 .2-1.2 .5 4.2 .2-1.3 .2-5.4 .2-.4 .2-.6 .5-5.3 .2-3.7 .2 1.6 .2-2.1 .2 1.4 .5-2.3 .2 1.1 .2-2.8 .2-3.2 .2-1.7 .5-5.5 .2-2.1 .2 3.5 .2 1.8 .1 4.7 .6-1.2 .2 5.8 .2 2.5 .2 5 .1 2.1 .6 4.7 .2-1.3 .2 4.4 .1-3.4 .2-.8 .6-.4 .2-2.1 .2-6.9 .1 4.6 .2-.7 .6 2 .2-2.2 .1-.5 .2-4.1 .2 .5 .6-1.5 .1 1 .2-.1 .2-1.6 .2-.7 .6 .2 .1-2.3 .2-2.4 .2 4.3 .2-3.3 .5 .3 .2-1.2 .2-3.6 .2-4.2 .2-1.1 .5-1.6 .2-1.1 .2-5.2 .2 4.7 .2-1.2 .5-3.3 .2-.6 .2 1.2 .2-5.6 .2 0 .5-7.5 .2 4.4 .2 5.4 .2-1.6 .2-3.5 .5-4.9 .2-2.3 .2 0 .2-6.6 .1-1.5 .6 3 .2-.5 .2-.8 .2 2.1 .1 .2 .6 1.9 .2-1.3 .2-.9 .1-1.6 .2-.2 .6 2.2 .2-7.3 .2-1.4 .1 3.8 .2 5 .6 10.1 .2 5.3 .1 3.9 .2 1.9 .2 4.4 .6-6.4 .1-3.6 .2-4.8 .2 5.1 .2 2.3 .6 3.6 .1 6.1 .2 4.5 .2 2 .2-1.8 .5 .3 .2 2.6 .2 2 .2 2.3 .2-3.7 .5 2.9 .2-.6 .2-1.2 .2 1.7 .2-.8 .5 1.7 .2-2.1 .2-2.8 .2 1.1 .2 .8 .5 4.8 .2-1.4 .2-2.9 .2-4.1 .2-.4 .5 3.3 .2 4.3 .2 3.7 .2 2 .1-2 .6 5.3 .2 6 .2 1.7 .2 2.7 .1 3.9 .6 1.6 .2-2.7 .2-1.9 .1-1.1 .2-2.4 .6-2.6 .2-.7 .1-.8 .2-.7 .2-2.2 .6 2.3 .2 0 .1-2.2 .2 3.2 .2 .9 .6-.3 .1-.3 .2-5.9 .2-1.2 .2-2.1 .6-8.5 .1-.1 .2 .1 .2-.3 .2 1.2 .5-3.1 .2-1.2 .2 1.5 .2-1.5 .2 2.5 .5 .6 .2 .5 .2 1.6 .2 2 .2 1.3 .5-4 .2 3.9 .2-.6 .2 3.9 .2 4.4 .5 2.7 .2 3.4 .2-1.8 .2-1.8 .2-2.3 .5-2.5 .2 2.8 .2-.1 .2-2.4 .1-2.4 .6-.7 .2-1.7 .2-8.2 .2 1.5 .1 .2 .6 .1 .2 .2 .2-4 .1-1.7 .2-1.6 .6-6.3 .2-9.3 .1 4.3 .2 1.1 .2-1.3 .6-2.2 .2-2.8 .1-3 .2-2 .2-.9 .6-3.8 .1 0 .2-.7 .2-.2 .2-3.4 .6 4.4 .1 3.5 .2 1.5 .2-1.1 .2 1.6 .5 2.1 .2 .8 .2 3.4 .2 .7 .2-2.5 .5 1 .2 1.6 .2-3.2 .2 .4 .2-1.3 .5 3.4 .2-1.3 .2 2.4 .2 1.3 .2 4.3 .5 3.9 .2 .8 .2 4.7 .2-.1 .2-2 .5-3 .2-1.3 .2 5.5 .2 2.7 .1 .2 .6-4.2 .2-2.9 .2 1.7 .1-3.3 .2 .6 .6-2.9 .2-3 .2 .7 .1-2.3 .2 1.7 .6-1 .2 3.3 .1-2.2 .2-2.8 .2-.5 .6 2.9 .2-2.2 .1 2.3 .2-.6 .2-3.1 .6-3.5 .1-1.2 .2 2.2 .2-.9 .2-1 .5 2 .2 2.7 .2 .8 .2 1.5 .2-3.2 .5 4.6 .2 .6 .2 .1 .2 4.6 .2 1.4 .5 .6 .2-.5 .2-1.5 .2-4.6 .2-1 .5-1 .2-1.4 .2 1.5 .2-5.4 .2-1 .5-2.7 .2 .2 .2 .4 .2 2.2 .1 1 .6-5.6 .2-1.1 .2 1.2 .2-5.3 .1-4.4 .6-.6 .2-.8 .2-2.8 .1 .9 .2 .4 .6-2.9 .2 6.8 .2 4.1 .1-1.9 .2 1.3 .6 1.9 .2 3.1 .1-2 .2 2.7 .2 1.3 .6 2.1 .2 1.7 .1 1.8 .2 .2 .2 1.4 .6-.9 .1 3.8 .2 2.7 .2 .6 .2-.4 .5 4.7 .2-.7 .2-2.8 .2 .7 .2 2.5 .5-3.8 .2-2.7 .2-1.2 .2-3.2 .2-.6 .5-.3 .2-3.7 .2 4.8 .2-1.6 .2-2.2 .5 .8 .2 0 .2-3 .2-6.2 .2 1.8 .5-.3 .2-1.7 .2-3.4 .2 1.2 .1-1.6 .6-.8 .2 .4 .2-2.1 .2-2.2 .1 1.8 .6-3.2 .2 1.2 .2-.8 .1 4.7 .2 .2 .6-4.2 .2-4.8 .2-4 .1-.6 .2 .4 .6-1 .2-1.2 .1-.2 .2-.6 .2 1.8 .6 2.7 .1 1.5 .2-3.1 .2 3.4 .2-.4 .6-2.3 .1-.1 .2 .3 .2-.7 .2 3.2 .5-.3 .2 2.9 .2 .2 .2-2.7 .2-.9 .5 5.7 .2 .9 .2 3.6 .2 .6 .2 2.4 .5 2.8 .2-3.9 .2-.6 .2 .6 .2-.6 .5 3.6 .2-2.7 .2-1.6 .2-.3 .2-3.4 .5-.3 .2-3.7 .2 1.3 .2-4 .1-5 .6-6.4 .2-4.6 .2-2.1 .2-.2 .1-4 .6-3.1 .2 2.2 .2-2.7 .1-4.1 .2-2.5 .6 8 .2 1.4 .2 11.8 .1 4.4 .2 2 .6-3.6 .2 8.1 .1 11.1 .2 3 .2 .9 .6 6.2 .1-2.3 .2-1.4 .2-4.1 .2 1.3 .6 1.8 .1 3.9 .2-3.3 .2 1.4 .2 5.2 .5-5.6 .2 2.2 .2 2.6 .2 2 .2-1.4 .5 .6 .2-.1 .2 .9 .2-.7 .2-3.4 .5 2.9 .2-.2 .2 1.7 .2-7.5 .2-2.9 .5-1.7 .2 .7 .2-3.8 .2-4.6 .2 1.7 .5 1.6 .2 4.9 .2 4.3 .2 .2 .1 1.4 .6 7.9 .2 8 .2 10 .2 1 .1-1.7 .6 1.3 .2-3.4 .2-2.5 .1-.6 .2-2.9 .6 1.8 .2 1.9 .1 4.7 .2-1 .2 2.5 .6-4.1 .2-2.1 .1-5.5 .2-2 .2-.2 .6-3.8 .1-2.9 .2-4.1 .2-2.3 .2 1.3 .6 4.4 .1-2 .2-.9 .2-5.8 .2 3.7 .5 10.6 .2 8.5 .2 1.4 .2 1.9 .2 7.6 .5 .7 .2 .2 .2 1.1 .2 4.1 .2 3.3 .5-3.7 .2 7.3 .2-.1 .2-8.8 .2 .6 .5-1.6 .2 5 .2-3.5 .2-1.9 .2 2.5 .5-1.3 .2-4.9 .2-2.1 .2 5.2 .1 2.5 .6 4.3 .2-3.6 .2-6.7 .1-1 .2 1.1 .6-1.3 .2-3.5 .2-4.6 .1 .2 .2-1.4 .6-2.3 .2-3.5 .1 4.5 .2 .2 .2-3.7 .6-.8 .2-.6 .1 .7 .2-.5 .2-.9 .6-.6 .1 1.8 .2 0 .2 .7 .2 .3 .6 6.7 .1-2.2 .2-6.1 .2-3.3 .2-3 .5 1.1 .2 .6 .2 .9 .2 .5 .2-3.1 .5 .6 .2-2 .2-2.5 .2 1.4 .2-.2 .5-3.6 .2-3.1 .2-2.5 .2 .7 .2-.7 .5 4.2 .2 1.5 .2 1.1 .2-4.2 .2 2.3 .5-1.1 .2-4 .2 1.2 .2-1.6 .1-.9 .6-8.8 .2-2.6 .2-.5 .1-1.7 .2-8.5 .6-3.7 .2-.3 .2 2.4 .1 3.5 .2 .8 .6 .3 .2-2.8 .1 2 .2-2.3 .2-.3 .6 2.2 .2 .8 .1 .4 .2-2.3 .2 0 .6 2.4 .1-1.5 .2-1.3 .2 2.9 .2-4 .5-2.9 .2 .1 .2 7.4 .2 5.4 .2 3.8 .5 0 .2-1.1 .2 3.8 .2-.8 .2 4.7 .5 .3 .2-.3 .2 .7 .2 4.4 .2 4.9 .5-2.8 .2 .6 .2-.6 .2 .7 .2 2.7 .5-1.6 .2-1.2 .2-.4 .2 5.2 .1 3.8 .6 3 .2 1.3 .2-1.7 .2-.3 .1 1.1 .6-1.3 .2 4 .2 .3 .1 1.4 .2-.2 .6 2.3 .2 1.7 .2 .9 .1-1.7 .2 .9 .6 1.9 .2-2.1 .1 .7 .2-.8 .2 2.6 .6-.2 .1-5.2 .2 1.5 .2-2.9 .2 .9 .6-2.7 .1 .1 .2 3.7 .2-.7 .2-3.4 .5-.7 .2-.7 .2-1.6 .2 2 .2-.4 .5 2.1 .2 .5 .2-1.5 .2 2.6 .2-2.3 .5-1.1 .2-.9 .2 1.5 .2-.8 .2-5.8 .5 3.4 .2 .1 .2 .7 .2 4.1 .2 4 .5 .5 .2-.4 .2 2.5 .2 2.4 .1-.4 .6 1.7 .2-1.4 .2 .7 .2-1.1 .1-4 .6-1.5 .2-2.8 .2-.7 .1-3.1 .2-6.4 .6-4.6 .2 1.6 .2-1.2 .1-1.7 .2 .6 .6-1.9 .2-3.1 .1-9.1 .2-3.8 .2 1.8 .6-.1 .1-2.3 .2-1.6 .2 4.4 .2 .9 .6 2.1 .1-2.7 .2-.1 .2-.9 .2-.5 .5 2.8 .2 6.5 .2 8 .2-.2 .2-.9 .5-2.7 .2-7.7 .2 3 .2 0 .2 2.6 .5 3.6 .2-.4 .2-.2 .2 3.2 .2 5.9 .5-5 .2 2.9 .2-2.8 .2 4.8 .2 7.8 .5 5.1 .2-3.3 .2 2.3 .2-.1 .1 0 .6 1.4 .2 2.9 .2 5.6 .2 1.3 .1 .7 .6-.5 .2-1 .2 4.6 .1-2.9 .2 0 .6-1.1 .2-.7 .1 4.3 .2-.7 .2 3.5 .6 3.4 .2-3 .1 2 .2-3.1 .2-7.6 .6-.1 .1 1.2 .2-.8 .2-3.8 .2-2.8 .6-1.8 .1 2 .2 1.5 .2-1.1 .2-3.1 .5 1.2 .2-.8 .2-.8 .2-.4 .2 0 .5 .4 .2 .6 .2 1.6 .2-7.1 .2 .9 .5 1.1 .2 5.6 .2 2.6 .2-3 .2 2.2 .5 1 .2-.4 .2-1.4 .2-3.6 .2 1.2 .5 4.3 .2 .5 .2-.4 .2 4.2 .1-.3 .6 3.6 .2 1.6 .2-4.6 .2-1.8 .1-3.2 .6-3.2 .2-4.2 .2-8.9 .1-1.7 .2-5.9 .6 .3 .2-2.5 .1-7.4 .2-1.4 .2 1.4 .6-2.6 .2 .8 .1 2.2 .2-6.6 .2-3.8 .6-4.8 .1-6.2 .2 1.2 .2 .2 .2 .4 .6-.5 .1-1.4 .2-2.3 .2 4.8 .2 7 .5 1.3 .2-4.4 .2-2.6 .2 .2 .2-.9 .5 .3 .2 5.1 .2 .7 .2 1.5 .2 .8 .5-1.3 .2-2.3 .2 1.3 .2-1.9 .2-2 .5-.5 .2-.6 .2 .5 .2-.4 .2 .8 .5-1 .2 .5 .2-3.9 .2-8 .1-.4 .6-4.8 .2-3.7 .2-2.8 .1 3.9 .2 .9 .6 2 .2 .1 .2 6.4 .1-1.7 .2-2.7 .6-2.4 .2 2.2 .1 .2 .2-3.5 .2-.3 .6 10.6 .2-2 .1 6.6 .2 .7 .2-2.2 .6 11.8 .1-1.7 .2 5.9 .2 2.6 .2-.6 .5 1.2 .2-.3 .2-.8 .2 6.8 .2-3 .5-3 .2 .9 .2-2 .2-2.1 .2 .6 .5-1.2 .2 1.4 .2 3.6 .2 1.9 .2-.6 .5-3.9 .2 1.4 .2-.7 .2 1.2 .2 0 .5 .6 .2-6.2 .2 .7 .2-4.2 .2-.3 .5-.6 .2-2.4 .2 4 .2 4.3 .1 .2 .6 .9 .2 2.2 .2-1.4 .1 3.2 .2 1.7 .6 .7 .2-1.6 .2 1.9 .1-1.5 .2 1.7 .6-.7 .2 2.9 .1 .6 .2-4.2 .2 1.5 .6 2.2 .2-5.9 .1 3.2 .2-2.9 .2 .1 .6-10.9 .1 1 .2-.4 .2-.7 .2-3 .5-7.5 .2 .3 .2 1.2 .2-3.8 .2-2.1 .5 2.5 .2-2.6 .2 .6 .2-4.1 .2 .2 .5-1.8 .2-2.8 .2-6.3 .2 5.4 .2-.9 .5-.7 .2-.4 .2 .5 .2-2.6 .2 1.4 .5 2.6 .2 1.4 .2-.6 .2-4 .1-.9 .6 8.2 .2 1 .2 1 .2 2.8 .1-3 .6 6.6 .2-1.3 .2 0 .1-2.5 .2 1.7 .6-1.7 .2-3.5 .2-1.9 .1-7 .2 .7 .6-.8 .2 1.2 .1 .8 .2-5.7 .2-1.8 .6-8.2 .1 .9 .2 1.4 .2-.5 .2 1.1 .6-5.6 .1-3.2 .2-7 .2 3.9 .2-.5 .5-5.5 .2-6.5 .2 9.9 .2 10.5 .2-1 .5-9.5 .2 2 .2-5.2 .2-7.3 .2-.7 .5-20.3 .2 2.9 .2-3.7 .2-5.4 .2-.7 .5-5.1 .2-2.8 .2-14.6 .2-15.8 .2-1.5 .5 29.1 .2-4.7 .2-7.8 .2-2.8 .1-1 .6-6.2 .2-18.4 .2-2.7 .2-11.8 .1-1.7 .6 .4 .2 11.4 .2 25.3 .1 4.3 .2 .9 .6-8.2 .2-10.7 .2-10.6 .1-13 .2-3.7 .6-16 .2-11.9 .1-13.9 .2-11.8 .2-1.8 .6-2.4 .1 7.7 .2-2.7 .2 4.6 .2-.8 .6 14.8 .1 13.3 .2-2 .2-6.1 .2 2.1 .5-1.5 .2 .2 .2 11.6 .2 5.3 .2 .3 .5 .3 .2-3.5 .2 .3 .2-5.8 .2 .7 .5 0 .2 12.8 .2-5 .2 9.2 .2 1.8 .5-8.4 .2-12.6 .2-9.4 .2 1.2 .2 0 .5 4.1 .2 4.2 .2 3.9 .2 2 .1-.6 .6 5.5 .2-3.4 .2-1.5 .2-7.3 .1 .6 .6-21.1 .2 1.9 .2-2.7 .1-11.2 .2-2.3 .6 12.6 .2 3.6 .1 11 .2 7.1 .2 2 .6-.6 .2-6 .1-4.4 .2 1.7 .2 5.4 .6 12.6 .1 5.4 .2 4.2 .2 1.7 .2-1.5 .6-4.1 .1-10.1 .2-3.8 .2-6.8 .2-.4 .5-19 .2-1.4 .2-.8 .2-8.1 .2-.5 .5-2.1 .2-5 .2-2.2 .2 11.1 .2-.2 .5-2.8 .2 5.3 .2 5 .2-16 .2 2.1 .5-6.4 .2 4.2 .2 8.8 .2 6.1 .2-.2 .5 14.7 .2 .6 .2-1.4 .2 13.3 .1 .2 .6 17.9 .2-3.4 .2 1.8 .2 10.9 .1 3.5 .6 1.8 .2-.3 .2-8.7 .1-1.6 .2 .2 .6 7.5 .2-1.1 .1 10.1 .2 9.5 .2-4.1 .6 1.6 .2-1.5 .1 4.7 .2-2.8 .2-.4 .6 .7 .1 7.6 .2-6.1 .2-16.4 .2-.6 .6-9.7 .1 11.5 .2 11.8 .2 1.1 .2-1 .5-7.6 .2 .6 .2-2.3 .2 14.4 .2 2.2 .5-2.8 .2-4.7 .2-1.7 .2-8.6 .2-2.6 .5-1.3 .2 9.4 .2 1.8 .2-3.9 .2 .1 .5-9.9 .2 5.3 .2 3 .2 3.7 .2-.3 .5 4.6 .2 1.2 .2 1.7 .2-1.6 .1-2.4 .6 2.2 .2 4.8 .2 5 .1 .3 .2 2.2 .6-5 .2-1.4 .2-2.3 .1-2.6 .2-1.2 .6-3.4 .2-.5 .1-4.7 .2 2.7 .2 1.2 .6-4.7 .2 2 .1 .5 .2-2.2 .2 0 .6-9.9 .1-2.8 .2 4.9 .2 2.6 .2-.7 .5 6.1 .2 1.1 .2-1 .2 .7 .2 1.8 .5 8 .2-1.2 .2 1.5 .2 2 .2 3.6 .5 7.9 .2 2.1 .2-.8 .2 3.5 .2 1.8 .5 1.7 .2-1.9 .2 .4 .2-5.8 .2 .4 .5 5.5 .2-7.4 .2 .3 .2 1.7 .1-3.8 .6 5.6 .2-6.7 .2 2.3 .2 5.4 .1 .9 .6 2.6 .2-.7 .2-4.2 .1-.3 .2-.7 .6 1.1 .2-3.8 .2 2.2 .1 1.1 .2-.7 .6 .6 .2 1.9 .1-2.4 .2 1.5 .2 2 .6-1.6 .2 1.8 .1-3.3 .2 2.4 .2 2 .6 7.8 .1-1 .2-.7 .2-2.9 .2 2.9 .5-3.7 .2 4.3 .2 1.7 .2-3.6 .2-.3 .5 4.3 .2 2.6 .2 4.8 .2 4.2 .2 .4 .5-1.7 .2 7 .2 3.5 .2-1.9 .2-1.5 .5-4.9 .2-5.4 .2-6.6 .2 2.4 .2-1.2 .5-7.8 .2-5.8 .2 2.8 .2-.4 .1-2.4 .6-2.7 .2-3.3 .2-1.4 .2-.8 .1-1.5 .6 6.5 .2 2.7 .2-.1 .1-.5 .2-1.2 .6 2.2 .2 1.7 .2-4.4 .1 1.4 .2-3.4 .6 2.3 .2 2.6 .1-3.2 .2-3.7 .2-3.3 .6 7 .1-1.4 .2 2.5 .2 2.1 .2 3.4 .6-5.2 .1 0 .2 1.5 .2 5.1 .2-1.3 .5 3 .2 4.5 .2-4.2 .2 1 .2-1.8 .5-1.9 .2-1.3 .2-.3 .2 .7 .2-.7 .5-.7 .2 9.6 .2 3.1 .2 1.5 .2 2.2 .5 .5 .2 .4 .2 4.9 .2-1.2 .2 3.9 .5-1 .2 3.4 .2 .5 .2-.6 .1-1.5 .6-2.1 .2-3.2 .2-5.4 .2-4.6 .1-2 .6-3.7 .2-1.4 .2-4.4 .1-4 .2-.4 .6-1.9 .2-5.7 .1 3.5 .2 .6 .2 1.4 .6 2.4 .2 4.9 .1-5.6 .2-.6 .2 .8 .6 1.5 .1 2.1 .2 .9 .2-2.4 .2-1.2 .6 2.1 .1-1.2 .2-1.2 .2-1.5 .2-1.6 .5 3 .2 1.4 .2-2.6 .2 3.1 .2-1 .5 2.7 .2 .6 .2 3.4 .2 3.1 .2-1.4 .5 .4 .2 7.5 .2-3.9 .2-1.8 .2-2.4 .5 1.4 .2 2 .2 7.5 .2 .4 .2 .6 .5 5.2 .2 .2 .2 2.7 .2 3 .1 .9 .6-2.5 .2 .9 .2 .7 .2-1.7 .1 1.4 .6-4.4 .2 1.4 .2-2.2 .1-1 .2-3.5 .6-1.6 .2 2.1 .1 .7 .2 .7 .2 1.7 .6 .9 .2-.1 .1-1.5 .2-2.3 .2 4.4 .6-14.3 .1-2.1 .2-1 .2-4.5 .2 2 .6 11.6 .1 1 .2-5.2 .2-3.5 .2 2.5 .5-10.1 .2-.1 .2-5.8 .2 2.1 .2-.5 .5 4.1 .2-2.1 .2-.3 .2 2.5 .2 1.6 .5 4.1 .2-1 .2 .9 .2-.7 .2-2.5 .5-1.6 .2 5.1 .2 .4 .2-2.7 .2 2.7 .5-3.9 .2 3.8 .2 3.5 .2-.5 .1-.2 .6-12.1 .2-1.4 .2-.9 .1 .6 .2 .3 .6-10 .2 .4 .2-1.6 .1-1.3 .2 .1 .6 2.9 .2 3.6 .1 4.6 .2 1.5 .2-1.1 .6-4.1 .2-6.2 .1-.2 .2-2.6 .2 .5 .6 .8 .1 .6 .2-.7 .2-3 .2 1.9 .6 7.3 .1 9.6 .2 0 .2 5.1 .2 2.2 .5 10.6 .2-1.6 .2-.2 .2 1.5 .2 1.5 .5-.4 .2-1.9 .2 4.7 .2-4.5 .2 3.1 .5-.8 .2 0 .2 7.2 .2 1.4 .2-3.3 .5 1.4 .2-5.9 .2-2.9 .2-11.8 .2-6.9 .5-1.5 .2 .8 .2 1.8 .2 5 .1-.5 .6 8.8 .2 6.3 .2 .9 .1 2.9 .2-.1 .6 2.7 .2 7.5 .2-1.7 .1-3.5 .2 1.7 .6 1.7 .2 1.6 .1 .8 .2 1.3 .2 2.2 .6 13 .2-7.4 .1 .4 .2 1 .2-.4 .6 .9 .1 1.4 .2 1.5 .2-4.9 .2 1.1 .5 4 .2-1.5 .2 1.7 .2 .3 .2-3.1 .5-.9 .2-7.9 .2-1.5 .2-3.4 .2 1.2 .5 5 .2-4 .2 .2 .2 1.8 .2-3.9 .5 .1 .2-1.3 .2 0 .2 3.4 .2 3.1 .5 3 .2-.2 .2 .8 .2-4.3 .1 1.2 .6-5.6 .2-4 .2-4.2 .2 2.3 .1-.1 .6-.4 .2-3.1 .2-2.2 .1-1 .2 .5 .6 5.2 .2-.8 .2 1.4 .1 1.9 .2 1 .6 .9 .2 .6 .1 6 .2-4.9 .2-.6 .6-1 .1 0 .2 3.6 .2 3.7 .2 .1 .6 4.6 .1 1.6 .2-.9 .2 5.1 .2-.9 .5 3.2 .2-6 .2-1.2 .2-.6 .2 2.4 .5 .1 .2 2.8 .2 3.3 .2 3.8 .2 5.3 .5 2.4 .2 2.1 .2-2.1 .2-.3 .2 3.2 .5 .7 .2 8.7 .2 5.5 .2-2.5 .2-3.7 .5 .8 .2 3.6 .2 3.2 .2 6.4 .1 2.8 .6 .8 .2-.2 .2-3.3 .2-2.4 .1 2.6 .6 5.8 .2 .1 .2-.8 .1 2.1 .2-1.3 .6-1.1 .2 3.4 .2-3 .1 2.2 .2-1.1 .6-7.3 .2-4.6 .1-.2 .2-1 .2-3.7 .6-5.6 .1 1.8 .2 1.6 .2-3.4 .2-4.7 .6 .5 .1-2.9 .2-1.3 .2-4.9 .2-2.3 .5-.8 .2-1.8 .2-3.5 .2-1.4 .2 1.7 .5-1.3 .2 .2 .2 2.2 .2 3.1 .2-2.1 .5 4.6 .2 .7 .2-3.4 .2 .4 .2 1.1 .5-1.6 .2 7.7 .2-.4 .2-1.7 .2 .7 .5-3.8 .2 .4 .2 2.8 .2 5.7 .1-3.5 .6-.6 .2 .2 .2 2.2 .2-1.8 .1 1.9 .6 3.4 .2 3.8 .2 4.1 .1-.6 .2 .3 .6-1.2 .2 1.5 .1 1.9 .2-1.9 .2-1.2 .6-.2 .2 4.3 .1 1.4 .2-2.8 .2-1.4 .6-3 .1-.5 .2-1.9 .2-.9 .2-2.1 .6-1.4 .1-2.1 .2 1 .2-4.8 .2 1.6 .5-3 .2 .1 .2-1.8 .2-.5 .2-4.7 .5-2 .2-.9 .2-.8 .2-.5 .2 .6 .5-2.2 .2 2.6 .2 2.2 .2 .6 .2-1.2 .5-3 .2 10.3 .2-.8 .2 3.4 .2 3.7 .5-.2 .2 .2 .2 .9 .2 2.3 .1 .5 .6-.1 .2-1.9 .2-1 .2-.4 .1 3.6 .6-.8 .2 .3 .2-.4 .1-2.6 .2 2.3 .6-5.3 .2 1.2 .1 .3 .2-1.1 .2 3.3 .6-4.5 .2-5.1 .1-11.6 .2-4.8 .2-2.3 .6 1.3 .1-9.4 .2-10.5 .2 1.4 .2-.5 .6-8 .1 2.3 .2-1.6 .2 4.2 .2 2 .5-2.4 .2-3.2 .2 4.2 .2-1.7 .2-4.8 .5 2.7 .2 3.5 .2-5.1 .2 2.4 .2 3 .5-.7 .2 3.6 .2 1.6 .2-.7 .2 3.7 .5-2.3 .2 .6 .2 1.3 .2 10.1 .2 5.8 .5 3.4 .2 2.7 .2 1.4 .2 1.3 .1-1.1 .6-1.5 .2 .9 .2-4.9 .1-.1 .2-1 .6-4.9 .2-8.7 .2-9 .1-3.6 .2 .5 .6-3.8 .2 3.9 .1 0 .2 2.3 .2 1.8 .6-4.4 .2 .8 .1-5.2 .2 .5 .2 2.1 .6 7.5 .1 3.3 .2 5.4 .2 4.4 .2-2 .5 3.7 .2 2 .2 4.4 .2 4.5 .2 2.3 .5-.9 .2 .1 .2 5.7 .2 7.3 .2-5.6 .5-5.9 .2-12.4 .2-.4 .2-1.3 .2-9.7 .5 1.2 .2-2.1 .2-2.8 .2-.8 .2-5.6 .5 2 .2-6.1 .2-.7 .2 7.5 .2-1.9 .5-.8 .2-3.5 .2 .5 .2 1.6 .1-4 .6 7 .2 6.3 .2 4.6 .1-6.7 .2-4 .6-6.9 .2 5.4 .2 3 .1 .6 .2 .4 .6-1.4 .2 0 .1 1.8 .2 2.8 .2 1.5 .6 3.5 .2 1.9 .1-2.6 .2 .8 .2 5.4 .6-.2 .1-.9 .2-.9 .2 1.4 .2 .9 .5 1.3 .2-1.3 .2 .9 .2 2.3 .2-3.1 .5-1 .2 .3 .2 2.9 .2 .6 .2 2.6 .5-.3 .2 .7 .2-3.3 .2 .6 .2 1.4 .5 2.4 .2 .3 .2 1.3 .2 .9 .2-.9 .5 1.6 .2 .8 .2 3.4 .2 .7 .1 .4 .6-2.6 .2-1.8 .2-.3 .2-.4 .1-2.2 .6 3 .2 7 .2-3.3 .1-1.8 .2 .9 .6 1.1 .2-2.2 .2 .7 .1 2.6 .2 .4 .6 2.4 .2-2.1 .1 1.2 .2 1 .2-2.4 .6 2.1 .1-3.6 .2 1.5 .2 1 .2-.8 .6-.7 .1-1.8 .2-1.2 .2 1.2 .2-.7 .5-.3 .2 2 .2 .6 .2 4.6 .2 .9 .5 1.7 .2-5.3 .2-.3 .2-2.9 .2 .2 .5-1.5 .2-.9 .2-1.4 .2-4.4 .2-.5 .5 4.9 .2-.1 .2-5.2 .2-2.5 .2-1.8 .5-1.4 .2-1.9 .2-.1 .2-1.9 .1 .2 .6-1.3 .2-1.6 .2-2.1 .2-.6 .1-.9 .6 .2 .2 1 .2 .3 .1-1.4 .2-.6 .6-6.9 .2 .6 .2-3.6 .1-2.3 .2 1.5 .6-3.9 .2 2 .1-1.1 .2-1.3 .2-.2 .6-.1 .1-2.1 .2 1.2 .2-4.3 .2-.7 .6 4.4 .1-3.6 .2 5.3 .2 .4 .2 4.1 .5 8.1 .2-2 .2 2.5 .2-.6 .2-.1 .5 7.8 .2 1.3 .2-1.1 .2-1.5 .2 .2 .5-1.6 .2-.6 .2-.1 .2 3.2 .2 2.5 .5 5.3 .2-2.5 .2 0 .2-3.4 .2-2.4 .5-4.9 .2 1.3 .2-.9 .2-1 .1-2.3 .6-1 .2-1.7 .2 .2 .2-2.3 .1-.5 .6-2.6 .2-1.7 .2-2.9 .1 2.6 .2 .7 .6 3.7 .2-.8 .1 3.3 .2 2.1 .2-1.3 .6 4.4 .2-.1 .1 0 .2 3.5 .2 1.9 .6 6 .1 2.6 .2 1.1 .2 .3 .2 .2 .6 0 .1 2 .2-1.1 .2 .7 .2 1.6 .5-1.4 .2-3.8 .2 3.6 .2-1.5 .2 1.3 .5-.7 .2 0 .2 2.4 .2-2.5 .2-.5 .5-.3 .2-3 .2 4.1 .2 1.7 .2-.5 .5 5 .2 0 .2-.7 .2-2.1 .2 1.5 .5-.4 .2 0 .2-.1 .2-2 .1-2.9 .6-1.9 .2 .8 .2 .1 .1 .9 .2-2.2 .6-3.8 .2-6.4 .2 .5 .1-5.7 .2-1.5 .6-2.5 .2-1.4 .1 1.3 .2 2 .2-1.4 .6-3.8 .2 .4 .1-.7 .2-.6 .2 .9 .6-3.5 .1-2.8 .2-2.3 .2-.9 .2 1.5 .6-7.1 .1-2.7 .2-1.3 .2 .9 .2-1.9 .5-5.1 .2-2.3 .2-.1 .2-2.5 .2-2.3 .5 2.5 .2 .6 .2-3 .2 3.9 .2-.5 .5 3.4 .2 2.7 .2 5.7 .2 5.6 .2 1.5 .5-.6 .2-3 .2 1.8 .2-.7 .2-2.3 .5 1 .2-4.2 .2 4.5 .2-.2 .1 1.4 .6 .5 .2 0 .2-3.9 .1 4.1 .2-1.9 .6-3.8 .2 3.9 .2 2.2 .1-.9 .2 1.3 .6-1.2 .2-.6 .1-.2 .2-2.5 .2-3.3 .6-1.5 .2-.2 .1 .5 .2-2.8 .2-1.2 .6 2.6 .1-1.3 .2-.9 .2 .9 .2-4.3 .5 .4 .2 .2 .2-.4 .2-1.3 .2-1.1 .5 8 .2 5.9 .2 1.4 .2 1.8 .2 3.6 .5 .4 .2 .5 .2 3.9 .2 5.9 .2-1.7 .5-8.5 .2-2.6 .2-2 .2-2.7 .2 .1 .5-.3 .2-1.1 .2-.8 .2-2.1 .1 4.9 .6-3.1 .2 2.1 .2-1.8 .2-2.6 .1-2.8 .6-5.1 .2 3.3 .2-2.7 .1-1.6 .2-1.6 .6-.1 .2 3.9 .2 5.9 .1-5.5 .2 3.6 .6 6.2 .2 3.4 .1 1.8 .2 5.4 .2 1.7 .6 2 .2 .9 .1 2.5 .2 4.6 .2-.3 .6-3.2 .1-3.9 .2-2 .2 .8 .2-2.1 .5-6.4 .2-2.3 .2-3.2 .2-2 .2 .9 .5-1.3 .2-4.1 .2 1.1 .2 2.8 .2 .2 .5 6.6 .2 2.9 .2 4.1 .2-1.8 .2-2.8 .5 3.2 .2 .4 .2-.6 .2-1.3 .2-2.9 .5 3.7 .2-2 .2 2.3 .2 .3 .1-.5 .6 6.1 .2-2.2 .2-1 .2-3.2 .1-2.5 .6 6.9 .2-4.1 .2-.7 .1-.4 .2-3.9 .6 .1 .2-1.2 .2-3.7 .1-1.8 .2 1.4 .6-1.5 .2 .2 .1-.8 .2-.7 .2 1.7 .6-3.3 .1 1.3 .2 4.2 .2-3.1 .2-.7 .6 1.5 .1-6.4 .2-4.9 .2 3.4 .2 0 .5-.7 .2 7.8 .2 3.8 .2 3.5 .2 .3 .5 1.5 .2-5.7 .2 6.3 .2 4.7 .2 0 .5-7.1 .2-2 .2 4.7 .2-3.5 .2-3.3 .5 1.8 .2 2.5 .2-1.3 .2-2.8 .2-1.3 .5 2.1 .2 2.5 .2 0 .2 1.9 .1 4 .6 5.5 .2-1.3 .2-.3 .2 3.6 .1-2.1 .6 1.2 .2-1.3 .2-.5 .1-.4 .2-2.6 .6-3.3 .2 2.5 .1-2.1 .2-2.2 .2-4.5 .6 .5 .2 3.8 .1 .6 .2-2.4 .2-1.7 .6-6.2 .1-3.6 .2 1.1 .2 4.7 .2 1.8 .6-.1 .1 4 .2-1.9 .2 0 .2 .4 .5 2 .2 1.2 .2 4.3 .2 2.9 .2-2.1 .5-1.2 .2-4.1 .2-1.7 .2 1.2 .2 1.7 .5-2.7 .2-.2 .2 2.2 .2-1.2 .2-.4 .5 2.8 .2 2.8 .2 4.5 .2 5.1 .2-3.4 .5-7.7 .2-2.1 .2 12.7 .2 8.4 .1-1.7 .6-.8 .2-6.4 .2 2.4 .2 .5 .1 2.4 .6 6.7 .2 3.9 .2-.5 .1 7 .2 .2 .6 6.2 .2-5 .1 .3 .2-5.2 .2-.7 .6 6.4 .2-8.2 .1-3.4 .2 9.2 .2 11.3 .6 3.2 .1 1.2 .2 2 .2 8 .2-1.3 .6 2.6 .1-.6 .2 .2 .2-3.9 .2 .3 .5-5.9 .2-1.8 .2 5.5 .2-.4 .2-5.2 .5-5.5 .2 5.6 .2 4.9 .2 0 .2 3.8 .5 12.2 .2-.6 .2 5.3 .2-.1 .2 3.1 .5-1.2 .2 5.3 .2 .6 .2 9.8 .2 2.2 .5 5.5 .2-4 .2 .2 .2-4.4 .1-3.1 .6-7.5 .2-.1 .2 4.8 .1-7.9 .2-.1 .6 4.8 .2-6.7 .2-5.2 .1-4.8 .2-5.6 .6 4.7 .2-3.7 .1-.4 .2 3.1 .2-.2 .6 8.4 .2-.9 .1-10.1 .2 3.8 .2 .3 .6-4.8 .1-2.9 .2-4.5 .2-3.3 .2-1.7 .5 1.7 .2-.5 .2-1.6 .2-1 .2-.6 .5 8 .2-1.7 .2 2.6 .2 .7 .2-.2 .5-2.3 .2 2.4 .2 5.3 .2 .1 .2 .7 .5 .3 .2 1.7 .2-1.8 .2-.2 .2 2.4 .5 .3 .2-1.6 .2 0 .2-3.5 .2 .5 .5-2.4 .2-5.8 .2-5.6 .2-.3 .1-2.7 .6-.6 .2 .8 .2-5 .1-1 .2-.4 .6-2.2 .2 1.6 .2-5.6 .1-5.3 .2 0 .6-4.6 .2 3.6 .1 .8 .2-3.8 .2-3.8 .6-.6 .2-1.9 .1 .4 .2 2.9 .2-1.8 .6 4.3 .1 .5 .2-2.5 .2-.7 .2 2.1 .5 2.3 .2 1.2 .2-2.2 .2 0 .2 2 .5 1.4 .2-.5 .2-5.3 .2 1.5 .2 .1 .5 7.8 .2 1.3 .2 4.9 .2-.8 .2 3.4 .5 .4 .2 3.4 .2 3 .2 4 .2 3 .5-4.7 .2 1.5 .2 3.7 .2 1.1 .1 .7 .6-.5 .2-.1 .2 4.4 .2 2.3 .1 .6 .6 3.6 .2-1.1 .2 .9 .1-3.9 .2-3.2 .6 1.1 .2-4.5 .2-1.8 .1-1.5 .2-.9 .6 2.1 .2 1.5 .1 1.9 .2-.5 .2-3.3 .6 1.2 .1-.8 .2 2.9 .2-3.2 .2-2.1 .6 2.4 .1-3.6 .2-6.3 .2-.8 .2 .2 .5 1.1 .2-.4 .2-1.3 .2 0 .2 0 .5-4.6 .2 3.7 .2 2.8 .2-4 .2-2.6 .5 5.1 .2 .4 .2-2.6 .2-1.8 .2 2.5 .5-.6 .2 4.6 .2-3.3 .2 2.5 .2 6.1 .5 4.3 .2 1.9 .2 3.8 .2 3.1 .1-1.3 .6 2.7 .2-2 .2 .5 .2 .9 .1-3.3 .6-.1 .2 4 .2 1.8 .1-.8 .2-1.3 .6-.7 .2 .2 .2-2 .1 .3 .2-1.4 .6 4.4 .2-2.4 .1 2.4 .2-1.4 .2-4.8 .6 .1 .1-2.5 .2 .1 .2-3.9 .2 .1 .6 1.3 .1 5.9 .2 .7 .2-.9 .2 .7 .5-2.9 .2-.5 .2 1.5 .2-2.7 .2 1.9 .5-3.4 .2 .6 .2-.9 .2 .1 .2-.4 .5-4.7 .2 3.2 .2-2.1 .2 3 .2 .5 .5-2.9 .2 .9 .2 2.3 .2-1.3 .2-2.4 .5 3.3 .2-.1 .2-7 .2 .4 .1 .6 .6-.4 .2-1.5 .2 1 .2-.6 .1-.6 .6-.4 .2 3.2 .2 4.8 .1-1 .2-.6 .6 1.6 .2 2.5 .1-1.9 .2 1.3 .2-.8 .6-.9 .2 0 .1 4 .2 1 .2-2.6 .6-2.6 .1-3.6 .2 .4 .2 4.9 .2 2.4 .6-5 .1-5.8 .2-3.4 .2-6.3 .2-.6 .5-2.1 .2 0 .2-2.9 .2 1.1 .2 .3 .5-2.6 .2-.2 .2 2.3 .2 1.2 .2-1.1 .5 4.7 .2 3.1 .2 1.3 .2 1.6 .2-1.1 .5-1.5 .2 .3 .2-2.6 .2-5.9 .2-2.8 .5 .5 .2-3.8 .2-1.1 .2-3.6 .1 .6 .6-3.7 .2 1.7 .2 4.2 .2-.6 .1-.9 .6 3.5 .2-.5 .2-2 .1 2 .2 2.5 .6 5 .2 6.4 .1-2.2 .2 .1 .2-3.1 .6 1.5 .2-6.7 .1-4.6 .2-4 .2-5.3 .6-.7 .1 4.3 .2-.3 .2-.5 .2 1.7 .6 8.6 .1-15.3 .2 5.9 .2 9.4 .2 6.2 .5 5.3 .2 9.9 .2 16.1 .2 3.5 .2-6.9 .5-13.7 .2-9.6 .2 6.1 .2 10.9 .2 21.5 .5 7 .2 25.2 .2-4.9 .2-3.5 .2-22.3 .5 33.3 .2-6.9 .2-1.3 .2 13.6 .2-.2 .5-5.6 .2-21.3 .2-7.4 .2-6.8 .1 4.1 .6 13.2 .2-5.5 .2-2.3 .1 1.6 .2-.5 .6 12.4 .2-14.4 .2 5 .1-1 .2-4.1 .6-1.1 .2 1.5 .1 7.6 .2-29.4 .2-8.2 .6-1 .2 15.1 .1 .3 .2-11.5 .2-5.6 .6-2.6 .1 .8 .2-4.1 .2-12.3 .2 13.8 .5 .3 .2 1.3 .2 .7 .2 13.1 .2-8.7 .5 .1 .2 1.3 .2-.7 .2 3.1 .2-4.9 .5 2.5 .2-2.7 .2-1.5 .2-3.9 .2-3.3 .5-2.5 .2-10.5 .2-4.9 .2 2.3 .2-4.8 .5-2.7 .2 .6 .2 .2 .2-6.8 .1 .4 .6 .2 .2-.7 .2-1.8 .2 15.8 .1-5 .6-4.7 .2 8.5 .2-4.7 .1-4.7 .2-7.9 .6 2.5 .2 6.6 .2-4.8 .1 2.3 .2 4 .6-.1 .2-8 .1-10.2 .2-7 .2 2.5 .6-9.9 .2 .7 .1-2.2 .2 3.9 .2-1.6 .6 3.6 .1 4.1 .2 2 .2 4.3 .2 3.7 .5-1.3 .2 2.6 .2 1.5 .2 3.7 .2 1.3 .5-3.7 .2-5.2 .2 3.8 .2-3.3 .2-5.1 .5-7 .2-2.7 .2-4.8 .2-6.2 .2-4 .5-4.6 .2-1.4 .2-2.9 .2-.9 .2 1.6 .5-10.2 .2-.1 .2-12.9 .2-4.5 .1-2 .6-1 .2 7.6 .2-5.1 .2 5.4 .1 8.1 .6-.9 .2-4.6 .2 1.3 .1 6.4 .2 8.6 .6-.3 .2 5.9 .2-.2 .1-1 .2 1.1 .6-1.6 .2 5 .1-1.6 .2 2.6 .2 0 .6-.4 .1 1.4 .2 .6 .2-.1 .2-5.1 .6 .5 .1 6.1 .2-5.6 .2-1.5 .2-3.1 .5-.3 .2-2.5 .2-3 .2 4.5 .2-7.7 .5-5.9 .2 2.6 .2-3.1 .2 17.2 .2 7.4 .5 2.3 .2 5.7 .2 7.3 .2-3.1 .2-1.3 .5 .8 .2 1 .2 3.8 .2 2.3 .2 3.3 .5 .1 .2 6.4 .2-3.4 .2-2 .1-12.5 .6-8 .2-1.6 .2-1.5 .2-2 .1-6.1 .6 2 .2 6.2 .2 2.2 .1-7.8 .2 5.3 .6-.3 .2 1 .2-.2 .1 1.4 .2-.2 .6-2.9 .2-2.3 .1 5 .2-8.6 .2 3.4 .6 .7 .1-3 .2-8.9 .2 2.1 .2-2.7 .6-2.9 .1-1.4 .2-3.4 .2-10.2 .2 3.9 .5-4.1 .2-2.7 .2 .3 .2 1.2 .2-.2 .5 6.2 .2 6.6 .2-1.8 .2 1.9 .2-3.1 .5-.3 .2-1.8 .2-6.3 .2-.4 .2-5.7 .5-.6 .2-7.1 .2-3.8 .2-4.5 .2-4.3 .5-1.3 .2-1.4 .2-4.4 .2 1.6 .1 6.4 .6-1.6 .2-1.9 .2 1.2 .2-1.7 .1 1.6 .6-1.6 .2-7.1 .2 3.2 .1 .2 .2-3.2 .6-5.1 .2-3.6 .1-3.3 .2 0 .2 .7 .6 3.1 .2 .7 .1 .1 .2 5.5 .2 3.4 .6 5.8 .1 3.1 .2 3.9 .2 .8 .2 4.1 .6 4 .1 5.9 .2 3.6 .2 7.7 .2-1.8 .5 1.2 .2-3.5 .2 4.9 .2-1.2 .2-1 .5-5.2 .2-4.4 .2-1 .2 1.7 .2 1.8 .5-4.1 .2 6.1 .2 1.8 .2-.1 .2 2.9 .5 .2 .2-.7 .2 1.5 .2-2.4 .2-4 .5-3.9 .2-4.4 .2 1.2 .2-2.6 .1 .3 .6-3.3 .2-1.7 .2 .5 .1-.3 .2-.4 .6 3.6 .2 2.1 .2 2.1 .1-1.7 .2 2.9 .6-5.3 .2 .3 .1-3.5 .2-.7 .2 4.2 .6-.9 .2 .8 .1 .7 .2 1.6 .2-1.5 .6-3 .1 3.9 .2 2.3 .2-.2 .2-3.2 .6 1 .1 2.3 .2 2.8 .2 .8 .2-2.2 .5 3.5 .2-1.6 .2-.6 .2-2 .2 .7 .5-2.2 .2-3.9 .2 1.4 .2-2.5 .2-3.5 .5 4.2 .2-6.7 .2 2 .2 .8 .2 2.1 .5-7.4 .2-.8 .2-3.1 .2-5.4 .2-1.3 .5-3.8 .2-4.9 .2 .2 .2-6.5 .1 .3 .6-1.7 .2 3.7 .2-.5 .1 3.8 .2 1.1 .6 2.2 .2 1.1 .2 4.7 .1 2.1 .2 .2 .6 1.8 .2-2.3 .1 .6 .2 2.5 .2-1.3 .6 3.7 .2 6 .1 .4 .2 .9 .2-6.4 .6-1.2 .1 4.7 .2-1.2 .2 1.3 .2 2.7 .5 5 .2-1.7 .2-2.8 .2-2.7 .2-4.2 .5 1.7 .2 2.9 .2 .3 .2-3.1 .2 1.4 .5 3.4 .2-1.5 .2 2.7 .2-2.6 .2-1.9 .5 2.9 .2 .4 .2-.7 .2-.5 .2-1.7 .5-1.9 .2-1.1 .2-2 .2 1 .1-2.9 .6 .6 .2-2.1 .2-2.1 .2 .4 .1 2.8 .6 1.2 .2 1.7 .2-.9 .1-2.2 .2 2.6 .6 .3 .2 5.2 .2 6.2 .1 1.6 .2 1.4 .6 4.4 .2 3.3 .1 1.5 .2 3.1 .2-3 .6-3 .1 .7 .2-1.3 .2 2.4 .2-4.9 .6 4.9 .1 1.6 .2-1.8 .2-5.2 .2-5.1 .5 1.9 .2 1.6 .2-2.6 .2-.7 .2-3.8 .5-2.4 .2-4.9 .2-1.2 .2-5 .2-2.6 .5-2.8 .2-4.1 .2-2.8 .2 2.3 .2 1.4 .5 4.8 .2 1.1 .2-4.1 .2 3 .2-7.2 .5-.3 .2-3.9 .2-.8 .2 3.1 .1-.7 .6 2.1 .2 2.7 .2-.1 .2 5.2 .1 1.3 .6 6.4 .2 3.3 .2 1 .1 1.2 .2-.4 .6-7.3 .2-5.2 .2 4.5 .1-3.7 .2-3.2 .6 7 .2 .9 .1 6.8 .2 1.6 .2-.9 .6 2.3 .1-2.8 .2-7.2 .2-5.9 .2-3.1 .6-4.2 .1 2.1 .2 2.5 .2-3.2 .2 1.7 .5 5.9 .2-2 .2 4.4 .2 8.6 .2 1.8 .5 1.5 .2-.5 .2-2.6 .2 10.2 .2 .6 .5 1.1 .2 5 .2 7.7 .2 7.1 .2-1.4 .5-.6 .2 8.4 .2 3.4 .2 .7 .2-2.6 .5 1.7 .2 5 .2-4.6 .2-1.3 .1-9.3 .6-11.5 .2 .4 .2 1.2 .2 4.6 .1 7.8 .6 .2 .2 4.6 .2 6.6 .1 4.1 .2 3.5 .6 1 .2 2.6 .1 3.3 .2 .7 .2-.4 .6 7.5 .2-.9 .1-8.8 .2-5.3 .2 5.7 .6 .6 .1 12.3 .2 5 .2-1.6 .2-.1 .6 4.6 .1-5.7 .2-5.7 .2-.2 .2-5.5 .5-.2 .2 5 .2-8.5 .2-1.2 .2-.8 .5-7.3 .2-10.1 .2-.9 .2 1.6 .2-2 .5 6.1 .2 4.5 .2 10 .2 5.2 .2-2.4 .5-10.1 .2 9.4 .2 8.9 .2 .9 .2-.1 .5 3.4 .2 3.3 .2 8 .2 3.9 .1-2.7 .6-3.3 .2 2.9 .2 2.3 .2 1 .1 2.8 .6-.8 .2-5.4 .2-4.8 .1 6.8 .2 3.1 .6-.8 .2-1 .1 4 .2 6.6 .2 4.8 .6 7.1 .2 7.8 .1 5.1 .2-3.3 .2-2.5 .6-1.6 .1 3.7 .2-8.1 .2-2.4 .2-.1 .6-3.7 .1-1 .2 3.5 .2-1.1 .2 .5 .5 .3 .2 .3 .2 4.8 .2 5.5 .2 1.7 .5-.9 .2 1.3 .2 10.5 .2 6.4 .2-4.9 .5-10.7 .2-.7 .2-3.9 .2-3.2 .2 1.2 .5 6 .2-3.5 .2 0 .2 1.5 .2 1.7 .5-2.7 .2-1.5 .2 1.3 .2-1.3 .1 3.8 .6-.9 .2-2.6 .2 .3 .1 3.7 .2-3.1 .6 1.7 .2-1.4 .2-2.7 .1-2.2 .2 1.9 .6 4 .2-2.6 .1-5.9 .2-7.3 .2 2.8 .6-4.8 .2-4.7 .1 1.1 .2-1 .2-3.6 .6-10.2 .1 4.3 .2-4.4 .2-1.3 .2 3 .5 1.1 .2 3.2 .2 4.5 .2 .6 .2 7.3 .5-3.4 .2 1.5 .2 2.4 .2-.9 .2-4.9 .5 6.5 .2 3.4 .2-3.4 .2 4.3 .2 5.2 .5 7.8 .2 1.1 .2-2.6 .2-4.4 .2-2.3 .5-1.2 .2 .1 .2 2.2 .2-2.5 .2 7 .5 5.1 .2 7 .2-2.4 .2 6.4 .1-.4 .6-2.1 .2 5 .2-1.2 .1 13.3 .2 1.4 .6-7.6 .2-4.6 .2-4.2 .1 4.6 .2 4.6 .6 6.7 .2 8 .1 6.7 .2-3.9 .2 3.7 .6-.2 .2-4.2 .1-5.5 .2-.7 .2 3.6 .6-6 .1-7.6 .2 1.7 .2 3.6 .2 10.4 .5 6.6 .2 2 .2 4 .2-.4 .2-2.2 .5-3.3 .2-2.3 .2 4.9 .2-2.5 .2-2.4 .5-4.8 .2-9.4 .2 1.5 .2-2.9 .2 .1 .5 5 .2 3.7 .2-5.5 .2 1.2 .2 2.6 .5-2.5 .2-5.3 .2-4.6 .2-2 .1 2.2 .6 5.7 .2 3.4 .2 11.3 .2 3.4 .1 5.4 .6-2.2 .2-5.9 .2-3.3 .1-1.5 .2 4.9 .6-1.4 .2 4.8 .2-2.1 .1 7.9 .2 4.3 .6-.4 .2-2 .1 4.2 .2-9.3 .2 2 .6 1.7 .1-1.3 .2 1.6 .2 .9 .2-5.9 .6-1.3 .1-.5 .2 .8 .2-.7 .2-1.7 .5-2.7 .2 0 .2-.2 .2 7.9 .2-4.7 .5-7.4 .2-1.6 .2 5.3 .2-5.5 .2 .4 .5 2.1 .2-3.3 .2-10 .2-7.3 .2-.3 .5-3.5 .2-.2 .2-1.9 .2 1.5 .2-1.1 .5 7.1 .2 1.5 .2 .3 .2 4.4 .1 4 .6 4.5 .2 1.9 .2 3.9 .2-.1 .1-.7 .6 3.6 .2 .7 .2 .6 .1 1.9 .2-1.2 .6 4.8 .2 1.1 .2 0 .1 2.6 .2 1.8 .6-.7 .2-6.7 .1 4.8 .2-5 .2-.8 .6-10.3 .1-4.7 .2-6.7 .2-2.8 .2-2.2 .6-2.7 .1-5.1 .2-8.9 .2-2.2 .2-1 .5 4.7 .2 2.8 .2 4.7 .2 4.5 .2-2.4 .5 7.1 .2-1.8 .2 6 .2-1.6 .2 2.7 .5 1.2 .2 .9 .2 .3 .2 .1 .2 1 .5-9 .2-4.2 .2-1 .2 .7 .2-.8 .5-2.9 .2 5 .2 2.2 .2 5.2 .1-1.3 .6-1.2 .2-9.6 .2-1.7 .2-3.8 .1-2.8 .6 2 .2 2.8 .2-.1 .1 2.1 .2-.4 .6-.2 .2 1.5 .1 1 .2 2.1 .2-2.1 .6 .8 .2-.2 .1-1.6 .2-3.6 .2-2.2 .6-.9 .1 2.2 .2-.6 .2-4.4 .2 1.5 .6-4.4 .1-1.8 .2-2.2 .2-3.9 .2 2.3 .5 5.2 .2 4.7 .2-8.2 .2 6.4 .2 .6 .5-5.7 .2-3.4 .2 4.1 .2-5.3 .2 .7 .5 1.2 .2-2.6 .2-2.3 .2-1.3 .2-4.2 .5 2.4 .2-1.7 .2 .4 .2 2.6 .2-1.8 .5-.5 .2 .5 .2 4.8 .2 1.8 .1 .7 .6 4.7 .2-2.6 .2-1 .2-4.4 .1 .8 .6-3.5 .2 9.1 .2-6.2 .1 3.9 .2 4 .6-.5 .2-4.4 .1 4.3 .2 6.7 .2 2.2 .6-4 .2 5.6 .1 1.5 .2 5 .2 .2 .6-7.3 .1 .2 .2 2 .2-2 .2-2.5 .6 8.9 .1-3.6 .2-5.5 .2-1.8 .2-1.7 .5 1.1 .2 4 .2 1 .2 .8 .2 3.3 .5-2.8 .2 .6 .2-2.5 .2 2.4 .2 2.4 .5 5.8 .2-3.4 .2-1.8 .2 2.7 .2-1.6 .5 6 .2 1.3 .2 .8 .2-3.6 .2-1.8 .5-2.9 .2-3.5 .2-4.5 .2 .9 .1-4.9 .6 5.5 .2-13.3 .2-7.6 .1 3.3 .2 .5 .6 14.9 .2 3.4 .2-.6 .1-1.2 .2 .9 .6-5.5 .2 2.3 .1-4.4 .2 1.6 .2-1.3 .6-2.5 .2 5.2 .1 .7 .2-1.8 .2 1 .6 .5 .1 3.2 .2-8.3 .2-13.8 .2 1.9 .5 1 .2-5.8 .2-8.2 .2-1 .2-2 .5-6.7 .2 3.4 .2 1.3 .2 .6 .2-2.8 .5 4.9 .2-2 .2-2.8 .2 4.7 .2-.8 .5 .4 .2-2.2 .2-3.1 .2-6.9 .2 .5 .5-8.6 .2-11.2 .2-3.5 .2-4.4 .1 2 .6-4.8 .2 .5 .2-11.1 .2-7.3 .1-.9 .6 4.6 .2 2.2 .2 3.7 .1 3.7 .2 1 .6 9.4 .2 1.2 .2 10.4 .1 4.4 .2-1 .6-3.2 .2 4.1 .1 3.5 .2 5.9 .2-1.8 .6-2.5 .2 4.4 .1-1.7 .2-3 .2-3.3 .6-14.7 .1 5.8 .2-5.3 .2 0 .2-2.6 .5 8.6 .2 3.5 .2 1.5 .2 1 .2 0 .5-2.2 .2 1 .2 2.4 .2-3.3 .2-3.9 .5-7.6 .2 .9 .2-.9 .2 3 .2 .5 .5 5.5 .2-2.4 .2 .9 .2-1.9 .2-4.2 .5-.5 .2 1.8 .2 .9 .2-3.7 .1-.6 .6-.7 .2 2.3 .2-.4 .2 1.3 .1-.8 .6 4 .2 7.5 .2 2.7 .1-.2 .2 7.2 .6-1.6 .2-5.1 .2 2 .1-.4 .2 .5 .6 4 .2 2.9 .1 2.6 .2-2.6 .2 2.6 .6 5.6 .1-3.9 .2-.7 .2 1.1 .2 7.9 .6 4.7 .1 .7 .2-2.9 .2 1 .2 .3 .5 1.5 .2 4.1 .2 2.1 .2-.9 .2-1.8 .5 1.6 .2-4.7 .2 .6 .2-6 .2-1.5 .5-1.1 .2 2.5 .2 3.8 .2 .2 .2 0 .5-3 .2-1.4 .2-2.8 .2-1.8 .2-6.4 .5-1.5 .2-4.7 .2-7.4 .2-3.1 .1-4.3 .6 2 .2-4.7 .2-4.4 .2-.1 .1-1.7 .6-1.4 .2-.3 .2 .7 .1-2.6 .2-2.3 .6-4.1 .2 .5 .1-3.4 .2 2.2 .2 4.3 .6-1.4 .2-.7 .1 2.8 .2-2.2 .2 1.5 .6 1.2 .1-1.8 .2-2.1 .2 1.7 .2 2.3 .6 2.8 .1 1.9 .2-2.5 .2 4.5 .2 4.4 .5-3 .2 2.1 .2 7 .2-.6 .2-3 .5-3.6 .2 .4 .2-4.1 .2 3 .2-.8 .5 10.7 .2-1.6 .2 2.4 .2 9 .2 2.8 .5 1.5 .2 1.8 .2 3.5 .2 3.2 .2-4 .5-4.9 .2-6.2 .2-.9 .2 2.2 .1 .8 .6 3.3 .2-1 .2-2.3 .2-3.8 .1 .7 .6-7.3 .2 .5 .2-.1 .1-.1 .2-1.7 .6-2 .2-6.4 .1-7.5 .2 0 .2-.5 .6 4.6 .2 1.5 .1 4.7 .2-.8 .2 2.7 .6 1.6 .1 5.5 .2-1.1 .2 6.8 .2 9.5 .6 .3 .1 .7 .2-.3 .2-1.2 .2 1.2 .5-2.2 .2-5.2 .2 3.3 .2-4.4 .2-.3 .5 2.5 .2-3.2 .2-9.8 .2-6.8 .2-4.1 .5-5.5 .2-3.9 .2-2.7 .2 .4 .2 2.5 .5 2.4 .2-4.6 .2 1.5 .2-2.4 .2 3.8 .5 .7 .2-.7 .2 0 .2 1.7 .1 3.3 .6 .7 .2-.6 .2 10.6 .1 1.9 .2-1.3 .6 3.3 .2-.2 .2 5 .1 3.3 .2-3.1 .6-5.3 .2 1.2 .1-2.9 .2 2.7 .2-3.3 .6-3.7 .2 .6 .1 3.6 .2 6.2 .2 2 .6 2.5 .1 1.4 .2-3.8 .2-1.1 .2 .9 .6 .6 .1 3.5 .2-.6 .2-2.6 .2-5.2 .5 1.7 .2 1.9 .2 4.2 .2-.8 .2 .2 .5-6.2 .2 .9 .2-2.5 .2-3.6 .2 3.1 .5 3.2 .2 6 .2 3.8 .2 1.2 .2 3.4 .5-1.4 .2 2.4 .2-4.1 .2-1.8 .2-2.6 .5 4.5 .2 0 .2 3.9 .2 4.9 .1 4.3 .6-.4 .2 .7 .2 .4 .1-4.2 .2-.1 .6 1.1 .2-.1 .2-2.5 .1 2.9 .2 .3 .6-4.2 .2 .8 .1-1.5 .2-3.9 .2 .9 .6 0 .2-5.1 .1 6 .2 0 .2-.4 .6 .5 .1 4.9 .2 5.6 .2 3.5 .2 5.2 .5-.4 .2-5.2 .2-1.3 .2 .5 .2-.8 .5-11.7 .2 17.6 .2-7 .2-4.4 .2-.6 .5-5.7 .2-2.4 .2-10.8 .2 1 .2 8.7 .5 24 .2-7.5 .2-8 .2-18.2 .2 3.7 .5-31.7 .2 2.6 .2 3.1 .2 27.5 .1-1 .6-35.7 .2-.5 .2-7.6 .2-4.4 .1 8.2 .6 16 .2 2.7 .2 6.4 .1-7.4 .2 11.5 .6-4.9 .2 3 .2-7.2 .1 15.1 .2 18 .6 6.8 .2 .7 .1-27.1 .2 2.5 .2 8.6 .6-1.3 .1-13.6 .2 49.1 .2 12.4 .2 .3 .6-11.4 .1-1 .2 17.4 .2-1.5 .2-7.7 .5-.4 .2 3.4 .2 7 .2-30.2 .2-10.5 .5-2.9 .2 6.5 .2 .2 .2-1.7 .2-12.6 .5 10.3 .2 2.4 .2-7.8 .2-9.9 .2-5.1 .5 .6 .2 3.1 .2 3.6 .2 8.4 .2 1 .5 9.3 .2 1.5 .2-3 .2 5.7 .1-1.2 .6 7 .2 .6 .2 5.2 .2 1.9 .1-1.6 .6 4.5 .2-2.6 .2-16.3 .1 1.6 .2-1.7 .6-4.9 .2-.1 .2 5.1 .1 10.9 .2-.3 .6-7.9 .2 2 .1-.1 .2-6.1 .2 0 .6 6.5 .1 6.7 .2 2.9 .2-2.1 .2-1 .6 2 .1 1.9 .2-2.7 .2 4 .2 1.2 .5 3.9 .2 2.7 .2 4.5 .2-8.3 .2-.5 .5-4.2 .2-3.8 .2-2.4 .2-4.8 .2-1.5 .5 4.4 .2-5.9 .2 2.1 .2 2 .2 5.4 .5 2.8 .2-.2 .2 3.1 .2 0 .2-1.1 .5 3.3 .2 1.8 .2 1.1 .2-1.6 .1 4.6 .6 2.5 .2 4.9 .2 .8 .2 4.2 .1 .2 .6-2.1 .2 4.7 .2-2.9 .1-.1 .2 3.7 .6 3 .2 1.2 .1-9.4 .2-5.2 .2-3.6 .6-16 .2 .8 .1 3.1 .2-3.3 .2-.9 .6-10 .1 3.4 .2 2.6 .2-3.1 .2-1.6 .6-6.6 .1-.1 .2 1.2 .2 2.5 .2 .9 .5-5.3 .2 2.3 .2 2.6 .2 2.3 .2-.1 .5 11.6 .2 1.7 .2-4.2 .2 4.1 .2 9.6 .5 4.2 .2 1.2 .2-11.7 .2-7.5 .2-3.8 .5-3.5 .2-8 .2 2.8 .2-1 .2-1.7 .5-5 .2-3.4 .2-2 .2 1.9 .1 2.4 .6 6.5 .2 4.2 .2 1.7 .2 6.5 .1-1.7 .6 6.1 .2-1.2 .2-1.2 .1 8.2 .2 3.2 .6-2.7 .2 3 .1 11.8 .2-3 .2-.6 .6 1.5 .2-4.4 .1-4.8 .2-1.2 .2-2.6 .6 3.1 .1-3.1 .2 5.2 .2-6.2 .2-.1 .6 4.6 .1 5.9 .2 .3 .2 4.8 .2 2.7 .5 1.7 .2 3.4 .2 11 .2-3.9 .2-2.9 .5 1.9 .2-.6 .2-4.4 .2 2 .2-1.1 .5-9.4 .2 2.8" fill="none" stroke="#0070C0" stroke-width="4.1" stroke-linejoin="round" stroke-linecap="round"/><path d="M744.8 1305.6l.2-1 .2-4.2 .2-1.6 .5-5.2 .2-7.2 .2 .9 .2 4.4 .2-3.8 .5-4.1 .2-2.6 .2 3.5 .2-2.8 .1-2.5 .6 4.9 .2-3.5 .2 .5 .2-.1 .1 .8 .6-7.4 .2 2.7 .2 .4 .1 5.7 .2-2.9 .6-1.7 .2-3.8 .1-1.4 .2-1.4 .2 1.6 .6 3.2 .2-2.8 .1 2 .2 5.1 .2 5.9 .6 4.9 .1-.6 .2-5.4 .2-4.6 .2 .6 .6-3.5 .1 5.1 .2-5.3 .2 2.9 .2-7.2 .5-4.2 .2 7.1 .2 3.2 .2-3.8 .2 3.4 .5 .7 .2-.9 .2-2.5 .2-1.1 .2 .9 .5-1.6 .2 2.2 .2-2.1 .2-.2 .2-2.5 .5-3.1 .2-1.4 .2 2.5 .2 3.1 .2 1.5 .5-3.7 .2 1 .2-7 .2-.5 .1 .6 .6 7 .2 3.6 .2-1.1 .2-.2 .1 .7 .6 5.7 .2-1.1 .2-.1 .1 2.8 .2-1.4 .6 .7 .2 1.3 .1-.8 .2 2.9 .2 1 .6 2.3 .2 4.4 .1 .3 .2 1.4 .2 .6 .6-.3 .1-3.4 .2 .5 .2-1.1 .2-1.4 .6-6.4 .1-2.8 .2 4.1 .2-5.1 .2 0 .5-4.4 .2-.4 .2-1.7 .2-1.8 .2-.5 .5 .6 .2-3.8 .2-.5 .2-1.9 .2 1.6 .5-1.4 .2 .5 .2 5.3 .2 1.3 .2-1.3 .5 1.6 .2-7.1 .2 1.7 .2 1.3 .2-1.9 .5 3.8 .2 4.7 .2-1 .2 2.7 .1 0 .6-3 .2 2.8 .2 5 .1-.4 .2-.7 .6 0 .2-4 .2 1.8 .1 .9 .2-.6 .6-5.2 .2-3.9 .1 2.3 .2-1.2 .2-1.7 .6 0 .2-3.5 .1-.2 .2 1 .2 1.3 .6 .2 .1-3.4 .2-1.6 .2 5 .2 2 .5-4.5 .2 .6 .2 3.5 .2-6 .2-1.4 .5-.7 .2-3.7 .2 1 .2 2.2 .2 .4 .5 4.2 .2 1.4 .2 2.5 .2 1.5 .2-.5 .5 6.5 .2 1.4 .2 4.5 .2 1 .2-.1 .5 2.8 .2 .5 .2 1.6 .2 0 .2-.9 .5 5.6 .2-1.2 .2-1.7 .2-3.6 .1-.1 .6 6.8 .2-2.2 .2-1.4 .1 2.4 .2-1.2 .6 .6 .2 2.4 .2-4.4 .1 3.2 .2 1.1 .6-6 .2 2.8 .1 1 .2-3.8 .2 .2 .6 4.2 .2 3.4 .1 4.7 .2 .2 .2-.8 .6 2.4 .1-.6 .2 0 .2 .6 .2-.5 .5 4.4 .2-.7 .2 .3 .2 .2 .2-.5 .5 1.3 .2-.8 .2-1.6 .2 2.9 .2-.3 .5-6.2 .2-1.9 .2-1.4 .2 1.4 .2 .6 .5 3.8 .2-2.3 .2 .3 .2 2.7 .2-.7 .5 2.8 .2 .6 .2 3.9 .2 2.2 .1 2.1 .6-10.2 .2-7.1 .2 5.9 .2 5 .1 1 .6-1.6 .2 3.9 .2 3.3 .1 .9 .2-.4 .6 2 .2 2.2 .2 .4 .1 2.2 .2-.3 .6 .4 .2-1.2 .1 1.1 .2-.1 .2 .2 .6-1.9 .1 5.9 .2 4.4 .2-1.3 .2-.3 .6-2.2 .1-.1 .2 .7 .2 .8 .2-1.4 .5 2.4 .2 1.7 .2-2.4 .2-.6 .2-.5 .5-7.6 .2-1.1 .2 1.8 .2 1.8 .2-.5 .5 9.1 .2 1.6 .2-.1 .2-2.5 .2 0 .5-3.6 .2-1.1 .2-2.6 .2-.5 .2-1.5 .5-11.8 .2-3.2 .2-4.9 .2-1.3 .1-.6 .6-10.1 .2-3.8 .2-3.8 .2 .4 .1 .1 .6 4 .2 .6 .2 4.6 .1-1 .2-.1 .6 6.8 .2-4.6 .2 .4 .1 1.3 .2 2.2 .6-.2 .2 5.3 .1-1.4 .2 .2 .2 1.9 .6-8.4 .1-5 .2-.9 .2 1.6 .2 1 .6 2.8 .1 1.5 .2 .3 .2 1.6 .2-.8 .5-7.9 .2 1.7 .2 8 .2 .9 .2-1.7 .5 4.6 .2 2.8 .2 4.2 .2-.3 .2-.4 .5 1.9 .2 .6 .2-1.3 .2-.3 .2 .3 .5 7.7 .2 1.3 .2-1.4 .2-.9 .2-.1 .5-2.8 .2 2.6 .2 1.6 .2 .8 .1-.9 .6-6.1 .2 1.5 .2 1.7 .2 2.3 .1 1.8 .6-2 .2 .6 .2 .7 .1-1.3 .2-1.1 .6-1.1 .2 4.5 .1 3.9 .2-.7 .2-1 .6-2.3 .2-3.4 .1-2.5 .2 1 .2 .4 .6-9.8 .1-.5 .2-1.7 .2-.2 .2-1 .6-1.1 .1 2.1 .2 2.6 .2 0 .2 .6 .5-1.7 .2 3.2 .2 2.5 .2-1.1 .2 1.1 .5 3.6 .2 4.7 .2 .3 .2 .2 .2 .6 .5 3.4 .2-.2 .2 4.3 .2 1 .2 2 .5-4.9 .2 1.1 .2 .7 .2-2 .2-1 .5-5 .2-3 .2-2.7 .2-.9 .1-1.1 .6-6 .2-2.2 .2-2.6 .2 .1 .1 .1 .6-.1 .2 1 .2-3.1 .1-.6 .2-.7 .6-2.6 .2 1 .1 1.5 .2 .9 .2-.6 .6-7.7 .2-2.7 .1-2.2 .2-.6 .2-.4 .6-9.4 .1-1.8 .2 .7 .2-.3 .2-1.5 .6 3.8 .1 3 .2 5.8 .2 .2 .2 .8 .5-6 .2-2.4 .2-1.1 .2-.6 .2-1.2 .5 5.2 .2-2.5 .2-3.2 .2 0 .2-.6 .5-14.1 .2 4 .2-.8 .2 .8 .2 2 .5-.6 .2 4.3 .2-3.9 .2 .3 .2-1 .5-12.5 .2 1.3 .2 2.4 .2 1 .1 .1 .6-6.6 .2 1.1 .2 5.5 .1-1.3 .2 .3 .6 8 .2-3.1 .2 3.3 .1-.8 .2 .8 .6-7.2 .2-8 .1-5.3 .2-.3 .2-.2 .6-6.7 .2-1 .1 1 .2 .5 .2-1.5 .6 7.5 .1-3.9 .2 1 .2 .1 .2-.5 .5 5 .2 2.1 .2 .2 .2 .4 .2-1.4 .5 .2 .2-2.5 .2 1.3 .2 1.1 .2 .7 .5 3.4 .2-1.9 .2 .2 .2-1.7 .2-.4 .5 2.9 .2-3.4 .2-.2 .2-1.8 .2-.5 .5-6.3 .2-3.2 .2 .3 .2 .2 .1 .5 .6-7.5 .2 2.5 .2 1.6 .2-.2 .1-2 .6-8.4 .2-.4 .2-1.8 .1 .7 .2 .2 .6-6 .2 .3 .2 .8 .1 .5 .2 .6 .6-4.7 .2 1.1 .1 2 .2 1 .2 .6 .6-6 .2-2.7 .1-1.6 .2-.4 .2 .7 .6-10 .1 4.6 .2-.6 .2 .1 .2-.2 .5 7.7 .2-1.8 .2-3.2 .2-1.1 .2 1.2 .5-9.6 .2-.6 .2-1.5 .2-1.5 .2-.3 .5-14.8 .2 2.2 .2 6.3 .2-.1 .2-1.1 .5 6.4 .2-1.5 .2 4.7 .2-2.6 .2 .8 .5 9 .2 5 .2-.2 .2 1 .1-.7 .6-.1 .2 2 .2-1.4 .2 .2 .1 .9 .6 7.9 .2 1.6 .2 2.4 .1 .6 .2 .1 .6 6.8 .2-1.7 .2-.6 .1 1 .2 .2 .6-1.1 .2 3.6 .1-6.2 .2 .6 .2 .9 .6-3.3 .1 3.8 .2-4.9 .2 1.1 .2-.1 .6-3 .1 .6 .2-5.4 .2-.4 .2 1.5 .5-6.6 .2-4.1 .2 2.8 .2 .5 .2-.5 .5 1.2 .2-.9 .2 2.5 .2 .5 .2 1.1 .5 .3 .2-3.5 .2 3.6 .2-.9 .2-.3 .5 2.2 .2 .7 .2 .5 .2-.7 .2-1.6 .5-.1 .2 .7 .2-3.7 .2-.9 .1-2.4 .6-13.8 .2-.5 .2 2 .2 .4 .1-1.9 .6-5.3 .2 3.5 .2-.9 .1-.7 .2-1.1 .6 6.8 .2 .5 .2 5.9 .1 2.8 .2 1 .6 1.5 .2 2.8 .1 1.9 .2 0 .2 .4 .6 1.5 .1-5.4 .2-3 .2-1.5 .2 .6 .6 6.6 .1-.5 .2-1.9 .2 .6 .2 2.5 .5-4.2 .2-.1 .2 1 .2-.9 .2-.6 .5-1.6 .2-3.8 .2-6.7 .2-.3 .2-1.6 .5-6.5 .2-.8 .2-.9 .2-3.4 .2-1.4 .5-8.3 .2-4.8 .2-5 .2-.7 .2 .9 .5-8.9 .2 .4 .2 .9 .2-.1 .1 .7 .6 2.2 .2 4 .2 6.1 .2 .1 .1-.9 .6 6.5 .2-2.2 .2 3.4 .1-1.5 .2-1.5 .6 11.1 .2 4.6 .1 1.1 .2-.1 .2 1.3 .6 6.2 .2 .8 .1-2.1 .2-1.9 .2-.1 .6-1.8 .1-1 .2-3.3 .2-1.2 .2 .6 .6-.2 .1-.9 .2-1 .2-2 .2 1.8 .5 5.7 .2 7.2 .2-1.7 .2 1 .2 3.8 .5 3.3 .2-.4 .2 5.1 .2 .7 .2 1.7 .5-3.3 .2 6.4 .2-3.8 .2-3.6 .2 .3 .5 1.5 .2 3.8 .2 3.1 .2-1.2 .2 1.2 .5-2.6 .2-2.5 .2-4.1 .2 2.7 .1 1.2 .6-6.5 .2-3.5 .2 .3 .1-1.1 .2 .5 .6 4.2 .2-4.5 .2-2.2 .1 .3 .2-.7 .6-3.7 .2-1.7 .1 1.6 .2 0 .2-1.8 .6 8.7 .2 2.1 .1 .9 .2-1 .2-.4 .6-.7 .1-4.1 .2-1.1 .2-.7 .2 .1 .6-4.7 .1 2.9 .2-2.2 .2-.7 .2-1.5 .5-8.7 .2-.3 .2-1.2 .2-.1 .2-1.6 .5-.8 .2-2.8 .2-1.1 .2-.2 .2-.2 .5 1.9 .2-2.6 .2-.3 .2-.6 .2-.3 .5-4.2 .2-2.7 .2-1.9 .2-1.2 .2 1.1 .5-2.6 .2 2.8 .2 1 .2 .4 .1-.5 .6 .6 .2 2.8 .2-.2 .1 1 .2-2.4 .6 2.6 .2 .5 .2-.8 .1 2.4 .2-.4 .6 4 .2-.9 .1 2.2 .2-3 .2 0 .6 3.7 .2 .9 .1-2.7 .2-1.5 .2-.5 .6 1.6 .1-3.2 .2-5.8 .2-1.9 .2-1.3 .5-1.7 .2 1.2 .2 .1 .2-1.8 .2 1.4 .5 4.1 .2-.6 .2-.6 .2-1.5 .2 .9 .5-3.4 .2-2.3 .2-.9 .2 1.5 .2 1.3 .5-4.3 .2-1.6 .2-.6 .2-1.6 .2 1.4 .5-5.2 .2 1.5 .2-3.4 .2-.5 .1 0 .6 .3 .2 .9 .2 3.7 .2 7.5 .1 .3 .6 6.7 .2 5.4 .2-2.3 .1-.5 .2 .5 .6-2.1 .2-.6 .2 1.3 .1-2.3 .2 .6 .6-3.3 .2-.9 .1-.9 .2-1.4 .2 .7 .6-10 .1-.6 .2 1.3 .2-2.6 .2 0 .6-1.6 .1-2.7 .2-2.2 .2-2 .2-1 .5-3.8 .2-3.9 .2-3.8 .2 2.6 .2 .4 .5-5.2 .2-1 .2 1.5 .2 3.3 .2-.8 .5-5.1 .2-2.5 .2 .2 .2-.6 .2 1.2 .5-2.8 .2 1.4 .2-1.3 .2-2 .2 1.1 .5 1.4 .2-.7 .2 1.3 .2 1.9 .1 1 .6-.7 .2-5.7 .2 .5 .2 5.7 .1-1.4 .6-.1 .2-2.9 .2 2.1 .1 1.7 .2-1.6 .6 1.9 .2 .9 .2 2.6 .1 .4 .2-.8 .6-3.7 .2 1.4 .1-3.3 .2 3.4 .2 0 .6-1.6 .1 2.6 .2 1.4 .2-2.2 .2-.9 .6-1.3 .1 .8 .2-.8 .2 0 .2 .5 .5-4.3 .2 .8 .2 .7 .2-4.1 .2 .2 .5-4.6 .2-1.3 .2-2.3 .2 .4 .2-.9 .5-2.3 .2-5 .2-1.1 .2 .1 .2 .8 .5-.1 .2 .7 .2 2.1 .2-5.2 .2 2 .5-4.8 .2-.9 .2-.5 .2-2.1 .1-.6 .6-1.5 .2 1.7 .2 2.6 .2 .4 .1 .7 .6 4.6 .2-1.3 .2-.5 .1-.7 .2-.6 .6-.5 .2 8.8 .1 .9 .2 5.2 .2 .6 .6 3.9 .2 4.2 .1 4.6 .2 3.8 .2-.1 .6 4 .1 .9 .2 3.1 .2 .5 .2-.3 .6 3.9 .1 5.2 .2-4 .2 .2 .2-.2 .5 3.1 .2-2 .2 .4 .2-1.4 .2-1.1 .5 7.5 .2-1.2 .2-2.6 .2-3.8 .2-1.1 .5-.6 .2-2.4 .2 2.3 .2-.4 .2-.7 .5-6.5 .2-4 .2-.3 .2-6.7 .2-.4 .5 1.4 .2 1.4 .2 4.4 .2 3.3 .1-.6 .6-1.9 .2 2.3 .2-4.2 .2-3.5 .1 1.1 .6 0 .2-.7 .2-1.5 .1 2.4 .2 .2 .6 4.4 .2 1.5 .1 .4 .2 2.2 .2 .3 .6 2.6 .2-1.3 .1-.3 .2-2.2 .2-1.8 .6-1.2 .1-.9 .2-1.4 .2 2.5 .2 .3 .6-1.9 .1-2.5 .2 1.8 .2-.5 .2 .5 .5-2.3 .2-1.7 .2-1.7 .2-1 .2-.5 .5-1 .2 .1 .2 .6 .2-.2 .2 .7 .5 .3 .2 .3 .2 .2 .2-.7 .2-.5 .5-.2 .2-.9 .2 .6 .2-2.2 .2 .9 .5 1.9 .2-1.6 .2-1.5 .2-.9 .1-.2 .6 .3 .2 .3 .2-2 .1 .7 .2 .5 .6 3.2 .2 4 .2 4.6 .1 3.2 .2-1.3 .6 1.6 .2-.3 .1 .4 .2 2.3 .2-.1 .6-.8 .2-.2 .1 .2 .2-1.8 .2-1.1 .6-2.1 .1-3 .2 .5 .2 2.7 .2-.3 .5 .6 .2 .4 .2 2.5 .2 1.9 .2-1.5 .5-2.4 .2-2.2 .2 .1 .2 1.5 .2 .3 .5-1.2 .2 .1 .2-.1 .2 1.5 .2-.3 .5-1.2 .2-1.5 .2 .3 .2 2.3 .2 .1 .5-1.8 .2-.1 .2 .5 .2-1.5 .2-.2 .5 .5 .2 .4 .2-1.1 .2 2.1 .1 .2 .6 0 .2 3.1 .2 2.8 .1 3.1 .2 .9 .6 5 .2 .2 .2 2 .1-.3 .2 .8 .6 .3 .2 0 .1 .7 .2-1.8 .2 .8 .6 .8 .2-.7 .1 1.7 .2 1 .2 0 .6-1.3 .1-2.2 .2-.7 .2-1.5 .2-1.5 .5-.5 .2-1 .2 1.6 .2-1.6 .2-1.1 .5 3.9 .2 2.7 .2-.6 .2 2.1 .2 .1 .5 .8 .2-2.1 .2-1.6 .2 0 .2-.5 .5 1.8 .2-1.2 .2-.4 .2-.7 .2 .7 .5-4.4 .2-1.4 .2-1.3 .2-.7 .1-.4 .6-3.5 .2 .8 .2 2.2 .2 2.2 .1-1.5 .6 3.7 .2-2.6 .2-.7 .1 .7 .2 .9 .6 2 .2 2.3 .2-.6 .1-1.5 .2 .4 .6 4 .2 .1 .1 1.2 .2 1.1 .2-.8 .6 .6 .1 .6 .2-1.6 .2 2 .2 .5 .6 .8 .1 .3 .2 2.7 .2-2.6 .2-.3 .5-.9 .2-1.3 .2-.2 .2 .9 .2-.5 .5-.1 .2-2.1 .2-2.2 .2-.7 .2-.4 .5-4.7 .2 1.4 .2 3.1 .2 .1 .2-.4 .5-1.8 .2 .1 .2 3 .2-.3 .2-.7 .5 2.9 .2 2.2 .2 1 .2-1.1 .1-.4 .6-.6 .2-.3 .2-.1 .2 .6 .1-.7 .6-.4 .2 .5 .2-.4 .1-1.5 .2 .4 .6-.1 .2-2.1 .2 1.2 .1-1.3 .2-1.6 .6-.9 .2-3 .1-1.1 .2 0 .2-.7 .6 1.2 .1-.1 .2-.7 .2 .3 .2-.4 .6 .2 .1 .3 .2-.1 .2 1.9 .2 .9 .5 1.6 .2 .1 .2-.5 .2 .3 .2 .1 .5-2.1 .2-.8 .2 2.4 .2-.1 .2 .3 .5 .5 .2-.8 .2 .1 .2-1.4 .2 .8 .5-2.3 .2-1.5 .2-1.3 .2-.6 .2 0 .5 3.8 .2 2.2 .2-.6 .2-2.7 .1-.2 .6 1.7 .2-.6 .2 3.3 .2 1 .1 .3 .6-.7 .2 .3 .2 1 .1-1.9 .2-1 .6 .7 .2 2.6 .1 .8 .2 2.6 .2 .9 .6 .4 .2 .5 .1-1.1 .2-1.9 .2 2.3 .6 1.6 .1 .4 .2-2.2 .2 .7 .2-.6 .6-2.2 .1 .4 .2 .8 .2-2.3 .2-.2 .5-3 .2-1.7 .2-3.2 .2 .3 .2-.2 .5-2.7 .2 1.7 .2 .1 .2 .7 .2-.1 .5-3.4 .2-2.3 .2-1.4 .2 .4 .2 .8 .5-1.5 .2 .6 .2 1.6 .2 .7 .2-.1 .5 .4 .2-.4 .2-.4 .2 1.5 .1 .1 .6-1.8 .2 2.2 .2 2.3 .2 1.9 .1 1.6 .6 3.4 .2 .7 .2 1.4 .1 .1 .2 .1 .6 .8 .2 .7 .1 .4 .2 1 .2-1.8 .6-.3 .2-.8 .1-2 .2 .5 .2-.2 .6-4 .1-2.3 .2 .5 .2-.7 .2-.3 .6-1.4 .1-1.1 .2 1.2 .2 1.1 .2-.5 .5 .1 .2-1.4 .2 .6 .2-1.7 .2 1 .5-2.8 .2-2.2 .2 1.5 .2-.1 .2-1.2 .5 .7 .2 .8 .2 .2 .2-.7 .2 .1 .5 1.1 .2 2 .2 .3 .2-1.1 .2-.2 .5 1.5 .2-2 .2-.5 .2 1 .1-1.2 .6 2 .2-.6 .2 1 .1 .8 .2 1 .6 .6 .2-.2 .2 .1 .1-.5 .2-.5 .6-.4 .2 .4 .1 .8 .2-.4 .2 .6 .6 0 .2-1.2 .1-1.8 .2 .1 .2 0 .6-4.3 .1 .1 .2-.4 .2 1.8 .2-.3 .5-.7 .2 .2 .2-.9 .2-1.2 .2 .7 .5-3 .2-2.2 .2-2.2 .2 1 .2 1.7 .5-1.2 .2 .8 .2-.3 .2 1 .2 .9 .5-2.5 .2-1.4 .2-2 .2-.9 .2 .2 .5-.3 .2-1 .2 1 .2-.7 .1-1.8 .6 1.4 .2 .3 .2-.8 .2 .4 .1 .4 .6 2.8 .2-2.4 .2 .3 .1-.2 .2-.4 .6 .4 .2-1.8 .2 1.2 .1-.2 .2-.4 .6 .2 .2 .2 .1 .1 .2 0 .2 1 .6 1.2 .2-1 .1-.6 .2-.9 .2 1 .6 .3 .1-.5 .2 1.1 .2 .2 .2 1.3 .5 2.4 .2 3.1 .2 1.3 .2 .6 .2-.1 .5 0 .2 1.6 .2 .5 .2 .4 .2 .1 .5-.6 .2 .4 .2 2.4 .2-.4 .2-.7 .5-3.2 .2-.4 .2-.1 .2 .5 .2-.6 .5-1.4 .2-1.8 .2 1.3 .2-.3 .1-1.1 .6 2.8 .2 .6 .2-1.4 .2-1.5 .1-.7 .6 2.3 .2 1.3 .2-.3 .1-.4 .2-.6 .6 0 .2-1.7 .2 .1 .1-.8 .2-1.5 .6-.6 .2 1.4 .1 1 .2-.5 .2-1.5 .6 3.1 .1 .6 .2 1.8 .2 1.1 .2 1.6 .6 1.8 .1 .6 .2-.9 .2 1.4 .2-.6 .5-.9 .2 .3 .2-.6 .2-.1 .2-.8 .5-1 .2-.1 .2-1.3 .2-.3 .2-.4 .5 1.3 .2 1.6 .2 1.2 .2 .4 .2 1 .5-4.5 .2 1 .2 1.2 .2 .2 .2 1.8 .5-1.1 .2 .1 .2-1.4 .2-1.2 .1-.7 .6-5 .2 .3 .2-1.6 .2 .3 .1-.9 .6 .7 .2 .7 .2 .6 .1-.7 .2-.2 .6 .9 .2-.2 .1-.3 .2-.1 .2 .6 .6-.2 .2-1.4 .1-.1 .2-.7 .2 .4 .6 .6 .1 .6 .2-1.7 .2-.8 .2-.6 .6 .7 .1-.6 .2-1.5 .2-1 .2-.8 .5 .3 .2-.6 .2 1.1 .2-.3 .2-.5 .5 .8 .2-1.7 .2-.6 .2 .9 .2-.7 .5-1.3 .2 .9 .2 .6 .2-1.5 .2-1.1 .5-1.4 .2 1.5 .2 .6 .2 .2 .2 .3 .5 .9 .2 2.9 .2 .4 .2-.3 .1 .4 .6-5 .2 .4 .2-3.1 .2-1.6 .1 .7 .6-.8 .2 .2 .2 .1 .1-.4 .2-1.7 .6-.4 .2 .5 .1-.5 .2 .2 .2 .8 .6-2.2 .2-.8 .1 1.3 .2 1.5 .2 2.1 .6 1.3 .1 1.1 .2 .5 .2 .2 .2 1 .6 .1 .1-2 .2 .2 .2-.4 .2 1.2 .5 .4 .2 2.3 .2-1.6 .2 0 .2-.2 .5 3.4 .2 .1 .2 1.1 .2-.8 .2 .7 .5 3.1 .2-1 .2 1.3 .2-.7 .2-1.2 .5-1 .2 .9 .2 .8 .2-.8 .2 1.2 .5 0 .2 .3 .2-.6 .2-.4 .1-.1 .6-1.7 .2 1.4 .2 .6 .1-.8 .2 .2 .6 1.5 .2 1.1 .2 .7 .1 1.5 .2 0 .6 .8 .2 .6 .1 1.5 .2-.6 .2-.5 .6-3.7 .2-3.3 .1-.4 .2-2.4 .2 .3 .6 1.5 .1-.9 .2 1.4 .2-.9 .2 .9 .6 3.1 .1 1.2 .2-.6 .2 1.2 .2 1 .5 .5 .2-.8 .2-.2 .2 1.3 .2 .7 .5-2.4 .2-.2 .2 1.5 .2-.9 .2 1.5 .5 .2 .2 .9 .2 4.5 .2 1.3 .2-1.6 .5 .7 .2-3.2 .2 .8 .2-3.2 .2-3.2 .5 2.6 .2-.6 .2-.2 .2 1.2 .1-.3 .6 4.3 .2 2.9 .2-.9 .1 .1 .2-.1 .6 .1 .2-.9 .2 0 .1-1.5 .2 .8 .6 .9 .2-1.3 .1-.6 .2-.2 .2 1.1 .6-1.9 .2-1.4 .1 .8 .2-.2 .2-.2 .6-2.2 .1-.8 .2-.4 .2-2.8 .2 .5 .5 0 .2-1.1 .2 .7 .2-1.6 .2-1.5 .5 3.6 .2-3 .2-1.3 .2-.7 .2 .6 .5 3.9 .2-.2 .2 .5 .2-.5 .2-1.8 .5 1.4 .2-2.3 .2 .2 .2 .9 .2 1.5 .5 2.5 .2 1.2 .2 1 .2 .3 .1 .5 .6-.2 .2 .6 .2-2 .2 0 .1 0 .6-2.5 .2 1.5 .2 .3 .1-.3 .2 .2 .6-1.3 .2 .5 .2-1 .1 1.2 .2 .4 .6-2.6 .2 .7 .1 1.6 .2-1.4 .2-.3 .6 .7 .1-1.2 .2 .3 .2 1.5 .2 0 .6 2.6 .1 1.9 .2-.7 .2 .8 .2-.4 .5-.9 .2-1.7 .2-1.1 .2-.8 .2 1.2 .5 2.5 .2 1.7 .2 2.4 .2 .1 .2 2.6 .5 3.9 .2 1 .2 1.4 .2 .6 .2 1.5 .5 .4 .2 3.4 .2 .3 .2-1.7 .2-1.8 .5-.9 .2 2.5 .2-1.2 .2 2.6 .1 1.4 .6-.9 .2 .1 .2-.5 .2-.6 .1 1.2 .6-.6 .2 .7 .2-3.1 .1-1.2 .2-.6 .6-1.3 .2 .3 .2-1.1 .1 1.3 .2-.6 .6-1.5 .2-.2 .1-1.1 .2 .2 .2-1.8 .6-1.8 .1 2.5 .2-.2 .2-.3 .2-1.6 .6 1.4 .1-.6 .2 .3 .2-2.2 .2-.4 .5-.9 .2 1.1 .2-.2 .2-.4 .2 .6 .5 1.9 .2-.3 .2-.4 .2 1.8 .2 .3 .5 .2 .2-1 .2-2.3 .2-1.4 .2 .1 .5-.8 .2 1.7 .2 2.3 .2-1.6 .2-.9 .5-1.4 .2 .2 .2-.2 .2-.4 .1-.8 .6-.4 .2-.8 .2-.7 .2-.3 .1 .2 .6 1.2 .2 2 .2 1 .1-1.4 .2 1.1 .6-2.3 .2 1.4 .1 .5 .2 1.4 .2-.4 .6-2.3 .2-.3 .1-1.4 .2-1.7 .2-.5 .6-1.9 .1-.9 .2-1 .2-.7 .2-.2 .6 .7 .1-.2 .2-1.2 .2-.6 .2 .7 .5-2.7 .2 0 .2-.7 .2-.7 .2-.6 .5-1.1 .2 1 .2-.2 .2-1.7 .2-.1 .5 1.8 .2 1.8 .2 2.9 .2 .6 .2 .6 .5 0 .2 3 .2-.7 .2 2 .2 1.5 .5 1.7 .2-1.3 .2-.4 .2 1 .1-1.5 .6-.2 .2-2.8 .2 .1 .2-2.2 .1-.8 .6-3.6 .2-2.2 .2-1.3 .1-1.4 .2-.9 .6-4.2 .2 1.7 .1-1.2 .2-2.6 .2 .3 .6 1.9 .2-1.8 .1 .4 .2 0 .2-.1 .6-1.3 .1-.4 .2 .8 .2 2.2 .2 .3 .6-.6 .1-.1 .2-1.5 .2-.1 .2 1.6 .5-.2 .2 .5 .2 .3 .2-.1 .2 .5 .5-1.7 .2 2.9 .2-1.1 .2 2.1 .2 .7 .5 0 .2 1.7 .2 1.2 .2-.6 .2-.1 .5 .4 .2 .2 .2 1.5 .2 .9 .2 1.3 .5 .8 .2 1.6 .2-1.3 .2-1.7 .1 .3 .6 .1 .2 3 .2-.2 .1 .1 .2 .2 .6 1.8 .2 .1 .2 1 .1-1.1 .2-.7 .6-1.1 .2 0 .1-1.3 .2 .8 .2-.7 .6-1.1 .2 1.4 .1 0 .2-.3 .2 2.3 .6 1.4 .1 .4 .2-.3 .2 1 .2-1 .5-.3 .2-.5 .2 0 .2 .9 .2 1.8 .5 1.9 .2-1.1 .2 2.3 .2 .6 .2-.8 .5 2.6 .2-1.4 .2 .5 .2 .4 .2-.6 .5 1 .2-.9 .2-.7 .2 1.7 .2-.8 .5-1 .2 1 .2-.4 .2-1.2 .2-.6 .5-1.2 .2 1.1 .2-1.7 .2-.3 .1-.4 .6 2.5 .2 .4 .2 1 .1-.4 .2-.5 .6-.9 .2 .5 .2-2.1 .1-.3 .2 .8 .6-1.4 .2-1.8 .1-1.6 .2 1.4 .2 0 .6 .5 .2-1 .1 1.2 .2 .5 .2 .6 .6-.6 .1-.7 .2-.1 .2 .4 .2 0 .5 .3 .2 .3 .2 .4 .2 1.5 .2-1.3 .5 3 .2-1 .2-1.8 .2-1.4 .2-.4 .5 .5 .2 .7 .2-1.2 .2 .6 .2-1 .5 1.5 .2-.9 .2-.7 .2 1.2 .2-.6 .5-1.1 .2-1.2 .2 .3 .2 .7 .1-.1 .6 .8 .2 0 .2 .4 .2-2.4 .1 .1 .6 .9 .2 1.3 .2-.9 .1-1.7 .2-.1 .6-3.9 .2-2.5 .2-.8 .1-3.1 .2 .2 .6-.9 .2 .2 .1 2.4 .2 .9 .2-1.2 .6-.2 .1-.8 .2-.4 .2 .3 .2-.4 .6 1.2 .1-.6 .2-1.8 .2 .5 .2-.3 .5 .4 .2 .3 .2 1.7 .2 .2 .2 .5 .5-.6 .2 1.2 .2 2.6 .2 .5 .2 .1 .5-1.2 .2 1.5 .2-1.1 .2 .4 .2-.3 .5 2.4 .2 .3 .2-.3 .2 1.4 .2-.9 .5-1.8 .2-1.2 .2 .3 .2 .6 .1 0 .6-2.1 .2-1 .2 1.8 .2 1.7 .1-.5 .6 2.4 .2-.4 .2 0 .1-.1 .2-.3 .6-1.9 .2 .5 .2-1 .1-1.1 .2 .7 .6 .2 .2 1.5 .1-1.5 .2-.1 .2-.1 .6-.1 .1-.6 .2 .1 .2-.7 .2-.3 .6-.8 .1-.9 .2 1 .2 .6 .2 2 .5 2.4 .2 1.1 .2 .7 .2-2.1 .2 0 .5 3 .2-.3 .2 .6 .2-.9 .2 0 .5 .6 .2-1 .2 1.3 .2 .3 .2 1.2 .5 1.5 .2-.4 .2-.4 .2-4.7 .2-1.2 .5-.5 .2 1.1 .2 1.7 .2 1.7 .1-1.2 .6-.4 .2 .5 .2 1.4 .2-1.3 .1-.2 .6-1.1 .2-.4 .2-2 .1-.9 .2 .4 .6-.6 .2-.7 .1-.1 .2-2.4 .2-.6 .6 .6 .2-.7 .1-1 .2 2.1 .2 .8 .6 .3 .1-3.5 .2-1.4 .2 1.1 .2 .1 .6-1.3 .1 .2 .2 1.7 .2 .8 .2 .7 .5-.9 .2-1.9 .2 1.3 .2-1 .2 .6 .5 4.5 .2 4.1 .2 1.1 .2-1.6 .2-.3 .5-5.6 .2 .2 .2 1.9 .2 2.2 .2-.2 .5 4 .2-.1 .2 1.4 .2 2 .2 .8 .5-1.3 .2-1.5 .2 2.5 .2 3.1 .1-1.4 .6 .1 .2 1.5 .2 0 .1 .4 .2-1 .6 .5 .2-.1 .2 .9 .1-2.3 .2-.7 .6-2 .2 1.8 .1-.9 .2 .9 .2-.6 .6-2.8 .2 2.5 .1-.7 .2 1.6 .2 .4 .6-1.4 .1-.3 .2-2.7 .2-4.5 .2 .7 .6-2.8 .1-1.6 .2-2.6 .2-1.1 .2-.9 .5-2.2 .2-.3 .2-.7 .2-2.8 .2-1.1 .5 1.4 .2-.1 .2-1.7 .2 1.9 .2-.3 .5 2.1 .2 2.1 .2-1 .2 3 .2 .7 .5 3.3 .2 0 .2-.8 .2 .9 .2-1.1 .5 .8 .2-2.7 .2 .2 .2 .5 .1 .7 .6 2.8 .2-.2 .2 .4 .1 1.8 .2-.9 .6 .9 .2-.5 .2 0 .1-2.1 .2 .5 .6-4.4 .2-5 .1-1 .2-4.3 .2-1.6 .6-1.8 .2-4.1 .1-.4 .2-.7 .2-.5 .6 .2 .1 .6 .2-3.9 .2-1.6 .2-2 .5-5.6 .2 .7 .2-.1 .2-.4 .2-.5 .5 2.8 .2 1.7 .2 3.1 .2 4.5 .2 1.8 .5-1.5 .2-1.1 .2 2 .2 2.4 .2-.8 .5-1.3 .2-.9 .2-.2 .2-.8 .2 0 .5-2 .2 .1 .2-1.4 .2-2 .1 2.3 .6-2 .2 1.2 .2-1 .2-.9 .1-1.3 .6-2.6 .2-.5 .2-5.5 .1-1 .2-.8 .6-4.5 .2 .5 .2 4.8 .1-2.2 .2 1.7 .6 4.1 .2 5 .1 0 .2 1.2 .2 .8 .6 .8 .2 .6 .1-.6 .2 2.1 .2-.2 .6 2.9 .1 1.6 .2-.6 .2-.8 .2-1 .5 2.3 .2 1.9 .2-.1 .2-1.3 .2 .4 .5-.2 .2-2.2 .2 4 .2-.2 .2 0 .5 2.1 .2 .3 .2 .9 .2-.6 .2-1.3 .5 1.6 .2 2.1 .2 .7 .2-.9 .2-1.4 .5 .4 .2-1.3 .2 1.7 .2 .2 .1-.2 .6-.1 .2-.6 .2-2.7 .2-1.8 .1-1.1 .6 1.8 .2 .1 .2 1.9 .1-.1 .2-1.9 .6 1.7 .2-1.3 .2-.1 .1 .1 .2 .6 .6-1.1 .2 1.1 .1-1.2 .2 .5 .2 .9 .6-.4 .1 .8 .2-.2 .2-.6 .2-.4 .6-1.2 .1-1.4 .2-3.8 .2 1.7 .2 0 .5-5.6 .2 3.5 .2 1.4 .2 .1 .2 .2 .5-3 .2-2.1 .2 1 .2 1.1 .2 0 .5-3.4 .2-.6 .2 .1 .2-1.6 .2-1.6 .5-1.5 .2-2.1 .2 2.2 .2-1.9 .2-.6 .5 .5 .2 1.4 .2-1.3 .2 1.6 .1 2 .6 4.7 .2-.9 .2-2.3 .2 1.3 .1-1 .6 5.4 .2-.2 .2 1.3 .1-1.8 .2-1.3 .6 1.2 .2 1.2 .1-2.3 .2-.2 .2-2.1 .6-2.5 .2 .9 .1-3.4 .2-.8 .2-.8 .6-2.8 .1-1.3 .2-2.4 .2 1.3 .2 .9 .6-3.9 .1 2.7 .2-1.2 .2 .6 .2 .2 .5-3.6 .2-3 .2 4.1 .2 1.1 .2-1 .5-6.7 .2 3.1 .2 4.5 .2 .1 .2 .8 .5-5.1 .2-2.8 .2-2.7 .2-.9 .2-.2 .5-7.4 .2-.6 .2-.4 .2 2.1 .2-1.7 .5-7.7 .2-8.5 .2-1.5 .2 3.6 .1-.9 .6 11.7 .2-7.1 .2-.2 .2-.2 .1 1.2 .6-8.8 .2 .7 .2-6.1 .1 2.8 .2 .1 .6 8.9 .2 9.9 .1 2.2 .2-2.1 .2-.4 .6-6 .2-9.5 .1-8 .2 2.9 .2 5.8 .6-11.8 .1-6 .2-4.6 .2 3.4 .2-.7 .6 3.9 .1-1.6 .2 2.3 .2-2.4 .2 .1 .5 10.4 .2-2 .2 0 .2 .7 .2-2.7 .5-3.4 .2 8.5 .2 5.1 .2 .1 .2 2 .5 4.8 .2-.2 .2 .1 .2 .2 .2 1.7 .5 5.4 .2 .4 .2 4.7 .2 6 .2 1.2 .5-7 .2-6.6 .2 .7 .2-2.4 .1-1.6 .6 0 .2 1.8 .2 3.4 .1-4.4 .2-.1 .6 3.5 .2-4.2 .2-6.2 .1-2.2 .2-3 .6-6.6 .2-3.2 .1-5.5 .2 .5 .2-.1 .6 12.1 .2 4.8 .1-2 .2 2.9 .2 .2 .6-5.7 .1-3.6 .2-1.5 .2 .8 .2-.8 .5 9.5 .2 1.8 .2 0 .2-1.3 .2-.3 .5-2.7 .2-2.7 .2-1.9 .2 .2 .2-.1 .5-11 .2 .9 .2-1 .2-.2 .2 .3 .5-3.1 .2-.1 .2 4.2 .2-.2 .2 1.3 .5 1.3 .2 1.6 .2-7.6 .2-.9 .2 .3 .5-2.3 .2 1.1 .2 0 .2-.3 .1-1.4 .6 7 .2-.3 .2 3.8 .1-.4 .2-.2 .6 5.9 .2 1.7 .2 2.4 .1-1 .2 0 .6-1.7 .2-2.4 .1-.4 .2-1.8 .2-1.9 .6 2.8 .2 4 .1 4.9 .2-.6 .2-.9 .6 2.3 .1 2.5 .2-2.6 .2-.6 .2 1.1 .5 5.3 .2-2.4 .2-9.2 .2-.3 .2 1 .5 1.6 .2 5.5 .2-2.1 .2 .3 .2 0 .5 .5 .2-.4 .2 9.5 .2 .7 .2 1.7 .5-3.4 .2 .9 .2-2.7 .2 .8 .2 1.6 .5 1.4 .2 1.7 .2 0 .2 .7 .1 .3 .6-2.5 .2 1.4 .2 4.1 .2 1 .1 .3 .6 4.7 .2 .3 .2-.4 .1-3.2 .2-1.6 .6 4 .2 .1 .2-.8 .1 .4 .2-.5 .6-2.1 .2-.3 .1-.3 .2-.9 .2-1.6 .6-1.3 .1-2.7 .2 2.7 .2-1 .2-1.1 .6 0 .1-1.6 .2-4.3 .2-.4 .2 0 .5-5.5 .2 2.1 .2 .6 .2-.3 .2 0 .5 1.1 .2 1.4 .2 1.8 .2-1.2 .2-1.3 .5 5.9 .2 .9 .2-.3 .2 .9 .2 1.3 .5 4.6 .2 1.9 .2 .1 .2 2.1 .2 3.1 .5 2.1 .2 1.1 .2-.8 .2 1.8 .1-.7 .6 .4 .2-.9 .2 1.1 .2-1.4 .1-1.7 .6-.6 .2 3.3 .2 3.5 .1 0 .2-.6 .6 .5 .2-1.9 .2-1.2 .1-.2 .2-.7 .6 .9 .2-.1 .1 1.8 .2-1.2 .2-2.4 .6 1.3 .1-2.4 .2 .7 .2-1 .2 .1 .6 .8 .1 1.4 .2 1.4 .2 .6 .2 .3 .5 1.9 .2-.6 .2-.6 .2 0 .2 1 .5-1.4 .2 1 .2-2.1 .2-.1 .2-.2 .5 1 .2 3.9 .2 1.1 .2 1.7 .2 .2 .5 1.2 .2 2.2 .2 .2 .2-1.4 .2-1.2 .5-3.4 .2-3.3 .2-2.4 .2-.4 .1 .3 .6-6.9 .2 .6 .2 .3 .2-1.5 .1-.3 .6-3.1 .2 .9 .2 2.1 .1-1.3 .2-.3 .6 5.3 .2 1.3 .1-1.2 .2 0 .2-.4 .6 1.5 .2-2.2 .1 2.7 .2-1.1 .2-1.3 .6 1.1 .1-3.4 .2-1.6 .2 .8 .2 1.2 .6 .2 .1-1.7 .2-.7 .2-1.5 .2-.3 .5-3.6 .2 .7 .2 1.1 .2-.1 .2 .1 .5 2.4 .2-2.1 .2 1.6 .2-.3 .2-.5 .5 .7 .2 1.5 .2 1 .2 .4 .2-.5 .5 3.6 .2 1.7 .2-.6 .2-1.8 .2-1.4 .5 .7 .2 .5 .2-1.1 .2 .1 .1 .3 .6-.7 .2 1.2 .2 1.8 .2-1.1 .1-.4 .6-.9 .2-3 .2-3.3 .1 .1 .2 1.2 .6 0 .2 1 .1-3 .2-.2 .2-1.6 .6-3 .2-1.6 .1-2.1 .2-1.3 .2-2.7 .6 3.3 .1-.6 .2-.4 .2 .1 .2 .8 .6 6.1 .1-7.2 .2 1.8 .2 4.1 .2 3.2 .5 3.1 .2 4.4 .2 7.5 .2 1 .2-3.5 .5-5.5 .2-4.2 .2 1.8 .2 7.1 .2 10.5 .5 4.9 .2 13.4 .2-.9 .2-.3 .2-12.2 .5 17.4 .2 .1 .2-2.6 .2 6.2 .2-1.3 .5-2.2 .2-10.1 .2-.1 .2-3.3 .1 2.4 .6 9.2 .2-2.7 .2 .1 .1 2.4 .2 .2 .6 5.1 .2-7 .2 2.9 .1-1.3 .2-1.4 .6-2.7 .2 1.4 .1 2.9 .2-15.6 .2-5.8 .6-1.3 .2 8.7 .1 .5 .2-5.5 .2-2 .6-.9 .1 .3 .2-2.7 .2-7.4 .2 9.2 .5-6.9 .2-.5 .2-.1 .2 4.5 .2-3.4 .5 5.7 .2 1.1 .2-2.9 .2-.1 .2-1.2 .5-3.8 .2-1.4 .2-3.6 .2-1 .2-1.9 .5 .7 .2-6.3 .2-2.7 .2 2.5 .2-1.7 .5 .7 .2-.2 .2 .6 .2-3.8 .1-1 .6-.7 .2 2.1 .2-.7 .2 6.7 .1-1.2 .6-4.3 .2 6.2 .2-.7 .1-2.6 .2-4.1 .6-4.7 .2 2.6 .2-2.9 .1 1.5 .2 2.1 .6-4.9 .2-3.9 .1-5.9 .2-4.2 .2 1.3 .6-3.5 .2 2.2 .1 1.1 .2 2.7 .2-1.3 .6-.2 .1-1.1 .2 1 .2 .8 .2 2.1 .5-.3 .2 1.6 .2 .4 .2 .4 .2 1.6 .5 1.8 .2 2.2 .2 1.8 .2 .9 .2-1.4 .5 1.8 .2-2.1 .2-2.5 .2-2.3 .2-1.2 .5-2.4 .2-1.7 .2 .9 .2-2.7 .2 2.4 .5-5.4 .2-.1 .2-2.6 .2-1.5 .1-2.6 .6 .3 .2 .6 .2-4 .2-3.4 .1 .5 .6-1.2 .2-1.9 .2 1.5 .1 5.7 .2 4 .6 4.4 .2 6 .2 .4 .1 1 .2 .5 .6 .6 .2 6.2 .1-1.6 .2-.5 .2 .9 .6 .6 .1 1.5 .2 .7 .2 .6 .2-1.3 .6 6.9 .1-.8 .2-2.5 .2-.3 .2-1.7 .5 .4 .2-.6 .2-.6 .2-.4 .2-3.1 .5-.8 .2 .4 .2-.6 .2 8.5 .2 2 .5 .7 .2-1.2 .2 2.7 .2-3.2 .2 0 .5 2.9 .2-1.5 .2 1.9 .2 2.1 .2-.4 .5 .1 .2 2.5 .2-1.6 .2 .7 .1-4.6 .6-2.4 .2-.9 .2-.3 .2-3.1 .1-2.4 .6-2 .2 1.1 .2-1.1 .1-2.6 .2 2.5 .6-.3 .2-1.1 .2-1.3 .1 .3 .2 .1 .6 1.2 .2-1.5 .1 3.2 .2-3.3 .2 2.2 .6 .8 .1-1.2 .2-1.3 .2-1.4 .2-1.7 .6-1.9 .1-.7 .2 .2 .2-3 .2 2 .5 .3 .2-.5 .2-.3 .2 3.2 .2-.5 .5 4.7 .2 0 .2-1.5 .2 .6 .2-.2 .5-.1 .2 .6 .2-1.4 .2 1.8 .2 0 .5 1 .2-2.3 .2-2.9 .2-2.3 .2-.3 .5-.3 .2 3.9 .2 .9 .2-.6 .1 1 .6-.3 .2 1 .2 2.3 .2 2.6 .1 2.3 .6-.3 .2-3.5 .2-.3 .1-1.2 .2-.1 .6 .7 .2-1.6 .1-2 .2 1.2 .2-.4 .6 .9 .2 2.1 .1-1.6 .2 3.8 .2 1 .6-1.2 .1-1 .2 1.8 .2-.2 .2 0 .6-.1 .1 3.7 .2-.1 .2 1.2 .2-.8 .5-.8 .2-2.3 .2-.2 .2-1.8 .2-.5 .5-3.9 .2-3.9 .2-1.2 .2 1.7 .2 .9 .5-2.5 .2 4 .2 2.5 .2-1.2 .2 1.4 .5 3 .2-2.2 .2 1 .2-.7 .2-1.9 .5 1.4 .2-2.3 .2-.4 .2-.9 .1 .2 .6-3.4 .2 .7 .2 3.2 .1-1.9 .2-.2 .6 1.5 .2 2.1 .2 .1 .1 .2 .2 1.4 .6 1.2 .2 2.3 .1-1.9 .2-.2 .2 1.9 .6-.2 .2 1.3 .1-.6 .2 .1 .2-.7 .6 .7 .1 2.6 .2-.3 .2-.9 .2-1.5 .6-1.4 .1 .1 .2 .9 .2-.7 .2-1.1 .5-.2 .2-.2 .2-2.8 .2-.1 .2 .4 .5-2.6 .2-2.8 .2 .4 .2-3.7 .2-1.7 .5 .5 .2-3.6 .2 .7 .2 .7 .2 1 .5-3.3 .2 .7 .2-1.1 .2-3.2 .2-.7 .5 2.1 .2-2.8 .2 2 .2-1.1 .1 .1 .6-.8 .2 2.2 .2 1 .1 2 .2 .6 .6 0 .2-.1 .2 2 .1 3 .2 0 .6 .6 .2-1.3 .1-1.1 .2 2.4 .2-.6 .6-.4 .2 3 .1-.4 .2 2.2 .2-3.1 .6-5.6 .1-3.8 .2-3.1 .2-.6 .2 1.4 .5-1.9 .2-6.2 .2-.7 .2-1.5 .2-2 .5-2.2 .2 .6 .2 2.3 .2-.5 .2 .7 .5-1.2 .2 1.4 .2 .5 .2-3.8 .2-.9 .5 4.6 .2-2.4 .2 .9 .2 1.3 .2-.9 .5 .6 .2 .4 .2-1.4 .2 2.4 .1-1.4 .6-.6 .2-.3 .2 4.3 .2 3.2 .1 1.3 .6 3.8 .2 1.5 .2 .3 .1-1.7 .2 1.3 .6-.2 .2-.1 .2 3 .1 .2 .2 .7 .6-5 .2-3 .1-1.1 .2 1.7 .2-1.4 .6-1.4 .1 .3 .2 .6 .2 2.1 .2-2.4 .6 .6 .1-2 .2-.6 .2-1.4 .2-2.5 .5 6.5 .2 3.6 .2 .9 .2-1.3 .2-1.8 .5 1.8 .2-.1 .2 1.8 .2-1.2 .2-1.2 .5-1.8 .2 1.1 .2 2.5 .2-1.8 .2 .6 .5-7.3 .2 .3 .2-2.7 .2-3.6 .2-3.4 .5-.6 .2-3.3 .2-.9 .2-1.4 .1-.3 .6-1.2 .2 .9 .2 3.9 .2 1.5 .1 .7 .6 .8 .2 1.9 .2 1.3 .1-1.5 .2-.2 .6 3.4 .2-.1 .2-1.3 .1-3.9 .2-1.5 .6 2.5 .2 2 .1 3.6 .2 1 .2-.5 .6 .4 .1-.4 .2-2 .2-2.1 .2-1.4 .6 .8 .1-.3 .2 1.5 .2 1.3 .2 .8 .5 2.3 .2-1.4 .2 2.8 .2 4.6 .2 .9 .5 .7 .2 .2 .2 0 .2 3.2 .2 .3 .5 .2 .2 3.9 .2 4.1 .2 4.7 .2-.6 .5-.1 .2 2.4 .2 2 .2 1 .2-1.3 .5 2.2 .2 3.1 .2-1.8 .2-1.1 .1-4.5 .6-4.3 .2 2 .2 .9 .2 2.5 .1 3.7 .6-2.2 .2 2.1 .2 3 .1 .9 .2 1.7 .6 5.6 .2-.4 .1 .7 .2 .7 .2-.1 .6 3.1 .2-.1 .1-2.9 .2-2.5 .2 2.8 .6 .5 .1 6.6 .2 2.9 .2-2 .2 0 .6 1.5 .1-2 .2-2.3 .2-.5 .2-2.7 .5-1.4 .2 1.8 .2-3.5 .2-1 .2-.3 .5-2.7 .2-4.6 .2 1.9 .2 1.3 .2-1 .5 1.1 .2 2.1 .2 3.3 .2 2.6 .2-1.2 .5-6.1 .2 3.9 .2 2.1 .2 .1 .2 0 .5 4.2 .2-1.1 .2 2.7 .2 1 .1-1.3 .6-3.4 .2 1.5 .2 .2 .2 .5 .1 1.4 .6-1.8 .2-3.7 .2-2.7 .1 2.8 .2 1.6 .6 .2 .2-.3 .1 1.2 .2 3.1 .2 2.4 .6 .4 .2 2.1 .1 1.5 .2-1 .2-1.2 .6-1.8 .1 1.3 .2-4.7 .2-1.3 .2-.1 .6-2.9 .1 .1 .2-.4 .2-.9 .2 .2 .5 .6 .2 2.8 .2 2.6 .2 4.8 .2 .9 .5 2.6 .2 1.8 .2 5 .2 3.3 .2-2.5 .5-.9 .2-1 .2-2.6 .2-1.6 .2 .6 .5 2 .2-1.8 .2 1.6 .2 1.9 .2 .9 .5 .1 .2-.8 .2-1 .2-1.9 .1 1.9 .6-2.2 .2-1.8 .2-.3 .1 .7 .2-1.6 .6-.5 .2-.6 .2-2.5 .1-1.3 .2 1 .6-.2 .2-2.8 .1-1.6 .2-3.3 .2 1.4 .6-1 .2-.7 .1 1.6 .2-1.2 .2-1.8 .6-2.8 .1 2.1 .2-.4 .2 .2 .2 1.5 .5 4.9 .2 2.2 .2 2.4 .2 .3 .2 3.7 .5-.7 .2 .2 .2 1.5 .2 .4 .2-2.5 .5 .7 .2 3.5 .2-2.5 .2 2.8 .2 2.6 .5 3.6 .2 1.7 .2-2.5 .2-2.5 .2-1.1 .5-2.3 .2 2.1 .2 2 .2-1.6 .2 3.6 .5 5 .2 3.2 .2-2.3 .2 4 .1-.2 .6-1.3 .2 2.5 .2-1.6 .1 5.2 .2 .7 .6-4.3 .2-2.3 .2-1.7 .1 1.2 .2 2.4 .6-1.7 .2 4.4 .1 .6 .2-2.7 .2 1.8 .6-2 .2-1.5 .1-1.8 .2-1.1 .2 1.8 .6-4.6 .1-4.3 .2 .6 .2 2.3 .2 5.3 .5 .3 .2-.1 .2 1.6 .2 .6 .2-1.2 .5-6.4 .2-1.8 .2 2.9 .2-2.1 .2-1.3 .5-6 .2-5 .2-.4 .2-2.6 .2 0 .5 4.2 .2 .4 .2-1 .2 .4 .2 1.3 .5 1.7 .2 .1 .2 .3 .2-.3 .1 1.2 .6 1.1 .2 2.7 .2 5.4 .2 .7 .1 2.7 .6-2.7 .2-.8 .2-1.8 .1-.1 .2 2.5 .6-.4 .2 .5 .2 .9 .1 3.2 .2 2.2 .6-.1 .2 0 .1 1.7 .2-4.2 .2 1.1 .6 0 .1-.7 .2-.4 .2-1.2 .2-3.1 .6-1.4 .1 0 .2-1 .2-.9 .2-.9 .5-.8 .2-.4 .2 .3 .2 2.1 .2-2.5 .5-3.5 .2-1.1 .2 2.1 .2-3.3 .2 .2 .5 7.8 .2-1 .2-4.2 .2-2 .2-.2 .5-1.3 .2 1.8 .2 1.9 .2 0 .2-.6 .5-1.8 .2-.3 .2-1.1 .2 2.3 .1 2 .6 1.7 .2 .5 .2 1 .2 2.4 .1-.4 .6 1.4 .2-.5 .2-1 .1-.4 .2-.6 .6 1.6 .2-.7 .2-.8 .1 .7 .2 .9 .6 1.5 .2-.7 .1-.2 .2-.8 .2-.5 .6-.6 .1-1.6 .2-.8 .2-.5 .2-1.1 .6 0 .1-1.4 .2-2.2 .2-1.3 .2-.5 .5-1.1 .2 .5 .2 2.7 .2 1.3 .2-1.2 .5-.7 .2-2.5 .2 2.1 .2-.4 .2 1.4 .5-2 .2 1 .2 1.5 .2 .2 .2 .5 .5 0 .2-.1 .2-1.4 .2-1 .2-.5 .5 .4 .2 2.2 .2 .5 .2 1.2 .1-.6 .6 .2 .2-3.8 .2-.7 .2-2.2 .1-1.4 .6 2.9 .2 1 .2-1.7 .1-.1 .2-.2 .6 1.2 .2 .5 .1 .3 .2-.9 .2-1.1 .6-.1 .2-1.8 .1-1.8 .2-1.1 .2-1.2 .6-1 .1 .7 .2-.7 .2-1.4 .2 .8 .6-3.2 .1 1.1 .2-2.6 .2-2.3 .2 1.1 .5 .2 .2 0 .2-2.5 .2 3.3 .2 .3 .5 .6 .2 .1 .2 3.8 .2-2.5 .2 .4 .5-1.5 .2 1.7 .2 1.3 .2-.7 .2-2.1 .5-3.3 .2 1.5 .2-1.6 .2-.3 .2-.9 .5 1.9 .2-.4 .2 1 .2 .3 .1 .4 .6 4.6 .2-1.3 .2 .4 .2-.3 .1 .5 .6 .3 .2 4.4 .2-1.3 .1 .9 .2 2 .6-.3 .2-2.4 .1 1.9 .2 2.1 .2 1.1 .6-2.3 .2 1.7 .1-.3 .2 .4 .2 0 .6-1.6 .1 .4 .2-.1 .2-1.9 .2-1.3 .6-.2 .1-1.3 .2-.5 .2-.1 .2-.8 .5 2.5 .2 1.1 .2 .5 .2 .6 .2 1.7 .5 .1 .2 2.4 .2 .2 .2 .1 .2 1.3 .5 .3 .2-2.6 .2-.2 .2 2.2 .2-.8 .5 1.5 .2 1.8 .2-.2 .2-2 .2-.9 .5 1.2 .2 .5 .2 .2 .2-1.2 .1-2.5 .6-2 .2-.5 .2 .4 .1 .8 .2 .3 .6 3.9 .2 2.9 .2-.1 .1 .6 .2 .5 .6 2.5 .2 .9 .1 1.2 .2 1 .2-.7 .6-.6 .2 2.7 .1-2.3 .2-1.2 .2 .5 .6-.7 .1 0 .2 .4 .2-1.2 .2 .9 .5 2.8 .2-1.9 .2 0 .2-1.1 .2-1 .5-2.3 .2 1.8 .2-1.4 .2 .5 .2-1.4 .5-1.5 .2 1.8 .2-1.6 .2-.3 .2-.4 .5 .3 .2 1.4 .2-1.6 .2-1.4 .2 .2 .5 1.8 .2-2.6 .2-1.8 .2-.5 .1 1 .6-.2 .2 .6 .2-.3 .2-2.2 .1-.4 .6 2.9 .2 1.2 .2-.6 .1 .2 .2 .5 .6 .4 .2 3.1 .2 .9 .1 2.1 .2-.5 .6-2.5 .2-.7 .1-.8 .2 0 .2-.9 .6-.6 .2 1.9 .1 .7 .2-1.5 .2-1.6 .6-3.3 .1-2.4 .2-.6 .2 .2 .2-1.3 .5 .2 .2-.6 .2-1 .2-.3 .2 0 .5-.5 .2-.4 .2 .7 .2-1.9 .2-1.9 .5-.4 .2 1.7 .2-.1 .2 1.4 .2 .2 .5 2.7 .2 1.6 .2 .5 .2-.6 .2-2 .5 .8 .2-.1 .2 .4 .2-1.8 .1 .9 .6-.2 .2 .4 .2-.3 .2-1.1 .1-.2 .6 .8 .2 .6 .2-1.5 .1-.3 .2 2.2 .6-1.1 .2-2.1 .2-1.6 .1-.7 .2 .1 .6 .8 .2 2.2 .1-1.5 .2-4 .2 1.3 .6 .4 .1-.1 .2 .1 .2-1.4 .2 2.1 .6 2 .1-.6 .2-1.2 .2 1.9 .2-.8 .5 3 .2 2.2 .2-.2 .2-.7 .2 .1 .5 1.9 .2-1.7 .2-.8 .2-3 .2 .2 .5 .2 .2 1 .2-.7 .2 .8 .2 .1 .5 2.4 .2 0 .2 1.1 .2-1.4 .2-1.4 .5-.5 .2-.6 .2-2.1 .2 .5 .1-.5 .6-1.5 .2-1.5 .2-.3 .2 .6 .1-.5 .6-.9 .2-.2 .2 2.5 .1 0 .2-.8 .6-.1 .2-.3 .1-1.2 .2-1 .2 .5 .6-.2 .2-2.6 .1 .4 .2-1.8 .2 .2 .6 1.7 .1-.1 .2 0 .2 .5 .2-.6 .6 2 .1 .5 .2 .3 .2 .5 .2 1.1 .5-.2 .2-.9 .2 .2 .2-.6 .2-1.5 .5-1.1 .2-.1 .2-2.6 .2 1.5 .2-.4 .5 2.9 .2 1 .2 2.7 .2 2.3 .2 .1 .5 3.3 .2 1.1 .2 .4 .2 .7 .2-.7 .5-2.8 .2-.6 .2-2.1 .2 2.3 .1 3.5 .6 3.8 .2 .5 .2 .8 .2-.2 .1-.4 .6-2.2 .2-.7 .2 .2 .1 .4 .2-2.6 .6-1 .2-1 .1-2.7 .2-.4 .2-.9 .6 1.8 .2 .9 .1 1.2 .2-.2 .2 .6 .6 3 .1 1.5 .2 .7 .2 2.5 .2 2.2 .6 .2 .1-.9 .2-.1 .2-2.6 .2 .7 .5-.5 .2 .5 .2 1.9 .2-2.5 .2 .1 .5-.2 .2-1.9 .2-3.9 .2-4.7 .2-1 .5-4.4 .2-1.6 .2-1.8 .2 .3 .2 1 .5-1.3 .2-.6 .2-.3 .2 .4 .2 2 .5-1.1 .2 .1 .2 1.2 .2 .1 .1 .4 .6 2 .2-.3 .2 1.6 .1 1.1 .2-.3 .6 1.4 .2-.9 .2 3 .1 1.3 .2-1.8 .6-2.8 .2 2.2 .1 1 .2 .9 .2-1.9 .6-1.1 .2 1.6 .1 .8 .2 3.7 .2 .5 .6 .8 .1 .7 .2 .1 .2 0 .2-.8 .6-1.1 .1-.1 .2-.1 .2 1.3 .2-1.4 .5-1.7 .2-2 .2 .3 .2-3.6 .2-.2 .5-4.2 .2 .5 .2-2.7 .2-1.2 .2 1.7 .5 .2 .2 2.9 .2 3 .2 1.2 .2 1.2 .5 1.6 .2 2.8 .2-1.4 .2-.1 .2-1.8 .5 1.4 .2 .2 .2 .6 .2-.5 .1 .7 .6 .1 .2-1.6 .2-.3 .1-4 .2 .3 .6-1.4 .2 .9 .2 .8 .1 1.2 .2-.3 .6-.4 .2 .2 .1-1.8 .2-.9 .2 1.7 .6 2.5 .2 .8 .1 1.8 .2 .1 .2-1.8 .6 1 .1-.9 .2 .4 .2-.3 .2 0 .5-.5 .2-.5 .2-.8 .2 0 .2 .4 .5-1.5 .2 1.1 .2-.5 .2 2.5 .2 2.9 .5-.2 .2 3.9 .2 3 .2 2.2 .2 .7 .5 0 .2-.6 .2 1.6 .2 2.2 .2 1.7 .5 1.6 .2-1.3 .2-.4 .2 1.6 .1-.5 .6-3.3 .2-.9 .2 3.6 .2-2.2 .1 3.9 .6-6.6 .2-2.6 .2-.4 .1-1.5 .2 5.6 .6 1.6 .2 .3 .2-2.6 .1 6.9 .2 8.8 .6 2.2 .2 2.9 .1-13.6 .2-.9 .2 4.1 .6-.4 .1-2.6 .2 8.8 .2 2.1 .2 .1 .6 1.5 .1-.3 .2 2.7 .2-3.5 .2-3.8 .5-1.1 .2-.4 .2-2.6 .2-8.2 .2-5.2 .5-.6 .2 3.6 .2 6.7 .2-5.2 .2-6.2 .5 5.7 .2 .9 .2-2.3 .2-7.3 .2-2.5 .5 .2 .2 .7 .2-.2 .2 2.5 .2 .4 .5-1.9 .2-1.8 .2-.3 .2 .4 .1-.6 .6 2.5 .2 .4 .2-.8 .2 1.2 .1-.8 .6 2 .2-2.2 .2-.3 .1-1.7 .2-.8 .6-.6 .2-2.4 .2 .2 .1 1.5 .2-.1 .6 .6 .2-1.5 .1 1.2 .2-1.1 .2 0 .6-.8 .1-1.7 .2-2 .2 .2 .2-.5 .6-3.5 .1-.2 .2 .6 .2 1.2 .2 .7 .5 5.7 .2 2.4 .2 4.4 .2-2.4 .2-.3 .5-1.4 .2-1.2 .2 .6 .2-1.7 .2-.8 .5-2.2 .2-1.1 .2-.6 .2-1.5 .2 2.7 .5-3.3 .2-2.5 .2-1.5 .2-2 .2-.5 .5-1.2 .2-.6 .2 .2 .2-.1 .1 2.4 .6-3.8 .2-3.6 .2-1.8 .2 1.2 .1 .1 .6 2.2 .2 0 .2 1 .1 3.9 .2 1.9 .6-1.1 .2 1.2 .1-1.8 .2 1.6 .2-1.9 .6-5.5 .2 .3 .1 1.1 .2-1.1 .2-.5 .6-3.4 .1 .9 .2 2.6 .2-1.5 .2-.9 .6-2.8 .1 .2 .2 .6 .2-1.3 .2 .5 .5 .5 .2-1.5 .2 .5 .2-.3 .2-.1 .5 4.6 .2-.6 .2 0 .2-1.6 .2 4.9 .5 .6 .2-.9 .2 2.3 .2-.2 .2-1.9 .5 2.2 .2-.5 .2-.1 .2-1.2 .2-.8 .5-1.6 .2 .2 .2 .1 .2 2.6 .1 1.2 .6 6.5 .2 .4 .2-.2 .2-2.8 .1-.9 .6-1.6 .2-1.4 .2-1.6 .1 1.3 .2 1.6 .6 2.6 .2 2.6 .1 2.2 .2 1.1 .2-.3 .6 1.1 .2-2.4 .1-1.7 .2-.7 .2-1.4 .6-.9 .1 .9 .2-1.6 .2-1.5 .2 0 .6 1.2 .1-1.4 .2 1.3 .2 1.1 .2 1.4 .5-1.2 .2 .1 .2 .9 .2-.2 .2-1.5 .5-2.2 .2-.2 .2-1.8 .2 1 .2-.6 .5 1.3 .2 .6" fill="none" stroke="#FF38FF" stroke-width="4.1" stroke-linejoin="round" stroke-linecap="round"/><path d="M1081.5 1183.5l.2 .4 .2-.7 .2 .5 .2-.1 .5-5 .2 .8 .2 2.8 .2 1 .1 0 .6 .2 .2 1.5 .2-1.5 .2 1.3 .1 1 .6 1.5 .2 .3 .2-2.5 .1 0 .2 .1 .6-1.2 .2-.1 .1 7 .2 .6 .2-1.1 .6-3.6 .2-1.4 .1 .4 .2 .3 .2-.1 .6 .5 .1 3.6 .2 2 .2-.5 .2-.1 .6 .4 .1-.7 .2 0 .2 .7 .2-.3 .5-1 .2-3.6 .2 1.4 .2-1 .2 .6 .5 1.3 .2 .9 .2-3.2 .2 0 .2-.8 .5-.4 .2 .8 .2-.3 .2-.4 .2 0 .5-2.4 .2 0 .2 .7 .2-.7 .2-.1 .5-1.9 .2 2.1 .2 2.8 .2 .5 .1-.7 .6-1.2 .2-3.7 .2 1.1 .1 .5 .2 .7 .6 6.1 .2-1.2 .2-.7 .1-.3 .2-.4 .6 2.4 .2-.3 .1 .7 .2-.2 .2 .4 .6 0 .2 0 .1 2.3 .2 .1 .2 0 .6 2.1 .1-.7 .2 2.4 .2 1.2 .2-.2 .5-.9 .2 .6 .2-1 .2-.8 .2 .4 .5-4.3 .2 2.6 .2-3.3 .2 .6 .2 1.1 .5-1.2 .2-.6 .2-1.6 .2 .7 .2 .5 .5-1.8 .2-.9 .2-1.2 .2-.5 .2 .1 .5 .9 .2 1.7 .2 1 .2-.5 .1-1.1 .6-2.2 .2-.8 .2 1.6 .2 .2 .1 .3 .6 6.8 .2-.9 .2 .7 .1-.1 .2-.2 .6 .2 .2 2.4 .2 .4 .1-.1 .2-.3 .6-2.7 .2 1.9 .1-.1 .2 0 .2 .6 .6-6.9 .2 2.1 .1-1.8 .2-.5 .2 .6 .6-.3 .1-.4 .2 .5 .2 .1 .2 .8 .5-3.3 .2 .1 .2 4 .2 .4 .2-.1 .5-1.5 .2 3.2 .2-2.8 .2 .2 .2 .2 .5-3.7 .2 2.8 .2 2.6 .2-.3 .2-.4 .5 2.5 .2 .2 .2-.9 .2 .4 .2-.4 .5 3.4 .2 1.6 .2 1.5 .2-.2 .1-.7 .6 1.6 .2 .2 .2-.4 .2-.9 .1-.4 .6 5.1 .2-.6 .2-2.5 .1-.3 .2-.3 .6 3.9 .2-.5 .2 .5 .1-.5 .2-.9 .6 2.8 .2-2.4 .1 1.4 .2-.3 .2-1 .6-.3 .1 .3 .2-2 .2 .8 .2 .9 .6 4 .1 3.4 .2 .6 .2 .8 .2-.3 .5 2.1 .2 1.3 .2-.7 .2-.1 .2-.5 .5 2.1 .2-.2 .2 .1 .2-.2 .2-.2 .5 .2 .2 1.6 .2 2.9 .2 .3 .2 .6 .5-5.7 .2-.9 .2 2.4 .2 .2 .2 1.1 .5 .8 .2 1.2 .2 2 .2-.7 .1-.4 .6 1.9 .2 1.9 .2 0 .2 .2 .1-.6 .6-13.6 .2 3.9 .2 2.4 .1-.4 .2-.1 .6 1.1 .2 .8 .1 1.6 .2 0 .2 .3 .6 3.7 .2 1.7 .1 0 .2-.4 .2 .2 .6-.1 .1 1.4 .2 .2 .2-.5 .2-.4 .6 3.5 .1 2.8 .2-1.2 .2-.7 .2-.4 .5-.8 .2 .9 .2-.2 .2-.2 .2 .7 .5 2.8 .2-1.6 .2 .6 .2 .5 .2-2 .5-4.6 .2 3.4 .2 .2 .2-.9 .2 2.2 .5 5.3 .2 .5 .2 .3 .2 .1 .2-.3 .5-1.5 .2-1.7 .2 .3 .2-.2 .1-3.4 .6-7.8 .2-3.3 .2-.7 .2-1 .1-4.2 .6-6.5 .2-2.3 .2-.4 .1-.3 .2 .9 .6 1 .2 3.9 .1-.5 .2 .1 .2 2.5 .6-.2 .2 .2 .1 .6 .2 .9 .2 .5 .6 .3 .1-1.6 .2-.2 .2 .2 .2-1 .6-4.8 .1-.3 .2-.4 .2-.3 .2-1.6 .5 2.5 .2 .2 .2-.5 .2 .1 .2-1.4 .5-2.1 .2 5.2 .2 .5 .2-.5 .2 4 .5 2.9 .2 2.8 .2 0 .2-.4 .2-.1 .5 .7 .2 .5 .2-.1 .2-.5 .2 .9 .5 5.3 .2 0 .2 .4 .2-.3 .1-3.3 .6-.3 .2 .7 .2 .4 .1-.5 .2-1.1 .6-5 .2 1.4 .2 1.2 .1 .9 .2 .9 .6-1 .2 1.5 .1 .4 .2-.4 .2-1.3 .6 2.2 .2 1.2 .1-.6 .2-1.5 .2 .8 .6-4.6 .1-1.6 .2 .5 .2-.5 .2-3 .6-1.9 .1 1.5 .2-.2 .2 .8 .2-.4 .5 4.8 .2 1.4 .2 0 .2 .8 .2 1.9 .5-.5 .2 1.3 .2 .5 .2-.5 .2-2 .5 8.7 .2 .2 .2 2.2 .2 .8 .2-1.3 .5 3.1 .2 1.4 .2-.1 .2-1.9 .2-3.3 .5-1.8 .2 .8 .2-1 .2 .7 .1-.2 .6-3.3 .2-.1 .2-.4 .1 0 .2-.8 .6-4.3 .2 .3 .2-.5 .1-.9 .2 1.8 .6-.1 .2-1.8 .1-.2 .2-.1 .2-.9 .6 4.2 .2-1.1 .1 .7 .2-.1 .2-1.8 .6-5.5 .1-1.1 .2 0 .2-1.7 .2-1.4 .5-5 .2 0 .2 .3 .2-1 .2 0 .5 3.7 .2 1.8 .2-.3 .2-.5 .2 1 .5-5.1 .2-2 .2-.4 .2-.3 .2 0 .5 .8 .2-2.7 .2 .1 .2 .6 .2-2.2 .5-3.2 .2-.6 .2 .8 .2 .1 .1 .2 .6 1.1 .2-3.9 .2-1.1 .2 .1 .1-3.9 .6-4.3 .2 .8 .2 .1 .1-.3 .2-2.2 .6 0 .2 3.7 .2-.5 .1 .8 .2 2.5 .6 1.5 .2 2.5 .1 1.3 .2-.9 .2 3 .6-14.3 .1-3.7 .2 .9 .2 .9 .2-2.5 .6-1.4 .1 1.1 .2 .1 .2 .5 .2 2.7 .5 .6 .2-1.2 .2-.3 .2-.5 .2-3.9 .5 9.6 .2 1 .2 1.3 .2 .1 .2 2.5 .5-1.7 .2 1.5 .2 .2 .2 .3 .2 1 .5 1.3 .2 2.7 .2 .6 .2-1.1 .2 .1 .5-1.3 .2 .9 .2-.2 .2 1.6 .1-.2 .6-5.3 .2 .2 .2-.9 .2-.4 .1-.7 .6-.2 .2 1.2 .2-.4 .1-.8 .2-1.9 .6-4.8 .2-.3 .2-.4 .1 .8 .2-.8 .6-5.7 .2-.9 .1 .2 .2 .1 .2-1.5 .6-4.6 .1 1.3 .2 1.9 .2-.3 .2-1 .6-4.1 .1-2.7 .2-1.5 .2-1.8 .2-.3 .5-7.1 .2 2.6 .2-1.5 .2-.4 .2 .4 .5 4.9 .2-1.1 .2-1.6 .2 .2 .2 .2 .5-5.2 .2-.1 .2-2.2 .2-.9 .2 .2 .5-10.7 .2 3.9 .2 4.2 .2-.6 .2-.6 .5 3.3 .2-1 .2 4.1 .2 0 .1-.4 .6 6 .2 3.5 .2 .5 .2 .1 .1 .1 .6 1 .2 2.6 .2 .3 .1 0 .2 .6 .6 5.1 .2 1.6 .1 2.3 .2-.2 .2-.3 .6 4.6 .2 .2 .1 0 .2-.2 .2-.3 .6-1.7 .1 2.4 .2-4.9 .2 .2 .2-.1 .6-2.7 .1 2 .2-3.1 .2-.7 .2 .4 .5-3 .2 .5 .2-4.4 .2-.4 .2-.4 .5-5.2 .2-3.1 .2 1.7 .2 .1 .2-.1 .5 .1 .2 .2 .2 2.4 .2 .6 .2 .4 .5-.8 .2 .8 .2 2.3 .2 .4 .2 .9 .5 1.5 .2 .5 .2 .6 .2 .3 .1-1 .6-.1 .2-.1 .2-2.8 .2-.8 .1-.5 .6-9.8 .2-.2 .2 1.2 .1-.5 .2-.6 .6-5.3 .2 2.8 .1-.6 .2-.7 .2 .2 .6 3.3 .2-1.3 .1 .5 .2 .5 .2-.1 .6 1.5 .1-.9 .2-1.9 .2 .4 .2 .2 .6-1.5 .1-3 .2-2.6 .2 .2 .2 1 .5 3.9 .2-1.3 .2 0 .2-.1 .2 .2 .5-2.1 .2 1.1 .2-.9 .2 .1 .2 .4 .5-1.2 .2-1.6 .2-4.2 .2-.4 .2 0 .5-5.2 .2-.3 .2-.3 .2 .8 .2 .9 .5-4.7 .2-2.4 .2-3 .2-.1 .1 .3 .6-6.6 .2 .6 .2-.9 .1-.1 .2 .1 .6-.1 .2 .1 .2 1.4 .1-1.1 .2-.4 .6 3.3 .2-.3 .1 2.3 .2-.3 .2-.5 .6 6.3 .2 3.5 .1-.9 .2 .1 .2 1.6 .6 6.6 .1 1.6 .2 .1 .2 .1 .2-.7 .5-.1 .2-.1 .2-.9 .2 .5 .2 1.2 .5-.4 .2-.6 .2 1.1 .2 .9 .2-.5 .5 2.1 .2 1.1 .2-1.3 .2 .3 .2-.4 .5 2.7 .2-.9 .2 2.7 .2 .2 .2-.5 .5-1.7 .2 2.6 .2-2.9 .2-.2 .2-.4 .5 .8 .2 1.7 .2 2.3 .2-.4 .1-.3 .6 .2 .2 .2 .2-1.4 .1-.2 .2-.4 .6-6.6 .2-.8 .2 1.1 .1-.6 .2 .5 .6 2.5 .2-3.1 .1-1 .2 1.1 .2 0 .6-1.5 .2-.7 .1 .4 .2 .2 .2 .4 .6 6 .1 1.2 .2 .3 .2-.2 .2 0 .5-.2 .2-3.2 .2-.5 .2 .3 .2-.9 .5-3.6 .2 2.1 .2-.6 .2-.3 .2-.2 .5-6.1 .2 0 .2-1.8 .2 0 .2-.6 .5 .2 .2-1.9 .2-.3 .2 .1 .2-.4 .5 1.8 .2-1.5 .2 .9 .2-.2 .1-.1 .6-3.7 .2-2.4 .2-1.4 .2-1 .1 .1 .6-.8 .2 4.1 .2-.4 .1-.3 .2 0 .6 .7 .2 1.3 .2 .7 .1-.8 .2 .2 .6 2.8 .2-1.2 .1 2 .2 0 .2-.7 .6 2.8 .1 .4 .2-1.6 .2 .3 .2-.2 .6 2.9 .1-2.5 .2-1.4 .2 .1 .2-.2 .5-1.2 .2-3.3 .2-1.2 .2 .6 .2 .3 .5 .2 .2-1.6 .2-1.3 .2 0 .2 .1 .5 1.9 .2-.8 .2-1.4 .2-.8 .2-.1 .5-2.4 .2-.6 .2-.6 .2 0 .2-.5 .5-4.5 .2-1 .2-1.1 .2 .3 .1 .1 .6-3 .2-2.8 .2-1 .2-.2 .1-.3 .6 .9 .2 2.9 .2 5.2 .1-.2 .2-.2 .6 6.2 .2-1.5 .2-1.4 .1-.4 .2 .5 .6-3.1 .2 1.5 .1-1.9 .2 0 .2-.1 .6-2.9 .1-1.3 .2-.5 .2-.9 .2-.2 .6-6 .1-.2 .2-.1 .2 .1 .2 1.3 .5-.4 .2-2.1 .2-.6 .2-.9 .2 0 .5-2.8 .2-2.2 .2 1.5 .2-.3 .2 .1 .5-4.7 .2 .8 .2 2.2 .2 .5 .2 .8 .5-3.4 .2-.7 .2-.5 .2-.2 .2-.8 .5-2.5 .2-.5 .2-1.6 .2 .4 .1-.7 .6 .1 .2 .4 .2 1.3 .2 0 .1-.2 .6-5.2 .2-.2 .2 3 .1-.2 .2 .3 .6-.9 .2 1.2 .1 2.2 .2-.4 .2-.4 .6 3.3 .2 1.7 .1 .3 .2 .6 .2 .6 .6 .3 .1-1.4 .2 2.7 .2 .1 .2 0 .6 .7 .1 1.6 .2-1.8 .2-.4 .2 .5 .5-.8 .2-1.7 .2 1.1 .2-.1 .2 .4 .5-2.6 .2 .4 .2-2 .2-.6 .2-.2 .5-4.1 .2-2.5 .2 1.6 .2-.1 .2-.1 .5-3.3 .2-.7 .2-.2 .2-.1 .2 .5 .5 .2 .2 1.4 .2-3.5 .2 .7 .1-.9 .6-4.5 .2-.1 .2-1.3 .1-.2 .2-.7 .6-1.1 .2-.3 .2 .4 .1-1.4 .2-.5 .6 1.4 .2-.7 .1-.1 .2 .3 .2-.5 .6 4.4 .2 .8 .1 3.3 .2 .1 .2 .3 .6 4.5 .1 2.2 .2 1.9 .2-.4 .2 .5 .6 1.1 .1 1.2 .2 0 .2 .1 .2-.6 .5 4.7 .2-3.5 .2 .1 .2-.9 .2-.7 .5 1.5 .2 .5 .2-1.9 .2 .4 .2-.2 .5 5.4 .2-.9 .2-.8 .2 .9 .2 .5 .5-2.2 .2 .6 .2 .3 .2-.6 .2-.8 .5-6.9 .2-1.5 .2-3.1 .2-.4 .1 .5 .6 2 .2 3 .2 1 .1 .9 .2-.6 .6-.9 .2-1.6 .2-1.8 .1 .6 .2 .3 .6-.8 .2-1.3 .1 1.6 .2-.6 .2-1 .6 3.5 .2 .3 .1 1.6 .2-.6 .2-.4 .6 1.6 .1-.5 .2-1.8 .2-1 .2-1.3 .5-1.4 .2-.9 .2 1.6 .2-.2 .2-.3 .5-.5 .2 3.1 .2 .1 .2 .9 .2 1.1 .5-2.6 .2-1 .2 .6 .2 1.5 .2-.5 .5-3.4 .2-.4 .2-.7 .2-.4 .2 0 .5 .4 .2-.3 .2-.7 .2-1 .1 1.5 .6-1.7 .2 1.1 .2-2.1 .2-.2 .1-.9 .6-1.4 .2 0 .2-1.5 .1-.6 .2-.5 .6 .4 .2-.2 .2 2.4 .1-1.5 .2 1.2 .6 6.9 .2 4.2 .1 2.8 .2 .8 .2 .5 .6 1.6 .2 .5 .1 2.4 .2 1.4 .2-.1 .6-1.7 .1-1.1 .2-1.9 .2-.5 .2-.7 .5-5.5 .2-.3 .2 .8 .2-.9 .2 .3 .5 .3 .2 .5 .2 1.6 .2-.2 .2 .1 .5-1.1 .2 1 .2 2.4 .2-.4 .2-.9 .5 .2 .2 .1 .2 .9 .2-.7 .2-.9 .5-.6 .2-.5 .2 2.4 .2 .1 .1-.2 .6 .7 .2-.4 .2-1.3 .2-1.2 .1-.8 .6 2.8 .2-2 .2 1.2 .1 0 .2-1.3 .6 2.2 .2 1.6 .2 .9 .1 .1 .2 .4 .6 3.1 .2 1.5 .1-.5 .2 .3 .2 .6 .6-.9 .1 .9 .2 .1 .2-.5 .2-.2 .6 .6 .1-.8 .2-.9 .2 1.1 .2 0 .5-2.7 .2 2.1 .2 .1 .2 0 .2 .1 .5-.5 .2-.7 .2 .8 .2 .8 .2 0 .5 2.3 .2-1.1 .2 3 .2-1 .2-1.1 .5-.4 .2-.2 .2-.5 .2-1.2 .2-.4 .5 1.1 .2 .5 .2-.5 .2 1.1 .1 1.2 .6-2.2 .2-1.3 .2-.6 .2 .9 .1-.7 .6-1.4 .2 1.1 .2 1.3 .1-1.2 .2-.8 .6-.2 .2 .3 .1-.2 .2-.1 .2-1.4 .6 3.1 .2 .8 .1-.9 .2-.5 .2-.5 .6 .9 .1-.3 .2 1.1 .2 .9 .2 .5 .6 .9 .1 .1 .2 .8 .2 .4 .2 .1 .5 1.4 .2 2.2 .2-.5 .2 .7 .2-.6 .5-1.9 .2-1.4 .2 0 .2 .1 .2 .5 .5-2.4 .2-1.5 .2 .2 .2-.6 .2-.2 .5-1.3 .2 2.9 .2 1.5 .2 1.4 .2-1.1 .5-3.6 .2 1.4 .2 3.8 .2 2.2 .1-.5 .6 3.2 .2-1.3 .2 0 .2-.2 .1 .8 .6 1.5 .2 1.2 .2 .3 .1 1.6 .2 .1 .6 2.1 .2-1.9 .1-.9 .2-1.4 .2-.2 .6 .5 .2-1.8 .1-1.9 .2 1.8 .2 3.6 .6-1.6 .1-.4 .2 .7 .2 2.1 .2-.4 .6 1.6 .1-.6 .2 .2 .2-1.5 .2 .1 .5-1.6 .2-.6 .2 3 .2 .5 .2-1.7 .5-.6 .2 1.5 .2 1.7 .2 .1 .2 1.2 .5 2.1 .2 1.3 .2 1.7 .2 .2 .2 1 .5-.6 .2 1.8 .2-.7 .2 3.7 .2 .8 .5-.7 .2-2.2 .2-.4 .2-1.4 .1-1 .6 1.5 .2-.4 .2-.3 .1-2.7 .2-.1 .6 2.3 .2 .1 .2-1 .1-1.4 .2-1.8 .6 1.2 .2-.5 .1-1.4 .2 .3 .2 0 .6 4.9 .2 .3 .1-1.5 .2 1.8 .2 .1 .6-.9 .1-1.7 .2-2.8 .2 .6 .2-.6 .5 1.8 .2-1.6 .2 0 .2-.8 .2-.2 .5 1.4 .2 .1 .2-.8 .2 .1 .2-.1 .5-3.9 .2-1.4 .2 1.9 .2-.1 .2 .2 .5-.5 .2 .6 .2-.1 .2-.2 .2 .3 .5-3.2 .2-1.5 .2 .3 .2-.6 .2 .2 .5-1.4 .2-.8 .2-1.4 .2-.2 .1-.3 .6-.7 .2 0 .2-.6 .1-.3 .2 .1 .6-.6 .2 2 .2-.4 .1-.7 .2 .4 .6 1 .2 2 .1 .3 .2-1.1 .2 .4 .6-.7 .2-.4 .1 .8 .2-.3 .2-.4 .6 .5 .1-1.2 .2-.5 .2-.3 .2 .1 .5-3.1 .2 .8 .2-1.2 .2-.2 .2 .1 .5-.7 .2 .6 .2-.9 .2 .1 .2 .1 .5 1.6 .2 .8 .2 .4 .2 .4 .2-.2 .5-1.9 .2 2.1 .2 .9 .2 .5 .2 .4 .5 .1 .2 .6 .2 .7 .2 .4 .1 .2 .6 2 .2 .2 .2 .6 .2 .7 .1 1.7 .6-.7 .2-.7 .2 .9 .1-2 .2 .1 .6 .2 .2-.9 .2 0 .1 .2 .2-.1 .6 .7 .2 .6 .1 .3 .2-.5 .2-1.1 .6 .4 .1 .3 .2 .6 .2-.6 .2 1 .6-1.7 .1-2.4 .2-1.9 .2-.3 .2-.9 .5-1.5 .2-.5 .2 .9 .2-.2 .2-.5 .5-1.4 .2 .6 .2 .1 .2-.8 .2-1 .5-1.7 .2-1.4 .2-.2 .2 .6 .2-1.2 .5 1.6 .2 1.3 .2-.4 .2 1.4 .2 1 .5-.3 .2-.7 .2 .7 .2 1.1 .1-.7 .6 .3 .2 0 .2-.3 .2-.9 .1-.2 .6 .2 .2 .8 .2 .8 .1 0 .2-1.3 .6 1 .2 .2 .2-.8 .1-.1 .2-.2 .6 .2 .2 .1 .1 .6 .2-.7 .2-.6 .6-.7 .1-.8 .2 .1 .2-.7 .2 1.1 .6-.4 .1 1.5 .2-.4 .2 .4 .2 .3 .5-1.2 .2 .6 .2 .6 .2 0 .2 2 .5 1.2 .2 1.1 .2 .2 .2-.1 .2 .4 .5-1 .2 1.4 .2-.4 .2 1 .2 0 .5-.9 .2 2 .2 .4 .2-.9 .2-.9 .5-1.2 .2-.1 .2-2 .2-.2 .1-.1 .6-2 .2 .4 .2 0 .2-.9 .1 0 .6 2 .2 .1 .2 .5 .1-.7 .2 1.2 .6 1.5 .2 .6 .1-.9 .2 0 .2-.6 .6-1.1 .2 .1 .1 .8 .2-.7 .2-.6 .6-.6 .1-.5 .2-.2 .2 .6 .2 1.9 .6-.3 .1-.6 .2-.4 .2-.9 .2-.6 .5 1.4 .2-.7 .2 .1 .2-.1 .2 .4 .5-1.6 .2-.4 .2 .7 .2-.2 .2-.7 .5 1.1 .2 .1 .2 .2 .2 .3 .2 .1 .5 1 .2 .9 .2-.6 .2-1.2 .2-1.5 .5-1.6 .2-.4 .2-.2 .2 .1 .1-.8 .6-.9 .2-.4 .2 .5 .2-.7 .1-1.3 .6-1 .2-1.3 .2-.4 .1 0 .2 .3 .6 3.1 .2 2.5 .1-1.2 .2-.1 .2-.9 .6 .8 .2-2.3 .1-1.6 .2-.8 .2-1.7 .6-1.3 .1 1.2 .2-.5 .2 .1 .2 .8 .6 3.3 .1-6 .2 1.3 .2 2.6 .2 1.5 .5 2.3 .2 2.2 .2 4.6 .2 .7 .2-2.8 .5-3.8 .2-3.6 .2 2.8 .2 3.3 .2 6.8 .5 2.8 .2 7.3 .2-2 .2-.6 .2-7.9 .5 10.3 .2-1.8 .2 0 .2 3.6 .2-.8 .5-2.8 .2-6.2 .2-2 .2-2.1 .1 1.5 .6 5 .2 .1 .2-.5 .1 .3 .2 .1 .6 .8 .2-4.5 .2-.4 .1-1.4 .2-.9 .6-.9 .2 .7 .1 2.5 .2-10 .2-3.8 .6-.6 .2 5.3 .1-.2 .2-3.7 .2-1.3 .6-2.3 .1-.3 .2-.5 .2-3 .2 5.9 .5 1 .2 1.1 .2 .6 .2 4.5 .2-2.3 .5 .2 .2-1 .2 0 .2 .7 .2-.8 .5 1.1 .2 .7 .2-1.6 .2-1.3 .2-1.2 .5 1.4 .2-3.3 .2-.8 .2 .2 .2-1.1 .5 1.3 .2-.6 .2 1 .2-2.7 .1-.6 .6-.6 .2 .3 .2 0 .2 4.5 .1-.7 .6-1.5 .2 2.9 .2-2 .1-1.8 .2-2.6 .6-.3 .2 3.1 .2-1.1 .1 .2 .2 1.3 .6 1 .2-1.8 .1-2.7 .2-1.2 .2 .8 .6-2.7 .2 .7 .1 .3 .2 .9 .2-.9 .6-1.4 .1-.9 .2 .3 .2-.2 .2 1.3 .5 .6 .2 .3 .2 1.4 .2 .6 .2 1 .5 .9 .2-.8 .2 .7 .2-.1 .2-1 .5-1.9 .2-1.3 .2-1.7 .2-1.1 .2-.8 .5-3.1 .2-.5 .2 .1 .2-.9 .2 1.5 .5-3 .2 .6 .2-.9 .2-.5 .1-1.7 .6 .1 .2 .2 .2-1 .2-.6 .1 .3 .6 1.5 .2-1.8 .2 .3 .1 2.7 .2 2.6 .6 2.8 .2 3.8 .2-.7 .1-.2 .2 .3 .6-.4 .2 .9 .1-.5 .2-.2 .2 .5 .6 .6 .1-.5 .2-.2 .2-.2 .2-.9 .6-1.1 .1 .9 .2-1.2 .2-.6 .2-1.1 .5-1.6 .2-1.3 .2-1.2 .2-.5 .2-2.1 .5-1.9 .2 .1 .2-.5 .2 4.3 .2 1.3 .5 3.2 .2-.3 .2 1.5 .2-1.5 .2-.1 .5 3 .2 .2 .2 1.5 .2 .4 .2-.2 .5 1 .2 .5 .2-1 .2 0 .1-2.9 .6-.8 .2 .3 .2 .2 .2-.4 .1-1.6 .6 .5 .2 2.4 .2-.7 .1-2.5 .2 1.7 .6-1.8 .2 1.3 .2 .2 .1 .2 .2 .1 .6-1.8 .2-.4 .1 .9 .2-1.9 .2 1.4 .6-1.7 .1-.4 .2-1.7 .2-.3 .2-1 .6-.5 .1-1.2 .2-.9 .2-2.1 .2 1.3 .5 .4 .2 .6 .2-.4 .2 .9 .2-.4 .5 1.3 .2 .9 .2-1.3 .2 0 .2-.2 .5 1.7 .2 .6 .2-.3 .2 0 .2 0 .5 2.6 .2-1.5 .2-.2 .2-1 .2-.2 .5-.1 .2 2 .2-1.1 .2-.8 .1 .7 .6-1.1 .2 1.2 .2-.5 .2 1.3 .1 1.5 .6-1.2 .2-2 .2 .6 .1-.4 .2-.1 .6-1.9 .2-.6 .1-3.2 .2-.8 .2-.3 .6 .1 .2 .4 .1-.7 .2 2.5 .2 .6 .6 .7 .1 .8 .2 .5 .2 .3 .2 0 .6 1.7 .1 1.7 .2 .9 .2 1.3 .2-.6 .5 .9 .2-.9 .2 0 .2-.7 .2-.3 .5-1.4 .2-1.5 .2-.6 .2 1 .2 .5 .5-.2 .2 1.6 .2 1.9 .2 .1 .2 .9 .5-.5 .2-1.8 .2-.5 .2-.6 .2-1.3 .5-.5 .2 .2 .2-.8 .2-1.3 .1 .1 .6-1.9 .2-.7 .2-.1 .1-.6 .2-.1 .6 .2 .2 .1 .2 .5 .1-.4 .2 .9 .6 .6 .2 .8 .1-2.1 .2 .6 .2 1.2 .6-.9 .2 .6 .1 1.3 .2 .1 .2-.4 .6-2.8 .1 .3 .2-.4 .2-.5 .2-.9 .6-1.7 .1 0 .2 .4 .2 .1 .2-.7 .5 1.4 .2-1.2 .2-.7 .2-.1 .2 .2 .5-2.5 .2-1.8 .2 .1 .2-1.3 .2-1 .5 1.2 .2-2.2 .2-.6 .2 .2 .2 .6 .5 .2 .2 1.8 .2-.5 .2-1.2 .2-.4 .5 .9 .2-2 .2 1.5 .2-.9 .1 0 .6-.2 .2 .9 .2 .5 .1 .1 .2 .3 .6-1.4 .2 .4 .2-.1 .1 .1 .2 .1 .6-3.6 .2-1.6 .1-.7 .2 .1 .2-.4 .6-.6 .2 1 .1-1.7 .2 .6 .2-2 .6-.4 .1 1.8 .2-.4 .2 .3 .2 .9 .5 .4 .2 0 .2 .7 .2-.7 .2-1.3 .5 .1 .2-.2 .2 0 .2 .2 .2 .4 .5 1.3 .2-.3 .2 .8 .2-.5 .2-.6 .5 1.7 .2-.6 .2 1.3 .2 .3 .2-.5 .5 .6 .2 .5 .2-1.1 .2 .3 .1-.9 .6 .6 .2 .4 .2 0 .2 1 .1 .8 .6 2.1 .2-.4 .2-1.5 .1-.4 .2 .8 .6 2.2 .2 1.5 .2 2 .1 .6 .2 .4 .6 2.7 .2 1.7 .1-.3 .2 .5 .2-1 .6-1.6 .1-.7 .2 .1 .2 .3 .2-1.6 .6 1.8 .1 .5 .2-.8 .2 0 .2-1.5 .5 1.8 .2 .3 .2-.1 .2-1 .2-1.2 .5-1.2 .2-1.6 .2 .3 .2-.2 .2-.8 .5-.3 .2 .4 .2-.5 .2 .1 .2 .5 .5 2.3 .2 .7 .2-1 .2 .5 .2-2.2 .5 0 .2-1.7 .2 1 .2 .4 .1-.3 .6 .7 .2 .5 .2-.9 .2 1.2 .1 .4 .6 1.8 .2-.1 .2 .1 .1 .1 .2-.2 .6-.2 .2-.8 .2 1.1 .1-1.5 .2-1 .6 1.9 .2-1.2 .1 1.9 .2 1 .2-.3 .6-1.5 .1-2 .2-1.2 .2-1.8 .2-.9 .6-1.7 .1 1.5 .2 1.1 .2-.6 .2 .5 .5 .9 .2-.6 .2 1.6 .2 2.6 .2 .6 .5 .9 .2 .1 .2 .2 .2 2.2 .2 .2 .5 1.8 .2 .2 .2 1.4 .2 2 .2-.5 .5 .7 .2 1.8 .2 1.4 .2-.5 .2-.8 .5 1 .2 1 .2-.6 .2-.8 .1-2.9 .6-5.1 .2 .3 .2 .9 .2 1.3 .1 2.4 .6 .6 .2 1.8 .2 .4 .1 1.4 .2 1.1 .6 1.8 .2 .1 .1-.1 .2 .2 .2-.1 .6-2.1 .2-.8 .1-4.9 .2-1.6 .2 1.9 .6-.3 .1 5.5 .2 2.2 .2-1.3 .2 0 .6 .8 .1-2.1 .2-1.6 .2-.3 .2-1.8 .5 .3 .2 .4 .2-2.4 .2-.6 .2-.2 .5-1.8 .2-2 .2-.2 .2 .9 .2-.7 .5 2.4 .2 3.2 .2 3.5 .2 1.7 .2-.8 .5-3 .2 2.2 .2 3.1 .2 .1 .2-.1 .5 2.9 .2 .9 .2 3.5 .2 .7 .1-.9 .6-3.1 .2 1.1 .2 1.2 .2 .3 .1 .9 .6-2.3 .2-.6 .2-.4 .1 1.9 .2 1 .6 1.1 .2-.4 .1 1.2 .2 2 .2 1.5 .6 1.4 .2 1.9 .1 .8 .2-.6 .2-.8 .6 .6 .1 .3 .2-2.8 .2-.8 .2 0 .6-1.7 .1-.3 .2 .7 .2-.6 .2 .2 .5-1 .2 .7 .2 2 .2 3.1 .2 .6 .5 2 .2 1 .2 2 .2 2.1 .2-1.7 .5-1.6 .2 .1 .2-1.8 .2-1.1 .2 .4 .5 1.7 .2-.2 .2 .2 .2 1.2 .2 .6 .5-.1 .2-.8 .2-2.7 .2-1.3 .1 1.3 .6 0 .2 .4 .2 1.2 .1 .4 .2-1 .6 .6 .2 .5 .2-1.8 .1-.8 .2 .6 .6 .3 .2-2.2 .1-2.5 .2-2.1 .2 .9 .6-2.4 .2-1.6 .1-1.3 .2-.7 .2-1.2 .6-3.3 .1 .7 .2 0 .2 .2 .2 .9 .5-1.8 .2 0 .2 2.2 .2 .3 .2 2.3 .5-1.8 .2 1.7 .2 1.3 .2 .2 .2-1.6 .5 .2 .2 2 .2-1.8 .2 1.8 .2 1.7 .5 8.3 .2 1.1 .2-2 .2-1.5 .2-.8 .5-4 .2 1.3 .2 2.2 .2-1 .2 2.3 .5 4.3 .2 3.2 .2 .6 .2 2.6 .1-.1 .6-2.6 .2 3.3 .2 1.7 .1 3.4 .2 .5 .6-1.4 .2-1.5 .2-1.1 .1 .8 .2 1.5 .6 2.4 .2 3.3 .1 .6 .2-1.7 .2 1.2 .6-.2 .2-2 .1-1.2 .2-.6 .2 1.1 .6-2.1 .1-3 .2 1.6 .2 1.5 .2 3.4 .5 1.1 .2-1.2 .2-1.6 .2 .3 .2-.7 .5-4.1 .2-2.5 .2 .9 .2-1.4 .2-.8 .5-3.3 .2-3.6 .2-1.4 .2-1.6 .2 0 .5 2.5 .2 .2 .2-.7 .2 .3 .2 .8 .5 2 .2-2.5 .2 .6 .2-.2 .1 .7 .6 4.1 .2 .6 .2 4.3 .2 .4 .1 1.8 .6-2 .2-1.8 .2-.7 .1-.1 .2 1.6 .6 1.3 .2 1.9 .2 .4 .1 2.1 .2 1.4 .6 .1 .2-.6 .1 0 .2-2.7 .2 .6 .6-5.7 .1-1.1 .2-2.3 .2-.8 .2-2 .6-4.3 .1-.5 .2-.1 .2-.6 .2-.6 .5-.3 .2-2.6 .2-1.1 .2 1.3 .2-1.6 .5-5.7 .2-.6 .2 1.5 .2-2.2 .2 .1 .5 3.7 .2 .9 .2-.3 .2-1.3 .2-.1 .5-2.8 .2 1.2 .2 1 .2-.1 .2-.3 .5 .9 .2 .4 .2-.5 .2 1.5 .1 1.3 .6 .3 .2-.3 .2-.1 .2 1.6 .1-.3 .6 .7 .2-.4 .2-.4 .1-.2 .2-.3 .6-.6 .2-3.2 .2-.7 .1 .4 .2 .1 .6-2.4 .2 1 .1 .1 .2-.6 .2-.4 .6 2.7 .1-1.6 .2-1.5 .2-.3 .2-2.4 .6 1.6 .1-2.1 .2-1.5 .2-.9 .2 1 .5 3.3 .2 .5 .2 1 .2 .8 .2 1.9 .5 2.5 .2-.7 .2 1.2 .2-.3 .2 .5 .5-.8 .2 3 .2-.1 .2 .1 .2 .2 .5-1.3 .2-.8 .2-.7 .2-.7 .2 0 .5 1.3 .2 2.1 .2 .1 .2 .8 .1 0 .6-1.4 .2-2 .2-.4 .2-1.5 .1-.4 .6-.3 .2-.9 .2-1.2 .1 0 .2 .7 .6 .3 .2 1.8 .1 .3 .2-.6 .2-1.2 .6 1 .2-.1 .1-.5 .2-.7 .2-1.3 .6 .2 .1-.1 .2 .2 .2-.9 .2 1.3 .6-1.9 .1-.8 .2-1.1 .2-1.5 .2 2 .5-1.3 .2-1 .2-1.6 .2 2.1 .2-.9 .5-2.2 .2-.1 .2 1.4 .2-1.7 .2-.4 .5-2.4 .2-.2 .2 .1 .2-.5 .2-.6 .5-2.7 .2-.5 .2-.9 .2-.2 .2-1.1 .5-2.1 .2 1.6 .2 .4 .2 .2 .1-.7 .6 3.7 .2-1.7 .2 .7 .2-.1 .1 .5 .6 1.1 .2 1.5 .2-1.1 .1 .6 .2 2.8 .6 1.8 .2-.6 .1 .2 .2 1.4 .2 1.1 .6-.1 .2 .3 .1 .4 .2 .2 .2-.8 .6-2.6 .1-2.2 .2 .1 .2-1.2 .2-1.3 .6 .7 .1-2.8 .2-.9 .2-.1 .2-2.4 .5 1.5 .2 .5 .2 .7 .2 .4 .2-.6 .5-3.6 .2 2.9 .2 0 .2 .1 .2 .5 .5-.2 .2 1.9 .2-.5 .2 1.4 .2-3.8 .5 0 .2-1.3 .2-.4 .2-1.3 .2-2.7 .5-4.2 .2-1.5 .2 0 .2-.8 .1-3.7 .6-6.9 .2-5.5 .2-.2 .1 .5 .2 9.9 .6-1.6 .2 1 .2-.4 .1 .5 .2-.2 .6-6.8 .2-3.2 .1 .3 .2 .7 .2-2 .6 13.1 .2 3.2 .1-1.2 .2-.8 .2-.9 .6-8.8 .1-4.2 .2-.9 .2-.9 .2-2.1 .5-8.7 .2-5 .2-.5 .2-.8 .2-.5 .5-.9 .2 2.7 .2-1.2 .2 .3 .2-2 .5 8.3 .2-.7 .2-.5 .2-.2 .2 1.7 .5 1.5 .2 2.7 .2-1 .2-.9 .2 2.1 .5-1.7 .2-3.7 .2-1 .2-.3 .1 1.9 .6 1.2 .2 3.3 .2 .4 .2-1.5 .1-3.1 .6-4.9 .2 1.1 .2-.3 .1 .1 .2 1.9 .6 2.6 .2 2.8 .2 .4 .1 1.4 .2 1.1 .6-3 .2-2.8 .1-.3 .2 0 .2-4.7 .6-3.3 .2-2.2 .1-.2 .2-1.1 .2 1 .6 4.3 .1 .6 .2 .2 .2 .1 .2-.4 .5-3.8 .2 .1 .2 1.1 .2-.2 .2 .9 .5 5.9 .2 .3 .2 0 .2-1.3 .2-.5 .5-6.9 .2-1 .2-.2 .2 .9 .2-2.6 .5-2.1 .2-1.5 .2 .2 .2-.5 .2-.5 .5-3.2 .2 3.5 .2 .1 .2-1.2 .1 .6 .6 .7 .2 1.8 .2-5.2 .2-.1 .1-.1 .6-.2 .2 3.2 .2 .9 .1-.3 .2 1.5 .6 4.2 .2-2 .2 3.2 .1-.4 .2 .1 .6 5.2 .2 2.1 .1 2.5 .2-1.6 .2 .9 .6 .8 .1-2.9 .2-.5 .2-.9 .2 1.4 .6 3.5 .1 2.9 .2 2.2 .2 0 .2-.5 .5 2 .2 3.1 .2-1.1 .2-.7 .2 .1 .5 4.1 .2-3.2 .2-5.9 .2-2.2 .2 .2 .5 .7 .2 4.5 .2-.2 .2 .3 .2 0 .5-.7 .2-.7 .2 5.4 .2-.1 .2-1 .5-2.8 .2-1 .2-4.2 .2-.5 .1-.3 .6 1.6 .2-.4 .2-1.4 .2 .4 .1-.4 .6-2.1 .2 .8 .2 3 .1-.1 .2-.6 .6 1.9 .2 .3 .1-1.3 .2-1.5 .2 .3 .6 2.2 .2-.1 .1 .4 .2-.5 .2 .2 .6-1.1 .1-.7 .2-.9 .2-.1 .2-.4 .6 .1 .1-1.2 .2 1 .2 .8 .2 .7 .5-1 .2-.4 .2-.6 .2-.4 .2-1 .5-4.9 .2 1.5 .2-.9 .2 .8 .2-.3 .5 4.3 .2 .4 .2 2 .2 2.2 .2 0 .5 4.5 .2 1.2 .2 .9 .2 1.7 .2-.5 .5 1.5 .2-.8 .2-.2 .2 2.1 .1 2.4 .6 2.5 .2 .4 .2-1.3 .2 0 .1-.3 .6-2.1 .2-.4 .2 .7 .1-1 .2-1.7 .6-1 .2 .1 .1-.1 .2 0 .2-.6 .6 1.9 .2-.8 .1 .7 .2-.4 .2 .4 .6 1.2 .1 1.7 .2 .8 .2 1.5 .2 1.4 .6 1 .1-1.4 .2 .4 .2-1 .2 .4 .5-.2 .2-.8 .2 2.1 .2-1.1 .2 .1 .5 2.1 .2-1.5 .2-3.5 .2-2.2 .2-.7 .5-2.7 .2-.6 .2-2.3 .2 0 .2 .7 .5 1.5 .2 1.2 .2 1.2 .2 .4 .2 1.3 .5 1.1 .2 1.2 .2 .2 .2-.5 .1 .3 .6-2.1 .2-2.4 .2 1.8 .1 .4 .2-.2 .6-3.6 .2 .3 .2 1.9 .1 .1 .2-1.3 .6-3.8 .2 1 .1 .4 .2 .1 .2-1.3 .6 2.4 .2 1 .1 .3 .2 2.1 .2 .4 .6 1.8 .1-1 .2 .6 .2-1.2 .2-.5 .6 .9 .1-1.2 .2-1.2 .2-.3 .2-.9 .5 .7 .2-.5 .2 .9 .2-1.3 .2-.2 .5-4.4 .2 .8 .2-.1 .2-1.3 .2 1.1 .5 2.7 .2 .5 .2 2.4 .2 .2 .2 .7 .5 .1 .2 1.7 .2-.7 .2-.2 .2-1.3 .5 4 .2 1.1 .2 .9 .2 .4 .1 .5 .6 .3 .2 .6 .2-.6 .1-1.4 .2 .2 .6-.1 .2 .8 .2 .4 .1 .2 .2-.2 .6-2 .2-1.7 .1-2.7 .2-1.3 .2 1.1 .6 0 .2-1 .1 0 .2-.1 .2-1.2 .6-1.8 .1 .5 .2 .5 .2 .3 .2 0 .5 2 .2-2.2 .2-.7 .2 .3 .2 .3 .5 .1 .2 1.1 .2-1.2 .2 1.3 .2 1.9 .5 .2 .2 2.2 .2 1.5 .2 1 .2 .5 .5 1.4 .2-1.2 .2 2.1 .2 1.1 .2 1.2 .5 2.1 .2 .2 .2 .8 .2 .6 .1-.3 .6 .4 .2-1.9 .2 1.8 .2-2.2 .1 2.5 .6-3.3 .2 .8 .2-.2 .1-.7 .2 3.7 .6 2.9 .2 1 .2-.7 .1 4.9 .2 5.9 .6 1 .2 2.1 .1-9.7 .2-.1 .2 2.8 .6-1.3 .1-2.5 .2 5.6 .2 .2 .2 .1 .6 1.2 .1 0 .2 2.1 .2-1.9 .2-2.5 .5-.5 .2-.7 .2-2.6 .2-3.9 .2-3.5 .5-5.9 .2 2.1 .2 3.1 .2-2.9 .2-4.2 .5 8.1 .2-1.2 .2-2.7 .2-4 .2-1.7 .5-3.3 .2-1.4 .2 .5 .2 1.5 .2 .4 .5-.7 .2-1.3 .2 .7 .2 .7 .1-.4 .6 2.7 .2 .6 .2-.7 .2-.1 .1-.6 .6 2.6 .2-1.4 .2-1.1 .1-.2 .2-.6 .6-.4 .2-.4 .2-.1 .1 1 .2-.1 .6-4 .2-1.3 .1 .9 .2-.6 .2 0 .6-3.7 .1-1.6 .2-1.8 .2 .1 .2-.3 .6-.2 .1 1.4 .2 .9 .2 .4 .2 .5 .5 .4 .2 1.6 .2 2.1 .2-1.5 .2-.1 .5-.6 .2-1 .2-.6 .2-.5 .2-.5 .5 4.1 .2-.8 .2 1.3 .2-.3 .2 1.8 .5 .8 .2-1.7 .2-.5 .2-.8 .2-.4 .5-1.6 .2 1.3 .2-1.5 .2 1.1 .1 1.5 .6-2.7 .2 0 .2-.7 .2-.3 .1 .1 .6-.2 .2-.9 .2-3.3 .1 .3 .2 1.3 .6-1 .2 1.4 .1 .5 .2 .8 .2-1.2 .6 1.4 .2 .5 .1 1.7 .2-.8 .2-.3 .6 1.2 .1 0 .2 .6 .2-.5 .2-.5 .6-.8 .1 .4 .2 .8 .2 0 .2 .2 .5 2.3 .2-.8 .2 .6 .2-.3 .2-.1 .5 3.8 .2 .2 .2-1.7 .2-.7 .2 3.3 .5 1.2 .2-.1 .2 1.7 .2-1.2 .2-1.3 .5-1.5 .2-.8 .2-1.3 .2-.3 .2-.6 .5-.7 .2 .2 .2 .7 .2 .4 .1 .8 .6 3.9 .2 .3 .2 1 .2-.9 .1-.5 .6-.1 .2-.7 .2-2.5 .1 1.2 .2 1.1 .6-1.5 .2 .3 .1 2.3 .2 .6 .2-.1 .6-.5 .2-2.3 .1-1.5 .2-.3 .2-.9 .6 .8 .1 1.1 .2-.4 .2-.6 .2-.1 .6 1.4 .1 1.1 .2-.9 .2 .6 .2 .9 .5-1.1 .2 1.3 .2 1.8 .2-.1 .2-1 .5 .6 .2-.4 .2 .6 .2 .3 .2-.4 .5-.1 .2 0" fill="none" stroke="#FF0000" stroke-width="5.8" stroke-linejoin="round" stroke-linecap="round"/></g>
<text x="137.0" y="1376.8" font-size="32" text-anchor="start" fill="#595959" stroke="#595959" stroke-width="0.5" textLength="125.3" lengthAdjust="spacingAndGlyphs" transform="rotate(-90 137.0 1376.8)">12/31/99</text>
<text x="204.3" y="1376.8" font-size="32" text-anchor="start" fill="#595959" stroke="#595959" stroke-width="0.5" textLength="125.3" lengthAdjust="spacingAndGlyphs" transform="rotate(-90 204.3 1376.8)">12/30/00</text>
<text x="271.7" y="1376.8" font-size="32" text-anchor="start" fill="#595959" stroke="#595959" stroke-width="0.5" textLength="125.3" lengthAdjust="spacingAndGlyphs" transform="rotate(-90 271.7 1376.8)">12/30/01</text>
<text x="339.1" y="1376.8" font-size="32" text-anchor="start" fill="#595959" stroke="#595959" stroke-width="0.5" textLength="125.3" lengthAdjust="spacingAndGlyphs" transform="rotate(-90 339.1 1376.8)">12/30/02</text>
<text x="406.4" y="1376.8" font-size="32" text-anchor="start" fill="#595959" stroke="#595959" stroke-width="0.5" textLength="125.3" lengthAdjust="spacingAndGlyphs" transform="rotate(-90 406.4 1376.8)">12/31/03</text>
<text x="473.8" y="1376.8" font-size="32" text-anchor="start" fill="#595959" stroke="#595959" stroke-width="0.5" textLength="125.3" lengthAdjust="spacingAndGlyphs" transform="rotate(-90 473.8 1376.8)">12/30/04</text>
<text x="541.1" y="1376.8" font-size="32" text-anchor="start" fill="#595959" stroke="#595959" stroke-width="0.5" textLength="125.3" lengthAdjust="spacingAndGlyphs" transform="rotate(-90 541.1 1376.8)">12/30/05</text>
<text x="608.5" y="1376.8" font-size="32" text-anchor="start" fill="#595959" stroke="#595959" stroke-width="0.5" textLength="125.3" lengthAdjust="spacingAndGlyphs" transform="rotate(-90 608.5 1376.8)">12/30/06</text>
<text x="675.8" y="1376.8" font-size="32" text-anchor="start" fill="#595959" stroke="#595959" stroke-width="0.5" textLength="125.3" lengthAdjust="spacingAndGlyphs" transform="rotate(-90 675.8 1376.8)">12/31/07</text>
<text x="743.2" y="1376.8" font-size="32" text-anchor="start" fill="#595959" stroke="#595959" stroke-width="0.5" textLength="125.3" lengthAdjust="spacingAndGlyphs" transform="rotate(-90 743.2 1376.8)">12/30/08</text>
<text x="810.5" y="1376.8" font-size="32" text-anchor="start" fill="#595959" stroke="#595959" stroke-width="0.5" textLength="125.3" lengthAdjust="spacingAndGlyphs" transform="rotate(-90 810.5 1376.8)">12/30/09</text>
<text x="877.9" y="1376.8" font-size="32" text-anchor="start" fill="#595959" stroke="#595959" stroke-width="0.5" textLength="125.3" lengthAdjust="spacingAndGlyphs" transform="rotate(-90 877.9 1376.8)">12/30/10</text>
<text x="945.2" y="1376.8" font-size="32" text-anchor="start" fill="#595959" stroke="#595959" stroke-width="0.5" textLength="125.3" lengthAdjust="spacingAndGlyphs" transform="rotate(-90 945.2 1376.8)">12/31/11</text>
<text x="1012.6" y="1376.8" font-size="32" text-anchor="start" fill="#595959" stroke="#595959" stroke-width="0.5" textLength="125.3" lengthAdjust="spacingAndGlyphs" transform="rotate(-90 1012.6 1376.8)">12/30/12</text>
<text x="1079.9" y="1376.8" font-size="32" text-anchor="start" fill="#595959" stroke="#595959" stroke-width="0.5" textLength="125.3" lengthAdjust="spacingAndGlyphs" transform="rotate(-90 1079.9 1376.8)">12/30/13</text>
<text x="1147.3" y="1376.8" font-size="32" text-anchor="start" fill="#595959" stroke="#595959" stroke-width="0.5" textLength="125.3" lengthAdjust="spacingAndGlyphs" transform="rotate(-90 1147.3 1376.8)">12/30/14</text>
<text x="1214.6" y="1376.8" font-size="32" text-anchor="start" fill="#595959" stroke="#595959" stroke-width="0.5" textLength="125.3" lengthAdjust="spacingAndGlyphs" transform="rotate(-90 1214.6 1376.8)">12/31/15</text>
<text x="1282.0" y="1376.8" font-size="32" text-anchor="start" fill="#595959" stroke="#595959" stroke-width="0.5" textLength="125.3" lengthAdjust="spacingAndGlyphs" transform="rotate(-90 1282.0 1376.8)">12/30/16</text>
<text x="1349.3" y="1376.8" font-size="32" text-anchor="start" fill="#595959" stroke="#595959" stroke-width="0.5" textLength="125.3" lengthAdjust="spacingAndGlyphs" transform="rotate(-90 1349.3 1376.8)">12/30/17</text>
<text x="1416.7" y="1376.8" font-size="32" text-anchor="start" fill="#595959" stroke="#595959" stroke-width="0.5" textLength="125.3" lengthAdjust="spacingAndGlyphs" transform="rotate(-90 1416.7 1376.8)">12/30/18</text>
<text x="1484.0" y="1376.8" font-size="32" text-anchor="start" fill="#595959" stroke="#595959" stroke-width="0.5" textLength="125.3" lengthAdjust="spacingAndGlyphs" transform="rotate(-90 1484.0 1376.8)">12/31/19</text>
<text x="1551.4" y="1376.8" font-size="32" text-anchor="start" fill="#595959" stroke="#595959" stroke-width="0.5" textLength="125.3" lengthAdjust="spacingAndGlyphs" transform="rotate(-90 1551.4 1376.8)">12/30/20</text>
<text x="1618.7" y="1376.8" font-size="32" text-anchor="start" fill="#595959" stroke="#595959" stroke-width="0.5" textLength="125.3" lengthAdjust="spacingAndGlyphs" transform="rotate(-90 1618.7 1376.8)">12/30/21</text>
<text x="1686.1" y="1376.8" font-size="32" text-anchor="start" fill="#595959" stroke="#595959" stroke-width="0.5" textLength="125.3" lengthAdjust="spacingAndGlyphs" transform="rotate(-90 1686.1 1376.8)">12/30/22</text>
<text x="1753.4" y="1376.8" font-size="32" text-anchor="start" fill="#595959" stroke="#595959" stroke-width="0.5" textLength="125.3" lengthAdjust="spacingAndGlyphs" transform="rotate(-90 1753.4 1376.8)">12/31/23</text>
<text x="1820.8" y="1376.8" font-size="32" text-anchor="start" fill="#595959" stroke="#595959" stroke-width="0.5" textLength="125.3" lengthAdjust="spacingAndGlyphs" transform="rotate(-90 1820.8 1376.8)">12/30/24</text>
<text x="1888.1" y="1376.8" font-size="32" text-anchor="start" fill="#595959" stroke="#595959" stroke-width="0.5" textLength="125.3" lengthAdjust="spacingAndGlyphs" transform="rotate(-90 1888.1 1376.8)">12/30/25</text>
<text x="960.9" y="817.1" font-size="48" text-anchor="middle" fill="#595959" stroke="#595959" stroke-width="0.5" textLength="772.6" lengthAdjust="spacingAndGlyphs">Rolling Geometric CAGR Price Return</text>
<line x1="550.8" y1="1417.7" x2="620.7" y2="1417.7" stroke="#A6A6A6" stroke-width="1.6" stroke-linecap="round"/>
<text x="629.5" y="1427.0" font-size="32" text-anchor="start" fill="#595959" stroke="#595959" stroke-width="0.5" textLength="52.2" lengthAdjust="spacingAndGlyphs">1-yr</text>
<line x1="718.1" y1="1417.7" x2="787.5" y2="1417.7" stroke="#00B050" stroke-width="4.5" stroke-linecap="round"/>
<text x="796.2" y="1427.0" font-size="32" text-anchor="start" fill="#595959" stroke="#595959" stroke-width="0.5" textLength="52.3" lengthAdjust="spacingAndGlyphs">3-yr</text>
<line x1="884.9" y1="1417.7" x2="954.8" y2="1417.7" stroke="#0070C0" stroke-width="4.5" stroke-linecap="round"/>
<text x="964.0" y="1427.0" font-size="32" text-anchor="start" fill="#595959" stroke="#595959" stroke-width="0.5" textLength="52.2" lengthAdjust="spacingAndGlyphs">5-yr</text>
<line x1="1052.7" y1="1417.7" x2="1122.0" y2="1417.7" stroke="#FF38FF" stroke-width="4.5" stroke-linecap="round"/>
<text x="1131.3" y="1427.0" font-size="32" text-anchor="start" fill="#595959" stroke="#595959" stroke-width="0.5" textLength="67.7" lengthAdjust="spacingAndGlyphs">10-yr</text>
<line x1="1236.5" y1="1417.7" x2="1305.3" y2="1417.7" stroke="#FF0000" stroke-width="6.5" stroke-linecap="round"/>
<text x="1315.0" y="1427.0" font-size="32" text-anchor="start" fill="#595959" stroke="#595959" stroke-width="0.5" textLength="67.9" lengthAdjust="spacingAndGlyphs">15-yr</text>
<line x1="126.80" y1="1615.90" x2="1822.70" y2="1615.90" stroke="#D9D9D9" stroke-width="2"/>
<line x1="126.80" y1="1682.94" x2="1822.70" y2="1682.94" stroke="#D9D9D9" stroke-width="2"/>
<line x1="126.80" y1="1749.99" x2="1822.70" y2="1749.99" stroke="#D9D9D9" stroke-width="2"/>
<line x1="126.80" y1="1817.03" x2="1822.70" y2="1817.03" stroke="#D9D9D9" stroke-width="2"/>
<line x1="126.80" y1="1884.07" x2="1822.70" y2="1884.07" stroke="#BFBFBF" stroke-width="2"/>
<line x1="126.80" y1="1951.11" x2="1822.70" y2="1951.11" stroke="#D9D9D9" stroke-width="2"/>
<line x1="126.80" y1="2018.16" x2="1822.70" y2="2018.16" stroke="#D9D9D9" stroke-width="2"/>
<line x1="126.80" y1="2085.20" x2="1822.70" y2="2085.20" stroke="#D9D9D9" stroke-width="2"/>
<line x1="126.80" y1="1614.90" x2="126.80" y2="2086.20" stroke="#BFBFBF" stroke-width="2"/>
<line x1="330.31" y1="1614.90" x2="330.31" y2="2086.20" stroke="#D9D9D9" stroke-width="2"/>
<line x1="533.82" y1="1614.90" x2="533.82" y2="2086.20" stroke="#D9D9D9" stroke-width="2"/>
<line x1="737.32" y1="1614.90" x2="737.32" y2="2086.20" stroke="#D9D9D9" stroke-width="2"/>
<line x1="940.83" y1="1614.90" x2="940.83" y2="2086.20" stroke="#D9D9D9" stroke-width="2"/>
<line x1="1144.34" y1="1614.90" x2="1144.34" y2="2086.20" stroke="#D9D9D9" stroke-width="2"/>
<line x1="1347.85" y1="1614.90" x2="1347.85" y2="2086.20" stroke="#D9D9D9" stroke-width="2"/>
<line x1="1551.36" y1="1614.90" x2="1551.36" y2="2086.20" stroke="#D9D9D9" stroke-width="2"/>
<line x1="1754.86" y1="1614.90" x2="1754.86" y2="2086.20" stroke="#D9D9D9" stroke-width="2"/>
<line x1="1822.70" y1="1614.90" x2="1822.70" y2="2086.20" stroke="#BFBFBF" stroke-width="2"/>
<line x1="1822.70" y1="1615.90" x2="1834.20" y2="1615.90" stroke="#BFBFBF" stroke-width="2"/>
<line x1="1822.70" y1="1668.04" x2="1834.20" y2="1668.04" stroke="#BFBFBF" stroke-width="2"/>
<line x1="1822.70" y1="1720.19" x2="1834.20" y2="1720.19" stroke="#BFBFBF" stroke-width="2"/>
<line x1="1822.70" y1="1772.33" x2="1834.20" y2="1772.33" stroke="#BFBFBF" stroke-width="2"/>
<line x1="1822.70" y1="1824.48" x2="1834.20" y2="1824.48" stroke="#BFBFBF" stroke-width="2"/>
<line x1="1822.70" y1="1876.62" x2="1834.20" y2="1876.62" stroke="#BFBFBF" stroke-width="2"/>
<line x1="1822.70" y1="1928.77" x2="1834.20" y2="1928.77" stroke="#BFBFBF" stroke-width="2"/>
<line x1="1822.70" y1="1980.91" x2="1834.20" y2="1980.91" stroke="#BFBFBF" stroke-width="2"/>
<line x1="1822.70" y1="2033.06" x2="1834.20" y2="2033.06" stroke="#BFBFBF" stroke-width="2"/>
<line x1="1822.70" y1="2085.20" x2="1834.20" y2="2085.20" stroke="#BFBFBF" stroke-width="2"/>
<text x="95.2" y="1624.3" font-size="32" text-anchor="end" fill="#595959" stroke="#595959" stroke-width="0.5" textLength="57.6" lengthAdjust="spacingAndGlyphs">80%</text>
<text x="95.2" y="1691.3" font-size="32" text-anchor="end" fill="#595959" stroke="#595959" stroke-width="0.5" textLength="57.6" lengthAdjust="spacingAndGlyphs">60%</text>
<text x="95.2" y="1758.4" font-size="32" text-anchor="end" fill="#595959" stroke="#595959" stroke-width="0.5" textLength="57.6" lengthAdjust="spacingAndGlyphs">40%</text>
<text x="95.2" y="1825.4" font-size="32" text-anchor="end" fill="#595959" stroke="#595959" stroke-width="0.5" textLength="57.6" lengthAdjust="spacingAndGlyphs">20%</text>
<text x="95.2" y="1892.5" font-size="32" text-anchor="end" fill="#595959" stroke="#595959" stroke-width="0.5" textLength="41.2" lengthAdjust="spacingAndGlyphs">0%</text>
<text x="95.2" y="1959.5" font-size="32" text-anchor="end" fill="#595959" stroke="#595959" stroke-width="0.5" textLength="67.9" lengthAdjust="spacingAndGlyphs">-20%</text>
<text x="95.2" y="2026.6" font-size="32" text-anchor="end" fill="#595959" stroke="#595959" stroke-width="0.5" textLength="67.9" lengthAdjust="spacingAndGlyphs">-40%</text>
<text x="95.2" y="2093.6" font-size="32" text-anchor="end" fill="#595959" stroke="#595959" stroke-width="0.5" textLength="67.9" lengthAdjust="spacingAndGlyphs">-60%</text>
<text x="1853.7" y="1624.7" font-size="32" text-anchor="start" fill="#595959" stroke="#595959" stroke-width="0.5" textLength="39.4" lengthAdjust="spacingAndGlyphs">2%</text>
<text x="1853.7" y="1676.8" font-size="32" text-anchor="start" fill="#595959" stroke="#595959" stroke-width="0.5" textLength="39.4" lengthAdjust="spacingAndGlyphs">2%</text>
<text x="1853.7" y="1729.0" font-size="32" text-anchor="start" fill="#595959" stroke="#595959" stroke-width="0.5" textLength="39.4" lengthAdjust="spacingAndGlyphs">1%</text>
<text x="1853.7" y="1781.1" font-size="32" text-anchor="start" fill="#595959" stroke="#595959" stroke-width="0.5" textLength="39.4" lengthAdjust="spacingAndGlyphs">1%</text>
<text x="1853.7" y="1833.3" font-size="32" text-anchor="start" fill="#595959" stroke="#595959" stroke-width="0.5" textLength="39.4" lengthAdjust="spacingAndGlyphs">1%</text>
<text x="1853.7" y="1885.4" font-size="32" text-anchor="start" fill="#595959" stroke="#595959" stroke-width="0.5" textLength="39.4" lengthAdjust="spacingAndGlyphs">1%</text>
<text x="1853.7" y="1937.6" font-size="32" text-anchor="start" fill="#595959" stroke="#595959" stroke-width="0.5" textLength="39.4" lengthAdjust="spacingAndGlyphs">1%</text>
<text x="1853.7" y="1989.7" font-size="32" text-anchor="start" fill="#595959" stroke="#595959" stroke-width="0.5" textLength="39.4" lengthAdjust="spacingAndGlyphs">0%</text>
<text x="1853.7" y="2041.9" font-size="32" text-anchor="start" fill="#595959" stroke="#595959" stroke-width="0.5" textLength="39.4" lengthAdjust="spacingAndGlyphs">0%</text>
<text x="1853.7" y="2094.0" font-size="32" text-anchor="start" fill="#595959" stroke="#595959" stroke-width="0.5" textLength="39.4" lengthAdjust="spacingAndGlyphs">0%</text>
<text x="126.8" y="1937.5" font-size="32" text-anchor="middle" fill="#595959" stroke="#595959" stroke-width="0.5" textLength="66.0" lengthAdjust="spacingAndGlyphs">2000</text>
<text x="330.3" y="1937.5" font-size="32" text-anchor="middle" fill="#595959" stroke="#595959" stroke-width="0.5" textLength="66.0" lengthAdjust="spacingAndGlyphs">2003</text>
<text x="533.8" y="1937.5" font-size="32" text-anchor="middle" fill="#595959" stroke="#595959" stroke-width="0.5" textLength="66.0" lengthAdjust="spacingAndGlyphs">2006</text>
<text x="737.3" y="1937.5" font-size="32" text-anchor="middle" fill="#595959" stroke="#595959" stroke-width="0.5" textLength="66.0" lengthAdjust="spacingAndGlyphs">2009</text>
<text x="940.8" y="1937.5" font-size="32" text-anchor="middle" fill="#595959" stroke="#595959" stroke-width="0.5" textLength="66.0" lengthAdjust="spacingAndGlyphs">2012</text>
<text x="1144.3" y="1937.5" font-size="32" text-anchor="middle" fill="#595959" stroke="#595959" stroke-width="0.5" textLength="66.0" lengthAdjust="spacingAndGlyphs">2015</text>
<text x="1347.8" y="1937.5" font-size="32" text-anchor="middle" fill="#595959" stroke="#595959" stroke-width="0.5" textLength="66.0" lengthAdjust="spacingAndGlyphs">2018</text>
<text x="1551.4" y="1937.5" font-size="32" text-anchor="middle" fill="#595959" stroke="#595959" stroke-width="0.5" textLength="66.0" lengthAdjust="spacingAndGlyphs">2021</text>
<text x="1754.9" y="1937.5" font-size="32" text-anchor="middle" fill="#595959" stroke="#595959" stroke-width="0.5" textLength="66.0" lengthAdjust="spacingAndGlyphs">2024</text>
<polyline points="126.8,2013.6 194.6,1975.0 262.5,2015.4 330.3,1737.5 398.1,1847.5 466.0,1875.0 533.8,1867.9 601.7,1821.4 669.5,2021.4 737.3,1722.5 805.2,1822.1 873.0,1877.5 940.8,1830.4 1008.7,1775.0 1076.5,1816.1 1144.3,1851.1 1212.2,1852.5 1280.0,1778.6 1347.8,1891.1 1415.7,1754.6 1483.5,1730.4 1551.4,1785.0 1619.2,1995.4 1687.0,1697.1 1754.9,1791.8 1822.7,1814.3" fill="none" stroke="#FF0000" stroke-width="3.5" stroke-linejoin="round" stroke-linecap="round"/>
<polyline points="126.8,2085.7 194.6,2085.7 262.5,2085.7 330.3,2071.4 398.1,1813.2 466.0,1995.4 533.8,2002.1 601.7,1998.9 669.5,2014.3 737.3,1910.7 805.2,1833.2 873.0,1843.9 940.8,1707.9 1008.7,1739.3 1076.5,1651.1 1144.3,1806.1 1212.2,1786.4 1280.0,1802.5 1347.8,1854.3 1415.7,1818.6 1483.5,1923.2 1551.4,1942.1 1619.2,1946.8 1687.0,1835.0 1754.9,1901.1 1822.7,1942.1" fill="none" stroke="#000" stroke-width="3.9" stroke-linejoin="round" stroke-linecap="round"/>
<text x="959.8" y="1555.7" font-size="48" text-anchor="middle" fill="#595959" stroke="#595959" stroke-width="0.5" textLength="414.0" lengthAdjust="spacingAndGlyphs">Annual Price Return</text>
<line x1="685.1" y1="2156.7" x2="756.3" y2="2156.7" stroke="#FF0000" stroke-width="3.2" stroke-linecap="round"/>
<text x="763.8" y="2164.7" font-size="32" text-anchor="start" fill="#595959" stroke="#595959" stroke-width="0.5" textLength="166.8" lengthAdjust="spacingAndGlyphs">Total Return</text>
<line x1="978.4" y1="2156.7" x2="1048.5" y2="2156.7" stroke="#000" stroke-width="3.6" stroke-linecap="round"/>
<text x="1056.6" y="2164.7" font-size="32" text-anchor="start" fill="#595959" stroke="#595959" stroke-width="0.5" textLength="192.8" lengthAdjust="spacingAndGlyphs">Dividend Yield</text>
</svg>
</body></html>
